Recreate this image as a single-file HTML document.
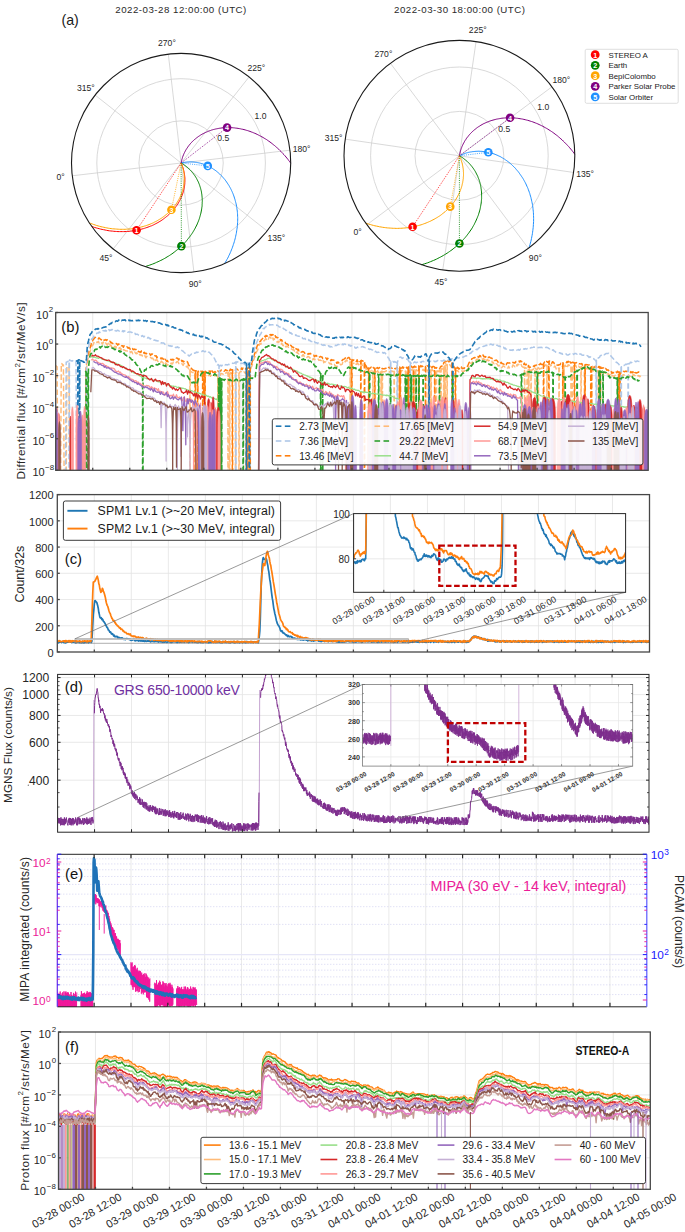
<!DOCTYPE html>
<html><head><meta charset="utf-8"><style>
html,body{margin:0;padding:0;background:#fff;}
svg{display:block;}
text{font-family:"Liberation Sans", sans-serif;}
</style></head><body>
<svg width="685" height="1232" viewBox="0 0 685 1232">
<rect x="0" y="0" width="685" height="1232" fill="#fff"/>
<text x="180.80" y="9.60" font-size="9.7" text-anchor="middle" fill="#2a2a2a" dominant-baseline="central" textLength="131" lengthAdjust="spacing">2022-03-28 12:00:00 (UTC)</text>
<text x="459.50" y="9.60" font-size="9.7" text-anchor="middle" fill="#2a2a2a" dominant-baseline="central" textLength="131" lengthAdjust="spacing">2022-03-30 18:00:00 (UTC)</text>
<text x="61.50" y="19.60" font-size="14.2" text-anchor="start" fill="#1a1a1a" dominant-baseline="central">(a)</text>
<circle cx="181.1" cy="163.0" r="42.15" fill="none" stroke="#cfcfcf" stroke-width="0.8"/>
<circle cx="181.1" cy="163.0" r="84.30" fill="none" stroke="#cfcfcf" stroke-width="0.8"/>
<line x1="181.10" y1="163.00" x2="72.25" y2="175.79" stroke="#cfcfcf" stroke-width="0.8"/>
<line x1="181.10" y1="163.00" x2="113.17" y2="249.01" stroke="#cfcfcf" stroke-width="0.8"/>
<line x1="181.10" y1="163.00" x2="193.89" y2="271.85" stroke="#cfcfcf" stroke-width="0.8"/>
<line x1="181.10" y1="163.00" x2="267.11" y2="230.93" stroke="#cfcfcf" stroke-width="0.8"/>
<line x1="181.10" y1="163.00" x2="289.95" y2="150.21" stroke="#cfcfcf" stroke-width="0.8"/>
<line x1="181.10" y1="163.00" x2="249.03" y2="76.99" stroke="#cfcfcf" stroke-width="0.8"/>
<line x1="181.10" y1="163.00" x2="168.31" y2="54.15" stroke="#cfcfcf" stroke-width="0.8"/>
<line x1="181.10" y1="163.00" x2="95.09" y2="95.07" stroke="#cfcfcf" stroke-width="0.8"/>
<path d="M181.1 163l.9-.2 .9-.2 .9-.1 .9-.2 .9-.1 .9-.1 .9-.1 .9 0 1-.1 .9 0 .9 0 .9 .1 .9 0 1 .1 .9 .1 .9 .1 .9 .1 .9 .2 1 .2 .9 .2 .9 .2 .9 .3 .9 .2 .9 .3 .9 .3 .9 .3 .9 .4 .9 .4 .8 .4 .9 .4 .9 .4 .8 .4 .9 .5 .8 .5 .9 .5 .8 .6 .8 .5 .9 .6 .8 .6 .8 .6 .7 .6 .8 .7 .8 .7 .7 .6 .8 .8 .7 .7 .7 .7 .7 .8 .7 .8 .7 .8 .7 .8 .6 .8 .7 .9 .6 .9 .6 .9 .6 .9 .6 .9 .6 .9 .5 1 .6 1 .5 .9 .5 1 .5 1.1 .5 1 .4 1 .5 1.1 .4 1.1 .4 1.1 .4 1.1 .3 1.1 .4 1.1 .3 1.2 .3 1.1 .3 1.2 .3 1.1 .2 1.2 .3 1.2 .2 1.3 .1 1.2 .2 1.2 .2 1.2 .1 1.3 .1 1.3 .1 1.2 0 1.3 .1 1.3 0 1.3 0 1.3-.1 1.3 0 1.3-.1 1.3-.1 1.4-.1 1.3-.2 1.4-.2 1.3-.2 1.4-.2 1.3-.2 1.4-.3 1.3-.3 1.4-.3 1.4-.3 1.3-.4 1.4-.4 1.4-.4 1.4-.5 1.3-.4 1.4-.5 1.4-.5 1.4-.6 1.3-.5 1.4-.6 1.4-.6 1.4-.7 1.3-.6 1.4-.7 1.4-.8 1.3-.7 1.4-.8 1.3-.8 1.4" fill="none" stroke="#1e90ff" stroke-width="1.0" stroke-linejoin="round"/>
<path d="M181.1 163l.2-.9 .2-.9 .2-.9 .2-.9 .3-.8 .2-.9 .3-.9 .3-.8 .4-.9 .3-.8 .4-.9 .4-.8 .4-.8 .5-.9 .4-.8 .5-.8 .5-.8 .5-.7 .5-.8 .6-.8 .5-.7 .6-.7 .6-.8 .6-.7 .7-.7 .6-.7 .7-.7 .7-.6 .7-.7 .7-.6 .8-.6 .7-.6 .8-.6 .8-.6 .8-.6 .8-.5 .9-.6 .8-.5 .9-.5 .9-.5 .8-.4 1-.5 .9-.4 .9-.4 1-.4 .9-.4 1-.4 1-.3 1-.4 1-.3 1-.3 1-.2 1.1-.3 1-.2 1.1-.2 1-.2 1.1-.2 1.1-.1 1.1-.2 1.1-.1 1.1-.1 1.1 0 1.2-.1 1.1 0 1.2 0 1.1 0 1.2 .1 1.1 0 1.2 .1 1.1 .1 1.2 .2 1.2 .1 1.2 .2 1.2 .2 1.2 .2 1.1 .3 1.2 .2 1.2 .3 1.2 .3 1.2 .4 1.2 .3 1.2 .4 1.2 .4 1.2 .5 1.2 .4 1.2 .5 1.2 .5 1.2 .5 1.2 .6 1.2 .6 1.1 .6 1.2 .6 1.2 .6 1.2 .7 1.1 .7 1.2 .7 1.2 .7 1.1 .8 1.1 .8 1.2 .8 1.1 .8 1.1 .9 1.1 .9 1.2 .9 1 .9 1.1 1 1.1 .9 1.1 1 1 1.1 1.1 1 1 1.1 1 1.1 1.1 1.1 1 1.1 1 1.2 .9 1.1 1 1.2 .9 1.3 1 1.2 .9 1.3" fill="none" stroke="#800080" stroke-width="1.0" stroke-linejoin="round"/>
<path d="M181.1 163l.8 .5 .8 .4 .7 .5 .8 .5 .8 .6 .7 .5 .7 .6 .7 .5 .7 .6 .7 .6 .7 .7 .6 .6 .7 .7 .6 .7 .6 .6 .6 .8 .6 .7 .6 .7 .5 .8 .6 .7 .5 .8 .5 .8 .5 .8 .5 .8 .4 .9 .4 .8 .5 .9 .4 .8 .4 .9 .3 .9 .4 .9 .3 .9 .3 1 .3 .9 .3 1 .2 .9 .3 1 .2 .9 .2 1 .1 1 .2 1 .1 1 .1 1 .1 1.1 .1 1 0 1 .1 1 0 1.1-.1 1 0 1.1-.1 1.1 0 1-.1 1.1-.2 1-.1 1.1-.2 1.1-.2 1.1-.2 1-.2 1.1-.3 1.1-.3 1.1-.3 1.1-.3 1-.3 1.1-.4 1.1-.4 1.1-.4 1.1-.5 1-.4 1.1-.5 1.1-.5 1-.6 1.1-.5 1.1-.6 1-.6 1.1-.6 1-.6 1-.7 1.1-.7 1-.7 1-.7 1-.8 1-.8 1-.8 1-.8 1-.8 1-.9 1-.9 .9-.9 .9-.9 1-1 .9-1 .9-1 .9-1 .9-1 .9-1.1 .8-1.1 .9-1 .8-1.2 .9-1.1 .8-1.2 .8-1.1 .7-1.2 .8-1.3 .7-1.2 .8-1.2 .7-1.3 .7-1.3 .7-1.3 .6-1.4 .7-1.3 .6-1.4 .6-1.3 .6-1.4 .6-1.5 .6-1.4 .5-1.4 .5-1.5 .5-1.5 .5-1.5 .5" fill="none" stroke="#008000" stroke-width="1.0" stroke-linejoin="round"/>
<path d="M181.1 163l.4 .8 .3 .9 .4 .8 .3 .9 .3 .8 .3 .9 .3 .9 .2 .9 .2 .9 .2 .9 .2 .9 .2 .9 .1 .9 .1 .9 .1 .9 .1 .9 .1 1 0 .9 0 .9 0 1 0 .9-.1 .9 0 1-.1 .9-.1 1-.2 .9-.1 1-.2 .9-.2 .9-.2 1-.3 .9-.2 1-.3 .9-.3 .9-.4 .9-.3 1-.4 .9-.4 .9-.4 .9-.4 .9-.5 .9-.5 .9-.5 .9-.5 .9-.5 .9-.6 .8-.6 .9-.6 .8-.6 .9-.6 .8-.7 .8-.7 .9-.7 .8-.7 .8-.7 .8-.8 .7-.8 .8-.8 .8-.8 .7-.8 .7-.9 .7-.9 .7-.9 .7-.9 .7-.9 .7-.9 .6-1 .7-1 .6-1 .6-1 .6-1 .5-1.1 .6-1 .5-1.1 .6-1.1 .5-1.1 .5-1.2 .4-1.1 .5-1.2 .4-1.1 .4-1.2 .4-1.2 .4-1.2 .4-1.3 .3-1.2 .3-1.3 .3-1.2 .3-1.3 .3-1.3 .2-1.3 .2-1.3 .2-1.3 .2-1.3 .2-1.4 .1-1.3 .1-1.4 .1-1.4 .1-1.4 0-1.3 0-1.4 0-1.4 0-1.5 0-1.4-.1-1.4-.1-1.4-.1-1.5-.2-1.4-.1-1.5-.2-1.4-.2-1.5-.3-1.4-.3-1.5-.3-1.5-.3-1.4-.3-1.5-.4-1.5-.4-1.5-.4-1.5-.4-1.4-.5-1.5-.5" fill="none" stroke="#ff0000" stroke-width="1.0" stroke-linejoin="round"/>
<path d="M181.1 163l.3 .8 .4 .9 .3 .9 .3 .8 .2 .9 .3 .9 .2 .9 .2 .9 .2 .9 .2 .9 .1 .9 .2 .9 .1 .9 0 .9 .1 .9 0 1 .1 .9 0 .9-.1 1 0 .9-.1 .9 0 1-.2 .9-.1 .9-.1 1-.2 .9-.2 1-.2 .9-.3 .9-.2 1-.3 .9-.3 .9-.3 .9-.4 .9-.3 1-.4 .9-.4 .9-.4 .9-.5 .9-.5 .9-.4 .8-.6 .9-.5 .9-.5 .8-.6 .9-.6 .8-.6 .9-.7 .8-.6 .8-.7 .8-.7 .8-.7 .8-.7 .8-.8 .8-.8 .7-.7 .8-.9 .7-.8 .7-.8 .7-.9 .7-.9 .7-.9 .7-.9 .6-.9 .7-1 .6-1 .6-1 .6-1 .6-1 .6-1 .5-1.1 .5-1 .6-1.1 .5-1.1 .4-1.1 .5-1.2 .5-1.1 .4-1.2 .4-1.2 .4-1.1 .3-1.2 .4-1.3 .3-1.2 .3-1.2 .3-1.3 .3-1.2 .3-1.3 .2-1.3 .2-1.3 .2-1.3 .2-1.3 .1-1.3 .1-1.4 .1-1.3 .1-1.4 .1-1.3 0-1.4 0-1.4 0-1.4 0-1.4-.1-1.4-.1-1.4-.1-1.4-.1-1.4-.1-1.5-.2-1.4-.2-1.4-.2-1.5-.3-1.4-.3-1.5-.3-1.4-.3-1.5-.3-1.4-.4-1.5-.4-1.4-.4-1.5-.5-1.5-.5-1.4-.5-1.5-.5-1.4-.6" fill="none" stroke="#ffa500" stroke-width="1.0" stroke-linejoin="round"/>
<line x1="181.10" y1="163.00" x2="207.75" y2="165.90" stroke="#1e90ff" stroke-width="0.8" stroke-dasharray="1,1.2"/>
<line x1="181.10" y1="163.00" x2="227.05" y2="127.61" stroke="#800080" stroke-width="0.8" stroke-dasharray="1,1.2"/>
<line x1="181.10" y1="163.00" x2="181.39" y2="246.12" stroke="#008000" stroke-width="0.8" stroke-dasharray="1,1.2"/>
<line x1="181.10" y1="163.00" x2="136.57" y2="230.27" stroke="#ff0000" stroke-width="0.8" stroke-dasharray="1,1.2"/>
<line x1="181.10" y1="163.00" x2="171.42" y2="209.72" stroke="#ffa500" stroke-width="0.8" stroke-dasharray="1,1.2"/>
<circle cx="181.1" cy="163.0" r="109.6" fill="none" stroke="#1a1a1a" stroke-width="1.1"/>
<circle cx="207.75" cy="165.90" r="4.3" fill="#1e90ff"/>
<text x="207.75" y="166.20" font-size="7.2" text-anchor="middle" fill="#fff" dominant-baseline="central" font-weight="bold">5</text>
<circle cx="227.05" cy="127.61" r="4.3" fill="#800080"/>
<text x="227.05" y="127.91" font-size="7.2" text-anchor="middle" fill="#fff" dominant-baseline="central" font-weight="bold">4</text>
<circle cx="181.39" cy="246.12" r="4.3" fill="#008000"/>
<text x="181.39" y="246.42" font-size="7.2" text-anchor="middle" fill="#fff" dominant-baseline="central" font-weight="bold">2</text>
<circle cx="171.42" cy="209.72" r="4.3" fill="#ffa500"/>
<text x="171.42" y="210.02" font-size="7.2" text-anchor="middle" fill="#fff" dominant-baseline="central" font-weight="bold">3</text>
<circle cx="136.57" cy="230.27" r="4.3" fill="#ff0000"/>
<text x="136.57" y="230.57" font-size="7.2" text-anchor="middle" fill="#fff" dominant-baseline="central" font-weight="bold">1</text>
<text x="60.63" y="177.45" font-size="8.6" text-anchor="middle" fill="#262626" dominant-baseline="central">0°</text>
<text x="105.92" y="258.49" font-size="8.6" text-anchor="middle" fill="#262626" dominant-baseline="central">45°</text>
<text x="195.25" y="283.77" font-size="8.6" text-anchor="middle" fill="#262626" dominant-baseline="central">90°</text>
<text x="276.29" y="238.48" font-size="8.6" text-anchor="middle" fill="#262626" dominant-baseline="central">135°</text>
<text x="301.57" y="149.15" font-size="8.6" text-anchor="middle" fill="#262626" dominant-baseline="central">180°</text>
<text x="256.28" y="68.11" font-size="8.6" text-anchor="middle" fill="#262626" dominant-baseline="central">225°</text>
<text x="166.95" y="42.83" font-size="8.6" text-anchor="middle" fill="#262626" dominant-baseline="central">270°</text>
<text x="85.91" y="88.12" font-size="8.6" text-anchor="middle" fill="#262626" dominant-baseline="central">315°</text>
<text x="223.30" y="137.90" font-size="8.6" text-anchor="middle" fill="#262626" dominant-baseline="central">0.5</text>
<text x="260.50" y="116.30" font-size="8.6" text-anchor="middle" fill="#262626" dominant-baseline="central">1.0</text>
<circle cx="459.4" cy="155.8" r="44.40" fill="none" stroke="#cfcfcf" stroke-width="0.8"/>
<circle cx="459.4" cy="155.8" r="88.80" fill="none" stroke="#cfcfcf" stroke-width="0.8"/>
<line x1="459.40" y1="155.80" x2="366.88" y2="224.77" stroke="#cfcfcf" stroke-width="0.8"/>
<line x1="459.40" y1="155.80" x2="442.74" y2="269.99" stroke="#cfcfcf" stroke-width="0.8"/>
<line x1="459.40" y1="155.80" x2="528.37" y2="248.32" stroke="#cfcfcf" stroke-width="0.8"/>
<line x1="459.40" y1="155.80" x2="573.59" y2="172.46" stroke="#cfcfcf" stroke-width="0.8"/>
<line x1="459.40" y1="155.80" x2="551.92" y2="86.83" stroke="#cfcfcf" stroke-width="0.8"/>
<line x1="459.40" y1="155.80" x2="476.06" y2="41.61" stroke="#cfcfcf" stroke-width="0.8"/>
<line x1="459.40" y1="155.80" x2="390.43" y2="63.28" stroke="#cfcfcf" stroke-width="0.8"/>
<line x1="459.40" y1="155.80" x2="345.21" y2="139.14" stroke="#cfcfcf" stroke-width="0.8"/>
<path d="M459.4 155.8l.9-.4 .8-.4 .9-.4 .9-.4 .9-.3 .9-.4 .9-.3 .9-.3 1-.2 .9-.3 1-.2 .9-.2 1-.1 .9-.2 1-.1 1-.1 .9-.1 1-.1 1 0 1-.1 1 0 1 .1 1 0 1 .1 1 .1 1 .1 .9 .1 1 .2 1 .1 1 .2 1 .3 1 .2 1 .3 1 .3 1 .3 1 .3 1 .4 .9 .4 1 .4 1 .4 .9 .5 1 .4 1 .5 .9 .6 .9 .5 1 .6 .9 .5 .9 .7 .9 .6 .9 .6 .9 .7 .9 .7 .9 .7 .8 .7 .9 .8 .8 .8 .8 .8 .9 .8 .8 .8 .8 .9 .7 .9 .8 .9 .8 .9 .7 .9 .7 1 .7 1 .7 1 .7 1 .7 1 .7 1.1 .6 1 .6 1.1 .6 1.1 .6 1.1 .6 1.2 .5 1.1 .5 1.2 .6 1.2 .5 1.2 .4 1.2 .5 1.2 .4 1.3 .5 1.3 .3 1.2 .4 1.3 .4 1.3 .3 1.4 .3 1.3 .3 1.4 .3 1.3 .3 1.4 .2 1.4 .2 1.4 .2 1.4 .1 1.4 .2 1.4 .1 1.5 .1 1.4 0 1.5 .1 1.5 0 1.4 0 1.5 0 1.5-.1 1.5-.1 1.5-.1 1.6-.1 1.5-.2 1.5-.2 1.6-.2 1.5-.2 1.5-.3 1.6-.3 1.6-.3 1.5-.3 1.6-.4 1.6-.4 1.5-.4 1.6-.5 1.6-.4 1.5" fill="none" stroke="#1e90ff" stroke-width="1.0" stroke-linejoin="round"/>
<path d="M459.4 155.8l.2-.9 .2-1 .2-.9 .2-1 .2-.9 .3-.9 .3-.9 .3-.9 .4-1 .3-.9 .4-.8 .4-.9 .4-.9 .5-.9 .5-.8 .4-.9 .5-.8 .6-.8 .5-.9 .6-.8 .6-.8 .6-.7 .6-.8 .6-.8 .7-.7 .7-.8 .7-.7 .7-.7 .7-.7 .8-.7 .8-.7 .8-.6 .8-.6 .8-.7 .8-.6 .9-.6 .9-.5 .8-.6 .9-.5 1-.6 .9-.5 .9-.5 1-.4 1-.5 1-.4 1-.4 1-.4 1-.4 1.1-.4 1-.3 1.1-.3 1.1-.3 1.1-.3 1.1-.3 1.1-.2 1.1-.2 1.2-.2 1.1-.2 1.1-.2 1.2-.1 1.2-.1 1.2-.1 1.1-.1 1.2 0 1.2 0 1.3 0 1.2 0 1.2 .1 1.2 0 1.3 .1 1.2 .2 1.2 .1 1.3 .2 1.2 .2 1.3 .2 1.2 .2 1.3 .3 1.3 .3 1.2 .3 1.3 .3 1.3 .4 1.2 .4 1.3 .4 1.3 .4 1.2 .5 1.3 .5 1.3 .5 1.2 .5 1.3 .6 1.2 .6 1.3 .6 1.3 .6 1.2 .7 1.2 .7 1.3 .7 1.2 .7 1.2 .8 1.3 .8 1.2 .8 1.2 .8 1.2 .9 1.2 .9 1.2 .9 1.2 .9 1.1 1 1.2 1 1.1 1 1.2 1 1.1 1.1 1.1 1.1 1.1 1.1 1.1 1.1 1.1 1.2 1.1 1.1 1 1.2 1.1 1.3 1 1.2 1 1.3 1 1.3 1 1.3" fill="none" stroke="#800080" stroke-width="1.0" stroke-linejoin="round"/>
<path d="M459.4 155.8l.8 .5 .9 .5 .8 .5 .8 .5 .8 .6 .7 .6 .8 .6 .7 .6 .8 .6 .7 .6 .7 .7 .7 .7 .7 .7 .6 .7 .7 .7 .6 .8 .6 .7 .6 .8 .6 .8 .6 .8 .5 .8 .6 .9 .5 .8 .5 .9 .4 .9 .5 .9 .4 .9 .5 .9 .4 .9 .3 1 .4 .9 .4 1 .3 .9 .3 1 .3 1 .2 1 .3 1.1 .2 1 .2 1 .2 1.1 .1 1 .2 1.1 .1 1 .1 1.1 .1 1.1 0 1.1 0 1.1 0 1.1 0 1.1 0 1.1-.1 1.1-.1 1.1-.1 1.1-.1 1.2-.2 1.1-.2 1.1-.2 1.2-.2 1.1-.2 1.1-.3 1.2-.3 1.1-.3 1.1-.4 1.2-.3 1.1-.4 1.2-.5 1.1-.4 1.1-.5 1.1-.5 1.2-.5 1.1-.5 1.1-.6 1.1-.5 1.2-.7 1.1-.6 1.1-.6 1.1-.7 1.1-.7 1.1-.8 1-.7 1.1-.8 1.1-.8 1-.8 1.1-.8 1-.9 1.1-.9 1-.9 1-1 1-.9 1-1 1-1 .9-1 1-1.1 .9-1 1-1.1 .9-1.2 .9-1.1 .9-1.1 .9-1.2 .8-1.2 .9-1.2 .8-1.3 .9-1.3 .8-1.2 .7-1.3 .8-1.4 .8-1.3 .7-1.4 .7-1.3 .7-1.4 .7-1.5 .7-1.4 .6-1.5 .6-1.4 .6-1.5 .6-1.5 .6-1.6 .5-1.5 .5-1.6 .5-1.5 .5" fill="none" stroke="#008000" stroke-width="1.0" stroke-linejoin="round"/>
<path d="M459.4 155.8l.4 .9 .4 .9 .4 .8 .3 .9 .3 1 .3 .9 .3 .9 .3 .9 .2 1 .2 .9 .2 .9 .2 1 .1 1 .2 .9 .1 1 .1 1 0 .9 .1 1 0 1 0 1 0 1-.1 1-.1 1 0 1-.2 1-.1 1-.2 .9-.1 1-.3 1-.2 1-.2 1-.3 1-.3 1-.3 1-.4 .9-.3 1-.4 1-.4 1-.5 .9-.4 1-.5 .9-.5 1-.5 .9-.5 .9-.6 1-.6 .9-.6 .9-.6 .9-.7 .9-.7 .9-.7 .8-.7 .9-.7 .9-.8 .8-.7 .8-.8 .8-.9 .9-.8 .8-.9 .7-.8 .8-.9 .8-1 .7-.9 .7-.9 .8-1 .7-1 .7-1 .6-1.1 .7-1 .6-1.1 .6-1.1 .7-1.1 .5-1.1 .6-1.1 .6-1.2 .5-1.1 .5-1.2 .5-1.2 .5-1.3 .5-1.2 .4-1.2 .5-1.3 .4-1.3 .4-1.3 .3-1.3 .4-1.3 .3-1.3 .3-1.4 .3-1.3 .2-1.4 .3-1.4 .2-1.3 .2-1.5 .1-1.4 .2-1.4 .1-1.4 .1-1.5 .1-1.4 0-1.5 .1-1.5 0-1.4-.1-1.5 0-1.5-.1-1.5-.1-1.5-.1-1.5-.1-1.6-.2-1.5-.2-1.5-.2-1.6-.3-1.5-.2-1.5-.4-1.6-.3-1.6-.3-1.5-.4-1.6-.4-1.5-.5-1.6-.4-1.6-.5-1.5-.5" fill="none" stroke="#ffa500" stroke-width="1.0" stroke-linejoin="round"/>
<line x1="459.40" y1="155.80" x2="488.32" y2="152.30" stroke="#1e90ff" stroke-width="0.8" stroke-dasharray="1,1.2"/>
<line x1="459.40" y1="155.80" x2="510.03" y2="117.78" stroke="#800080" stroke-width="0.8" stroke-dasharray="1,1.2"/>
<line x1="459.40" y1="155.80" x2="459.40" y2="243.53" stroke="#008000" stroke-width="0.8" stroke-dasharray="1,1.2"/>
<line x1="459.40" y1="155.80" x2="412.62" y2="226.75" stroke="#ff0000" stroke-width="0.8" stroke-dasharray="1,1.2"/>
<line x1="459.40" y1="155.80" x2="450.25" y2="206.66" stroke="#ffa500" stroke-width="0.8" stroke-dasharray="1,1.2"/>
<circle cx="459.4" cy="155.8" r="115.4" fill="none" stroke="#1a1a1a" stroke-width="1.1"/>
<circle cx="488.32" cy="152.30" r="4.3" fill="#1e90ff"/>
<text x="488.32" y="152.60" font-size="7.2" text-anchor="middle" fill="#fff" dominant-baseline="central" font-weight="bold">5</text>
<circle cx="510.03" cy="117.78" r="4.3" fill="#800080"/>
<text x="510.03" y="118.08" font-size="7.2" text-anchor="middle" fill="#fff" dominant-baseline="central" font-weight="bold">4</text>
<circle cx="459.40" cy="243.53" r="4.3" fill="#008000"/>
<text x="459.40" y="243.83" font-size="7.2" text-anchor="middle" fill="#fff" dominant-baseline="central" font-weight="bold">2</text>
<circle cx="450.25" cy="206.66" r="4.3" fill="#ffa500"/>
<text x="450.25" y="206.96" font-size="7.2" text-anchor="middle" fill="#fff" dominant-baseline="central" font-weight="bold">3</text>
<circle cx="412.62" cy="226.75" r="4.3" fill="#ff0000"/>
<text x="412.62" y="227.05" font-size="7.2" text-anchor="middle" fill="#fff" dominant-baseline="central" font-weight="bold">1</text>
<text x="357.49" y="232.06" font-size="8.6" text-anchor="middle" fill="#262626" dominant-baseline="central">0°</text>
<text x="441.05" y="281.87" font-size="8.6" text-anchor="middle" fill="#262626" dominant-baseline="central">45°</text>
<text x="535.36" y="258.01" font-size="8.6" text-anchor="middle" fill="#262626" dominant-baseline="central">90°</text>
<text x="585.17" y="174.45" font-size="8.6" text-anchor="middle" fill="#262626" dominant-baseline="central">135°</text>
<text x="561.31" y="80.14" font-size="8.6" text-anchor="middle" fill="#262626" dominant-baseline="central">180°</text>
<text x="477.75" y="30.33" font-size="8.6" text-anchor="middle" fill="#262626" dominant-baseline="central">225°</text>
<text x="383.44" y="54.19" font-size="8.6" text-anchor="middle" fill="#262626" dominant-baseline="central">270°</text>
<text x="333.63" y="137.75" font-size="8.6" text-anchor="middle" fill="#262626" dominant-baseline="central">315°</text>
<text x="504.30" y="129.20" font-size="8.6" text-anchor="middle" fill="#262626" dominant-baseline="central">0.5</text>
<text x="543.30" y="107.00" font-size="8.6" text-anchor="middle" fill="#262626" dominant-baseline="central">1.0</text>
<rect x="585.2" y="49.3" width="93" height="54" rx="1.5" fill="#fff" stroke="#d6d6d6" stroke-width="0.8"/>
<circle cx="595.2" cy="54.7" r="4.4" fill="#ff0000"/>
<text x="595.20" y="55.00" font-size="7.2" text-anchor="middle" fill="#fff" dominant-baseline="central" font-weight="bold">1</text>
<text x="608.40" y="55.00" font-size="7.9" text-anchor="start" fill="#1a1a1a" dominant-baseline="central">STEREO A</text>
<circle cx="595.2" cy="65.3" r="4.4" fill="#008000"/>
<text x="595.20" y="65.60" font-size="7.2" text-anchor="middle" fill="#fff" dominant-baseline="central" font-weight="bold">2</text>
<text x="608.40" y="65.60" font-size="7.9" text-anchor="start" fill="#1a1a1a" dominant-baseline="central">Earth</text>
<circle cx="595.2" cy="75.7" r="4.4" fill="#ffa500"/>
<text x="595.20" y="76.00" font-size="7.2" text-anchor="middle" fill="#fff" dominant-baseline="central" font-weight="bold">3</text>
<text x="608.40" y="76.00" font-size="7.9" text-anchor="start" fill="#1a1a1a" dominant-baseline="central">BepiColombo</text>
<circle cx="595.2" cy="86.3" r="4.4" fill="#800080"/>
<text x="595.20" y="86.60" font-size="7.2" text-anchor="middle" fill="#fff" dominant-baseline="central" font-weight="bold">4</text>
<text x="608.40" y="86.60" font-size="7.9" text-anchor="start" fill="#1a1a1a" dominant-baseline="central">Parker Solar Probe</text>
<circle cx="595.2" cy="96.8" r="4.4" fill="#1e90ff"/>
<text x="595.20" y="97.10" font-size="7.2" text-anchor="middle" fill="#fff" dominant-baseline="central" font-weight="bold">5</text>
<text x="608.40" y="97.10" font-size="7.9" text-anchor="start" fill="#1a1a1a" dominant-baseline="central">Solar Orbiter</text>
<line x1="92.73" y1="312.50" x2="92.73" y2="470.30" stroke="#e3e3e3" stroke-width="0.8"/>
<line x1="129.76" y1="312.50" x2="129.76" y2="470.30" stroke="#e3e3e3" stroke-width="0.8"/>
<line x1="166.79" y1="312.50" x2="166.79" y2="470.30" stroke="#e3e3e3" stroke-width="0.8"/>
<line x1="203.82" y1="312.50" x2="203.82" y2="470.30" stroke="#e3e3e3" stroke-width="0.8"/>
<line x1="240.86" y1="312.50" x2="240.86" y2="470.30" stroke="#e3e3e3" stroke-width="0.8"/>
<line x1="277.89" y1="312.50" x2="277.89" y2="470.30" stroke="#e3e3e3" stroke-width="0.8"/>
<line x1="314.92" y1="312.50" x2="314.92" y2="470.30" stroke="#e3e3e3" stroke-width="0.8"/>
<line x1="351.95" y1="312.50" x2="351.95" y2="470.30" stroke="#e3e3e3" stroke-width="0.8"/>
<line x1="388.98" y1="312.50" x2="388.98" y2="470.30" stroke="#e3e3e3" stroke-width="0.8"/>
<line x1="426.01" y1="312.50" x2="426.01" y2="470.30" stroke="#e3e3e3" stroke-width="0.8"/>
<line x1="463.04" y1="312.50" x2="463.04" y2="470.30" stroke="#e3e3e3" stroke-width="0.8"/>
<line x1="500.07" y1="312.50" x2="500.07" y2="470.30" stroke="#e3e3e3" stroke-width="0.8"/>
<line x1="537.11" y1="312.50" x2="537.11" y2="470.30" stroke="#e3e3e3" stroke-width="0.8"/>
<line x1="574.14" y1="312.50" x2="574.14" y2="470.30" stroke="#e3e3e3" stroke-width="0.8"/>
<line x1="611.17" y1="312.50" x2="611.17" y2="470.30" stroke="#e3e3e3" stroke-width="0.8"/>
<line x1="55.70" y1="344.06" x2="648.20" y2="344.06" stroke="#e3e3e3" stroke-width="0.8"/>
<line x1="55.70" y1="375.62" x2="648.20" y2="375.62" stroke="#e3e3e3" stroke-width="0.8"/>
<line x1="55.70" y1="407.18" x2="648.20" y2="407.18" stroke="#e3e3e3" stroke-width="0.8"/>
<line x1="55.70" y1="438.74" x2="648.20" y2="438.74" stroke="#e3e3e3" stroke-width="0.8"/>
<clipPath id="bmain"><rect x="55.7" y="312.5" width="592.5" height="157.8"/></clipPath>
<g clip-path="url(#bmain)">
<path d="M55.7 365.4l.7 1.1 .7 .1 .7 106.6 .7 .1 .7-1.3 .7-.2 .7 2 .7-110.4 .7 .3 .7 2.1 .7-.9 .7 108.9 .7-.9 .7 .4 .7-1.1 .7-105.8 .7 .8 .7-.5 .7 .8 .7 84.7 .7 19.8 .7 1.6 .7-.4 .7-.7 .7-.6 .7 2 .7-1 .7 .6 .7 .4 .7-.4 .7 .5 .7-1.3 .7 1 .7-.8 .7 1.1 .7-.1 .7-1.9 .7 .1 .7 .2 .7 1.8 .7-1.3 .7 .5 .7-61.7 .7-43.2 .7-4.6 .7-4.4 .7-3 .7-2.4 .7-1.7 .7-3 .7-1.9 .7-1.8 .7-.4 .7-1.5 .7-1.9 .7 1 .7-.1 .7-.1 .7-.6 .7 .4 .7-1.1 .7 1.7 .7-.5 .7-.6 .7-.4 .7 2.1 .7 .5 .7-2 .7 1.9 .7-.8 .7-.4 .7 .5 .7 1.3 .7 .5 .7-1.8 .7 1.7 .7-1.1 .7 1.9 .7-.6 .7 1.6 .7 .5 .7-.9 .7 1.5 .7-1.4 .7-.3 .7 1.6 .7-1.1 .7 .6 .7 .7 .7 .7 .7-.9 .7-.1 .7 2.2 .7-1.1 .7 1.7 .7 .1 .7-1 .7 .4 .7 .3 .7 .5 .7 .1 .7 .1 .7 .4 .7 1 .7-.9 .7 .1 .7 .9 .7-1 .7 .4 .7 1.8 .7-.9 .7 .3 .7-1.1 .7 1.2 .7 .6 .7-1.1 .7 1.6 .7 .2 .7-1.1 .7 1.5 .7-.1 .7 .7 .7-.6 .7 1.1 .7 .3 .7-1.5 .7 .3 .7 1.7 .7 .9 .7-1.5 .7 .7 .7 .5 .7-.4 .7 .3 .7 .1 .7 .3 .7 .8 .7-.4 .7 .4 .7 1.3 .7-1.5 .7 1.6 .7 .6 .7-.7 .7 .1 .7 1.6 .7-1 .7 .1 .7 .9 .7 .9 .7-1.2 .7 .8 .7 .3 .7 1.5 .7-.7 .7 1.2 .7-1.4 .7 .7 .7 1 .7 .6 .7-1 .7-.6 .7-.2 .7 .7 .7-1.1 .7 1.1 .7-.3 .7-1.9 .7-.1 .7 .9 .7-.6 .7 .6 .7-.9 .7-.3 .7 .6 .7 1.5 .7-1 .7 .4 .7 .4 .7 .3 .7 .2 .7 1.5 .7-1.6 .7 0 .7 2.5 .7 .1 .7 .5 .7-1 .7 1.9 .7 .9 .7-.8 .5 1.3 0 103.8 .3 0 0-103.8-.1 .9 .7 1.2 .7 .5 .7 .6 .7 .2 .7 .5 .7 0 .7 0 .2 1.1 0 98.8 .4 0 0-98.8 .1 .5 .7-.4 .7 1.5 .7-1.5 .7 2.2 .7-.5 .7 .5 .7 0 .7 0 .7-.8 .7-1.4 .7 1.8 .4-.6 0 97.5 .3 0 0-97.5 0-.8 .7 .3 .7 .9 .7-.3 .7-.3 .7 1.3 .7-.8 .7-.7 .7-.2 .7 1.4 .7-1 .7 .7 .7-1.1 .7-.4 .7 .7 .7 .6 .7-1.6 .7 1.4 .7 .2 .7-.3 .4-.8 0 98.3 .3 0 0-98.3-.1 0 0 98.3 .4 0 0-98.3-.3 .8 .7-2.1 .7 1.5 .7 .5 .7-2.1 .7 .5 .7-.1 .7 .6 .7-.4 .7 .1 .7 .7 .7-2 .7 .1 .7 .1 .7 .8 0 99.3 .3 0 0-99.3-.3-.9 .7-.2 .7 2.1 .2-1.2 0 99.5 .4 0 0-99.5 .1 .9 .7-2 .7 1 .7-.6 .7 0 .7 0 .7 .6 .7-.2 .5-.2 0 100 .3 0 0-100-.2 0 0 100 .3 0 0-100-.2-.4 .7-.5 .7 .3 .7-.6 .7 1 .5-.2 0 100.4 .3 0 0-100.4-.1 .5 .7-.9 .7-.8 .7 .2 .7 .4 .7 .5 .7 .3 .7-1 .7 1 .7-.5 .3-.4 0 101.1 .3 0 0-101.1 .1-.2 .7-.2 .2 .3 0 101.2 .4 0 0-101.2 .1-.1 .7 .5 .1-.5 0 101.3 .4 0 0-101.3-.3 0 0 101.3 .3 0 0-101.3 .2-.3 .7 .6 .7-1.5 .7-2.7 .7-1.4 .7-1.8 .7-3.6 .7-1.3 .7-2.1 .7-1.1 .7-1.9 .7-3.1 .7-.5 .7-2 .7-3.1 .7-1.1 .7-1.5 .7 1 .7-1.1 .7-.1 .7-.9 .7-1 .7-.5 .7-.9 .7-1.3 .7 .9 .7-1.6 .7 .1 .7 1.2 .7-2 .7-.1 .7 .3 .7 2.1 .7-1.4 .7-.2 .7 2.2 .7-1.5 .7 2 .7 0 .7 .8 .7 .7 .7-.4 .7 .9 .7-1.4 .7 2.2 .7-.1 .7 .9 .7-1 .7 1.9 .7 .8 .7-1.7 .7 1 .7 1 .7 1 .7-1 .7 .2 .7 .6 .7 1.2 .7 .7 .7-.4 .7 .3 .7 .4 .7 .3 .7 .6 .7-.4 .7 1.4 .7 1.5 .7-1 .7 1.2 .7-1 .7 1.7 .7 .5 .7 .2 .7 0 .7 .4 .7 .7 .7 1 .7-1.4 .7 0 .7 1.8 .7 .7 .7-.8 .7 .1 .7 .8 .7-1 .7 .4 .7 .1 .7 1.1 .7-.4 .7 0 .7 1.3 .7 .9 .7-1.4 .7 1.2 .7-.5 .7 1.3 .7-.4 .7-.6 .7 0 .7-.3 .7 1.3 .7-.1 .7-.4 .7 .7 .7 0 .7 1.3 .7-1.4 .7 2.2 .7-1.1 .7 .4 .7-.1 .7 1 .7 .1 .7-.4 .7-.1 .7 .9 .7 .6 .7-.8 .7 1 .7 .9 .7-.9 .7-.3 .7 .3 .7 1.4 .7 .2 .7 .9 .7 .1 .7-1.4 .7-.6 .7-.3 .7-.6 .7 .9 .7-.1 .7-.3 .7-2 .7 1 .7-1.7 .7-.2 .7 .3 .7-1.9 .7 .2 .7 2 .7-1 .7 .4 .7 .8 .4 0 0 110.7 .3 0 0-110.7 0 .6 .7-1.4 .7 1.1 .7 .5 .7 .4 .7-.4 .7 1.2 .7 1.1 .7-1.4 .7 .4 .7-1 .7 .4 .7 .9 .7-1.3 .7 1.8 .7 .1 .7-2 .7 2.1 .7-1.4 .7 1 .7 1.1 .7 .3 .7 2.3 .7 1.4 .7 1.7 .7-1.1 .7 1.2 .7 .5 .7-.6 .7-.4 .7-1 .7 1 .7 0 0 101.6 .3 0 0-101.6-.3-.4 .7 .9 .7-.1 .7-.2 .7-.9 .7 1.1 .7 0 .7-1.1 .7 1.7 .7-.5 .7-1.3 .7 1.9 .4-1 0 101.5 .3 0 0-101.5 0-.9 .1 .9 0 101.5 .4 0 0-101.5 .2-.4 .3 .4 0 101.5 .3 0 0-101.5 .1 .5 .7-.3 .7-.1 .7 .3 .7-.5 .7-.4 .7-.3 .7-.2 .7 1.5 .7 .1 .7-.5 .7 .5 .7-.9 .7-.3 .7 .3 .7 1.2 .7-2 .2 1.1 0 101.5 .4 0 0-101.5 .1 0 .7-.6 .7 1.2 .7-1 .7 0 .7 .2 .7 .3 .2-.1 0 101.5 .3 0 0-101.5 .2 .7 .7-1.1 .7 1.2 .7-1.9 .7 .3 .7-.5 .7 0 .7 1.5 .7-.2 .5-.5 0 102 .3 0 0-102-.1-.8 .7-.1 .7 .5 .1 .2 0 102.2 .4 0 0-102.2 .2 .5 .7 .1 .7-.2 .7-.5 .7-1.1 .7 .5 .7-.5 .7 .7 .7 0 .1-.2 0 102.9 .4 0 0-102.9 .2-.7 .7 0 .5 .6 0 103 .4 0 0-103-.2 .6 .7-1.8 .7 1.7 .7 .2 .7 0 .7-1.4 .7 .4 .7 0 .7 .2 .7 .9 .7-.6 .7-.9 .7 1.4 .7-.8 .7 .3 .7 .4 .7-1.7 .7 1.9 .7-.2 .1-.4 0 102.8 .4 0 0-102.8 .2 .1 .7 .1 .7-.1 .3 .1 0 102.6 .3 0 0-102.6 .1-.7 0 .8 0 102.5 .4 0 0-102.5 .3 .1 .7-1.1 .7 1.2 .7 .4 .7-.5 .7 .4 .7 1 .3-1.1 0 102.1 .4 0 0-102.1 0 1 .7-1.7 .7 1.6 .7-.4 .7-1.3 .3 1.1 0 101.8 .4 0 0-101.8 0-.3 .7-.8 .2 .4 0 102.5 .3 0 0-102.5 .2-1.7 .7 .2 .7 0 .7-2.4 .1 .2 0 106.2 .4 0 0-106.2 .2 .1 .4-1.4 0 107.5 .4 0 0-107.5-.2-.3 0 107.8 .3 0 0-107.8-.2 .4 .1-.6 0 108 .4 0 0-108 .2-1.6 .7 1.9 .7-.7 0 108.4 .3 0 0-108.4-.3 .2 .7 .9 .7-.4 .7 .2 .7-.8 .7 1.2 .7 .9 .7 .9 .7 0 .7 1.9 .7 .4 .7 .1 .7 .3 .7 .1 .7 .2 .7-.1 .7 .8 .7 .5 .7-.4 .7-.3 .7 .6 .7-.9 .7 .4 .7 .7 .7-.9 .7-.5 .7 1.7 .7-.5 .7-.8 .7-1.4 .7-1 .7-1.3 .7-2.3 .7-1.9 .7 0 .7 .9 .7-2 .7 .3 .7-1.1 .7-.4 .7-.6 .7 .3 .7-.8 .7-.5 .7 0 .7 0 .7 .6 .7-1.2 .7-.3 .7 .8 .7-.2 .7 .7 .7-1.3 .7 1 .7 .2 .7-.7 .7 2.5 .7-1.6 .7 0 .7 1.1 .7-.5 .7 1.3 .7-.5 .7-.3 .7 .2 .7 1.9 .7-.7 .7 1.6 .7-.4 .7 1.4 .7-1.1 .7 .2 .7 .4 .7 1.7 .7-.1 .7-.4 .7-.3 .7 1.7 .7 .9 .7-.7 .7-1.2 .7 .3 .7 .4 .7 .4 .7-.5 .7-.1 .7 1.3 .7 .4 .7-1.9 .7 1.7 .7-1.3 .7 .6 .7 .1 .7-.1 .7-2.3 .7 .5 .7 .6 .7 .7 .7-2.2 .7 .4 .7 1.2 .7-1.9 .7 .5 .7-.2 .7 .7 .7 .8 .7-1.4 .7 1.8 .7 .4 .7 .7 .7-.3 .5 .2 0 105.6 .3 0 0-105.6-.1 1.1 .7-.9 .7 .6 .7-.1 .2 .8 0 104.1 .3 0 0-104.1 .2 1 .7-.3 .2 .1 0 103.3 .3 0 0-103.3 0 .2 0 103.1 .3 0 0-103.1-.1-.4 .7 .1 .7 1.2 .6-.7 0 102.9 .3 0 0-102.9-.2 .3 .7 .1 .7-1 .7 .1 .7-.9 .7 1.2 .4-.6 0 103.7 .3 0 0-103.7 0-1.2 .7 .9 .7 .6 .7-.3 .7-1.6 .1 1 0 104.3 .4 0 0-104.3 .2-.8 .7 1.3 .7-.8 .7 .3 .7-.3 .7-1.3 .7 .8 .7-.7 .7-1.2 .7-.2 .7-1 .7 .5 .4 .1 0 107.6 .3 0 0-107.6 0 1 .7-2.4 .7 .9 .7-.9 .7 .3 .7 1.6 .7-.7 .7-.2 .7 .5 .7 1.5 .7 .1 .7-1.1 .7 .9 .7 2 .7-1.5 .7 1.1 .7-.3 .6 0 0 104.8 .3 0 0-104.8-.2 .7 .7-.7 .7 .3 .7-.8 .7-1.1 .7-.2 .7-.5 .7 .8 0 106.3 .3 0 0-106.3-.3 .8 .7-1.9 .7-.4 .7 2 .7-2 .7 1.4 .7-1.8 .7 .9 .7-.5 .7 1.6 .7-.5 0-.3 0 107 .4 0 0-107 .3 .4 .4-.3 0 106.9 .4 0 0-106.9-.1 .7 .7 .3 .7-1.2 .7 .7 .7-.3 .7-.7 .7 1.8 .7-.5 .7 .6 .7-1.3 .7 1 .7-.1 .7 .8 .2-.5 0 105.6 .3 0 0-105.6 .2-.9 .7 .8 .7 .4 .7-.8 .7 1.3 .1-.1 0 104.9 .4 0 0-104.9 .2 .7 .7-.6 .7 .6 .7 .1 .7-.8 .7 .4 .7 1.7 .7-1.4 .7 .4 .7-.7 .7 .4 .7 0 .7 2 .7-.3 .7 .5 .7 .4 .7-.8 .7 .9 .7-.8 .6 0 0 102.2 .4 0 0-102.2-.3-.1 .7 1.4 .7 0 .7 .3 .7-1 .7 .8 .7-.7 .7 1.5 .7 0 .7-1.4 .7 1.7 .7-1.4 .7 .2 .7 2 .7-.6 .7 1 .7 .8 .7-1 .7 2.2 .7-1 .7 .4 .7-.3 .7 .9 .7 0 .7-1.2 .7-.5 .7 .5 .7 .2 .7-.9 .7 .2 .7 1.4 0-.6 0 97.4 .4 0 0-97.4 .3 .4 .7 .6 .7 .1 .7-.3 .7-1.2 .7-.5 .7 .3 .7 .4 .7 .2 .7 0 .7-.4 .7 1.1 .7-1.3 .7 .4 .7 1 .7-.2 .7-1.2 .7-.1 .7 1.3 .7-1.9 .7 .3 .7 1 .7 0 .7-.9 .7-.3 .7 .4 .7 1.3 .7-.7 .7 1.3 .7-.5 .7 .5" fill="none" stroke="#ffbb78" stroke-width="1.45" stroke-linejoin="round" stroke-dasharray="5.6,2.7"/>
<path d="M85.5 472.5l.7-106.5 .7-3.8 .7-4.8 .7-4.5 .7-1.8 .7-1.4 .7-2.7 .7-2.5 .7-3.6 .7 0 .7-1.2 .7-1 .7-.8 .7-.5 .7 1.6 .7-.1 .7 .1 .7 .1 .7-1.1 .7 .3 .7 .8 .7 .4 .7 .4 .7 .2 .7-1.4 .7 1.2 .7 .3 .7-.1 .7-.5 .7 .8 .7-.6 .7 1.9 .7 .1 .7-.3 .7-.2 .7 1.5 .7-.4 .7 .9 .7 .2 .7-.4 .7 .1 .7 .6 .7 0 .7-.3 .7 .5 .7 1.2 .7-1.3 .7 .2 .7 1.4 .7-.5 .7 .7 .7 .1 .7-.1 .7 1.6 .7-1.4 .7 .6 .7-.2 .7 1.1 .7-.5 .7 .3 .7 1 .7-.6 .7 .7 .7 .9 .7-1.4 .7 .1 .7 .5 .7 1.3 .7-.1 .7-.5 .7 .4 .7-.1 .7 .7 .7-.6 .7 1.5 .7 .6 .7 .4 .7-.3 .7 .7 .7-1.7 .7 .8 .7 1.5 .7-.1 .7-.6 .7 1.3 .7-.4 .7 .6 .7-.8 .7 0 .7 .7 .7-.4 .7 .7 .7 1.4 .7-1.1 .7-.3 .7 .3 .7 .5 .7 1.6 .7-.6 .7 .1 .7-.1 .7 2.1 .7-.9 .7-.1 .7 0 .7 .2 .7 .5 .7 1.3 .7-.8 .7 .1 .7 1.1 .7-.2 .7 1.8 .7-1.5 .7 1 .7 .8 .7-.6 .7 1.2 .7-1 .7-.5 .7 .2 .7-1.1 .7 .5 .7-.7 .7 .9 .7-.5 .7-1 .7-1.2 .7 .5 .7 .2 .7 .1 .7 .3 .7 1.5 .7-1.2 .7 0 .7 2 .7-.4 .7 1.1 .7-.9 .7 1.3 .7-.3 .7 .6 .7 .2 .7-.3 .7-.5 .7 .7 .7 2.2 .7 1 .7 1 .7-.3 .7 1.6 .7 1.2 .7 .6 .7 .9 .7-.3 .7 .6 .4-.1 0 102.3 .4 0 0-102.3-.1 .5 .7-.5 .7 1.6 .7 .4 .1-.9 0 101.2 .3 0 0-101.2 .3-.7 .7 1.8 .7 0 .7-.6 .7-1.2 .7 1.7 .7-1.5 .2 .7 0 101 .3 0 0-101 .2 .9 .5-.9 0 101 .4 0 0-101-.2 .3 .7-1.2 .3 .9 0 101 .4 0 0-101 0-.7 .7 1 .7-.2 .7 .4 .7 .4 .7-1.5 .7-.4 .7 1.8 .7-1.9 .7 1.7 .7-1.6 .7 1.3 .7-.1 .7 .1 .7-.7 .7 .6 .7-1.4 .7 .8 .7-.7 .7 1 .7-.3 .7-.6 .7 0 .7-1.1 .7 0 .7 1 .7-.3 .7 .7 .7-.6 .7-1 .7 .4 .7 .7 .7-.5 .7-1.1 .7 1.6 .7-.1 .7-1.6 .7 .9 .7-.4 .5 .2 0 103.2 .3 0 0-103.2-.1 .5 .7-1 .7-.2 .7 .4 .7 .9 .7-1.8 .7 0 .7 .9 .7 .5 .7-.9 .7-.2 .7 .8 .7-.2 .7-1.5 .7 1.5 .7-1.4 .7 .1 .7 1 .7-.9 .7 .7 .7-1.3 .7 1.3 .5-.8 0 104.8 .4 0 0-104.8-.2-.6 .7-.2 .7 .7 .6-.1 0 105 .4 0 0-105-.3-.3 .7-1.8 .7-1.4 .7-2.5 .7-3.5 .7-1.6 .7-1.6 .7-2.3 .7-1.7 .7-2.3 .7-2.6 .7-1.4 .7-.5 .7-2.8 .7-.2 .7-.2 .7-1.4 .7-.6 .7-.8 .7-1.3 .7 .5 .7-1.5 .7 .7 .7-1.5 .7 .9 .7-.4 .7-.6 .7-.6 .7-.8 .7 1.3 .7-.6 .7 .8 .7-.8 .7 .2 .7 .3 .7 1.6 .7-1 .7 1.9 .7-.6 .7 .8 .7 0 .7 1 .7-.6 .7 1 .7 1.6 .7-1.1 .7 1.4 .7-.3 .7 .3 .7-.2 .7 .4 .7 2.3 .7 .1 .7 .3 .7 .4 .7 .7 .7-1.2 .7 1.2 .7 .2 .7 .6 .7 1.1 .7 0 .7 .8 .7-1.3 .7 1.5 .7 .4 .7 .6 .7 .1 .7 .8 .7-.6 .7 1.6 .7-.7 .7 .8 .7 1 .7 0 .7-.4 .7 .1 .7 .4 .7 .8 .7 1 .7 0 .7-.8 .7 .2 .7 1.1 .7-.9 .7 .5 .7-.6 .7 .6 .7 .9 .7 .6 .7 0 .7-.3 .7 1.4 .7-.4 .7-.7 .7 0 .7 2 .7 .2 .7 0 .7-.5 .7-.4 .7-.3 .7 .5 .7 .1 .7 1.5 .7 .1 .7-.1 .7-1.1 .7 .4 .7 .2 .7 1.5 .7-1.4 .7 1.4 .7 0 .7 0 .7 1.1 .7-1.1 .7 .8 .7-.5 .7 .2 .7 .1 .7 .9 .7-.1 .7 .1 .7 2.2 .7-1.2 .7 .9 .7-.8 .7-.4 .7-.5 .7 .1 .7-.5 .7-.8 .7-.7 .7-.2 .7-.4 .7-.7 .7-.6 .7-.8 .7 1.7 .7-.5 .7-.5 .7 .5 .7 1.7 .7-1 .7 .6 .1 .2 0 113.6 .4 0 0-113.6 .2 .6 .7 .6 .7-.7 .7 .4 .7 .3 .7-.7 .7 1.7 .7-1.8 .7 1.9 .7-1.6 .7 0 .7 1.4 .7-.1 .1-.6 0 112.2 .3 0 0-112.2 .3-.5 .7 .6 .7-.1 .7 .4 .7-.4 .2 1.1 0 111.1 .4 0 0-111.1 .1 1.6 .7 1.7 .7 .8 .7 1.8 .7 .9 .7-1.1 .3 .2 0 105.2 .3 0 0-105.2 .1 .7 .7 0 .7-.5 .7-.9 .7 1 .7 .6 .7-1.2 .7 .7 .7 .5 .1-.8 0 105.1 .3 0 0-105.1 .3 .2 .7-1.1 .7 1.2 .7-.7 .7 1.2 .7-.4 .7-.7 .7 1.2 .7-.5 .7-.6 .7 1 .7 .1 .7 0 .7 0 .7-.5 .7 .1 .7-.2 .7-.1 .7 .9 .7-1.3 .7-.5 .7 1.2 .7-.4 .7 .1 .7 .1 .7-.7 .7-.1 .7-.3 .7 1.5 .7 .2 .7-.4 .7-1.2 .7 1.8 .7-.3 .7-.7 .5 0 0 105 .3 0 0-105-.1-1 .4 1 0 105 .3 0 0-105 0 .6 .7-.5 .7 0 .7-1.3 .7 1.3 .7-1.4 .7 .8 .7-.8 .7 .4 .7 1 .7-.4 .4-.5 0 105.8 .4 0 0-105.8-.1 .6 .7-1.1 .2 .4 0 105.9 .3 0 0-105.9 .2-.3 .7 .4 .7-1.2 .7 .7 .7 1 .7-.5 .2-.5 0 106.3 .3 0 0-106.3 .2 .6 .7-1.2 .7 .8 .7 .1 .7-.3 .7-.6 .7-.6 .7-.3 .1 .9 0 106.9 .3 0 0-106.9 .3 .7 .7 .1 .7-1.3 .7 1 .7-.6 .7 .5 .7 .5 .7-1 .7 .7 .4-.2 0 106.5 .3 0 0-106.5 0-.5 .7 .6 .7-.9 .7 .5 .7 .1 .7 1.3 .7-1.5 .7 1.4 .7-1.3 .7 1.8 .7-1.5 .7-.1 .7 .3 .5 .6 0 105.7 .3 0 0-105.7-.1 .9 .7-.5 .7 .5 .7-.7 .7-.7 .7 .5 .7 .3 .7 1.1 .7-1.7 .7-.8 .7 .3 .7-2.4 .7 .7 .7-2.3 .7-.4 .7-.7 .7 .3 .7-1.5 .7 1.6 .7-1.2 .7 1.2 .7-1.3 .7 1.6 .7-.9 .7 1.1 .3 1 0 109.7 .3 0 0-109.7 .1-.3 .7 1.6 .7 1.1 .7 2.4 .7 .1 .1-.2 0 105 .4 0 0-105 .2-.3 .7 1.3 .7-1.7 .7 .1 .7 1.5 .7-.1 .7-.5 .7 .6 .7-1.9 .7 1.7 .7-.4 .7-.1 .7 .3 .7-1.5 .7 .2 .7-.1 .7-.1 .7-1.3 .7-1.4 .7-1.8 .7-.6 .7-.7 .7-.6 .7-1.9 .7-.3 .7-.3 .7-.4 .7 .2 .7-1.2 .7 .6 .7-.7 .7-.1 .7 .5 .7 .3 .7-1.7 .7 .1 .7 1.1 .7-1.7 .7-.5 .7 .5 .7 1.5 .7 0 .7 .7 .7-.7 .7-.7 .7 .7 .7 1.1 .7-.5 .7-.2 .7 .6 .7 .4 .7 .1 .7 .5 .7-.2 .7 .1 .7 1.9 .7 .2 .7-.3 .7-.2 .7 .7 .7 .9 .7 1 .7-.5 .7 1.3 .7-.6 .7-.5 .7 1.1 .7 .2 .7 .2 .7 .5 .7-1.2 .7 .9 .7 .5 .7-1.5 .7-.3 .7 .1 .7 0 .7 .2 .7-.5 .7 .5 .7-1.1 .7 .2 .7 .6 .7-.4 .7 .7 .7-.2 .7-1.5 .7 .1 .7 .2 .7-.1 .7-.5 .7 .9 .7-1.3 .7 1 .7-.3 .7 1.9 .7-.1 .7 1.2 .7-1.3 .7 1.6 .7 .2 .7-.7 .7 2 .7 .5 .7-1.2 .7 2.2 .7-.3 .7-.5 .7-.3 .7-.7 .7-.5 .7 .7 .7 .6 .7-1.5 .7 .4 .7-.5 .7 .7 .7 .4 .7-.3 .7-1.4 .7 0 .7-1.1 .7 .8 .7 .3 .7-.3 .7-1.8 .1 .8 0 109.8 .4 0 0-109.8 .2-.3 .7-1 .7 .4 .7 .7 .7-1.6 .7 .9 .7-.1 .5-.9 0 111.7 .4 0 0-111.7-.2 .7 .7-1 .7 1.8 .7 .2 .7 .5 .7-1.7 .7 .2 .7 .9 .7 .7 .7 .1 .7-.4 .7 1.4 .7 .4 .7 .2 .7-.5 .7-.1 .7 .1 .7-1.5 .7 .5 .7-.8 .5 .6 0 109.4 .3 0 0-109.4-.1-.9 .7 1.2 .7-1.1 .7-.2 .7-.3 .7 .4 .7-1.2 .7 1 .7-1.1 .7 1.9 .7-1.6 .7 1.3 .7-.3 .7-.2 .7-.2 .7 .2 .7 .8 .2-.5 0 110.2 .4 0 0-110.2 .1 .1 .7 .1 .7-.5 .7 .8 .7-.7 .7 .7 .7 .5 .7-.1 .7 .2 .7 .2 .7-.6 .7 1.6 .7-.4 .7 .2 .7 .6 .3-.8 0 108.3 .3 0 0-108.3 .1 0 .7-.1 .7 .1 .7 .1 .7 .1 .7 .2 .7-.1 .7 .7 .5 .2 0 107.1 .4 0 0-107.1-.2-.4 .6 .5 0 107 .3 0 0-107-.2-.2 .7 .7 .7-.5 .7 1.2 .7 0 .7-.8 .7 1.1 .7-1.1 .7 0 .7 1.9 .7-1.8 .7 .1 .7 1.9 .1-.8 0 105.3 .4 0 0-105.3 .2-.8 .7 1.4 .7 0 .7-.6 .7 .2 .7 1.6 .7-1 .7-.1 .7 .9 .7 1 .7-.4 .7 .1 .7 1.8 .7-.9 .7 .4 .7 .3 .7 1.9 .7-1.1 .7 .5 .7-.4 .7 .8 .7-1.3 .7 0 .7 .6 .7-1.4 .7 .6 .3 .3 0 100.9 .4 0 0-100.9 0 .5 .7-.4 .1-.2 0 101 .4 0 0-101 .2 0 .7 .9 .7-1 .7 .6 .7-.7 .7-.6 .7 .6 .7-.4 .7-.3 .7 .5 .7-.3 .7 .6 .7 .6 .7 0 .7 .3 .7-1.2 .7 .7 .7 .5 .7-1 .7 1 .7-1.6 .7 1.6 .7 0 .7 .2 .7-.3 .7-.3 .7-.5 .7 .5 .7 .4 .7-.6" fill="none" stroke="#ff7f0e" stroke-width="1.5" stroke-linejoin="round" stroke-dasharray="5.6,2.7"/>
<path d="M65.5 473.1l.7-110.9 .7-.3 .7-.2 .7-.6 .7-.6 0 112.5 .4 0 0-112.5-.4 .5 .7-1.1 .7 .6 .7 .5 .7-.3 .7 .3 .7-.8 .7 .5 .7-.2 .7 .5 .7 .1 .7 111.3 .7 .3 .7 0 .7 .8 .7-.2 .7-.7 .7 .8 .7-.8 .7 .5 .7-.5 .7-.2 .7 1 .7-.7 .7 0 .7-110.1 .7-7.9 .7-5.1 .7-2.3 .7-3.5 .7-2.9 .7-1.4 .7 .1 .7-1.1 .7-.5 .7-.9 .7-1.6 .7-.7 .7-.9 .7-.3 .7-.5 .7 0 .7 0 .7-1.1 .7 .5 .7-.8 .7-.4 .7 .3 .7-.7 .7-.2 .7 .1 .7 .2 .7-.8 .7 1 .7-1.2 .7 .8 .7 0 .7-1.1 .7 .9 .7-.6 .7 .2 .7-.6 .7 0 .7 .3 .7 .9 .7-.8 .7 .7 .7 .2 .7 .1 .7-.7 .7 .1 .7 .3 .7 .3 .7-.7 .7 .8 .7 .2 .7 .2 .7-.9 .7 1.2 .7-1 .7 .4 .7 .4 .7 .5 .7-.6 .7 .8 .7-.4 .7 0 .7 .2 .7 0 .7 .1 .7 .3 .7 .9 .7 .5 .7-.8 .7 .1 .7 1.3 .7-.3 .7 .1 .7 0 .7 .6 .7 .5 .7-.2 .7 .2 .7-.3 .7 1.3 .7-.9 .7 .8 .7 .6 .7-.6 .7 .9 .7 .5 .7-.1 .7 .4 .7-.6 .7 .6 .7-.1 .7 1.1 .7-.4 .7 .4 .7 .9 .7 0 .7 .4 .7-.4 .7 .3 .7 .5 .7-.1 .7 .1 .7 .4 .7 0 .7 .5 .7 1 .7 .3 .7-.1 .7 .1 .7 .1 .7 0 .7 .4 .7 .9 .7 .4 .7-.3 .7 .7 .7 .3 .7 .1 .7 .3 .7 .3 .7-.3 .7 .6 .7-.4 .7 .4 .7 .5 .7 0 .7-.3 .7 .9 .7-.2 .7 .1 .7-.6 .7 .8 .7-.1 .7 1.1 .7 .3 .7 1 .7 .4 .7 .7 .7 .1 .7 .9 .7 .6 .7 .6 .7-.1 .7 1 .7 .5 .7 .3 .7 .8 .7 .3 .7-.9 .7-.3 .7-.8 .7 .5 .7-.3 .7-.9 .7-.1 .7-.2 .7-.1 .7-.9 .7 .6 .7-.4 .7-.1 .7-.4 .7 0 .7 0 .7-.3 .7 .1 .7-.7 .7 .2 .7 .4 .7 .4 .7-.5 .7 .7 .7 0 .7-.7 .7 .6 .7 .3 .7 .5 .7 .8 .7 .9 .7 .5 .7 .7 .7 .5 .7 1.4 .7 1.3 .7 1.6 .7 1.4 .7 1 .7 2.1 .7-.4 .7 1.2 .2 .3 0 107 .4 0 0-107 .1-.4 .7 .1 .7-.5 .7 .7 .7-.7 .7-.5 .7 .6 .7-.8 .7 .4 .7-.3 .7 .1 .7 .4 .7-.3 .7-.6 .7 .3 .7-.3 .7-.6 .7-.5 .7 .3 .7-.3 .7 .3 .7-.2 .7-.7 .7-.5 .1 .1 0 110.9 .3 0 0-110.9 .3 .4 .7-.9 .7 .3 .7 .7 .7 .2 .7-.4 .7 .8 .7 .4 .7-.4 .7 .2 .7-.1 .7 .2 .7 1 .7-.8 .7 .5 .7-.2 .7-.6 .7-.6 .7 .7 .7-.8 .7-.3 .7-.3 .7 .6 .7-2.9 .7-4.2 .7-3.7 .7-3.3 .7-1.5 .7-2.3 .7-2.2 .7-1.6 .7-1.6 .7-2.4 .7-.7 .7-1.7 .7-.6 .7-1.6 .7-2 .7-1.4 .7-.7 .7 .4 .7-1.4 .7-.2 .7-.8 .7-.4 .7-.6 .7-.1 .7-.8 .7 .8 .7-.5 .7 .2 .7-.2 .7 0 .7 .2 .7 0 .7-.2 .7 .6 .7 .1 .7-.4 .7 .5 .7 .5 .7 .8 .7 .3 .7-.2 .7-.4 .7 1.2 .7 0 .7 .6 .7 .7 .7 .3 .7 .3 .7 1 .7-.2 .7 .5 .7 1 .7-.3 .7 .6 .7 1.1 .7-.6 .7 1.2 .7 .1 .7 0 .7 .1 .7 .9 .7 .4 .7-.6 .7 .7 .7 .4 .7 .2 .7 .1 .7 .1 .7 .8 .7 .5 .7-.6 .7 .5 .7 1 .7 .2 .7 .1 .7-.5 .7 1.1 .7 .5 .7 .3 .7-.1 .7-.6 .7 1.2 .7-.5 .7 .8 .7 .6 .7 0 .7-.5 .7 .5 .7 1 .7-.7 .7 .8 .7 0 .7 0 .7 .8 .7-.5 .7 .3 .7 .6 .7-.1 .7 .1 .7 .8 .7 .4 .7 .3 .7-.7 .7 .5 .7 .1 .7 .5 .7 0 .7 .7 .7-.5 .7-.2 .7 1 .7-.5 .7 .6 .7-.3 .7 .3 .7-.6 .7-.1 .7-.6 .7 .1 .7-.5 .7 .4 .7-.5 .7-.6 .7 .1 .7 .1 .7 .4 .7-.8 .7 .6 .7-.1 .7-.8 .7 .7 .7-.8 .7 0 .7 .5 .7-.5 .7 1 .7-.2 .7 .1 .7 .8 .7-.6 .7 1.1 .7-.5 .7 .4 .7 1.2 .7 0 .7-.3 .7 .1 .7 1.2 .7-.4 .7 .1 .7-.9 .7 .5 .7-.4 .7-.2 .7 .1 .7 .2 .7-.4 .7 0 .7-.4 .7 .8 .7 0 .7 .5 .7-.1 .7 .8 .7-.1 .7 .3 .7 .3 .7 .5 .7-.1 .7-.1 .7 .3 .7 .5 .7 .1 .7 1.3 .7-.2 .7 .6 .7-.6 .7 .8 .7 .6 .7-.3 .7-.2 .7 .2 .7-.4 .7 .1 .7 .1 .7 .3 .7 .1 .7 .7 .7-.8 .7 .2 .7 .8 .7 .9 .7 1.2 .7 1 .7 1.4 .7 .5 .7 2.1 .7 .2 .2 .2 0 112.1 .3 0 0-112.1 .2 .7 .7-.2 .7 .2 .7-.1 .7 .8 .7-.8 .7 .8 .7-.3 .7 .7 .4-.1 0 110.4 .4 0 0-110.4-.1-.1 .7-1.9 .7-1.3 .7-1.5 .7-.8 .7 0 .7 .6 .7 .8 .7-.5 .7 .1 .7 .4 .7-.1 .7 .7 .7 .2 .7-.4 .7 .8 .7 1.2 .7 1 .7 .4 .1-.1 0 110.9 .4 0 0-110.9 .2 .4 .7 .6 .7-1.2 .7 0 .7 .9 .7-.5 .7-.5 .7 .5 .7 .5 .7-.6 .7-.2 .7-.4 .7-.1 .7 1 .7-.5 .7 .5 .7-1.1 .7 .2 .7-.3 .7 .4 .7-.5 .7 .2 .7 .2 .7-.2 .7-.3 .7-.1 .7 1.1 .7-1 .7 .4 .7-.2 .7 .2 .7-.6 .7 .2 .7-.3 .7 .5 .7 .5 .7-.5 .7 .3 .7-.8 .7-.3 .7 .6 .7-.1 .7 .1 .7-.4 .7 .2 .7 .1 .7 .1 .7-.9 .7 .1 .7 .4 .7-.9 .7-.2 .7 .1 .7-.3 .7 .7 .7-.1 .7-.7 .7-.3 .7-.2 .7 .1 .7-.3 .7 .3 .7 .1 .7-.5 .7-.3 .7 .6 .7-.9 .7 .1 .7 0 .7 0 .7-.4 .7 .2 .7-.4 .7 .3 .7-.5 .7 .1 .7-.6 .7-.1 .7-.5 .7-.4 .7 .2 .7-.6 .7-.1 .7-.7 .7-.5 .7-.9 .7 .2 .7-1 .7-.7 .7-.5 .7-.3 .7-.2 .7 .1 .7-.8 .7-.6 .7 .4 .7-.6 .7-.9 .7-.4 .7-.2 .7-.1 .7 .2 .7-.2 .7-.7 .7-.6 .7 0 .7-.3 .7-.2 .7-.6 .7 .4 .7 .1 .7-.3 .7-1 .7 .4 .7-.7 .7 .5 .7-.2 .7 .7 .7 0 .7-.7 .7 .4 .7 .8 .7-.4 .7 .1 .7 .1 .7 .6 .7 .3 .7-.3 .7 .7 .7-.1 .7-.2 .7 1.2 .7-.1 .7-.1 .7 1.4 .7-.7 .7 1 .7 .2 .7 .9 .7-.3 .7 .2 .7 0 .7-.1 .7 .4 .7-.3 .7 .5 .7-.7 .7 .2 .7-.2 .7 .9 .7-.2 .7-.1 .7-.3 .7-.2 .7-.4 .7 .8 .7-.4 .7-.7 .7 .1 .7-.3 .7 .6 .7 .1 .7-1 .7 .6 .7-.7 .7 .3 .7 .1 .7-.5 .7 .1 .7-.6 .7-.6 .7 .5 .7 0 .7-.5 .7 .2 .7-.2 .7-.4 .7 .2 .7 .1 .7 0 .7 .2 .7-.4 .7 .6 .7-.3 .7 .2 .7-.3 .7 .1 .7-.1 .7 .4 .7-.5 .7 .4 .7 .2 .7-.1 .7-.3 .7-.1 .7 .1 .7 .4 .7 .3 .7 .6 .7 .2 .7-.1 .7 1.1 .7-.4 .7 .8 .7-.4 .7 1.2 .7 .2 .7 .7 .7 .3 .7 .1 .7 .5 .7 .1 .7 0 .7-.3 .7 .5 .7 .6 .7-.6 .7 1 .7-.4 .7 0 .7-.4 .7 .6 .7-.1 .7 .7 .7 .5 .7-.1 .7-.4 .7-.3 .7-.4 .7 .6 .7-.2 .7 .1 .7-.5 .7 .6 .7-.9 .7 0 .7-.1 .7 .4 .7 .3 .7-.7 .7 .7 .7 .3 .7-.6 .7 0 .7 .7 .7 .5 .7 .2 .7-.1 .7-.2 .7 .1 .7 .3 .7 .6 .7-.4 .7 .3 .7 .7 .7 .8 .7-.6 .7 .2 .7 .5 .7 .9 .7 .4 .7-.2 .7 .4 .7 .8 .7 .4 .6 0 0 112.8 .4 0 0-112.8-.3 .1 .7-.6 .7-1.5 .7-.2 .7-.3 .7-.6 .7-1.4 .7-.1 .7-.8 .7 .2 .7-.9 .7 .5 .7 .1 .7-.6 .7-.5 .7 0 .7-.1 .7-.1 .7-.1 .7 .8 .7 .2 .7 1.6 .7 .7 .7 1 .7 .7 .7 .8 .7 1 .7 .9 .7 .4 .7 1.2 .7-.2 .7 .8 .7 .7 .7 1 .7 1 .7 1 .4-.2 0 106.3 .4 0 0-106.3-.1 .1 .7-.2 .7-1.1 .7 .1 .7-.1 .7-.5 .7-.7 .7 .3 .7-.6 .7 .1 .4-.4 0 109.3 .4 0 0-109.3-.1-.1 .7 .3 .7-.4 .7-1.3 .7 .5 .7-.3 .7-.8 .7-.6 .7 .2 .7-.2 .7 .5 .7 .2 .7-.6 .7-.2 .7 .3 .7 .2 .7 .1 .7-.2 .7-.3" fill="none" stroke="#aec7e8" stroke-width="1.5" stroke-linejoin="round" stroke-dasharray="5.6,2.7"/>
<path d="M76 361.3l.7-.2 .7-.5 .4 0 0 112.4 .3 0 0-112.4 0-.4 .7-.4 .7 .3 0 112.9 .3 0 0-112.9-.3 .2 .7-.2 .7 .6 .7 0 .7 .7 .7-.1 .7 .9 .7 .1 .7-.1 .7 .3 .7-4.1 .7-10.8 .7-4.6 .7-2.5 .7-3.4 .7-2.3 .7-1 .7-.7 .7-1.4 .7-1.1 .7-.2 .7-.2 .7-.6 .7-.6 .7-.1 .7 .2 .7-.6 .7 .5 .7-.6 .7-.6 .7 .3 .7-.5 .7 .4 .7-.2 .7-.5 .7-.1 .7-.1 .7-.1 .7-.1 .7-1.4 .7-.1 .7-.2 .7-.7 .7-.1 .7-1 .7 .4 .7-.8 .7-.8 .7 .2 .7-.6 .7-.3 .7 .1 .7-.6 .7-.1 .7 .4 .7-.4 .7-.9 .7 .6 .7-.9 .7 .3 .7 .6 .7-.3 .7-.3 .7 .1 .7 0 .7-.3 .7 .9 .7-.9 .7 .3 .7 .3 .7-.3 .7 .6 .7-.7 .7 .7 .7 0 .7-.2 .7 .2 .7-.4 .7 .4 .7 0 .7-.2 .7-.1 .7 .3 .7-.3 .7-.3 .7 .7 .7-.4 .7 .2 .7 .4 .7-.6 .7-.1 .7 .1 .7 .5 .7-.2 .7-.1 .7 .2 .7 .6 .7-.6 .7 .3 .7 .5 .7-.1 .7-.3 .7 .3 .7 .1 .7-.2 .7 .3 .7 0 .7 .6 .7-.4 .7 .5 .7 .4 .7 .1 .7-.3 .7 .4 .7-.1 .7 .3 .7 .3 .7 .5 .7 .4 .7-.5 .7-.1 .7 .7 .7-.2 .7 .2 .7 .8 .7-.5 .7 .8 .7-.3 .7 .8 .7 0 .7-.5 .7 .4 .7 1 .7-.1 .7 .1 .7 .7 .7 .3 .7-.1 .7 .3 .7-.1 .7 .5 .7 .1 .7 .8 .7 .2 .7-.2 .7 .8 .7-.2 .7 .3 .7 .8 .7 .1 .7 .7 .7 0 .7 .4 .7-.3 .7 1 .7-.6 .7 .8 .7 .5 .7 .2 .7 .2 .7-.3 .7 .5 .7 .3 .7-.5 .7 1.1 .7 .1 .7-.2 .7 .5 .7-.2 .7 0 .7 .6 .7-.5 .7 .8 .7 .4 .7-.6 .7 .8 .7-.7 .7 .9 .7-.4 .7 .8 .7-.2 .7 .8 .7-.5 .7 .4 .7 1 .7 .2 .7 .2 .7-.1 .7 .5 .7 .5 .7 0 .7 1.3 .7 .1 .7 .5 .7 0 .7-.1 .7 0 .7 1 .7-.4 .7 .7 .7 .2 .7 .3 .7-.1 .7 .3 .7 .7 .7-.1 .7 .9 .7 0 .7 .6 .7 .3 .7 .8 .7 .3 .7 .3 .7 .4 .7 .7 .7 .8 .7 0 .7 .2 .7 .8 .7 .6 .7 1 .7 .9 .7 .5 .7 .3 .7 .8 .7 .8 .7 .8 .7 .6 .7 1.3 .7 .3 .7 .8 .7 .8 .7 .6 .7 .5 .7-.1 .7 .7 .7 .7 .7-.4 .7 1 .2 .1 0 109.5 .3 0 0-109.5 .2 .3 .7 .3 .7 .3 .7 .1 .3-.5 0 109 .4 0 0-109 0-.8 .7 0 .7-1.2 .7-2.2 .7-7.2 .7-4.2 .7-4.6 .7-3.8 .7-1.7 .7-1.8 .7-2.7 .7-1.9 .7-1.2 .7-.8 .7-1.6 .7-.4 .7-1.5 .7-.9 .7-.1 .7-1.8 .7 .2 .7-.7 .7-.7 .7-.5 .7-.7 .7-1 .7-.4 .7-.6 .7 .5 .7-.3 .7-.1 .7-.8 .7 .2 .7-.5 .7 .4 .7-.2 .7 .1 .7-.3 .7 .2 .7 .2 .7-.5 .7 .7 .7-.4 .7 .5 .7-.1 .7 1 .7-.7 .7 1.1 .7 .2 .7-.2 .7 .6 .7-.6 .7 .4 .7 .1 .7 .3 .7 .2 .7 1 .7-.5 .7 .8 .7 .1 .7 .3 .7 .6 .7 .2 .7 1.2 .7-.2 .7 .6 .7 .4 .7 .5 .7 .2 .7 .2 .7 .3 .7 1.1 .7-.4 .7 .5 .7 .6 .7 0 .7 .7 .7 .1 .7 0 .7-.1 .7 .7 .7 .1 .7 .7 .7-.1 .7 .5 .7 .3 .7 0 .7 .6 .7 .3 .7-.5 .7 1.1 .7 .2 .7 .2 .7-.3 .7 .2 .7 .1 .7 .4 .7 .8 .7-.3 .7-.1 .7 .5 .7 0 .7 .8 .7 .4 .7 .4 .7-.6 .7 .4 .7-.1 .7 .9 .7 0 .7-.2 .7 .6 .7-.4 .7 .4 .7-.2 .7 0 .7 .8 .7-.1 .7-.1 .7 .4 .7-.1 .7 .2 .7-.8 .7 0 .7-.1 .7 .5 .7 0 .7-.6 .7 .3 .7-.4 .7 .5 .7 0 .7-.7 .7 .8 .7-.3 .7-.6 .7 .2 .7-.2 .7 .5 .7 .2 .7-.7 .7 0 .7 .4 .7 .3 .7-.2 .7-.2 .7-.4 .7 .5 .7-.1 .7 .3 .7-.2 .7 .2 .7 .5 .7 0 .7 .5 .7-.3 .7 0 .7 1.2 .7-.6 .7 1.2 .7-.2 .7-.1 .7 .5 .7 .7 .7-.1 .7 .4 .7-.3 .7 .9 .7-.2 .7 .6 .7-.4 .7 .7 .7 0 .7 .1 .7-.1 .7 .7 .7 .5 .7-.7 .7 .5 .7-.4 .7 1.1 .7 0 .7-.2 .7-.1 .7-.3 .7 .2 .7 .7 .7 .5 .7 .6 .7 .3 .7 0 .7 .2 .7 .7 .7 .3 .7 .6 .7 .7 .7 0 .7 .9 .7 .2 .7-.9 .7 .2 .7-.5 .7-.5 .7-1.1 .7 .4 .7-.9 .7-.2 .7-.1 .7 .1 .7 .3 .7 .4 .7 .4 .7 .1 .7 .2 .7 .9 .7 .2 .7 .5 .7-.3 .7 .9 .7 .3 .7-.1 .7 1.2 .7-.1 .7 .8 .7 1.4 .7 2.1 .7 .7 .7 1.6 .7 .9 .7 .2 .7 .6 .7-.2 .7 .7 .7-.3 .7-1 .7-1.1 .7-1.3 .7-.7 .7 .2 .7 0 .7 .7 .7 .7 .7-.1 .7 .1 .7 .3 .7-1 .7-.3 .7-.4 .7 .3 .7-.8 .7 0 .7-1.1 .7-.2 .7 1.9 .7 2.5 .7 2.7 .7-1.6 .1-.2 0 114 .3 0 0-114 .3-1.6 .7-1.4 .7-1.1 .7-1.1 .7-.5 .7 0 .7-.4 .7 .2 .7-.1 .7 0 .7 0 .7 .2 .7-.3 .7-.1 .7-.5 .7 0 .7 .2 .7 0 .7-.7 .7 .2 .7 .5 .7 1 .7 .8 .7-.3 .7 1.1 .7 .3 .7 1.1 .7 1.1 .7 .2 .7 1.8 .7 .4 .7 .4 .7 .3 .7 .1 0 0 0 112.2 .4 0 0-112.2 .3-.4 .7 .2 .7-.7 .7-.9 .7-1 .7-1 .7-.7 .7-.8 .7-.9 .7-.6 .7-.4 .7-.5 .7-.5 .7-.1 .7-.8 .7-.3 .7-.4 .7 .2 .7-.7 .7-.2 .7-.1 .7 0 .7-.2 .7-.3 .7-.2 .7-1.5 .7-.3 .7-1.3 .7-1.3 .7-1.1 .7-.9 .7-1.5 .7-.3 .7-.5 .7-1.2 .7-.6 .7-.9 .7 0 .7-1.2 .7-.7 .7-.2 .7-.9 .7 0 .7-1 .7-.4 .7-.8 .7-.2 .7-.7 .7-.9 .7 .3 .7-.9 .7 .2 .7 0 .7-.4 .7-.3 .7-.1 .7 .4 .7-1.1 .7 .7 .7-.5 .7 0 .7 .2 .7 .1 .7 .3 .7 .2 .7-.4 .7-.1 .7 .1 .7 .6 .7-.3 .7-.2 .7 .6 .7-.2 .7 .4 .7 .5 .7 .1 .7 .1 .7 .5 .7-.1 .7 .6 .7-.2 .7-.6 .7 .4 .7-.5 .7 .6 .7-.4 .7-.3 .7-.3 .7 .7 .7-.6 .7-.4 .7 .7 .7-.8 .7 0 .7-.1 .7 .6 .7-.1 .7-.1 .7 .5 .7-.4 .7-.3 .7 .9 .7-.9 .7 0 .7 .2 .7 .8 .7-.6 .7 0 .7 0 .7 .1 .7 .4 .7-.1 .7-.3 .7-.1 .7 .7 .7-.3 .7 0 .7-.3 .7 .8 .7-.4 .7 .4 .7-.2 .7 0 .7-.6 .7 1 .7-.1 .7-.7 .7 .1 .7 .6 .7 0 .7-.4 .7 .8 .7-.8 .7 .5 .7-.1 .7-.1 .7 .4 .7-.2 .7 .3 .7 .1 .7-.7 .7 .3 .7 .3 .7-.2 .7 .3 .7-.5 .7 .1 .7 .4 .7-.2 .7 0 .7 .2 .7 .3 .7 .1 .7 0 .7-.1 .7 0 .7 .5 .7 0 .7 .1 .7 .1 .7-.2 .7-.5 .7 .6 .7-.4 .7 .1 .7 .1 .7-.3 .7 .5 .7-.2 .7 .1 .7 .4 .7 .5 .7 .1 .7-.2 .7 .6 .7-.1 .7 .1 .7 .2 .7 .1 .7 0 .7 1 .7-.2 .7 .3 .7 .1 .7 .1 .7 .3 .7-.4 .7 .2 .7 .7 .7 .1 .7-.2 .7 .4 .7 .3 .7 .9 .7 .1 .7-.6 .7 .5 .7 .2 .7 0 .7 .2 .7 .7 .7 0 .7-.6 .7 .5 .7-.6 .7 .5 .7-.5 .7 .6 .7 0 .7 .4 .7-.4 .7 .4 .7-.6 .7 .4 .7-.4 .7-.1 .7 .9 .7-.9 .7 .4 .7 0 .7 0 .7 .7 .7 0 .7-.3 .7 .2 .7 .4 .7-.7 .7 .6 .7 .3 .7-.2 .7 0 .7-.2 .7 0 .7 .1 .7 .2 .7 0 .7 .6 .7-.6 .7 .1 .7 .8 .7-.2 .7-.2 .7 .8 .7-.7 .7 .5 .7 .1 .7 .3 .7-.2 .7 .8 .7-.2 .7-.2 .7 .5 .7-.2 .7 .3 .7 .1 .7-.3 .7 .7 .7-.8 .7 .9 .7-.4 .7 .1 .7-.3 .7 .4 .7-.1 .7 .6 .7 .7 .7 0 .7 .6 .7 1.4" fill="none" stroke="#1f77b4" stroke-width="1.6" stroke-linejoin="round" stroke-dasharray="5.6,2.7"/>
<path d="M85 371.7l.7-.3 .3 .6 0 101 .4 0 0-101 0 .2 .7-.9 .7 .8 .2-.1 0 101 .4 0 0-101 .1-4.3 .7-6.3 .7-5.1 .7-2.3 .7-.3 .7-1.5 .7-.9 .7 0 .7 .1 .7-1.7 .7-.4 .7 .1 .7-.1 .7-.9 .7-.5 .7 .7 .7-1.7 .7 1.1 .7-1.2 .7-.4 .7-.2 .7 .4 .7 .9 .7-1 .7 .7 .7 .2 .7-.4 .7 .4 .7-.7 .7 .1 .7 .3 .7 .8 .7-.3 .7 0 .7 .7 .7 .1 .7 0 .7 1.1 .7 .1 .7-.4 .7 .8 .7 .2 .7 .8 .7 .1 .7-.4 .7 1.4 .7-1 .7 .9 .7 1 .7-.6 .7 1 .7-.3 .7 1.4 .7 .6 .7 .1 .7 .9 .7-.5 .7 1 .7 .4 .7 .6 .7 .4 .7 1.2 .7 .8 .7-.1 .7 .9 .7-.3 .7 1.6 .7 .6 .7 1.5 .7 .9 .7 .3 .7 1.4 .7 1.6 .7 .1 .7 1.9 .7 1 .7 1.9 .7 2 .2 1.3 0 96.4 .4 0 0-96.4 .1 .1 .7-3.4 .7-3.4 .7-.2 .7 .3 .7-1.7 .7 .2 .7-.3 .7 .1 .7-.5 .7-.4 .7-1.4 .7-.2 .7-.2 .7 .7 .7 0 .7-1.4 .7-.1 .7-.1 .7-.1 .7 .3 .7 0 .7-.7 .7-.5 .7 .5 .7 0 .7 .6 .7 .8 .7-.2 .7-.1 .7 .4 .7 .3 .7-.8 .7 1.5 .7 .1 .7 .3 .7 .1 .7-.6 .7-.5 .7-.5 .7 1.3 .7-.5 .7 .5 .7 .6 .7 .4 .7 .7 .7 0 .7 .4 .7 .7 .7 .5 .7 1.1 .7 .1 .7 2.1 .7 .3 .7-.1 .7 .9 .7 .9 .7 .1 .7-.3 .7 1.3 .7 .4 .7-.7 .7 .1 .7-.5 .7 .7 .7 1.4 .7 .9 .7 1.9 .7 0 .7 .4 .7 1.7 .7-.4 .7-.4 .7 .9 .7-.6 .7 1 .7 1 .7-1.6 .7-1.7 .7-2.1 .7-1.3 .7-1.7 .7-.4 .7-1.8 .7-.3 .7-.9 .7-.2 .7 .8 .7 .1 .7-.3 .7-.2 .7-.1 .7 .4 .7-.4 .7 .9 .7 .3 .7-.1 .7 .5 .7 .8 .7-.1 .7 .2 .7-.1 .7-1.3 .7 .2 .7 .7 .7 1.3 .7 .4 .7 1.2 .5 .5 0 94.9 .3 0 0-94.9-.1-.3 .7 .1 .6 .7 0 94.4 .4 0 0-94.4-.3-.5 .7 .9 .7 .6 0-.6 0 94 .3 0 0-94 .4 .7 .7-.3 .7 .4 .7 .5 .7-1 .7 1 .7 .4 .7-.2 .7-.1 .7-.4 .7-.5 .7 1 .7-.8 .7 .8 .7 .3 .7-1 .7 0 .7 .9 .7-.3 .7-.9 .7-.1 .7 0 .7 1.2 .7-.1 .7-1.1 .7 1.1 .7 .2 .7-.6 .7-.6 .7 .2 .5-.1 0 93.4 .4 0 0-93.4-.2-.6 .7-.3 .7 1.4 .7-.6 .7-.3 .7 .6 .7-.9 .7 .6 .7-.2 .7-1 .7-.1 .7 0 .7-.2 .7 .5 .7-.6 .7 .1 .7-.5 .7 .4 .7-5.9 .7-5 .7-4.9 .7-3 .7-2.2 .7-.6 .7-2.1 .7-1.3 .7-1.2 .7-1.5 .7 0 .7-1.1 .7-.9 .7 .6 .7-1.7 .7-.2 .7 .1 .7-.6 .7-.6 .7 .1 .7-.2 .7 .1 .7-1.3 .7 .7 .7-.3 .7 .2 .7 1 .7-.3 .7 .3 .7 .5 .7 .4 .7-.6 .7 .5 .7 .1 .7 .4 .7 .8 .7 0 .7 .6 .7 .4 .7 1.1 .7 .1 .7 .7 .7 .6 .7-.8 .7 .8 .7 .9 .7 .1 .7-.9 .7 .3 .7 .8 .7-.3 .7 .6 .7 .1 .7 1.3 .7 .5 .7 .6 .7-.9 .7 1.3 .7 .2 .7-.4 .7 1.5 .7 .5 .7-.9 .7 1.5 .7-.5 .7 .5 .7 1.1 .7 .1 .7-.8 .7 .6 .7 .4 .7-.1 .7 0 .7 .5 .7 .9 .7-.9 .7 1.1 .7 0 .7-.4 .7 .7 .7 .7 .7 .1 .7-.3 .7 2.5 .7 .8 .7 1.3 .7-.3 .7 1.3 .7 .7 .7 2.2 .7 .2 .7 .9 .7 1.4 .3 .4 0 99.4 .3 0 0-99.4 .1 1.1 .7 .5 .7-.2 .2 .6 0 97.4 .3 0 0-97.4 .2-.1 .7 1.4 .7-1.7 .7-.9 .7-2.2 .7-1.2 .7-.1 .7-1.6 .7-1.8 .7 1.1 .7-.5 .7 .3 .7-1.2 .7 1.3 .7-1.3 .7 1.3 .7-.7 .7-.2 .7 .4 .7 .6 .7-1.1 .7 0 .7 1.8 .7 .7 .7 1 .7 1.3 .7 1 .7 1.4 .7 1.4 .7-.5 .7-.5 .7-1.9 .7-.8 .7-1.7 .7-.9 .7-1.7 .7-.6 .7-.4 .7 1.2 .7-.3 .7-.6 .7 .5 .7 .7 .7-1.3 .7 1.1 .7-.6 .7 .1 .7 .9 .7-.4 .7 .4 .7 .6 .7 .8 .7-.7 .7 1.1 .7 0 .7 .2 .7 0 .7 .2 .7-.2 .7 .4 .7 .2 .7 1.2 .7-.6 .7 0 .7 0 .7 1.3 .7 .2 .2-.5 0 100.1 .4 0 0-100.1 .1 .4 .7-.5 .7 0 .7 .3 .7 .4 .7-.4 .7 .6 .7-.1 .7 1.2 .7 .2 .7-.5 .7-.4 .7 1.3 .2-.7 0 98.3 .3 0 0-98.3 .2-.2 .7 .2 .7-.5 .7 .6 .7 .2 .7 0 .7-.5 .7 .5 .7-.8 .7 .4 .7-.3 .7 .5 .7-.5 .7-.1 .7 .5 .7-.1 .7 .5 .1-.1 0 98 .4 0 0-98 .2 0 .7 .4 .7-.1 .7 0 .7 .3 .7-.8 .7-.1 .7 1.1 .7-1.4 .7 1 .7-.2 .7-.9 .7 1.2 .7 .1 .7-.4 .7 .2 .7 .2 .7-1 .7 .6 .7 0 .7 .6 .3-.5 0 97.7 .4 0 0-97.7 0 .5 .7 0 .3-.5 0 97.7 .3 0 0-97.7 .1 .2 .7 .5 .7-.3 .7 .1 .7-.7 .7-.3 .3 .7 0 97.5 .3 0 0-97.5 .1 .1 0 97.4 .3 0 0-97.4-.3-.6 .7 .4 .7-.4 .7 1.2 .7-.4 .7 .1 .7 .1 .6-.2 0 97.2 .3 0 0-97.2-.2 .3 .7-.3 .7-.7 .7 1.3 .5-.5 0 97.1 .4 0 0-97.1-.2 .4 .7-.3 .7 .1 .7 .2 .7-1 .7 1.1 .6-.4 0 97 .3 0 0-97-.2-.4 .7-.3 .7 .3 .7 .8 .7-.9 .7 .9 .7 .4 .7-.8 .7-.2 .7 .2 .7 .3 .7 .1 .7-.2 .7 0 .7-.9 .7 .1 .7 .2 .7 .8 .7-.7 .7 .4 .7-.9 .7 .1 .7 .3 .7 .7 .1-.3 0 97 .3 0 0-97 .3 .3 .7 0 .7-.6 .7 .3 .7-.1 .7 0 .7-.5 .7 1.2 .7-1.1 .7 1.3 .7-.1 .7-1.5 .7 .7 .7 .6 .7 .2 .7-.8 .7-.3 .7-.1 .6 .5 0 97 .4 0 0-97-.3 .7 .7-1.2 .7 .6 .7-.7 .7 .6 .7 .7 .7-1.3 .7 1.1 .7-.5 .7 .6 .7-.3 .7-.9 .7 .5 .7-1.2 .7-1.2 .7-.6 .7 .2 .7-.6 .7-.7 .7-.8 .7-.3 .7-.5 .7 .3 .7-2.1 .7 .3 .7-.8 .7-2.1 .7 .4 .7-1.3 .7-.6 .7-1.9 .7-.2 .7-.1 .7 .8 .7-.9 .7-.5 .7-.1 .7-.4 .7-.5 .7-.1 .7 1 .7-.8 .7 1.2 .7-.9 .7 .2 .7 .6 .7-.3 .7 .4 .7 1.1 .7 .1 .7 .1 .7 .1 .7 .9 .7 .5 .7-.2 .7 .7 .7-.6 .7 1.6 .7 0 .7 1.1 .7 .4 .7 0 .7 .2 .7 2 .7-.7 .7 1.2 .7-.1 .7 0 .7 .8 .7 .5 .7-1 .7 .7 .7-.5 .7 .5 .7-.2 .7-.2 .7 .3 .7 .4 .7 1.4 .7-.3 .7 0 .7 1.4 .7 .5 .7-.5 .7-.2 .7 .5 .7-.1 .7 .5 .7-.4 .7 .3 .7 .1 .7 .6 .7 .5 .7-.1 .7-.5 .7 .1 .7 .2 .7-.4 .7-.3 .2 .2 0 98 .4 0 0-98 .1-.9 .7 0 .7 .9 .7-1.7 .7 .4 .7-.1 .7 .1 .7-1.3 .7-.2 .7-.3 .7-.1 .7-.2 .7 .9 .7-.1 .7 .1 .7-1.3 .7 .1 .7 1.1 .7 .4 .7-.6 .7 .2 .7-.8 .6 .8 0 100.6 .4 0 0-100.6-.3-.1 .7 .9 .7-.1 .7 0 .7 .2 .7-1.3 .7-.3 .7 .1 .7 .5 .7 .2 .7 .3 .7-.4 .7-.2 .7 .1 .7-.5 .7 .1 .7-.9 .7 1.3 .7-.6 .7 1.3 .7-.3 .7-.3 .7-.1 .3 .7 0 100 .3 0 0-100 .1-.3 .7 .8 .7 .3 .7-.7 .7 .2 .7 .9 .7 .3 .7-.1 .7 0 .7 .9 .7-.7 .7 .8 .7 .5 .7 1.1 .7-.2 .7 .7 .7-.4 .5 .2 0 95.7 .3 0 0-95.7-.1-.3 .7 .3 .7 1.4 .7-.1 .7-1.1 .7-1 .7 .2 .7-.3 .7-.9 .7-.8 .7 .1 .7-.2 .7-1.6 .7-.9 .7-.1 .7-.4 .7-.1 .5-.8 0 102.3 .4 0 0-102.3-.2-.5 .7 .7 .7-.4 .7-.7 .7-.7 .7 .9 .7-1.3 .7 .5 .7-1.2 .7-.3 .7 .6 .7-1 .7 .8 .7-1 .7-.4 .7 .3 .7 .6 .7 .7 .7 .7 .7-1 .7 .7 .7-.1 .7 1.5 .7-1 .7 .1 .7 .3 .7 .8 .7 1.1 .7 .1 .7-.1 .7 .5 .7 .1 .1-.7 0 101.7 .3 0 0-101.7 .3-.2 .5 .4 0 101.5 .3 0 0-101.5-.1-.4 .7 1.3 .7-.2 .7-1 .6 .9 0 100.9 .3 0 0-100.9-.2 .3 .7-.3 .7 .1 .7 .1 .7 .2 .7 .4 .7 1.1 .7 .9 .7 1.6 .7-.6 .7 2 .7-.5 .7 .7 .7 .7 .7 0 .7-.6 .7-.6 .7 .7 .7-.2 .7 .9 .7-1.2 .2 .5 0 94.7 .4 0 0-94.7 .1-.2 .7 .8 .7-1.4 .7 .7 .7 .6 .7-.1 .7-1.1 .7-.1 .7-.1 .7 1.2 .7-1.2 .7 .6 .7 0 .7-1 .7-.3 .7 .9 .7-.7 .7-.8 .7 .7 .7-.2 .7 .2 .7 0 .7 1.5 .7 .6 .7-.1 .7 .9 .7-1.2 .7 .7 .7 .8 .7 .9 .7-.1 .7-.9" fill="none" stroke="#2ca02c" stroke-width="1.6" stroke-linejoin="round" stroke-dasharray="5.6,2.7"/>
<path d="M91 357l.7-.1 .7-.2 .7 .7 .7-.4 .7 .1 .7 .3 .7 .3 .7 .4 .7-.4 .7 .6 .7 0 .7-.6 .7-.1 .7 .3 .7 1 .7 0 .7 .5 .7 .3 .7 0 .7 .1 .7-.2 .7 .2 .7 1 .7 .1 .7 .3 .7 .1 .7 .3 .7 .2 .7 .6 .7-.6 .7 .6 .7 .1 .7 .8 .7 .3 .7-.4 .7 .1 .7 .4 .7 .3 .7 .7 .7-.1 .7 .5 .7-.1 .7 .6 .7 .1 .7 .8 .7 .3 .7 .7 .7 .5 .7-.1 .7 0 .7 1.2 .7 .4 .7-.1 .7 .4 .7 .8 .7-.2 .7 .3 .7 .9 .7 .3 .7 .4 .7 .5 .7 .1 .7 .3 .7 .2 .7 .4 .7 .5 .7 .5 .7 .6 .7 .3 .7 .3 .7 .2 .7 .7 .7 .1 .7 .8 .7 0 .7 .2 .7-.1 .7 .3 .7 .4 .7 .4 .7-.2 .7 0 .7 .5 .7-.4 .7 .4 .7-.1 .7 .7 .7-.1 .7 .3 .7 .6 .7 0 .7-.4 .7 .6 .7-.2 .7 1 .7-.2 .7 .6 .7-.4 .7 .7 .7-.4 .7 .9 .7-.2 .7-.1 .7 1.1 .7 .1 .7-.4 .7 .6 .7 .2 .7-.1 .7 .5 .7 .7 .7-.3 .7 .6 .7 .2 .7 .1 .7 .1 .7 .4 .7-.4 .7 .4 .7 .1 .7-.2 .7 .6 .7 .4 .7 0 .7-.2 .7 .3 .7 .4 .7-.2 .7 .2 .7 .8 .7-.5 .7 .2 .7 .2 .7 .5 .7-.3 .7 .9 .7 0 .7 .4 .7 .2 .7 .2 .7 0 .7 0 .7 .5 .7-.2 .7 .3 .7 .7 .7 .1 .7-.2 .7 .5 .7 .4 .7-.2 .7 .7 .7-.3 .7 .2 .7 .5 .7 .1 .7 .6 .7-.1 .7 .2 .7 .7 .7 .3 .7 .2 .7-.5 .7 .4 .7 .1 .7 .9 .7-.1 .7-.1 .7 1.1 .7-.6 .7 .2 .7 1.1 .7-.2 .7 .7 .7 0 .7-.2 .7 .6 .7 .6 .7-.5 .7 1 .7-.2" fill="none" stroke="#98df8a" stroke-width="1.2" stroke-linejoin="round"/>
<path d="M259.5 361.6l.7-.2 .7 .2 .7-.7 .7-.3 .7 0 .7-.3 .7-.5 .7 0 .7 .1 .7-.9 .7-.2 .7-.5 .7 0 .7-.4 .7 .6 .7-.3 .7 1 .7-.5 .7 1.2 .7 0 .7 .5 .7 .4 .7 0 .7 .3 .7 .8 .7-.2 .7 .3 .7 1.1 .7 .3 .7 0 .7 .6 .7 .8 .7-.3 .7 .2 .7 .7 .7 .1 .7 .5 .7 0 .7 1.1 .7 .3 .7-.1 .7 .3 .7 .2 .7 1 .7 .3 .7 .1 .7-.2 .7 .3 .7 .9 .7-.2 .7 .8 .7 0 .7 0 .7 .5 .7 1 .7-.3 .7 .7 .7 .4 .7-.1 .7 .4 .7 .7 .7 .2 .7 .1 .7 .4 .7 .2 .7 .3 .7 .5 .7-.1 .7 1 .7-.3 .7 .3 .7 1 .7-.6 .7 .7 .7 .4 .7 .2 .7 .8 .7 .1 .7 .2 .7-.2 .7 1.3 .7-.3 .7 .3 .7 .2 .7 .2 .7 .3 .7 .2 .7 .7 .7-.2 .7 .3 .7 .3 .7-.4 .7 .8 .7-.4 .7 .7 .7 .2 .7-.3 .7 .1 .7 .3 .7 .5 .7 .2 .7-.1 .7-.2 .7 .2 .7 .4 .7-.2 .7 .6 .7-.3 .7 .4 .7 0 .7 .2 .7 .4 .7 .2 .7 .1 .7 0 .7-.1 .7 .1 .7 .2 .7 .5 .7 .1 .7-.5 .7 .3 .7-.1 .7 .4 .7 .7 .7 0 .7-.4 .7 1 .7 .1 .7 0 .7-.2 .7 .2 .7 .2 .7 1.1 .7-.3 .7-.1 .7 .9 .7-.1 .7 .1 .7 .2 .7 0 .7 .1 .7 .9 .7 .3 .7-.3 .7 .5 .7 .5 .7-.7 .7 1.2 .7-.8 .7 .4 .7-.3 .7 .3 .7 0 .7 .2 .7 .3 .7 .3 .7-.1 .7 .4 .7 .3 .7-.7 .7 .3 .7 .3 .7-.3 .7-.1 .7 .9 .7-.2 .7-.1 .7 .4 .7-.3 .7 .2 .7-.1 .7 .4 .7-.1 .7 .4 .7 .4 .7 0 .7 0 .7 0 .7 .4 .7-.7 .7 .9 .7-.7 .7 .8 .7-.3 .7 .4 .7 .4 .7-.6 .7 .5 .7 .1 .7 .5 .7 .3 .7 .7 .7 .4 .7-.2 .7 .4 .7 0 .7 .3 .7 .4 .7 .2" fill="none" stroke="#98df8a" stroke-width="1.2" stroke-linejoin="round"/>
<path d="M470.5 377.6l.7 .1 .7 .5 .7-.4 .7 0 .7 .3 .7 0 .7-.1 .7 .2 .7 .5 .7-.7 .7 .1 .7-.1 .7 .2 .7-.1 .7 .9 .7-.6 .7 .7 .7-.8 .7 .8 .7-.4 .7 .2 .7 .1 .7-.4 .7 0 .7 .5 .7-.5 .7-.1 .7 .8 .7-.1 .7-.3 .7 .4 .7 .4 .7-.5 .7-.1 .7 .4 .7-.2 .7 .3 .7-.3 .7 .8 .7 .2 .7-.4 .7 .1 .7 .1 .7 .9 .7 .2 .7 0 .7-.2 .7 .2 .7 .9 .7-.4 .7 .8 .7 0 .7-.2 .7 .4 .7 1 .7-.4 .7 .6 .7 .4 .7-.2 .7 .4 .7 .6 .7 .1 .7 0 .7 .3 .7 .2 .7 .2 .7 .5 .7-.2 .7 .8 .7-.3 .7 .2 .7 1 .7-.7 .7 .7 .7 .4 .7 .2 .7 .7 .7 .1 .7 .1 .7-.2 .7 1.2 .7-.3 .7 .3 .7 .1 .7 .3 .7 .1 .7 .3 .7 .9 .7-.1 .7 .5 .7 .4 .7-.3 .7 .9 .7-.2 .7 .8 .7 .4 .7-.2 .7 .2 .7 .4 .7 .7 .7 .4 .7 0 .7 0 .7 .2 .7 .6 .7-.1 .7 .8 .7-.2 .7 .3 .7 0 .7 .2 .7 .4 .7 .1 .7 0 .7 0 .7-.2 .7 .1 .7 .2 .7 .5 .7 0 .7-.5 .7 .2 .7-.1 .7 .4 .7 .6 .7-.1 .7-.5 .7 .8 .7 0 .7 0 .7-.4 .7 .1 .7 .2 .7 .9 .7-.4 .7-.2 .7 .8 .7-.2 .7 0 .7 .1 .7-.1 .7 0 .7 .8 .7 .2 .7-.4 .7 .3 .7 .4 .7-.7 .7 1.1 .7-.8 .7 .3 .7-.2 .7 .3 .7 0 .7 .2 .7 .3 .7 .3 .7 0 .7 .3 .7 .3 .7-.6 .7 .2 .7 .3 .7-.3 .7-.1 .7 .9 .7-.3 .7-.1 .7 .4 .7-.3 .7 .2 .7-.2 .7 .4 .7-.1 .7 .3 .7 .4 .7 0 .7-.1 .7 0 .7 .4 .7-.6 .7 .8 .7-.7 .7 .8 .7-.3 .7 .2 .7 .4 .7-.9 .7 .4 .7-.1 .7 .2 .7 0 .7 .5 .7 .2 .7-.5 .7 .3 .7-.3 .7 .1 .7 .1 .7 0 .7 .9 .7-.5 .7 .4 .7 .2 .7-.5 .7 .3 .7 .3 .7-.1 .7 .2 .7-.5 .7 .9 .7 .2 .7 0 .7-.1 .7-.1 .7-.4 .7 0 .7 .4 .7-.2 .7 .5 .7 .3 .7-.6 .7 .4 .7-.3 .7 .8 .7-.3 .7 0 .7 0 .7-.2 .7 .8 .7-.4 .7 .5 .7-.1 .7 .1 .7-.5 .7 .4 .7 0 .7-.4 .7 .8 .7-.5 .7 .2 .7-.4 .7 .4" fill="none" stroke="#98df8a" stroke-width="1.2" stroke-linejoin="round"/>
<path d="M91.5 356.4l1-1.2 1 .7 1-.2 1-.9 1 1.3 1 0 1 .3 1 .8 1 .3 1 .4 1 .7 1 .6 1 .5 1 .3 1 .4 1-.1 1-.3 1 .3 1 1.3 1 .3 1 .7 1-.4 1 .7 1 1.7 1-.1 1 .6 1-.6 1 .9 1 1.2 1 0 1 .9 1-.8 1 .8 1 1 1-.1 1 1.1 1 .1 1-.2 1 .5 1 1.9 1-.9 1 .6 1 .7 1 1 1 .6 1-.2 1 .5 1 .8 1-.4 1 .5 1 .9 1 .4 1-.9 1 .5 1 .5 1 1.8 1 .4 1 1.2 1-.2 1-1.1 1 2 1 1.1 1-1.7 1-.8 1 1.7 1 0 1 0 1-.2 1 .6 1 3.5 1-3.3 1 2.8 1-1.6 1 .2 1 3.3 1-2.2 1-.3 1 1.8 1 1.8 1-.3 1 2.2 1-1.7 1 1.2 1 1.4 1-1 1 1.5 1-1 1-1.5 1 .3 1 3.7 1 .1 1 1.3 1-1 1-.3 1-1.9 1 4 1-3.5 1 2 1-1.2 1 1.7 1 0 1 2.6 1-2.1 1 3.1 1-3.5 1 5.1 1-3.5 1 1.3 1 2.9 1-3.1 1 1.2 1 .5 1-1.4 1 76.7" fill="none" stroke="#d62728" stroke-width="1.3" stroke-linejoin="round"/>
<path d="M258.5 473l1-112.6 1-.6 1-2.1 1-.6 1-.3 1-.9 1-.7 1-.7 1 1.4 1-.3 1 .9 1 .8 1 1.4 1 .2 1 .3 1 1.4 1-.5 1 .9 1 1.2 1 .4 1-.2 1 .9 1 1.3 1-.8 1 1.5 1-1.1 1 2.6 1-.2 1-.4 1 2.1 1 0 1-1.2 1 1.4 1 1.5 1 2.2 1-1.4 1 .6 1 1.6 1 .2 1 1.8 1 1.3 1 .3 1-.6 1-.1 1 2.6 1-.7 1 .4 1 .3 1 .9 1 1 1 .1 1 0 1-1 1-.3 1 0 1 3 1-2.6 1 2.2 1 1.5 1-1.8 1 .5 1 .4 1 2.4 1-.7 1 .9 1-2.9 1 3.1 1-.9 1 0 1 2 1-.2 1 1 1-.5 1 .9 1-1.9 1 .8 1 1.2 1-1.3 1-1.3 1 2.3 1 1.6 1 .4 1-3.2 1 1.7 1-.4 1 1 1 3.3 1-2.2 1-.1 1 .2 1 1.2 1 1.5 1-1.2 1-.3 1 .7 1 .7 1 3.6 1-3.1 1 3.4 1-2.6 1 3.7 1-2 1 3 1-1.2 1-1.2 1 .6 1 3.9 1-.8 1 .2 1-.1 1 1.9 1-.6 1-1.7 1 73.8" fill="none" stroke="#d62728" stroke-width="1.3" stroke-linejoin="round"/>
<path d="M469 473l1-93.3 1-1.4 1-2.8 1 0 1 1 1 .4 1-2.2 1 .4 1-.5 1 1.2 1 .6 1-.6 1-.7 1 1.1 1 .3 1-.8 1 1.9 1-.2 1 0 1-.1 1-.1 1 1 1 .1 1 .1 1 1.4 1 .5 1 1.1 1 .5 1-.9 1 1.1 1-.6 1 .8 1 1 1 1.9 1-2.3 1 1.9 1 .2 1 2.1 1 1.1 1-1.1 1-.9 1 1.9 1 .3 1 .6 1 .7 1-.8 1 .6 1 1.1 1-2.2 1 1 1 1.8 1 .9 1-.2 1-2.4 1 2.2 1-1.9 1 1.1 1-.5 1 2 1-.3 1 1.6 1 1.4 1 77.9" fill="none" stroke="#d62728" stroke-width="1.3" stroke-linejoin="round"/>
<path d="M55.7 473l0-39 0-9.4 .1-6.3 .1-4.8 .2-3.5 .3-1.5 .3 1.5 .1 3.5 .2 4.8 0 6.3 0 9.4 0 39zM58.1 473l0-33.9 0-9.4 .1-6.3 .1-4.8 .2-3.5 .3-1.5 .4 1.5 .2 3.5 .1 4.8 .1 6.3 0 9.4 0 33.9zM69.9 473l0-31.3 0-9.4 .1-6.4 0-4.8 .2-3.4 .3-1.5 .3 1.5 .1 3.4 .1 4.8 .1 6.4 0 9.4 0 31.3zM207 473l0-49 .1-9.4 .1-6.4 .3-4.8 .4-3.4 .8-1.5 .7 1.5 .5 3.4 .3 4.8 .1 6.4 0 9.4 .1 49zM210.4 473l0-45.1 0-9.4 0-6.4 .2-4.7 .2-3.5 .3-1.5 .4 1.5 .2 3.5 .1 4.7 .1 6.4 0 9.4 0 45.1zM211.9 473l0-50.9 .1-9.3 .1-6.4 .2-4.8 .3-3.4 .5-1.5 .6 1.5 .3 3.4 .2 4.8 .1 6.4 .1 9.3 0 50.9zM214.4 473l0-39.1 0-9.4 .1-6.4 .2-4.8 .3-3.4 .5-1.5 .5 1.5 .3 3.4 .2 4.8 .1 6.4 0 9.4 0 39.1zM216.6 473l0-40.4 .1-9.4 .1-6.3 .3-4.8 .5-3.5 .7-1.5 .7 1.5 .5 3.5 .3 4.8 .1 6.3 0 9.4 .1 40.4zM394.9 473l0-42.9 0-9.4 .1-6.4 .2-4.7 .4-3.5 .6-1.5 .6 1.5 .4 3.5 .2 4.7 .2 6.4 0 9.4 0 42.9zM397.6 473l0-44.9 .1-9.3 .3-6.4 .4-4.8 .9-3.4 1.3-1.6 1.3 1.6 .8 3.4 .5 4.8 .2 6.4 .1 9.3 0 44.9zM407.5 473l0-45.1 .1-9.3 .1-6.4 .2-4.8 .5-3.4 .7-1.6 .6 1.6 .5 3.4 .2 4.8 .2 6.4 0 9.3 0 45.1zM410.6 473l0-46.5 .1-9.4 .3-6.4 .4-4.7 .8-3.5 1.2-1.5 1.2 1.5 .8 3.5 .5 4.7 .2 6.4 .1 9.4 0 46.5zM416.2 473l0-40 .1-9.3 .2-6.4 .5-4.8 .8-3.5 1.2-1.5 1.3 1.5 .7 3.5 .5 4.8 .2 6.4 .1 9.3 0 40zM421.8 473l0-42.2 .1-9.4 .2-6.4 .3-4.7 .6-3.5 1-1.5 .9 1.5 .6 3.5 .3 4.7 .2 6.4 .1 9.4 0 42.2zM426.1 473l0-39.5 0-9.4 .2-6.3 .2-4.8 .4-3.5 .7-1.5 .6 1.5 .4 3.5 .3 4.8 .1 6.3 0 9.4 .1 39.5zM429.1 473l0-41.2 .1-9.3 .2-6.4 .4-4.8 .7-3.4 1-1.6 1.1 1.6 .7 3.4 .4 4.8 .2 6.4 .1 9.3 0 41.2zM438.5 473l0-42.6 .1-9.4 .3-6.3 .4-4.8 .8-3.5 1.2-1.5 1.3 1.5 .8 3.5 .4 4.8 .2 6.3 .1 9.4 .1 42.6zM444.2 473l0-50.1 0-9.4 .1-6.4 .3-4.8 .4-3.4 .7-1.5 .7 1.5 .4 3.4 .3 4.8 .1 6.4 0 9.4 0 50.1zM451.9 473l.1-47.3 0-9.4 .1-6.4 .2-4.8 .4-3.4 .7-1.5 .6 1.5 .4 3.4 .2 4.8 .1 6.4 .1 9.4 0 47.3zM454.8 473l0-40 0-9.4 .1-6.3 .2-4.8 .4-3.5 .6-1.5 .5 1.5 .4 3.5 .2 4.8 .1 6.3 .1 9.4 0 40zM457.4 473l0-44.3 0-9.4 .1-6.3 .3-4.8 .4-3.5 .6-1.5 .6 1.5 .4 3.5 .2 4.8 .1 6.3 .1 9.4 0 44.3zM460.9 473l0-37.9 0-9.3 .1-6.4 .2-4.8 .3-3.4 .5-1.6 .5 1.6 .4 3.4 .1 4.8 .1 6.4 .1 9.3 0 37.9zM532 473l0-50.2 .1-9.4 .2-6.4 .4-4.8 .6-3.4 1.1-1.5 1.1 1.5 .6 3.4 .4 4.8 .2 6.4 .1 9.4 0 50.2zM536.8 473l0-44.1 .1-9.4 .1-6.3 .2-4.8 .3-3.5 .6-1.5 .6 1.5 .4 3.5 .2 4.8 .1 6.3 0 9.4 0 44.1zM541.8 473l.1-50.7 .1-9.4 .2-6.3 .4-4.8 .8-3.5 1.3-1.5 1.2 1.5 .8 3.5 .4 4.8 .3 6.3 .1 9.4 0 50.7zM549.7 473l0-49.3 .1-9.4 .3-6.4 .4-4.8 .8-3.4 1.3-1.5 1.3 1.5 .8 3.4 .5 4.8 .2 6.4 .1 9.4 0 49.3zM559.5 473l0-46.9 .1-9.4 .2-6.3 .5-4.8 .8-3.5 1.3-1.5 1.3 1.5 .8 3.5 .4 4.8 .3 6.3 .1 9.4 0 46.9zM565.3 473l0-53.4 .1-9.4 .2-6.4 .5-4.8 .8-3.4 1.2-1.5 1.2 1.5 .8 3.4 .4 4.8 .3 6.4 .1 9.4 0 53.4zM570.9 473l0-45.5 0-9.4 .1-6.3 .3-4.8 .4-3.5 .6-1.5 .6 1.5 .3 3.5 .3 4.8 .1 6.3 0 9.4 0 45.5zM575.1 473l0-44.7 .1-9.4 .1-6.4 .3-4.8 .5-3.4 .7-1.5 .7 1.5 .5 3.4 .3 4.8 .1 6.4 .1 9.4 0 44.7zM582 473l0-53.1 .1-9.3 .1-6.4 .4-4.8 .6-3.5 1-1.5 1 1.5 .6 3.5 .4 4.8 .1 6.4 .1 9.3 0 53.1zM586.4 473l0-48.8 .1-9.4 .1-6.4 .2-4.8 .5-3.4 .6-1.5 .7 1.5 .4 3.4 .2 4.8 .1 6.4 .1 9.4 0 48.8zM590.8 473l.1-42.4 0-9.4 .2-6.3 .5-4.8 .7-3.5 1.1-1.5 1.2 1.5 .7 3.5 .4 4.8 .2 6.3 .1 9.4 0 42.4zM596.8 473l0-39.7 0-9.4 .2-6.3 .3-4.8 .6-3.5 .9-1.5 .9 1.5 .5 3.5 .3 4.8 .2 6.3 .1 9.4 0 39.7zM603.9 473l.1-43.9 0-9.4 .2-6.3 .3-4.8 .6-3.5 .9-1.5 .9 1.5 .6 3.5 .3 4.8 .2 6.3 .1 9.4 0 43.9zM608.1 473l0-42 .1-9.3 .2-6.4 .3-4.8 .6-3.4 1-1.6 .9 1.6 .6 3.4 .4 4.8 .1 6.4 .1 9.3 0 42zM619.9 473l0-40.6 0-9.4 .1-6.4 .2-4.8 .4-3.4 .6-1.5 .6 1.5 .4 3.4 .2 4.8 .1 6.4 0 9.4 .1 40.6zM627.5 473l0-52.4 .1-9.3 .2-6.4 .3-4.8 .7-3.4 1-1.5 1 1.5 .6 3.4 .4 4.8 .2 6.4 0 9.3 .1 52.4zM632.1 473l0-42.4 0-9.4 .2-6.3 .3-4.8 .5-3.5 .8-1.5 .8 1.5 .5 3.5 .3 4.8 .2 6.3 0 9.4 .1 42.4zM638.1 473l0-48.1 .1-9.4 .1-6.4 .3-4.7 .6-3.5 .8-1.5 .8 1.5 .5 3.5 .3 4.7 .2 6.4 0 9.4 0 48.1zM641.8 473l.1-40.8 0-9.3 .2-6.4 .3-4.8 .5-3.5 .8-1.5 .8 1.5 .6 3.5 .3 4.8 .1 6.4 .1 9.3 0 40.8z" fill="#d62728" stroke="#d62728" stroke-width="0.6"/>
<path d="M91.4 360.2l1-1.1 1 .9 1 .5 1-.3 1 .4 1 1.6 1 .2 1 .9 1 .1 1 .2 1-.2 1 .6 1 .9 1 .9 1-.1 1 1 1 .1 1 1.1 1 .1 1-.1 1 .2 1 .3 1 .5 1 2 1 .5 1 .3 1-.7 1 1.5 1-.4 1 1.8 1 .1 1 .7 1 .2 1 .2 1 1.4 1 .8 1-.7 1 .9 1 1.2 1 .5 1 .1 1 .7 1 1.4 1-.7 1 .4 1 1.3 1-.2 1 1.6 1-.5 1 1.6 1-.6 1 1.6 1 .1 1 .4 1-.9 1 .2 1 0 1 .7 1 1.9 1-1.5 1 .8 1 1.4 1-1.2 1 .9 1-.1 1 2.1 1-2 1 4 1-1.4 1 1 1-.3 1 .1 1 2.7 1 .1 1 0 1-3.6 1 3.2 1 2.2 1-1.2 1-.2 1 1 1-2.1 1 3.3 1 .6 1-3.5 1 2.6 1 .7 1-1 1 2 1 1.6 1 .2 1-3 1-.6 1 4.1 1 .1 1-2.7 1 .4 1 2.4 1-.8 1-1.3 1 1.5 .3 3.2 .3 5.2 .2 6.8 .2 8.5 .1 13.5 .1 35 0-35 .2-13.5 .1-8.5 .3-6.8 .3-5.2 .3-3.2 0 2.5 .3 3.1 .4 5.3 .3 6.8 .2 8.5 .1 13.4 .1 32.6 .1-32.6 .2-13.4 .2-8.5 .3-6.8 .3-5.3 .4-3.1 0-.1 .3 3.2 .4 5.2 .3 6.8 .2 8.5 .1 8.1 .1 0 .1 0 .1-8.1 .2-8.5 .3-6.8 .4-5.2 .3-3.2 0 69.8" fill="none" stroke="#ff9896" stroke-width="1.3" stroke-linejoin="round"/>
<path d="M258.6 473l1-109.3 1-.6 1-.1 1-.1 1-.6 1-.5 1-.5 1 .9 1-.9 1 .9 1-.4 1 2.2 1 1.1 1 0 1 .9 1-.2 1 1.7 1-1 1 1.4 1 .6 1 1.8 1-1.1 1 .5 1 .4 1 2.4 1-.8 1 2 1-.9 1 1.9 1-1.2 1 2.5 1 .9 1 .5 1 .3 1 1.4 1 .8 1 1 1-1.2 1 2.4 1 .6 1-.5 1 0 1 2.6 1-1 1 .5 1 1.5 1-1 1-.5 1 1.8 1-.2 1-.5 1 1.8 1 1.1 1-2.1 1 2.4 1 .2 1-.6 1-.8 1 2.2 1-1.1 1 .3 1 2.8 1-2 1-.3 1 3.5 1 1.1 1-2.5 1 .8 1 1 1 1.3 1-2.9 1 3.2 1-1.5 1 3.6 1-2 1 2.9 1-2 1 1.4 1-2.8 1 .9 1 .7 1 .5 1-.8 1 1.4 1-1.5 1 2.6 1 74.8" fill="none" stroke="#ff9896" stroke-width="1.3" stroke-linejoin="round"/>
<path d="M469.5 473l1-88.8 1-.7 1-1.4 1-.7 1 1.1 1-.3 1-1 1 2.2 1-1.9 1 1.3 1 0 1 .6 1 1.2 1 .6 1-.8 1 1 1 .7 1-1 1 .6 1 .5 1 1.4 1-.9 1 2 1-1.5 1 1.8 1 .3 1-1.3 1 1.2 1 2 1-.9 1-.7 1 1.7 1 .6 1 .2 1 .3 1 2.1 1-.5 1-.3 1 .4 1 1.4 1-1.5 1 1.1 1 1.3 1-2 1 .5 1-.1 1 2.5 1 .8 1-.2 1 .2 1-1.8 1 1.6 1 75.1" fill="none" stroke="#ff9896" stroke-width="1.3" stroke-linejoin="round"/>
<path d="M57 473l0-34.9 0-9.4 .1-6.4 .2-4.7 .4-3.5 .5-1.5 .6 1.5 .3 3.5 .2 4.7 .1 6.4 0 9.4 0 34.9zM71.3 473l0-40.7 .1-9.3 .1-6.4 .1-4.8 .3-3.4 .5-1.6 .5 1.6 .3 3.4 .2 4.8 .1 6.4 0 9.3 0 40.7zM75.9 473l0-42.5 .1-9.4 .1-6.4 .2-4.8 .3-3.4 .5-1.5 .5 1.5 .3 3.4 .2 4.8 .1 6.4 0 9.4 0 42.5zM81.3 473l0-32.8 0-9.3 .1-6.4 .2-4.8 .3-3.4 .5-1.5 .5 1.5 .3 3.4 .2 4.8 0 6.4 .1 9.3 0 32.8zM83.5 473l0-41.3 0-9.3 .1-6.4 .2-4.8 .3-3.4 .5-1.6 .4 1.6 .3 3.4 .2 4.8 .1 6.4 0 9.3 0 41.3zM201.7 473l0-38.3 .1-9.4 0-6.4 .2-4.8 .2-3.4 .4-1.5 .4 1.5 .2 3.4 .2 4.8 0 6.4 .1 9.4 0 38.3zM203.5 473l0-42.8 0-9.4 .1-6.4 .3-4.8 .4-3.4 .6-1.5 .6 1.5 .4 3.4 .2 4.8 .1 6.4 .1 9.4 0 42.8zM206.3 473l0-42 0-9.4 .1-6.3 .2-4.8 .4-3.5 .5-1.5 .6 1.5 .3 3.5 .2 4.8 .1 6.3 .1 9.4 0 42zM208.8 473l0-45 0-9.4 .1-6.4 .3-4.7 .3-3.5 .6-1.5 .6 1.5 .4 3.5 .2 4.7 .2 6.4 0 9.4 0 45zM211.5 473l0-38 .1-9.4 .1-6.4 .2-4.7 .3-3.5 .6-1.5 .6 1.5 .4 3.5 .2 4.7 .1 6.4 0 9.4 .1 38zM214.2 473l0-40.3 0-9.4 .1-6.3 .1-4.8 .3-3.5 .3-1.5 .4 1.5 .3 3.5 .1 4.8 .1 6.3 0 9.4 0 40.3zM217.8 473l.1-36.9 0-9.4 .1-6.4 .2-4.7 .3-3.5 .5-1.5 .5 1.5 .4 3.5 .2 4.7 0 6.4 .1 9.4 0 36.9zM367.4 473l0-45.1 .1-9.3 .2-6.4 .4-4.8 .7-3.4 1-1.6 1.1 1.6 .7 3.4 .4 4.8 .2 6.4 0 9.3 .1 45.1zM374.1 473l0-44.3 .1-9.4 0-6.4 .2-4.8 .3-3.4 .5-1.5 .4 1.5 .3 3.4 .2 4.8 .1 6.4 0 9.4 0 44.3zM382.4 473l.1-47.8 0-9.4 .1-6.4 .3-4.7 .5-3.5 .7-1.5 .8 1.5 .5 3.5 .3 4.7 .1 6.4 0 9.4 .1 47.8zM393.8 473l0-39.2 .1-9.4 .1-6.4 .2-4.7 .3-3.5 .6-1.5 .6 1.5 .3 3.5 .2 4.7 .1 6.4 .1 9.4 0 39.2zM396.4 473l0-46.1 0-9.4 .1-6.4 .3-4.7 .4-3.5 .6-1.5 .6 1.5 .4 3.5 .2 4.7 .1 6.4 .1 9.4 0 46.1zM399.2 473l0-50.8 .1-9.3 .1-6.4 .3-4.8 .5-3.4 .8-1.6 .8 1.6 .5 3.4 .2 4.8 .2 6.4 0 9.3 .1 50.8zM410 473l0-46.1 .1-9.4 .1-6.3 .1-4.8 .3-3.5 .4-1.5 .5 1.5 .3 3.5 .1 4.8 .1 6.3 0 9.4 .1 46.1zM412.1 473l0-39.9 0-9.4 .2-6.4 .3-4.8 .5-3.4 .8-1.5 .8 1.5 .5 3.4 .3 4.8 .1 6.4 .1 9.4 0 39.9zM418.2 473l0-47.9 .1-9.4 .2-6.3 .4-4.8 .7-3.5 1.1-1.5 1.1 1.5 .7 3.5 .4 4.8 .2 6.3 0 9.4 .1 47.9zM424.2 473l0-42.5 .1-9.4 .2-6.4 .4-4.8 .6-3.4 1.1-1.5 1.1 1.5 .6 3.4 .4 4.8 .2 6.4 .1 9.4 0 42.5zM429 473l0-45.4 .1-9.4 .1-6.4 .3-4.7 .5-3.5 .7-1.5 .8 1.5 .4 3.5 .3 4.7 .1 6.4 .1 9.4 0 45.4zM432.4 473l0-51.8 0-9.4 .2-6.4 .2-4.8 .3-3.4 .6-1.5 .6 1.5 .4 3.4 .2 4.8 .1 6.4 0 9.4 .1 51.8zM436.9 473l0-48.2 0-9.3 .2-6.4 .2-4.8 .5-3.4 .8-1.5 .7 1.5 .5 3.4 .3 4.8 .1 6.4 .1 9.3 0 48.2zM440.3 473l0-50.9 .1-9.4 .2-6.4 .3-4.8 .6-3.4 .9-1.5 1 1.5 .6 3.4 .3 4.8 .2 6.4 .1 9.4 0 50.9zM444.6 473l0-48.9 .1-9.4 .1-6.4 .3-4.8 .4-3.4 .8-1.5 .7 1.5 .5 3.4 .2 4.8 .2 6.4 0 9.4 0 48.9zM455.3 473l0-48.9 0-9.4 .1-6.4 .2-4.8 .3-3.4 .5-1.5 .5 1.5 .4 3.4 .2 4.8 0 6.4 .1 9.4 0 48.9zM457.6 473l0-48.3 0-9.4 .2-6.4 .2-4.8 .4-3.4 .6-1.5 .6 1.5 .3 3.4 .2 4.8 .2 6.4 0 9.4 0 48.3zM524.1 473l0-50.4 0-9.4 .2-6.4 .2-4.8 .4-3.4 .7-1.5 .7 1.5 .5 3.4 .2 4.8 .1 6.4 .1 9.4 0 50.4zM527.2 473l0-52 .1-9.4 .1-6.4 .3-4.7 .5-3.5 .8-1.5 .9 1.5 .5 3.5 .3 4.7 .1 6.4 .1 9.4 0 52zM530.9 473l0-40.6 .1-9.4 .1-6.4 .3-4.8 .4-3.4 .7-1.5 .7 1.5 .5 3.4 .2 4.8 .1 6.4 .1 9.4 0 40.6zM536 473l.1-41.8 0-9.4 .2-6.3 .3-4.8 .6-3.5 .9-1.5 .9 1.5 .6 3.5 .3 4.8 .2 6.3 .1 9.4 0 41.8zM556.9 473l.1-49.3 0-9.3 .2-6.4 .4-4.8 .6-3.4 .9-1.6 1 1.6 .6 3.4 .3 4.8 .2 6.4 .1 9.3 0 49.3zM562 473l0-50.6 0-9.4 .2-6.4 .2-4.7 .5-3.5 .7-1.5 .7 1.5 .4 3.5 .3 4.7 .1 6.4 .1 9.4 0 50.6zM568.5 473l0-46.8 .1-9.3 .1-6.4 .4-4.8 .7-3.4 1-1.5 1 1.5 .6 3.4 .4 4.8 .2 6.4 .1 9.3 0 46.8zM575.9 473l0-51.6 .1-9.3 .1-6.4 .3-4.8 .5-3.4 .7-1.6 .7 1.6 .5 3.4 .3 4.8 .1 6.4 0 9.3 .1 51.6zM579.3 473l0-43.2 0-9.4 .2-6.4 .2-4.7 .5-3.5 .8-1.5 .7 1.5 .5 3.5 .3 4.7 .1 6.4 .1 9.4 0 43.2zM584.8 473l0-51.2 .1-9.4 .1-6.4 .2-4.7 .4-3.5 .6-1.5 .6 1.5 .4 3.5 .2 4.7 .1 6.4 .1 9.4 0 51.2zM590.2 473l0-41.8 .1-9.4 .2-6.3 .3-4.8 .6-3.5 .9-1.5 1 1.5 .6 3.5 .3 4.8 .2 6.3 .1 9.4 0 41.8zM600.8 473l0-38 .1-9.4 .2-6.4 .3-4.8 .5-3.4 .9-1.5 .8 1.5 .6 3.4 .3 4.8 .2 6.4 0 9.4 0 38zM606.7 473l.1-47.6 0-9.3 .1-6.4 .2-4.8 .3-3.4 .4-1.6 .5 1.6 .3 3.4 .2 4.8 .1 6.4 0 9.3 0 47.6zM612.6 473l0-39.6 .1-9.4 .1-6.3 .3-4.8 .5-3.5 .8-1.5 .8 1.5 .5 3.5 .3 4.8 .1 6.3 .1 9.4 0 39.6zM616.2 473l0-40.7 .1-9.4 .1-6.3 .3-4.8 .6-3.5 .8-1.5 .9 1.5 .5 3.5 .3 4.8 .2 6.3 .1 9.4 0 40.7zM624.6 473l0-40.7 .1-9.3 .1-6.4 .4-4.8 .6-3.4 .9-1.6 1 1.6 .6 3.4 .3 4.8 .2 6.4 .1 9.3 0 40.7zM630.7 473l0-41.6 .1-9.4 .1-6.4 .3-4.7 .5-3.5 .8-1.5 .8 1.5 .5 3.5 .2 4.7 .2 6.4 0 9.4 0 41.6zM642.5 473l0-42.8 0-9.4 .1-6.4 .2-4.7 .3-3.5 .4-1.5 .5 1.5 .2 3.5 .2 4.7 .1 6.4 0 9.4 0 42.8zM644.5 473l0-37.2 .1-9.3 .1-6.4 .3-4.8 .4-3.4 .7-1.5 .6 1.5 .5 3.4 .2 4.8 .1 6.4 .1 9.3 0 37.2z" fill="#ff9896" stroke="#ff9896" stroke-width="0.6"/>
<path d="M93.4 361.4l1 .6 1 .6 1 .3 1-.1 1 2.1 1-.4 1-.5 1 1.2 1 .4 1 0 1 1.7 1-1.1 1 1.8 1-.2 1-.2 1 .8 1 .7 1-.1 1 1.7 1 .3 1 1.1 1 .2 1 .4 1 .9 1 .4 1 0 1 .3 1 .5 1 1 1 .7 1 .3 1 .6 1-.9 1 1.3 1 0 1 1.5 1 .6 1 .5 1 1.2 1-.6 1 1.5 1 .2 1-.1 1 1.8 1-1.1 1 1.2 1 .6 1 .7 1 1.3 1-.5 1 1.2 1-1 1 .8 1-.5 1 1.8 1-.2 1 1.5 1-1.8 1 1.5 1 2 1-3.1 1 2.7 1 .4 1 .5 1-.4 1 .1 1 2.3 1-2.6 1 2.3 1 .3 1 .7 1-.8 1-1.9 1 4.2 1-2.1 1 2.9 1 1.4 1-.7 1-1.6 1 2.8 1-2.1 1 0 1 1.5 1 .7 1 .5 1-1.2 1-.2 1-1.5 .3 3.2 .4 5.3 .3 6.7 .2 8.6 .2 9.9 0 0 .1 0 .2-9.9 .2-8.6 .3-6.7 .4-5.3 .3-3.2 0 3 .4 3.2 .3 5.2 .3 6.8 .2 8.5 .2 13.4 .1 7.7 0-7.7 .2-13.4 .2-8.5 .3-6.8 .3-5.2 .4-3.2 0-1.2 1 5.1 1-4.9 1 .7 1 2.7 1-2 1 1 1 3.8 1-5 1 2.7 1 2.2 .3 3.1 .3 5.3 .2 6.8 .2 8.5 .1 13.4 .1 30.8 .1-30.8 .1-13.4 .2-8.5 .2-6.8 .4-5.3 .3-3.1 0 67.9" fill="none" stroke="#9467bd" stroke-width="1.3" stroke-linejoin="round"/>
<path d="M258.6 473l1-106.3 1-1 1-1.4 1 .1 1-.3 1-1.5 1-.5 1 .3 1 2.1 1-1.2 1 1.5 1-.7 1 .8 1 .6 1 2.1 1-.9 1 1.5 1 1.5 1 .1 1-.6 1 .6 1 2.5 1-.8 1 0 1 1.7 1 1.2 1-.7 1 .1 1 .7 1 1.3 1 1.3 1-1.2 1 2.7 1 .6 1 .4 1 .3 1-.2 1 2.1 1 .5 1 1.6 1-1 1 .8 1-.2 1 1.8 1-1 1 1.8 1 0 1 0 1-.1 1 2.8 1-1.2 1-1 1 2 1 1 1-.7 1 1.9 1 .1 1-.2 1-2.1 1 1.9 1 .8 1-1 1 1.8 1 1.1 1 .7 1 .5 1 .4 1-1.6 1 1.8 1-.1 1 1.5 1-2.5 1 3.1 1-1.9 1 3 1-1.1 .2 3.1 .3 5.3 .2 6.8 .1 8.5 .1 13.4 .1 38.9 0-38.9 .1-13.4 .2-8.5 .2-6.8 .2-5.3 .3-3.1 0 3 1-4.1 1 4.6 1 .1 1-.2 1-.7 1-1 1 1.3 1 .5 .2 3.1 .3 5.3 .2 6.8 .1 8.5 .1 10.6 0 0 .1 0 .1-10.6 .1-8.5 .2-6.8 .3-5.3 .2-3.1 0 72.5" fill="none" stroke="#9467bd" stroke-width="1.3" stroke-linejoin="round"/>
<path d="M469.5 473l1-88.6 1-1.6 1 .2 1 .9 1-.7 1 .7 1 1.2 1-2.1 1 .7 1 .9 1-.5 1 1.7 1 .5 1-1.6 1 1.1 1 1.3 1-1.4 1 1.5 1 1 1 .8 1-1.4 1 2.2 1-.4 1 .8 1-1 1 0 1 1.6 1 1.9 1-1.8 1 2.6 1 .5 1-1.2 1 .4 1 2 1-2.7 1 2.3 1-1 1 2.4 1-.5 1 .8 1-.5 1 2 1 .1 1-2.5 1 2.2 1-.9 1 2.8 1 .3 1 73" fill="none" stroke="#9467bd" stroke-width="1.3" stroke-linejoin="round"/>
<path d="M55.7 473l0-39.2 0-9.4 .1-6.4 .2-4.8 .2-3.4 .5-1.5 .4 1.5 .2 3.4 .2 4.8 .1 6.4 0 9.4 0 39.2zM77.7 473l0-30.1 0-9.4 .1-6.3 .1-4.8 .3-3.5 .4-1.5 .4 1.5 .3 3.5 .1 4.8 .1 6.3 0 9.4 .1 30.1zM79.6 473l0-36.4 0-9.3 .1-6.4 .1-4.8 .3-3.4 .5-1.6 .4 1.6 .3 3.4 .2 4.8 .1 6.4 0 9.3 0 36.4zM203.5 473l0-40.4 .1-9.4 .1-6.3 .2-4.8 .4-3.5 .6-1.5 .6 1.5 .4 3.5 .2 4.8 .1 6.3 .1 9.4 0 40.4zM208.6 473l0-35.5 0-9.4 .1-6.3 .3-4.8 .4-3.5 .6-1.5 .7 1.5 .4 3.5 .2 4.8 .1 6.3 .1 9.4 0 35.5zM211.5 473l0-33.1 0-9.3 .1-6.4 .1-4.8 .2-3.4 .4-1.5 .3 1.5 .3 3.4 .1 4.8 .1 6.4 0 9.3 0 33.1zM213.1 473l0-38.5 0-9.3 .1-6.4 .2-4.8 .3-3.4 .5-1.6 .5 1.6 .3 3.4 .2 4.8 .1 6.4 0 9.3 0 38.5zM346.5 473l0-41.2 .1-9.4 .2-6.3 .3-4.8 .6-3.5 .9-1.5 1 1.5 .6 3.5 .3 4.8 .2 6.3 .1 9.4 0 41.2zM350.8 473l0-52.7 0-9.4 .2-6.3 .3-4.8 .4-3.5 .8-1.5 .7 1.5 .5 3.5 .3 4.8 .1 6.3 .1 9.4 0 52.7zM354.2 473l0-42.6 .1-9.4 0-6.3 .2-4.8 .4-3.5 .5-1.5 .6 1.5 .3 3.5 .2 4.8 .1 6.3 0 9.4 0 42.6zM359.7 473l0-48.3 0-9.3 .2-6.4 .2-4.8 .5-3.4 .7-1.6 .7 1.6 .5 3.4 .2 4.8 .1 6.4 .1 9.3 0 48.3zM372 473l.1-48.8 0-9.4 .2-6.4 .4-4.8 .6-3.4 1-1.5 1 1.5 .6 3.4 .4 4.8 .2 6.4 .1 9.4 0 48.8zM376.6 473l0-39.6 .1-9.4 .1-6.3 .4-4.8 .5-3.5 1-1.5 .9 1.5 .6 3.5 .3 4.8 .2 6.3 0 9.4 0 39.6zM380.7 473l.1-46 0-9.3 .2-6.4 .3-4.8 .6-3.4 .9-1.6 .9 1.6 .6 3.4 .3 4.8 .2 6.4 .1 9.3 0 46zM384.9 473l0-49.1 .1-9.4 .1-6.3 .3-4.8 .5-3.5 .8-1.5 .8 1.5 .5 3.5 .3 4.8 .2 6.3 0 9.4 0 49.1zM388.5 473l.1-42.5 0-9.4 .1-6.3 .3-4.8 .5-3.5 .7-1.5 .7 1.5 .4 3.5 .3 4.8 .1 6.3 .1 9.4 0 42.5zM391.8 473l0-43.5 0-9.4 .1-6.4 .2-4.7 .4-3.5 .6-1.5 .6 1.5 .4 3.5 .2 4.7 .1 6.4 0 9.4 0 43.5zM394.4 473l0-42.1 .1-9.3 .2-6.4 .2-4.8 .6-3.4 .8-1.6 .8 1.6 .5 3.4 .3 4.8 .1 6.4 .1 9.3 0 42.1zM398.1 473l0-38 .1-9.3 .2-6.4 .4-4.8 .6-3.4 1.1-1.6 1 1.6 .6 3.4 .4 4.8 .2 6.4 .1 9.3 0 38zM402.8 473l0-50 0-9.3 .1-6.4 .2-4.8 .3-3.5 .5-1.5 .5 1.5 .3 3.5 .2 4.8 .1 6.4 0 9.3 0 50zM411.3 473l0-40.1 .1-9.4 .2-6.3 .4-4.8 .7-3.5 1-1.5 1 1.5 .7 3.5 .4 4.8 .2 6.3 0 9.4 .1 40.1zM422.3 473l0-41.8 .1-9.4 .1-6.3 .2-4.8 .3-3.5 .5-1.5 .6 1.5 .3 3.5 .2 4.8 .1 6.3 0 9.4 0 41.8zM424.7 473l.1-43.6 0-9.3 .2-6.4 .3-4.8 .5-3.4 .8-1.6 .8 1.6 .5 3.4 .3 4.8 .1 6.4 .1 9.3 0 43.6zM428.4 473l0-41.1 0-9.4 .1-6.3 .2-4.8 .2-3.5 .5-1.5 .5 1.5 .2 3.5 .2 4.8 .1 6.3 0 9.4 0 41.1zM433.3 473l0-42.7 0-9.4 .1-6.4 .3-4.7 .4-3.5 .7-1.5 .6 1.5 .4 3.5 .3 4.7 .1 6.4 0 9.4 .1 42.7zM436.3 473l0-44.2 0-9.4 .2-6.4 .3-4.8 .6-3.4 1-1.5 .9 1.5 .6 3.4 .3 4.8 .2 6.4 .1 9.4 0 44.2zM443.6 473l0-44.2 0-9.4 .1-6.3 .2-4.8 .4-3.5 .6-1.5 .6 1.5 .3 3.5 .2 4.8 .1 6.3 .1 9.4 0 44.2zM450.6 473l0-48.3 .1-9.4 .1-6.4 .2-4.7 .4-3.5 .6-1.5 .6 1.5 .4 3.5 .2 4.7 .1 6.4 .1 9.4 0 48.3zM453.4 473l0-40.1 0-9.3 .1-6.4 .2-4.8 .4-3.4 .5-1.6 .5 1.6 .4 3.4 .2 4.8 .1 6.4 0 9.3 0 40.1zM464.2 473l.1-45.3 0-9.4 .1-6.3 .3-4.8 .4-3.5 .7-1.5 .8 1.5 .4 3.5 .3 4.8 .1 6.3 0 9.4 .1 45.3zM467.5 473l0-40.7 0-9.4 .2-6.3 .3-4.8 .5-3.5 .8-1.5 .8 1.5 .5 3.5 .3 4.8 .1 6.3 .1 9.4 0 40.7zM522.4 473l0-43.3 .1-9.4 .1-6.4 .4-4.8 .7-3.4 1-1.5 1.1 1.5 .6 3.4 .4 4.8 .2 6.4 .1 9.4 0 43.3zM527.1 473l0-41.4 .1-9.4 .2-6.4 .3-4.8 .7-3.4 1-1.5 1 1.5 .6 3.4 .4 4.8 .1 6.4 .1 9.4 0 41.4zM531.6 473l.1-40.1 0-9.4 .2-6.4 .4-4.7 .7-3.5 1-1.5 1.1 1.5 .7 3.5 .4 4.7 .1 6.4 .1 9.4 0 40.1zM537.3 473l0-39.8 0-9.4 .1-6.3 .2-4.8 .3-3.5 .5-1.5 .5 1.5 .3 3.5 .2 4.8 .1 6.3 0 9.4 0 39.8zM539.5 473l0-45.8 .1-9.4 .1-6.4 .2-4.8 .4-3.4 .7-1.5 .6 1.5 .4 3.4 .2 4.8 .1 6.4 .1 9.4 0 45.8zM542.4 473l0-49 0-9.4 .2-6.4 .2-4.7 .4-3.5 .6-1.5 .6 1.5 .4 3.5 .3 4.7 .1 6.4 0 9.4 0 49zM546 473l0-49.1 .1-9.4 .1-6.4 .2-4.8 .4-3.4 .6-1.5 .7 1.5 .4 3.4 .2 4.8 .1 6.4 .1 9.4 0 49.1zM548.9 473l0-49.3 .1-9.3 .1-6.4 .4-4.8 .6-3.4 .9-1.6 .9 1.6 .6 3.4 .3 4.8 .2 6.4 .1 9.3 0 49.3zM561 473l0-38.9 0-9.3 .1-6.4 .2-4.8 .3-3.4 .4-1.6 .5 1.6 .3 3.4 .2 4.8 .1 6.4 0 9.3 0 38.9zM563.1 473l0-45.7 .1-9.4 .1-6.4 .3-4.7 .5-3.5 .7-1.5 .8 1.5 .5 3.5 .2 4.7 .2 6.4 0 9.4 0 45.7zM566.5 473l.1-43.6 0-9.4 .1-6.3 .3-4.8 .4-3.5 .7-1.5 .7 1.5 .5 3.5 .2 4.8 .2 6.3 0 9.4 0 43.6zM571 473l0-38 0-9.4 .2-6.4 .3-4.8 .5-3.4 .9-1.5 .8 1.5 .5 3.4 .4 4.8 .1 6.4 .1 9.4 0 38zM574.8 473l0-37.8 0-9.4 .2-6.3 .2-4.8 .4-3.5 .6-1.5 .7 1.5 .4 3.5 .2 4.8 .1 6.3 0 9.4 .1 37.8zM578.3 473l.1-44.5 0-9.3 .2-6.4 .3-4.8 .5-3.4 .8-1.6 .9 1.6 .5 3.4 .3 4.8 .1 6.4 .1 9.3 0 44.5zM582.1 473l0-48.4 .1-9.4 .1-6.3 .3-4.8 .4-3.5 .7-1.5 .7 1.5 .5 3.5 .3 4.8 .1 6.3 0 9.4 .1 48.4zM591.4 473l.1-41.9 0-9.4 .2-6.3 .3-4.8 .5-3.5 .8-1.5 .9 1.5 .5 3.5 .3 4.8 .2 6.3 0 9.4 0 41.9zM597.1 473l0-49.1 0-9.4 .2-6.4 .3-4.8 .5-3.4 .8-1.5 .8 1.5 .5 3.4 .3 4.8 .2 6.4 0 9.4 .1 49.1zM600.8 473l0-44.6 .1-9.4 .2-6.4 .3-4.8 .7-3.4 1.1-1.5 1.1 1.5 .7 3.4 .4 4.8 .2 6.4 .1 9.4 0 44.6zM605.7 473l0-48.6 .1-9.3 .2-6.4 .4-4.8 .6-3.4 1.1-1.6 1.1 1.6 .7 3.4 .4 4.8 .2 6.4 0 9.3 .1 48.6zM614.3 473l0-49.6 0-9.4 .1-6.3 .3-4.8 .4-3.5 .7-1.5 .7 1.5 .4 3.5 .3 4.8 .1 6.3 .1 9.4 0 49.6zM617.4 473l0-48.7 0-9.4 .1-6.4 .2-4.8 .4-3.4 .5-1.5 .5 1.5 .4 3.4 .2 4.8 .1 6.4 0 9.4 0 48.7zM622.5 473l0-38 .1-9.4 .1-6.4 .4-4.8 .6-3.4 1-1.5 1 1.5 .6 3.4 .4 4.8 .1 6.4 .1 9.4 0 38zM628.1 473l0-49 .1-9.4 .1-6.4 .2-4.8 .3-3.4 .5-1.5 .6 1.5 .3 3.4 .2 4.8 .1 6.4 .1 9.4 0 49zM635 473l0-45.5 0-9.3 .1-6.4 .2-4.8 .3-3.4 .4-1.6 .5 1.6 .3 3.4 .1 4.8 .1 6.4 0 9.3 0 45.5zM637 473l0-46 .1-9.4 .1-6.3 .1-4.8 .3-3.5 .5-1.5 .5 1.5 .3 3.5 .2 4.8 .1 6.3 0 9.4 0 46zM644.2 473l0-38.6 .1-9.4 .2-6.3 .4-4.8 .7-3.5 1.1-1.5 1.1 1.5 .7 3.5 .4 4.8 .2 6.3 0 9.4 .1 38.6z" fill="#9467bd" stroke="#9467bd" stroke-width="0.6"/>
<path d="M91.3 368l1 .2 1-.9 1 1.1 1 1.5 1 .9 1-.3 1 .1 1 1 1-.1 1 .8 1 1.2 1 .5 1-.6 1 1.4 1 .3 1 .5 1-.1 1 .9 1-.1 1 1.5 1 .3 1 .4 1 0 1 1.4 1-.6 1 .2 1 .7 1 1.5 1-.9 1 1.6 1 .8 1 .4 1-.3 1 .5 1 1.4 1 .3 1 .8 1-.5 1 1.4 1 .8 1-.3 1 .6 1 1.7 1 .1 1 .3 1 .7 1 .2 1 .6 1 .3 1 1.1 1 .1 1 2.1 1 .5 1-.4 1-.9 1 1.7 1-.8 1 1 1-.4 1 1.6 1-1 1 1 1 .3 1 1.3 1 2.2 1-.9 1 1.2 1 .3 1-.4 .2 3.2 .2 5.2 .2 6.8 .1 8.5 .1 2.1 0 0 .1 0 .1-2.1 .1-8.5 .2-6.8 .2-5.2 .2-3.2 0 1 1 2.5 1-3.2 1 2.9 .3 3.2 .2 5.2 .2 6.8 .2 8.5 .1 13.5 .1 18.9 0-18.9 .1-13.5 .2-8.5 .2-6.8 .3-5.2 .2-3.2 0 1.5 1 .4 1 .5 1-3.2 1 3 1-1 1 .3 1 .5 1-2.6 1 1.4 .3 3.2 .3 5.3 .3 6.7 .2 8.6 .1 13.4 0 30 .1-30 .1-13.4 .2-8.6 .3-6.7 .3-5.3 .3-3.2 0 .8 1 1.7 .3 3.1 .3 5.3 .3 6.7 .2 8.6 .1 13.4 .1 10.9 .1-10.9 .1-13.4 .2-8.6 .3-6.7 .3-5.3 .3-3.1 0-.4 1-1.7 1 3.1 1-2.7 1 2.8 .3 3.1 .3 5.3 .2 6.8 .2 8.5 .1 3.8 .1 0 .1 0 .1-3.8 .1-8.5 .3-6.8 .3-5.3 .3-3.1 0 .4 .3 3.1 .4 5.3 .3 6.7 .2 8.6 .1 13.4 .1 26.1 .1-26.1 .2-13.4 .2-8.6 .3-6.7 .3-5.3 .4-3.1 0-1.1 1-1.3 1-.5 1 2.5 1-1.5 1 2.7 1-4.4 1 1 1 2.5 1 63.3" fill="none" stroke="#c5b0d5" stroke-width="1.2" stroke-linejoin="round"/>
<path d="M258.7 473l1-102 1 .4 1-1.6 1-1.2 1-.8 1 .9 1-.9 1 1.2 1-.7 1 1.8 1 .6 1-.5 1 1.7 1 1 1-.6 1 1.3 1 2 1 .7 1-.1 1 .8 1-.5 1 2.7 1 1.1 1-.2 1 0 1 .5 1 2 1 1 1 .5 1 1.4 1-1.4 1 .5 1 .8 1 1.2 1-.2 1 1.1 1 .4 1 2.3 1-.3 1-.4 1 1.5 1-.5 1 3.1 1-2.2 1 1.3 1 2 1 1.9 1 .1 1-.9 1 2.5 1 1.4 1 1.5 1-.1 1-.5 1 2.9 1 .5 1 1.6 1-1.8 1 3.2 1-.6 1-.3 1 0 1-1.2 1 2.8 1-3.6 1 1.6 1-2.1 1-.1 1-1.8 1 .8 1 1.1 1-.2 1 .8 1-4.2 .3 3.2 .3 5.2 .3 6.8 .1 8.5 .1 8.2 .1 0 .1 0 .1-8.2 .2-8.5 .2-6.8 .3-5.2 .3-3.2 0 .9 1 .5 1 .9 1-1.2 1-.8 1 2 1-1 .3 3.2 .4 5.3 .2 6.7 .2 8.6 .1 13.4 .1 .3 .1-.3 .1-13.4 .2-8.6 .2-6.7 .4-5.3 .3-3.2 0 1.4 .2 3.1 .2 5.3 .2 6.8 .1 8.5 .1 13.4 0 18.9 .1-18.9 .1-13.4 .1-8.5 .2-6.8 .2-5.3 .2-3.1 0 4.1 1-3.5 1-.2 1-.6 1 4.2 1 66.3" fill="none" stroke="#c5b0d5" stroke-width="1.2" stroke-linejoin="round"/>
<path d="M469.6 473l1-81.9 1 1.4 1-.5 1 .8 1-3 1 .8 1-.2 1-.3 1 .3 1-.5 1 .7 1 1.8 1-.9 1 1.6 1-1.6 1 .3 1 2.2 1-1 1 1.7 1-1.6 1 1.9 1 1 1-1.1 1 2 1 .1 1 .7 1-.9 1-.1 1 1.2 1 .8 1 .6 1 3 1-1.3 1 2.4 1 .4 1 .9 1 .9 1 .7 1 66.7" fill="none" stroke="#c5b0d5" stroke-width="1.2" stroke-linejoin="round"/>
<path d="M202.3 473l0-43.2 .1-9.4 .1-6.4 .2-4.8 .4-3.4 .7-1.5 .6 1.5 .4 3.4 .2 4.8 .1 6.4 .1 9.4 0 43.2zM205.2 473l0-41.9 0-9.3 .1-6.4 .2-4.8 .2-3.4 .5-1.6 .4 1.6 .3 3.4 .1 4.8 .1 6.4 0 9.3 0 41.9zM368.6 473l0-34.1 0-9.4 .1-6.4 .2-4.8 .3-3.4 .5-1.5 .5 1.5 .3 3.4 .2 4.8 .1 6.4 0 9.4 0 34.1zM375.3 473l0-33.9 .1-9.3 .2-6.4 .3-4.8 .5-3.5 .9-1.5 .8 1.5 .5 3.5 .4 4.8 .1 6.4 .1 9.3 0 33.9zM379.2 473l0-45.7 0-9.4 .1-6.3 .2-4.8 .4-3.5 .5-1.5 .5 1.5 .4 3.5 .2 4.8 .1 6.3 0 9.4 0 45.7zM381.6 473l0-44.6 0-9.4 .1-6.3 .2-4.8 .3-3.5 .4-1.5 .4 1.5 .3 3.5 .2 4.8 .1 6.3 0 9.4 0 44.6zM388.4 473l0-43.9 .1-9.3 .1-6.4 .3-4.8 .5-3.4 .8-1.5 .8 1.5 .5 3.4 .2 4.8 .2 6.4 0 9.3 .1 43.9zM396.5 473l0-42.4 .1-9.4 .1-6.3 .3-4.8 .5-3.5 .8-1.5 .8 1.5 .5 3.5 .3 4.8 .2 6.3 0 9.4 0 42.4zM401.4 473l0-43.6 .1-9.3 .1-6.4 .3-4.8 .6-3.4 .9-1.5 .8 1.5 .6 3.4 .3 4.8 .2 6.4 0 9.3 0 43.6zM405.3 473l.1-40.8 0-9.4 .2-6.4 .3-4.8 .5-3.4 .9-1.5 .8 1.5 .6 3.4 .3 4.8 .1 6.4 .1 9.4 0 40.8zM409.2 473l0-42 .1-9.3 .1-6.4 .3-4.8 .4-3.4 .7-1.6 .8 1.6 .4 3.4 .3 4.8 .1 6.4 .1 9.3 0 42zM424 473l0-38.9 0-9.4 .1-6.3 .2-4.8 .3-3.5 .5-1.5 .4 1.5 .3 3.5 .2 4.8 .1 6.3 0 9.4 0 38.9zM434.7 473l0-33 0-9.4 .1-6.4 .2-4.8 .3-3.4 .6-1.5 .5 1.5 .3 3.4 .2 4.8 .1 6.4 .1 9.4 0 33zM437.1 473l0-42.4 0-9.3 .2-6.4 .3-4.8 .6-3.5 .9-1.5 .8 1.5 .6 3.5 .3 4.8 .2 6.4 0 9.3 .1 42.4zM443.1 473l0-38.9 .1-9.4 .1-6.3 .3-4.8 .5-3.5 .7-1.5 .8 1.5 .4 3.5 .3 4.8 .1 6.3 .1 9.4 0 38.9zM454.7 473l0-35.1 0-9.4 .1-6.4 .2-4.7 .3-3.5 .6-1.5 .5 1.5 .3 3.5 .2 4.7 .1 6.4 0 9.4 .1 35.1zM458.1 473l0-42.6 0-9.4 .2-6.4 .3-4.8 .4-3.4 .8-1.5 .8 1.5 .4 3.4 .3 4.8 .2 6.4 0 9.4 0 42.6zM463.9 473l0-36.4 .1-9.4 .1-6.3 .2-4.8 .3-3.5 .6-1.5 .6 1.5 .4 3.5 .2 4.8 .1 6.3 0 9.4 0 36.4zM519.4 473l0-31.7 0-9.3 .1-6.4 .2-4.8 .3-3.4 .5-1.6 .4 1.6 .3 3.4 .2 4.8 .1 6.4 0 9.3 0 31.7zM535 473l0-35.6 0-9.3 .1-6.4 .3-4.8 .4-3.4 .6-1.6 .6 1.6 .4 3.4 .2 4.8 .1 6.4 .1 9.3 0 35.6zM537.8 473l0-38.7 0-9.4 .2-6.3 .2-4.8 .4-3.5 .7-1.5 .7 1.5 .4 3.5 .2 4.8 .1 6.3 .1 9.4 0 38.7zM548.3 473l0-37.3 0-9.4 .1-6.3 .1-4.8 .3-3.5 .5-1.5 .4 1.5 .3 3.5 .2 4.8 .1 6.3 0 9.4 0 37.3zM565.9 473l0-39.9 .1-9.3 .1-6.4 .1-4.8 .3-3.4 .5-1.5 .5 1.5 .2 3.4 .2 4.8 .1 6.4 0 9.3 0 39.9zM573.2 473l0-41.2 0-9.4 .1-6.3 .2-4.8 .4-3.5 .5-1.5 .6 1.5 .3 3.5 .2 4.8 .1 6.3 .1 9.4 0 41.2zM579.6 473l0-31.8 .1-9.4 .1-6.3 .3-4.8 .5-3.5 .9-1.5 .8 1.5 .5 3.5 .4 4.8 .1 6.3 .1 9.4 0 31.8zM583.4 473l0-31.2 0-9.4 .1-6.3 .2-4.8 .3-3.5 .5-1.5 .5 1.5 .4 3.5 .2 4.8 .1 6.3 0 9.4 0 31.2zM585.7 473l0-31.2 .1-9.4 .1-6.3 .2-4.8 .4-3.5 .6-1.5 .6 1.5 .4 3.5 .2 4.8 .1 6.3 .1 9.4 0 31.2zM588.5 473l0-37.1 0-9.3 .1-6.4 .3-4.8 .4-3.4 .7-1.6 .7 1.6 .4 3.4 .3 4.8 .1 6.4 0 9.3 0 37.1zM601.9 473l0-33 0-9.4 .1-6.4 .2-4.8 .2-3.4 .5-1.5 .4 1.5 .3 3.4 .2 4.8 .1 6.4 0 9.4 0 33zM603.9 473l0-33.1 0-9.4 .1-6.3 .2-4.8 .3-3.5 .5-1.5 .5 1.5 .4 3.5 .2 4.8 0 6.3 .1 9.4 0 33.1zM620 473l0-29.7 0-9.4 .1-6.4 .2-4.7 .4-3.5 .6-1.5 .7 1.5 .3 3.5 .3 4.7 .1 6.4 0 9.4 0 29.7zM622.7 473l0-31.4 .1-9.4 .1-6.4 .2-4.7 .4-3.5 .5-1.5 .6 1.5 .4 3.5 .2 4.7 .1 6.4 0 9.4 0 31.4zM627.9 473l0-34.7 .1-9.4 .2-6.3 .3-4.8 .5-3.5 .9-1.5 .9 1.5 .5 3.5 .4 4.8 .1 6.3 .1 9.4 0 34.7zM631.9 473l0-41.6 0-9.4 .1-6.4 .2-4.8 .3-3.4 .5-1.5 .5 1.5 .4 3.4 .1 4.8 .1 6.4 .1 9.4 0 41.6z" fill="#c5b0d5" stroke="#c5b0d5" stroke-width="0.6"/>
<path d="M90.8 392.3l1-22.3 1-.2 1 .1 1 1.2 1-.3 1 .3 1 1 1 .5 1 1.1 1 .3 1 .3 1 0 1 1.7 1 .3 1 .4 1 .7 1 .7 1-1 1 .7 1 .9 1 .8 1 .1 1 .4 1 0 1 .3 1 1.6 1 .7 1-.4 1 .5 1-.2 1 1.4 1-.2 1 1.2 1-.1 1 .9 1 1.3 1-.4 1 1 1 .2 1 1 1 1.3 1-.1 1 1.4 1-.4 1 .7 1 .9 1 .4 1 .9 1-.1 1 0 1 1.4 1-.3 1 .8 1 1.2 1 .7 1 1 1-.2 1 0 1-.2 1 .8 1-.2 1-.3 1 2 1 .8 1-.8 1 2.1 1-.4 1-.5 1 2.7 1-3 1 1.6 1 .8 1 .3 1-.2 1 2.1 1-.9 1 2.6 1-.7 1-.8 1 .7 1 1.9 .2 3.1 .2 5.3 .2 6.8 .1 8.5 .1 13.4 .1 27.1 0-27.1 .1-13.4 .1-8.5 .2-6.8 .2-5.3 .2-3.1 0-1.7 1 2.4 1-2.1 .3 3.2 .2 5.3 .2 6.7 .1 8.6 .1 13.4 .1 22.6 0-22.6 .1-13.4 .1-8.6 .2-6.7 .2-5.3 .3-3.2 0 1.6 1 .5 1-.3 1-.8 .2 3.1 .2 5.3 .2 6.7 .1 8.6 .1 13.4 0 27.5 .1-27.5 0-13.4 .2-8.6 .1-6.7 .3-5.3 .2-3.1 0-1.8 1 3.1 1 .7 1-2.1 1-1.6 1 5.5 1-.6 1-1 1-.9 1-2.1 1 4.1 1-.7 1-1.9 1 1.7 1 62.2" fill="none" stroke="#8c564b" stroke-width="1.3" stroke-linejoin="round"/>
<path d="M258.7 473l1-100.5 1-.2 1-.7 1-.3 1-.5 1-.4 1-.9 1 1.1 1-.9 1 .8 1 1 1-.6 1 2.6 1 .1 1 .2 1 1.2 1 1.5 1-.7 1 2.7 1 .2 1 .5 1 0 1 1.8 1-.2 1 .4 1 2.7 1-.5 1 1.9 1 0 1 1 1 .3 1 1.8 1 .4 1-.5 1 1 1-.2 1 2.3 1-.7 1 .9 1 .5 1-.8 1 1.2 1 1.9 1 .1 1-.3 1 .7 1 3.1 1 .7 1 1.2 1-1.6 1 2.2 1 .5 1 .8 1 .7 1 1.9 1 .6 1-1 1 .7 1 1.2 1 3.3 1 .2 1-.7 1-2 1 2.6 .2 3.2 .3 5.2 .2 6.8 .1 8.5 .1 13.4 .1 2.4 .1-2.4 .1-13.4 .1-8.5 .2-6.8 .3-5.2 .2-3.2 0-1.2 1-.1 1-2.2 1-2.7 1 1.9 1 1.4 1-4.2 1 3.8 1-1.6 1-1.2 1-1.3 1 2.4 1-3.9 1-.1 .2 3.1 .2 5.3 .2 6.8 .1 8.5 .1 13.4 0 35.6 .1-35.6 0-13.4 .2-8.5 .1-6.8 .2-5.3 .2-3.1 0 .4 1 3.8 1-2.2 .2 3.1 .3 5.3 .2 6.8 .1 8.5 .1 13.4 0 33.6 .1-33.6 .1-13.4 .1-8.5 .2-6.8 .2-5.3 .2-3.1 0 4.3 1-2.8 1 2.5 .4 3.1 .3 5.3 .3 6.8 .1 8.5 .2 13.4 .1 29.6 0-29.6 .2-13.4 .1-8.5 .3-6.8 .4-5.3 .3-3.1 0 1.9 1-3 1-.5 1 68.3" fill="none" stroke="#8c564b" stroke-width="1.3" stroke-linejoin="round"/>
<path d="M469.6 473l1-80.3 1-1.2 1 1.1 1-.4 1 1.6 1-1.6 1-.3 1-.7 1 .6 1 .6 1 .3 1 .2 1 1.3 1-.3 1-.2 1 1.1 1-.9 1 .2 1 1 1 .8 1 .6 1-.8 1 1.7 1 1.2 1-1.4 1 .8 1 .7 1 1.2 1 .9 1 .4 1 .6 1-.2 1 2 1-.5 1 .7 1 1.3 1 1.2 1 2.5 1-1.5 1 3.7 .4 3.1 .4 5.3 .3 6.8 .2 8.5 .2 13.4 .1 24.9 .1-24.9 .1-13.4 .3-8.5 .3-6.8 .4-5.3 .4-3.1 0 1.6 1-.9 1 1.2 1-.1 1 .4 1-1.9 1 .9 1 .1 .3 3.2 .5 5.2 .3 6.8 .2 8.5 .2 13.5 0 18.1 .1-18.1 .2-13.5 .2-8.5 .3-6.8 .5-5.2 .3-3.2 0 60.7" fill="none" stroke="#8c564b" stroke-width="1.3" stroke-linejoin="round"/>
<path d="M58.4 473l0-26 .1-9.4 0-6.3 .2-4.8 .3-3.5 .5-1.5 .5 1.5 .3 3.5 .2 4.8 0 6.3 .1 9.4 0 26zM87.8 473l0-32 0-9.4 .1-6.3 .1-4.8 .2-3.5 .4-1.5 .3 1.5 .2 3.5 .2 4.8 0 6.3 .1 9.4 0 32zM201.2 473l0-35.3 0-9.3 .2-6.4 .2-4.8 .4-3.5 .6-1.5 .6 1.5 .4 3.5 .3 4.8 .1 6.4 0 9.3 0 35.3zM350.8 473l0-46.1 0-9.4 .1-6.4 .2-4.8 .3-3.4 .5-1.5 .4 1.5 .4 3.4 .1 4.8 .1 6.4 .1 9.4 0 46.1zM374.4 473l0-43.2 0-9.4 .2-6.4 .3-4.8 .5-3.4 .8-1.5 .8 1.5 .5 3.4 .3 4.8 .1 6.4 .1 9.4 0 43.2zM423.9 473l0-33 0-9.4 .1-6.4 .2-4.8 .4-3.4 .5-1.5 .6 1.5 .3 3.4 .2 4.8 .1 6.4 .1 9.4 0 33zM522.9 473l.1-39.5 0-9.4 .2-6.3 .2-4.8 .5-3.5 .8-1.5 .8 1.5 .5 3.5 .3 4.8 .1 6.3 .1 9.4 0 39.5zM526.5 473l0-33.9 .1-9.4 .1-6.3 .3-4.8 .6-3.5 .8-1.5 .8 1.5 .5 3.5 .3 4.8 .2 6.3 .1 9.4 0 33.9zM532.2 473l0-41.1 .1-9.4 .1-6.4 .3-4.8 .6-3.4 .8-1.5 .8 1.5 .6 3.4 .3 4.8 .1 6.4 .1 9.4 0 41.1zM543 473l0-29.6 0-9.4 .2-6.3 .3-4.8 .5-3.5 .8-1.5 .8 1.5 .6 3.5 .2 4.8 .2 6.3 .1 9.4 0 29.6zM569.4 473l0-34.6 0-9.3 .1-6.4 .2-4.8 .4-3.4 .6-1.5 .5 1.5 .4 3.4 .2 4.8 .1 6.4 0 9.3 0 34.6zM607.2 473l0-28.7 0-9.3 .2-6.4 .3-4.8 .5-3.5 .8-1.5 .8 1.5 .5 3.5 .3 4.8 .1 6.4 .1 9.3 0 28.7zM613.9 473l0-36.6 0-9.3 .1-6.4 .3-4.8 .4-3.4 .7-1.5 .7 1.5 .4 3.4 .3 4.8 .1 6.4 0 9.3 0 36.6zM616.9 473l0-35.4 .1-9.4 .1-6.3 .1-4.8 .3-3.5 .5-1.5 .4 1.5 .3 3.5 .2 4.8 .1 6.3 0 9.4 0 35.4z" fill="#8c564b" stroke="#8c564b" stroke-width="0.6"/>
</g>
<rect x="272.3" y="418.8" width="370.6" height="46.1" rx="2" fill="#fff" fill-opacity="0.9" stroke="#262626" stroke-width="0.9"/>
<line x1="275.80" y1="426.20" x2="281.40" y2="426.20" stroke="#1f77b4" stroke-width="1.6"/>
<line x1="284.80" y1="426.20" x2="290.40" y2="426.20" stroke="#1f77b4" stroke-width="1.6"/>
<text x="299.20" y="426.60" font-size="10.1" text-anchor="start" fill="#1a1a1a" dominant-baseline="central">2.73 [MeV]</text>
<line x1="275.80" y1="441.00" x2="281.40" y2="441.00" stroke="#aec7e8" stroke-width="1.6"/>
<line x1="284.80" y1="441.00" x2="290.40" y2="441.00" stroke="#aec7e8" stroke-width="1.6"/>
<text x="299.20" y="441.40" font-size="10.1" text-anchor="start" fill="#1a1a1a" dominant-baseline="central">7.36 [MeV]</text>
<line x1="275.80" y1="455.80" x2="281.40" y2="455.80" stroke="#ff7f0e" stroke-width="1.6"/>
<line x1="284.80" y1="455.80" x2="290.40" y2="455.80" stroke="#ff7f0e" stroke-width="1.6"/>
<text x="299.20" y="456.20" font-size="10.1" text-anchor="start" fill="#1a1a1a" dominant-baseline="central">13.46 [MeV]</text>
<line x1="374.50" y1="426.20" x2="380.10" y2="426.20" stroke="#ffbb78" stroke-width="1.6"/>
<line x1="383.50" y1="426.20" x2="389.10" y2="426.20" stroke="#ffbb78" stroke-width="1.6"/>
<text x="399.30" y="426.60" font-size="10.1" text-anchor="start" fill="#1a1a1a" dominant-baseline="central">17.65 [MeV]</text>
<line x1="374.50" y1="441.00" x2="380.10" y2="441.00" stroke="#2ca02c" stroke-width="1.6"/>
<line x1="383.50" y1="441.00" x2="389.10" y2="441.00" stroke="#2ca02c" stroke-width="1.6"/>
<text x="399.30" y="441.40" font-size="10.1" text-anchor="start" fill="#1a1a1a" dominant-baseline="central">29.22 [MeV]</text>
<line x1="374.50" y1="455.80" x2="391.00" y2="455.80" stroke="#98df8a" stroke-width="1.5"/>
<text x="399.30" y="456.20" font-size="10.1" text-anchor="start" fill="#1a1a1a" dominant-baseline="central">44.7 [MeV]</text>
<line x1="474.00" y1="426.20" x2="490.50" y2="426.20" stroke="#d62728" stroke-width="1.5"/>
<text x="498.00" y="426.60" font-size="10.1" text-anchor="start" fill="#1a1a1a" dominant-baseline="central">54.9 [MeV]</text>
<line x1="474.00" y1="441.00" x2="490.50" y2="441.00" stroke="#ff9896" stroke-width="1.5"/>
<text x="498.00" y="441.40" font-size="10.1" text-anchor="start" fill="#1a1a1a" dominant-baseline="central">68.7 [MeV]</text>
<line x1="474.00" y1="455.80" x2="490.50" y2="455.80" stroke="#9467bd" stroke-width="1.5"/>
<text x="498.00" y="456.20" font-size="10.1" text-anchor="start" fill="#1a1a1a" dominant-baseline="central">73.5 [MeV]</text>
<line x1="568.00" y1="426.20" x2="584.50" y2="426.20" stroke="#c5b0d5" stroke-width="1.5"/>
<text x="592.30" y="426.60" font-size="10.1" text-anchor="start" fill="#1a1a1a" dominant-baseline="central">129 [MeV]</text>
<line x1="568.00" y1="441.00" x2="584.50" y2="441.00" stroke="#8c564b" stroke-width="1.5"/>
<text x="592.30" y="441.40" font-size="10.1" text-anchor="start" fill="#1a1a1a" dominant-baseline="central">135 [MeV]</text>
<line x1="92.73" y1="470.30" x2="92.73" y2="467.80" stroke="#474747" stroke-width="1.3"/>
<line x1="129.76" y1="470.30" x2="129.76" y2="467.80" stroke="#474747" stroke-width="1.3"/>
<line x1="166.79" y1="470.30" x2="166.79" y2="467.80" stroke="#474747" stroke-width="1.3"/>
<line x1="203.82" y1="470.30" x2="203.82" y2="467.80" stroke="#474747" stroke-width="1.3"/>
<line x1="240.86" y1="470.30" x2="240.86" y2="467.80" stroke="#474747" stroke-width="1.3"/>
<line x1="277.89" y1="470.30" x2="277.89" y2="467.80" stroke="#474747" stroke-width="1.3"/>
<line x1="314.92" y1="470.30" x2="314.92" y2="467.80" stroke="#474747" stroke-width="1.3"/>
<line x1="351.95" y1="470.30" x2="351.95" y2="467.80" stroke="#474747" stroke-width="1.3"/>
<line x1="388.98" y1="470.30" x2="388.98" y2="467.80" stroke="#474747" stroke-width="1.3"/>
<line x1="426.01" y1="470.30" x2="426.01" y2="467.80" stroke="#474747" stroke-width="1.3"/>
<line x1="463.04" y1="470.30" x2="463.04" y2="467.80" stroke="#474747" stroke-width="1.3"/>
<line x1="500.07" y1="470.30" x2="500.07" y2="467.80" stroke="#474747" stroke-width="1.3"/>
<line x1="537.11" y1="470.30" x2="537.11" y2="467.80" stroke="#474747" stroke-width="1.3"/>
<line x1="574.14" y1="470.30" x2="574.14" y2="467.80" stroke="#474747" stroke-width="1.3"/>
<line x1="611.17" y1="470.30" x2="611.17" y2="467.80" stroke="#474747" stroke-width="1.3"/>
<line x1="55.70" y1="312.50" x2="58.20" y2="312.50" stroke="#474747" stroke-width="1.3"/>
<line x1="55.70" y1="344.06" x2="58.20" y2="344.06" stroke="#474747" stroke-width="1.3"/>
<line x1="55.70" y1="375.62" x2="58.20" y2="375.62" stroke="#474747" stroke-width="1.3"/>
<line x1="55.70" y1="407.18" x2="58.20" y2="407.18" stroke="#474747" stroke-width="1.3"/>
<line x1="55.70" y1="438.74" x2="58.20" y2="438.74" stroke="#474747" stroke-width="1.3"/>
<line x1="55.70" y1="470.30" x2="58.20" y2="470.30" stroke="#474747" stroke-width="1.3"/>
<rect x="55.70" y="312.50" width="592.50" height="157.80" fill="none" stroke="#474747" stroke-width="1.3"/>
<text x="48.30" y="314.50" font-size="11" text-anchor="end" fill="#262626" dominant-baseline="central">10</text>
<text x="48.70" y="309.70" font-size="7.9" text-anchor="start" fill="#262626" dominant-baseline="central">2</text>
<text x="48.30" y="346.06" font-size="11" text-anchor="end" fill="#262626" dominant-baseline="central">10</text>
<text x="48.70" y="341.26" font-size="7.9" text-anchor="start" fill="#262626" dominant-baseline="central">0</text>
<text x="44.70" y="377.62" font-size="11" text-anchor="end" fill="#262626" dominant-baseline="central">10</text>
<text x="45.10" y="372.82" font-size="7.9" text-anchor="start" fill="#262626" dominant-baseline="central">−2</text>
<text x="44.70" y="409.18" font-size="11" text-anchor="end" fill="#262626" dominant-baseline="central">10</text>
<text x="45.10" y="404.38" font-size="7.9" text-anchor="start" fill="#262626" dominant-baseline="central">−4</text>
<text x="44.70" y="440.74" font-size="11" text-anchor="end" fill="#262626" dominant-baseline="central">10</text>
<text x="45.10" y="435.94" font-size="7.9" text-anchor="start" fill="#262626" dominant-baseline="central">−6</text>
<text x="44.70" y="472.30" font-size="11" text-anchor="end" fill="#262626" dominant-baseline="central">10</text>
<text x="45.10" y="467.50" font-size="7.9" text-anchor="start" fill="#262626" dominant-baseline="central">−8</text>
<text x="21.20" y="391.00" font-size="11.8" text-anchor="middle" fill="#262626" dominant-baseline="central" textLength="177" lengthAdjust="spacing" transform="rotate(-90 21.20 391.00)">Diffrential flux [#/cm<tspan font-size="8" dy="-4.5">2</tspan><tspan dy="4.5">/str/MeV/s]</tspan></text>
<text x="61.30" y="327.20" font-size="14.8" text-anchor="start" fill="#111" dominant-baseline="central">(b)</text>
<line x1="94.31" y1="494.60" x2="94.31" y2="652.00" stroke="#e3e3e3" stroke-width="0.8"/>
<line x1="131.32" y1="494.60" x2="131.32" y2="652.00" stroke="#e3e3e3" stroke-width="0.8"/>
<line x1="168.34" y1="494.60" x2="168.34" y2="652.00" stroke="#e3e3e3" stroke-width="0.8"/>
<line x1="205.35" y1="494.60" x2="205.35" y2="652.00" stroke="#e3e3e3" stroke-width="0.8"/>
<line x1="242.36" y1="494.60" x2="242.36" y2="652.00" stroke="#e3e3e3" stroke-width="0.8"/>
<line x1="279.38" y1="494.60" x2="279.38" y2="652.00" stroke="#e3e3e3" stroke-width="0.8"/>
<line x1="316.39" y1="494.60" x2="316.39" y2="652.00" stroke="#e3e3e3" stroke-width="0.8"/>
<line x1="353.40" y1="494.60" x2="353.40" y2="652.00" stroke="#e3e3e3" stroke-width="0.8"/>
<line x1="390.41" y1="494.60" x2="390.41" y2="652.00" stroke="#e3e3e3" stroke-width="0.8"/>
<line x1="427.43" y1="494.60" x2="427.43" y2="652.00" stroke="#e3e3e3" stroke-width="0.8"/>
<line x1="464.44" y1="494.60" x2="464.44" y2="652.00" stroke="#e3e3e3" stroke-width="0.8"/>
<line x1="501.45" y1="494.60" x2="501.45" y2="652.00" stroke="#e3e3e3" stroke-width="0.8"/>
<line x1="538.46" y1="494.60" x2="538.46" y2="652.00" stroke="#e3e3e3" stroke-width="0.8"/>
<line x1="575.48" y1="494.60" x2="575.48" y2="652.00" stroke="#e3e3e3" stroke-width="0.8"/>
<line x1="612.49" y1="494.60" x2="612.49" y2="652.00" stroke="#e3e3e3" stroke-width="0.8"/>
<line x1="57.30" y1="625.77" x2="649.50" y2="625.77" stroke="#e3e3e3" stroke-width="0.8"/>
<line x1="57.30" y1="599.53" x2="649.50" y2="599.53" stroke="#e3e3e3" stroke-width="0.8"/>
<line x1="57.30" y1="573.30" x2="649.50" y2="573.30" stroke="#e3e3e3" stroke-width="0.8"/>
<line x1="57.30" y1="547.07" x2="649.50" y2="547.07" stroke="#e3e3e3" stroke-width="0.8"/>
<line x1="57.30" y1="520.83" x2="649.50" y2="520.83" stroke="#e3e3e3" stroke-width="0.8"/>
<path d="M57.3 642.1l.5 .2 .5 .5 .5-.7 .5 .1 .5 .1 .5-.6 .5 .5 .5 .2 .5 .2 .5-1 .5 .3 .5-.3 .5 1.1 .5-.2 .5-1 .5 1.4 .5 0 .5-.5 .5 0 .5-.7 .5-.2 .5 .7 .5-.7 .5 .2 .5 .1 .5-.3 .5 .6 .5 0 .5 .6 .5-.5 .5 .2 .5-.2 .5 .2 .5-.3 .5-.2 .5 1 .5 0 .5-.2 .5-.2 .5-.6 .5-.1 .5 .1 .5-.3 .5 1 .5-.5 .5 .6 .5-.7 .5 .9 .5-.2 .5-1.2 .5 .3 .5 1 .5-.6 .5 .7 .5-.9 .5-.4 .5 .8 .5 .2 .5-.7 .5-.3 .5 .3 .5 1 .5-.3 .5-1 .5 .2 .5-.2 .5-.1 .5 1.1 .5-.9 .5-8.5 .5-9.2 .5-9.5 .5-4.3 .5-6.1 .5-3.3 .5-.2 .5 1.1 .5 .2 .5 .7 .5 1.7 .5 1.8 .5 2.4 .5 3.8 .5 1.9 .5 2.7 .5 1.1 .5 .1 .5-.4 .5 1.9 .5-.6 .5 .6 .5 1.6 .5 .3 .5 .9 .5 .6 .5 .9 .5 1.5 .5 .3 .5 1.4 .5 .4 .5 1 .5 1.5 .5 .1 .5 .9 .5 1.2 .5-.4 .5 .4 .5 1.6 .5 .3 .5-.4 .5 .3 .5 1.3 .5 .8 .5-.9 .5 1.4 .5 .2 .5-.2 .5 0 .5-.3 .5 .2 .5 1.6 .5-.9 .5 .8 .5-.5 .5 1 .5-.2 .5-.3 .5-.1 .5 1 .5-.9 .5 .4 .5 .6 .5 .4 .5-.3 .5-.4 .5 1 .5-1 .5-.2 .5 .4 .5 .3 .5-.5 .5 .2 .5 .4 .5 .3 .5-.6 .5 .4 .5 .9 .5 .2 .5-.5 .5 .1 .5-.1 .5-.6 .5-.1 .5 0 .5 1.4 .5-.3 .5 .4 .5-1.3 .5 .9 .5-.2 .5 .4 .5-.6 .5 1.1 .5-1.4 .5 .8 .5 .3 .5 .3 .5-.2 .5-.1 .5 .2 .5 .2 .5-.8 .5 .5 .5 .4 .5 0 .5-.7 .5 .6 .5 .2 .5-.4 .5 .1 .5-.4 .5 .4 .5 .1 .5-.8 .5 .8 .5 .6 .5-.1 .5-.2 .5-.5 .5 .5 .5-.2 .5-.2 .5 .6 .5-1.1 .5 1.1 .5-1.1 .5 .9 .5-.2 .5-.3 .5 .7 .5-.3 .5 .2 .5 .5 .5-1 .5-.3 .5 .5 .5 .6 .5-.7 .5-.1 .5 1.2 .5-.4 .5-.3 .5 .7 .5-.8 .5 .5 .5-.7 .5 .4 .5 .6 .5 .1 .5 0 .5-.8 .5 .3 .5-.4 .5-.2 .5 .5 .5 .5 .5 .1 .5-.2 .5 .3 .5-1 .5-.2 .5 .5 .5-.3 .5-.1 .5 .3 .5 .3 .5-.2 .5-.2 .5 .8 .5 .2 .5-.8 .5-.6 .5 0 .5 1.2 .5-1.2 .5 1 .5-.2 .5-.4 .5 .7 .5-1.1 .5 .1 .5 .5 .5-.6 .5 1.2 .5-.9 .5-.1 .5-.2 .5 .9 .5-.3 .5 .3 .5 .1 .5 .2 .5 .2 .5-.4 .5-.7 .5 .4 .5-.4 .5-.3 .5 .7 .5 .4 .5-.8 .5 .1 .5 .1 .5 .6 .5-.3 .5 .1 .5 .2 .5-.5 .5 .6 .5 .2 .5-1.2 .5 1.2 .5-.3 .5-.9 .5 .5 .5 .3 .5 .4 .5-.8 .5 .3 .5 .5 .5-.2 .5 .3 .5-.7 .5 .2 .5-.6 .5 .7 .5 .2 .5-.3 .5 .2 .5-.8 .5 1 .5 .2 .5 0 .5-.7 .5 .4 .5-.7 .5 .9 .5-.1 .5-.8 .5-.4 .5 .6 .5 .1 .5 .4 .5-.5 .5-.6 .5 1.1 .5-1.1 .5 1.1 .5-.9 .5 .2 .5 .7 .5-1 .5 .1 .5 .5 .5 .3 .5 .2 .5-.2 .5 .4 .5-.7 .5 .7 .5-1.3 .5 .2 .5 .5 .5-.4 .5 .7 .5-.2 .5-.1 .5 .4 .5-.4 .5-.3 .5 .1 .5 .7 .5 0 .5-1 .5 1 .5 .2 .5-.7 .5 .1 .5-.6 .5 .5 .5 0 .5 .1 .5-.8 .5 1.4 .5-.7 .5-.2 .5 .6 .5-.3 .5-.1 .5 .3 .5-1 .5 .8 .5-.2 .5 .8 .5-.1 .5-.9 .5 .3 .5-.6 .5 .5 .5 .6 .5 .1 .5-.6 .5-.3 .5-.1 .5 .6 .5 .5 .5-1.2 .5 1 .5-1.2 .5 .3 .5 0 .5 .7 .5-.5 .5 0 .5 .4 .5-.7 .5 .9 .5-.9 .5 .6 .5-.4 .5-.1 .5 .5 .5-.1 .5-.1 .5 .1 .5 .1 .5-.5 .5 0 .5 .7 .5 0 .5-.2 .5 .5 .5-2.8 .5-3.7 .5-5.1 .5-12.4 .5-19.1 .5-17.1 .5-9.7 .5-8.9 .5-4.7 .5-1.8 .5 1.1 .5 .8 .5-.2 .5-.1 .5 .5 .5-1 .5 1.9 .5 3.1 .5 1.8 .5 3.9 .5 2.4 .5 3.9 .5 4.1 .5 2.6 .5 4 .5 4.3 .5 4 .5 3.8 .5 2.4 .5 4.2 .5 3.6 .5 2.1 .5 2.8 .5 1.8 .5 2.3 .5 2.6 .5 1.5 .5 1.8 .5 .9 .5 1.1 .5 .3 .5 1.1 .5 1 .5 1.9 .5 1.2 .5 .5 .5-.8 .5 .4 .5 1.7 .5-.2 .5 .8 .5-.2 .5 .7 .5 .5 .5 .3 .5 .7 .5-.5 .5 1.2 .5 .4 .5-.9 .5 .6 .5 .6 .5-.3 .5-.2 .5 .1 .5 .7 .5-.5 .5 1.4 .5 .1 .5 0 .5 .4 .5-.2 .5-.2 .5 .5 .5 0 .5 .7 .5-.2 .5-.7 .5 1.1 .5-.2 .5 .1 .5 .1 .5-.5 .5 .8 .5 0 .5-.2 .5 .2 .5 .1 .5-.5 .5 .6 .5-.9 .5 .5 .5 .2 .5-.6 .5 .6 .5 .4 .5 0 .5-.5 .5 1.1 .5-.4 .5-.5 .5 .5 .5-.1 .5 0 .5-.2 .5 .9 .5-.5 .5 .1 .5 .1 .5 .4 .5-1.4 .5 .9 .5 .2 .5-.7 .5 .2 .5-.5 .5 .3 .5 .3 .5-.4 .5 .2 .5 1 .5-.5 .5 0 .5 .7 .5-.6 .5 .7 .5-.5 .5 .2 .5-1 .5 .8 .5 .2 .5-1 .5 1.3 .5-1.1 .5 .5 .5-.5 .5 .6 .5 .2 .5-.9 .5 1.4 .5-.8 .5 .2 .5 .1 .5-.3 .5-.1 .5 .6 .5-.1 .5-.4 .5 .6 .5-.6 .5-.4 .5 .4 .5-.3 .5 .2 .5 .9 .5-.5 .5 .8 .5-.2 .5-1.1 .5 1.5 .5-.1 .5-1.3 .5 1.3 .5-.7 .5 .1 .5 .7 .5-1.1 .5 .4 .5 .7 .5-.4 .5-.3 .5 .7 .5-.2 .5-.3 .5-.8 .5 .8 .5-.3 .5-.3 .5-.3 .5 .8 .5-.6 .5 .4 .5 .4 .5-.3 .5-.3 .5 .4 .5-.2 .5 .5 .5-.3 .5 .7 .5-.1 .5-.3 .5-.8 .5-.1 .5 1.1 .5-.1 .5-.3 .5-.4 .5-.1 .5 .6 .5-.2 .5 .1 .5 0 .5 .2 .5-.8 .5 .1 .5 1.1 .5-.1 .5-.1 .5-1.2 .5 0 .5 .3 .5 .2 .5 .3 .5-.7 .5 .6 .5-.7 .5 0 .5 .9 .5-.2 .5 .2 .5-.4 .5 .1 .5-.4 .5 .2 .5 .6 .5 .2 .5-1.2 .5 .1 .5 1 .5-.2 .5 .2 .5-.8 .5 .3 .5-.3 .5 .8 .5-.6 .5 .4 .5 .5 .5-1 .5 .4 .5 .3 .5 .2 .5-.7 .5-.1 .5-.4 .5 1.2 .5-1.2 .5 0 .5 .7 .5-.1 .5 .3 .5-.6 .5 .7 .5-1 .5 .2 .5 .7 .5-.9 .5 .3 .5 .6 .5 0 .5-.6 .5-.2 .5 .3 .5 .6 .5-.6 .5-.4 .5 .9 .5-.2 .5 .6 .5 0 .5-.1 .5-.7 .5 .6 .5-.8 .5 .1 .5 .1 .5 .8 .5-.1 .5-.9 .5 .1 .5 0 .5 0 .5 .1 .5 0 .5-.3 .5 .5 .5 .4 .5-.4 .5 .5 .5-.5 .5-.5 .5 .8 .5 .2 .5-.9 .5-.4 .5 .8 .5 0 .5 .1 .5 .6 .5-.5 .5 .2 .5-1.1 .5 .7 .5 .4 .5-1.1 .5 0 .5 1 .5 .3 .5-1.3 .5 .9 .5-.8 .5 .9 .5-.1 .5-.6 .5 0 .5 .8 .5-.4 .5 .4 .5-.6 .5-.1 .5 1 .5-.5 .5-.2 .5 0 .5 .3 .5 0 .5 .3 .5-.7 .5 .6 .5-.3 .5 .3 .5 0 .5 0 .5 .1 .5 .1 .5-.5 .5-.2 .5 .3 .5 .2 .5-.6 .5 0 .5-.4 .5 .9 .5 .3 .5-.9 .5-.3 .5 .1 .5 .3 .5-.2 .5 1 .5-1.3 .5 .3 .5-.3 .5 .8 .5 .2 .5-.9 .5-.1 .5 .6 .5 .2 .5 .4 .5-1.3 .5 .1 .5 .2 .5 0 .5 0 .5 .8 .5-.2 .5-.6 .5 0 .5 .1 .5-.1 .5 .8 .5-.6 .5 .3 .5 .4 .5-.5 .5-.3 .5 .9 .5 .1 .5-.9 .5 .3 .5 .6 .5-.7 .5-.4 .5-.2 .5 1.3 .5-.2 .5-.6 .5 .2 .5 0 .5-.4 .5 1.1 .5-.5 .5-.6 .5-.4 .5 .7 .5-.1 .5 .6 .5-.1 .5-.2 .5-.6 .5 0 .5 .2 .5-.1 .5 .9 .5-.5 .5 .2 .5 .5 .5-1.1 .5 .4 .5-.5 .5 .9 .5-1.2 .5 1.3 .5 0 .5 0 .5-1.1 .5 .3 .5 .6 .5-.9 .5 .1 .5-.7 .5 0 .5-1.3 .5-.3 .5-1.5 .5 .3 .5-.7 .5 .6 .5-1.5 .5 1 .5-1.1 .5 .6 .5 .1 .5-.4 .5 1.2 .5-.7 .5 .2 .5-.2 .5 .5 .5 .3 .5 .6 .5-.4 .5 .6 .5-.7 .5 .6 .5 .3 .5 .9 .5-.1 .5-.1 .5-.8 .5 .7 .5 .7 .5-.6 .5 .7 .5 0 .5-.6 .5 1.7 .5-.2 .5-.9 .5 .7 .5-.4 .5 .1 .5 .3 .5-.3 .5 .1 .5 .1 .5 .5 .5-.6 .5 0 .5 .8 .5-.5 .5 1 .5-.6 .5 .3 .5-.5 .5 .8 .5-1.1 .5 .1 .5 0 .5 .9 .5 0 .5-.8 .5 .4 .5 .6 .5-.4 .5-.7 .5 .2 .5-.1 .5-.1 .5 .5 .5-.5 .5 1.2 .5-.7 .5 .1 .5 .2 .5 .2 .5 .1 .5-.7 .5 0 .5 .1 .5-.6 .5 .6 .5 .4 .5 .4 .5-.2 .5-.2 .5-.1 .5-.9 .5 .5 .5 0 .5 .5 .5-.9 .5 .5 .5 .1 .5 .5 .5 0 .5-.3 .5-.7 .5 .9 .5 .2 .5-.5 .5-.3 .5 .2 .5-.5 .5 .9 .5 .4 .5-.7 .5 .3 .5 .2 .5-1 .5 1.1 .5-.5 .5-.6 .5-.2 .5 .3 .5 .5 .5 .2 .5-.6 .5 .9 .5-.8 .5 .1 .5-.5 .5 1.3 .5-1.3 .5 1.2 .5-.6 .5 .1 .5 0 .5-.5 .5 1 .5 .1 .5-.3 .5-.3 .5-.7 .5 1.1 .5-.8 .5 .9 .5-1 .5 .5 .5 .4 .5-1 .5 .6 .5-.8 .5 0 .5 .2 .5 1.2 .5-.1 .5-.4 .5-.5 .5 .5 .5 .1 .5-.5 .5 .3 .5 .4 .5-1.2 .5 .2 .5 .4 .5-.4 .5 .3 .5 .3 .5-.6 .5 .5 .5-.4 .5 .5 .5-.3 .5 .4 .5-.9 .5 1 .5-.8 .5 1.2 .5-.5 .5-.2 .5-.1 .5 .3 .5 .1 .5 .1 .5 0 .5-.4 .5 .8 .5-.3 .5 .1 .5-.7 .5 0 .5 .2 .5 .5 .5-.5 .5 0 .5-.2 .5 .7 .5-.8 .5-.4 .5 1 .5 .2 .5-.2 .5-.2 .5 .2 .5-.7 .5 .5 .5-.8 .5 .1 .5 .5 .5 0 .5-.1 .5-.5 .5 .9 .5-.2 .5-.4 .5 .1 .5 .1 .5-.2 .5-.3 .5 1.3 .5 .1 .5-.5 .5 .3 .5-.7 .5 .6 .5-.9 .5 .8 .5-.2 .5 .5 .5-1.2 .5 1 .5-1 .5 .6 .5 .6 .5-1.4 .5 .4 .5 .1 .5 0 .5-.4 .5 1.3 .5-.2 .5-.6 .5 0 .5 .3 .5-.8 .5 0 .5 1.3 .5-.9 .5 .3 .5 .6 .5 .1 .5-.8 .5-.4 .5 .2 .5 .9 .5 0 .5-1.1 .5 1 .5-.7 .5 .2 .5-.5 .5 1.1 .5 .1 .5-1.2 .5 .7 .5-.7 .5 1.1 .5-1.3 .5 .1 .5 .9 .5-.6 .5 .9 .5 0 .5-.3 .5-.8 .5 .8 .5 .4 .5-.8 .5-.5 .5 .2 .5 .1 .5 .6 .5-.7 .5-.1 .5 .1 .5 .7 .5 .2 .5-.7 .5 .5 .5 .3 .5-.4 .5-.6 .5 .1 .5 1 .5-.4 .5-.6 .5 .5 .5-.8 .5 1.4 .5-.9 .5 .2 .5 0 .5-.7 .5 .8 .5-.5 .5 0 .5 .8 .5-1.1 .5 .3 .5 .7 .5-.7 .5 0 .5 .4 .5-.5 .5 1 .5 .2 .5-1.5 .5 .7 .5 .4 .5-.5 .5 .8 .5-.6 .5-.5 .5 .5 .5 .2 .5-.5 .5 .5 .5 .2 .5-.4 .5 0 .5 .5 .5-.3 .5-.2 .5 .6 .5-1.1 .5 .9 .5-.9 .5 .6 .5-.5 .5 .3 .5 .5 .5 0 .5 0 .5-.8 .5 .4 .5-.4 .5 .5 .5-.1 .5-.7 .5 .8 .5 .2 .5-.2 .5 .4 .5-1 .5 0 .5-.2 .5 .7 .5-.1 .5 0 .5-.3 .5 .8 .5-1 .5 1.2 .5-.5 .5 0 .5 .3 .5-.8 .5-.1" fill="none" stroke="#1f77b4" stroke-width="1.7" stroke-linejoin="round"/>
<path d="M57.3 641.3l.5 .2 .5 0 .5-.7 .5-.2 .5 .5 .5-.1 .5 .8 .5-.2 .5-.1 .5-.1 .5 .1 .5-.7 .5 .4 .5-.4 .5 1.1 .5-1.3 .5 1.2 .5-1.1 .5 .9 .5-.5 .5 .1 .5 .6 .5-1.2 .5 0 .5 1.3 .5-.6 .5-.6 .5 1.3 .5 0 .5-1.3 .5 .5 .5-.4 .5 .2 .5 .5 .5-.7 .5 .8 .5-1 .5 .2 .5 1 .5-.6 .5 0 .5 .2 .5-.1 .5-.2 .5-.5 .5 1 .5 .4 .5 0 .5-.5 .5-.4 .5 0 .5 .5 .5 0 .5-.9 .5 .2 .5 .2 .5 .2 .5 .5 .5-.5 .5-.7 .5 1.2 .5-.6 .5 .1 .5-.4 .5 .3 .5-.1 .5 .6 .5-4.1 .5-15 .5-16.1 .5-14.2 .5-10.2 .5-.1 .5-.4 .5-.1 .5-1.4 .5-.5 .5-1.5 .5-1 .5-.9 .5 1.9 .5 2 .5 3.5 .5 1.4 .5 3.5 .5 1.7 .5 2.1 .5-.4 .5-1 .5-2.6 .5 .7 .5 2.2 .5 .8 .5 1.6 .5 1.6 .5 2 .5 2.8 .5 2.5 .5 1.9 .5 1.2 .5 .8 .5 1.8 .5 2.1 .5 1.5 .5 1.1 .5 .8 .5 1.8 .5 1.3 .5 1.5 .5 .1 .5 1.7 .5 .6 .5-.4 .5 .9 .5 1.5 .5-.2 .5 1.6 .5 .1 .5 .9 .5 .7 .5-.1 .5 .8 .5 .3 .5 1 .5 .4 .5-.4 .5 1.5 .5-.3 .5 .1 .5 .6 .5 1.2 .5-.2 .5 .5 .5 .8 .5 .4 .5 .1 .5-.1 .5 .6 .5 .8 .5 .2 .5-.2 .5-.1 .5 .2 .5 .8 .5-.1 .5-.6 .5 1.3 .5 .5 .5 0 .5 .4 .5 .2 .5-.4 .5 .6 .5-.4 .5-.2 .5 .6 .5 .1 .5 1 .5-.2 .5-.2 .5 .2 .5-.6 .5 .7 .5 .3 .5-.4 .5-.1 .5 .3 .5 0 .5 .6 .5-.7 .5 0 .5 .4 .5 .7 .5 .2 .5-.1 .5 .5 .5-.8 .5-.4 .5 .8 .5 0 .5-.3 .5 .8 .5-.4 .5-.1 .5 .2 .5 1 .5-1.4 .5 .6 .5-.1 .5-.1 .5 .4 .5-.3 .5 1.1 .5-.6 .5 .3 .5-.7 .5 .5 .5 .2 .5 .4 .5-.9 .5 .4 .5 .6 .5 0 .5-.8 .5 .5 .5 .3 .5-.5 .5 .5 .5 0 .5 .5 .5-.6 .5 .2 .5-.4 .5 .6 .5-.6 .5 .3 .5-.2 .5 0 .5-.2 .5 .1 .5 .5 .5-.4 .5-.3 .5 1.1 .5-.7 .5 1 .5-.5 .5-.3 .5 .7 .5 .1 .5-.9 .5-.2 .5 .7 .5 .4 .5-.4 .5 .3 .5-.5 .5 .3 .5-.5 .5 .2 .5 0 .5 0 .5 0 .5 .7 .5-1 .5 .1 .5 .1 .5 1.1 .5-.7 .5-.7 .5 1.2 .5 .1 .5-.1 .5-.6 .5 .5 .5-.6 .5-.2 .5 1.1 .5-.1 .5-.9 .5 1.1 .5-1.3 .5 .4 .5-.4 .5 .2 .5 0 .5 .9 .5-.7 .5-.1 .5 0 .5 .2 .5 .8 .5-.4 .5-.7 .5 .9 .5-.3 .5-.1 .5 .1 .5 .2 .5 .3 .5-.5 .5 .2 .5-.2 .5 .2 .5-.3 .5 0 .5 .2 .5 .3 .5-.7 .5 1 .5-.6 .5 .5 .5-.2 .5 .4 .5-.4 .5-.4 .5 0 .5 .3 .5 .2 .5 .2 .5-1.1 .5-.1 .5 .1 .5-.1 .5 0 .5-.1 .5 .4 .5-.2 .5 .9 .5-.1 .5 .5 .5 0 .5-.3 .5 .3 .5-1.4 .5 .3 .5 1.1 .5-.7 .5-.4 .5 .9 .5-.5 .5 .2 .5-.4 .5-.1 .5-.2 .5 .8 .5 .5 .5 .1 .5-.4 .5 .3 .5-.9 .5-.1 .5 1 .5-.5 .5 .1 .5-1 .5 .4 .5 .4 .5 .3 .5 .2 .5-.1 .5-.6 .5 0 .5 .8 .5 .2 .5-.8 .5-.4 .5 .6 .5-.1 .5-.2 .5-.2 .5 .2 .5 .4 .5-.8 .5 .7 .5 .6 .5-.3 .5-.8 .5 .3 .5-.5 .5 1 .5-.2 .5-.6 .5 .5 .5 .1 .5 0 .5-.3 .5-.1 .5 .1 .5 .9 .5-1 .5 .3 .5 0 .5-.5 .5 .4 .5-.3 .5 .2 .5 0 .5 0 .5 .9 .5-.9 .5 0 .5 .5 .5-.4 .5 .2 .5 .2 .5-.8 .5 .9 .5-.9 .5 .2 .5 .9 .5 .3 .5-.5 .5-.7 .5 .4 .5-.3 .5 .9 .5-.9 .5-.1 .5 .7 .5 0 .5-1.8 .5-8.7 .5-7.8 .5-11.4 .5-11.2 .5-9.9 .5-8.1 .5-8.5 .5-3.8 .5-3.3 .5-4.2 .5 .3 .5 1.1 .5 .4 .5-3.4 .5-3.7 .5-3.5 .5-2 .5-1.5 .5 .6 .5 3 .5 1.6 .5 1.3 .5 3.5 .5 2.6 .5 1.5 .5 3.7 .5 2.5 .5 3.2 .5 3.2 .5 3.6 .5 2.6 .5 3 .5 3.2 .5 3.3 .5 2.8 .5 2.9 .5 3.8 .5 1.8 .5 2.7 .5 2.7 .5 3 .5 1.4 .5 1.5 .5 2.1 .5 1.3 .5 1.2 .5 .5 .5 .9 .5 .9 .5 2.3 .5 .9 .5 .2 .5 .9 .5-.3 .5 .9 .5 1.1 .5-.7 .5 1.2 .5-.1 .5 1.5 .5 .5 .5 .2 .5 .1 .5-.4 .5 1 .5 0 .5 .4 .5-.3 .5 1.5 .5-.3 .5 .3 .5 .7 .5 .3 .5-.3 .5 .3 .5 .7 .5-.5 .5 1.1 .5-1.1 .5 1.4 .5-.3 .5 .3 .5 .7 .5-1 .5 .4 .5 .7 .5 0 .5-.2 .5 .5 .5 0 .5 .4 .5-.2 .5-.3 .5 0 .5-.2 .5 .2 .5 0 .5 1.5 .5-1.1 .5 .8 .5-.5 .5 1.3 .5-.5 .5-.5 .5 1.1 .5 0 .5 .3 .5-1.1 .5 .3 .5 .4 .5-.5 .5 .4 .5 .3 .5 .1 .5 .1 .5 0 .5-.7 .5 .8 .5-.5 .5-.3 .5-.2 .5 .9 .5-.3 .5-.4 .5 .6 .5 0 .5-.1 .5 .4 .5 0 .5 0 .5 .7 .5-.1 .5-.8 .5 .9 .5-.8 .5 1 .5-1.3 .5 .4 .5 1 .5-.4 .5 0 .5-.7 .5-.1 .5 1.2 .5-1.3 .5 .2 .5 .4 .5 .6 .5-.2 .5 .4 .5-.3 .5-.5 .5 .7 .5-.9 .5-.3 .5 1.3 .5-.1 .5-.3 .5-.3 .5-.4 .5 .1 .5-.3 .5 .1 .5 .6 .5 .6 .5 .1 .5-.7 .5 .3 .5-.3 .5 .4 .5-.1 .5 .4 .5-.2 .5-.2 .5-.1 .5-.7 .5 .5 .5-.1 .5-.4 .5 .1 .5 .3 .5-.4 .5 .7 .5-.4 .5 1 .5-.5 .5-.2 .5-.2 .5 0 .5-.3 .5 1.1 .5 0 .5-.4 .5 0 .5-.8 .5 .6 .5-.5 .5 .2 .5 .4 .5-.6 .5 .1 .5 .7 .5-.4 .5 .6 .5-1 .5-.2 .5 1.3 .5-.5 .5 .2 .5-.2 .5-.7 .5 1.3 .5-.7 .5 .6 .5-1.2 .5 .2 .5 .5 .5-.5 .5 .9 .5-.9 .5-.2 .5 .1 .5 .1 .5 1.1 .5-.1 .5-.3 .5-.4 .5-.6 .5 1.2 .5-1.1 .5 .2 .5 .3 .5 .7 .5-1.1 .5-.1 .5 1.2 .5-1.3 .5 1.1 .5-.9 .5 .2 .5-.1 .5 .3 .5 .8 .5-.2 .5-.4 .5-.7 .5 .1 .5 .2 .5 .8 .5 .2 .5-1.4 .5 .5 .5 .9 .5-1.2 .5-.1 .5 .3 .5 .9 .5-.9 .5 .7 .5-.9 .5 .8 .5-.7 .5 .6 .5 .2 .5 .2 .5-.6 .5 .8 .5-.9 .5 .8 .5 0 .5 .1 .5-1.3 .5 .2 .5 .7 .5 .3 .5-1 .5 .8 .5-.5 .5-.7 .5 .2 .5-.2 .5 .4 .5 1 .5-.3 .5 .2 .5 .1 .5-.8 .5 .5 .5-.1 .5 .1 .5-.9 .5 1.2 .5-1.1 .5 .4 .5 .4 .5 .1 .5 .1 .5-.8 .5 0 .5 .7 .5-1.1 .5 1.3 .5-.9 .5 .2 .5-.2 .5 .6 .5-.8 .5 0 .5-.1 .5 .1 .5 .7 .5 .6 .5-1.5 .5 .7 .5-.2 .5 0 .5 0 .5-.3 .5 .4 .5-.2 .5-.3 .5 .1 .5 1.2 .5-.3 .5 .4 .5-.3 .5-.1 .5-.8 .5-.1 .5 1.3 .5-.5 .5 .1 .5-.9 .5 1 .5-.4 .5-.7 .5 .2 .5 1.2 .5-.5 .5-.8 .5-.1 .5 1.1 .5-.6 .5 .1 .5-.5 .5 .1 .5 .5 .5-.1 .5-.4 .5 0 .5 .4 .5-.5 .5-.1 .5 .7 .5-.7 .5 1 .5 .1 .5-.1 .5 .4 .5-1.2 .5 .4 .5 0 .5-.5 .5 1.1 .5-1.2 .5 1.4 .5-.4 .5 .4 .5-1.3 .5 1.2 .5 .1 .5-.3 .5-.3 .5 .1 .5-.2 .5 .6 .5-.5 .5 0 .5-.2 .5 .3 .5 0 .5 .5 .5-.3 .5-.6 .5 .6 .5-.8 .5 .4 .5 .1 .5 .3 .5-1 .5 .1 .5 .1 .5 .6 .5-.6 .5 .5 .5 .5 .5-.6 .5-.4 .5 .6 .5-.3 .5 .1 .5-.4 .5 .7 .5-.5 .5 1 .5-.7 .5 .2 .5 .4 .5 .1 .5-1.4 .5 1.3 .5-1.2 .5 1.3 .5-.3 .5-.8 .5 .7 .5-.2 .5-.2 .5 .3 .5-.3 .5 .3 .5 .1 .5-1.4 .5 .3 .5-.5 .5-.4 .5-1.2 .5-.6 .5-.9 .5-.1 .5 .9 .5-1.4 .5 1.2 .5-1.2 .5 .6 .5 .5 .5-.8 .5 .8 .5 .6 .5-.4 .5-.2 .5 0 .5 1.4 .5-1.1 .5 1 .5 .1 .5-.5 .5 .6 .5 .3 .5-.6 .5 .1 .5 1.2 .5-1 .5 .5 .5 .1 .5 .6 .5 .2 .5 0 .5-.1 .5 0 .5-.6 .5 .9 .5-.1 .5 .5 .5-.5 .5-.4 .5 .5 .5 .7 .5-.5 .5 .3 .5-.9 .5 .3 .5 .1 .5 .4 .5-.5 .5 1.3 .5-.9 .5-.5 .5 .4 .5 .5 .5 .2 .5 .3 .5-1 .5 1.3 .5-.2 .5-.5 .5 .2 .5-.5 .5-.2 .5-.2 .5 1.4 .5-.1 .5-.7 .5 .3 .5-.2 .5 .3 .5-.9 .5 1 .5-.9 .5 .6 .5 .1 .5 .3 .5-.3 .5-.7 .5 1 .5-.7 .5 .3 .5 .4 .5 .2 .5-1.3 .5 .5 .5-.2 .5 .8 .5-.7 .5 .8 .5-.2 .5-.5 .5 .5 .5-.1 .5-.9 .5 .3 .5-.2 .5 1 .5-.7 .5-.1 .5 .6 .5 .4 .5-1.2 .5 .8 .5-.7 .5 .8 .5 0 .5 0 .5-.3 .5-.7 .5 1.1 .5-1.1 .5 .7 .5 .6 .5-1 .5 .3 .5 .3 .5-.1 .5-.5 .5 .2 .5 .7 .5-.3 .5-.8 .5 .8 .5 .2 .5-.3 .5 .4 .5-1 .5 .1 .5 .8 .5-.9 .5-.2 .5 .1 .5 1.1 .5-.1 .5-1 .5 .9 .5-.9 .5 .7 .5-.9 .5 .8 .5 .3 .5-.4 .5 .2 .5-.8 .5 .5 .5 .5 .5-.6 .5 .6 .5-.3 .5 .4 .5-.1 .5-.7 .5 .8 .5 0 .5-.6 .5 .4 .5-.4 .5 .2 .5-.4 .5 .2 .5-.2 .5 .9 .5-.4 .5 0 .5-.2 .5-.1 .5-.4 .5 .7 .5-.3 .5-.1 .5 .2 .5-.6 .5 .8 .5 .2 .5-.6 .5-.3 .5 1.2 .5-.5 .5-.5 .5-.3 .5 .7 .5-.5 .5 1 .5-.3 .5-.6 .5 .2 .5-.5 .5 .2 .5 .5 .5 .5 .5-.7 .5 .8 .5-1.1 .5-.2 .5 1.1 .5-.7 .5-.1 .5 .2 .5 .3 .5-.6 .5-.2 .5 .7 .5 .1 .5-.1 .5-.6 .5 1 .5-.6 .5 .2 .5 .5 .5-1.1 .5 .5 .5-.1 .5 .3 .5-.6 .5 0 .5 0 .5 .5 .5-.4 .5 .9 .5 0 .5-.3 .5-.4 .5 .6 .5-.4 .5 .3 .5 .3 .5-1.3 .5 1 .5 .2 .5-.7 .5-.1 .5-.5 .5 1.3 .5-1 .5-.3 .5 .1 .5 .6 .5 .3 .5 .3 .5-.4 .5-.8 .5 1.2 .5 0 .5-.1 .5 .1 .5-.1 .5-.2 .5 .1 .5-1.1 .5 1.4 .5-1.4 .5 .6 .5 .2 .5-.1 .5-.2 .5 .2 .5-.3 .5 .5 .5-.9 .5 .5 .5 .4 .5-.3 .5-.6 .5 .6 .5 .7 .5-.6 .5 .3 .5-.5 .5 .9 .5-.7 .5 .5 .5-.3 .5 .3 .5-.7 .5 .8 .5 .1 .5-.1 .5 0 .5-.8 .5 0 .5 .8 .5-.1 .5-.4 .5 0 .5-.8 .5 .8 .5-.8 .5 .7 .5-.4 .5 .6 .5-.7 .5 .2 .5 .7 .5-.3 .5-.7 .5 1.3 .5-1.4 .5 .6 .5 .4 .5-.2 .5 .1 .5 .4 .5-1.2 .5 .6 .5-.4 .5 .5 .5-.2 .5 .3 .5 .3 .5-.5 .5-.1 .5 .2 .5-.6 .5 1.1 .5-.8 .5 .2 .5 .5 .5 0 .5 .2 .5-.4 .5-.3 .5-.1 .5 .5 .5-.2 .5-.9 .5 .8 .5 .2 .5-.5 .5 .7 .5-.1 .5 .2 .5-.9 .5 .5 .5-.1 .5-.3 .5-.1 .5-.3 .5 1.1 .5-.8 .5 .1 .5-.2 .5 .5 .5-.1 .5 .5 .5-1.1 .5 .4 .5 .7 .5-.1 .5-1.1 .5 .6 .5 .8 .5 0 .5-1 .5 .7 .5-.7 .5-.4" fill="none" stroke="#ff7f0e" stroke-width="1.7" stroke-linejoin="round"/>
<rect x="75.00" y="638.80" width="333.30" height="4.40" fill="none" stroke="#8a8a8a" stroke-width="0.7"/>
<line x1="75.00" y1="639.20" x2="408.30" y2="639.20" stroke="#c4c4c4" stroke-width="1.4"/>
<line x1="75.00" y1="638.80" x2="353.60" y2="513.60" stroke="#6e6e6e" stroke-width="0.7"/>
<line x1="408.30" y1="643.20" x2="625.60" y2="592.30" stroke="#6e6e6e" stroke-width="0.7"/>
<rect x="353.60" y="513.60" width="272.00" height="78.70" fill="#fff" stroke="none" stroke-width="0"/>
<line x1="383.82" y1="513.60" x2="383.82" y2="592.30" stroke="#e3e3e3" stroke-width="0.8"/>
<line x1="414.04" y1="513.60" x2="414.04" y2="592.30" stroke="#e3e3e3" stroke-width="0.8"/>
<line x1="444.27" y1="513.60" x2="444.27" y2="592.30" stroke="#e3e3e3" stroke-width="0.8"/>
<line x1="474.49" y1="513.60" x2="474.49" y2="592.30" stroke="#e3e3e3" stroke-width="0.8"/>
<line x1="504.71" y1="513.60" x2="504.71" y2="592.30" stroke="#e3e3e3" stroke-width="0.8"/>
<line x1="534.93" y1="513.60" x2="534.93" y2="592.30" stroke="#e3e3e3" stroke-width="0.8"/>
<line x1="565.16" y1="513.60" x2="565.16" y2="592.30" stroke="#e3e3e3" stroke-width="0.8"/>
<line x1="595.38" y1="513.60" x2="595.38" y2="592.30" stroke="#e3e3e3" stroke-width="0.8"/>
<line x1="353.60" y1="558.80" x2="625.60" y2="558.80" stroke="#e3e3e3" stroke-width="0.8"/>
<clipPath id="cinset"><rect x="353.6" y="513.6" width="272.0" height="78.7"/></clipPath>
<g clip-path="url(#cinset)">
<path d="M353.6 562.1l.4 .8 .5-1 .5 .7 .4-.4 .4 1.2 .5-1.9 .4 1.2 .5 .3 .4-2.4 .5 1 .4-.2 .5 .5 .4-.7 .5-.7 .4 .2 .5 1.1 .4-.2 .5-1.8 .4-.2 .5-.3 .4-.2 .5 .9 .4-.7 .5 1.5 .4-.8 .5-1.7 .4 .4 .5-31.7 .4-45.8 .5-.7 .4-.4 .5-.2 .4 .2 .5 .5 .4-.4 .5-1.2 .4 1.5 .5 .3 .4-.2 .5-.1 .4-2 .5 .8 .4-1.1 .5 1.3 .4-1.5 .5 1 .4-1.2 .5 .8 .4-1 .5-.3 .4 1.1 .5 .1 .4 1.6 .5-1 .4 .6 .5 .3 .4 1 .5-1.7 .4 1.1 .5-.6 .4 .1 .5 .1 .4-1.9 .5 .9 .4 .2 .5 .7 .4-.5 .5 2.2 .4 .4 .5-1.9 .4-.5 .5 1 .4-2.4 .5-.2 .4 0 .5 1.6 .4-.1 .5-.7 .4 .3 .5-1.5 .4 1.2 .5-.6 .4 0 .5 .4 .4 .8 .5 .4 .4 .4 .5 1.6 .4-.6 .5 .8 .4 2.5 .5 21.6 .4 10.1 .5 1.6 .4 2.4 .5 2.3 .4 2.4 .5 2.7 .4-.1 .5 2.6 .4 1.8 .5 1.7 .4 1.4 .5 .7 .4 .5 .5 1.2 .4 .6 .5 .1 .4-.3 .5 0 .4-.8 .5 1.5 .4-1.1 .5 .5 .4 .4 .5 .5 .4 1 .5-1.6 .4 1.1 .5 .5 .4 .6 .5-.1 .4 2.1 .5 .4 .4 1.9 .5 2.9 .4 1 .5-.3 .4-.5 .5 2.2 .4-.3 .5-.9 .4 .9 .5 1.5 .4 1 .5 0 .4 2.6 .5 .3 .4 1.5 .5 2.6 .4-.3 .5 2.1 .4-.9 .5 1 .4-.7 .5-.9 .4 .5 .5-.9 .4 0 .5 .5 .4-.7 .5-.6 .4-.4 .5-1.2 .4-1.2 .5 .8 .4-2.5 .5 2 .4 .6 .5-.2 .4-1.2 .5 1.2 .4-1 .5 1.3 .4 .3 .5-1 .4-.2 .5 1.5 .4-.9 .5 .5 .4 .3 .5 .7 .4-1.5 .5-.9 .4 1.1 .5-.3 .4-.9 .5-1.3 .4 .1 .5 .2 .4 .6 .5 .3 .4 2.3 .5 1.1 .4 1.1 .5 .7 .4-2.1 .5 1 .4-1.3 .5 1.6 .4-.3 .5 .8 .4-.5 .5 .4 .4 2.4 .5-.1 .4-.2 .5-.7 .4-.1 .5-1.9 .4-.3 .5 .4 .4 .2 .5 1 .4 .8 .5-1.9 .4-.4 .5 .5 .4 0 .5-1.3 .4 0 .5-.7 .4-.3 .5 .8 .4 .2 .5-.2 .4-1.2 .5-.2 .4 1.7 .5-1 .4-.4 .5 1.3 .4 .7 .5 .2 .4-.3 .5 2.5 .4-.4 .5 .6 .4 1.6 .5 1.1 .4 .5 .5-.7 .4 1.3 .5-.7 .4-.6 .5 2.2 .4 .5 .5 .8 .4 .2 .5-.4 .4 1.8 .5 .9 .4-.1 .5 1.4 .4 .2 .5-1.5 .4 .9 .5-.3 .4-.6 .5-1.3 .4 1.6 .5 1.4 .4 .8 .5 1.1 .4 .1 .5-.8 .4 2.2 .5-.3 .4 1.3 .5-1.3 .4 1.9 .5-.8 .4 .7 .5 .1 .4 .8 .5-.6 .4-.1 .5 1 .4-.4 .5 1 .4 .8 .5-.8 .4-.4 .5 0 .4 .9 .5 .4 .4-1.2 .5 1.5 .4-.8 .5 .2 .4 2.1 .5-.6 .4 1 .5-1 .4-1.5 .5-.5 .4-.3 .5-.3 .4-.3 .5-.6 .4-.7 .5-1 .4 .2 .5-.1 .4 .4 .5-.3 .4 .8 .5 0 .4-.5 .5 2.4 .4 .1 .5 1.1 .4 .6 .5 .7 .4 1.2 .5-.6 .4 .7 .5-.2 .4 1.5 .5-.2 .4 .1 .5 .3 .4-2.5 .5-.4 .4 .6 .5-.2 .4-1.2 .5-1.4 .4 .3 .5 .6 .4-1.1 .5-.5 .4-.5 .5 .2 .4-.4 .5 0 .4 .1 .5-.8 .4-2.5 .5-8 .4-15.8 .5-70.4 .4 .3 .5-1.3 .4 1.8 .5 .4 .4-1.5 .5 .6 .4 .7 .5-1.2 .4 1.5 .5-1.3 .4 1 .5-.8 .4-.1 .5 0 .4 .7 .5 .1 .4-1.4 .5 .7 .4-1.2 .5 .4 .4-.7 .5-.4 .4-.1 .5-.2 .4 1.4 .5-.4 .4-.5 .5 1.8 .4-.4 .5-1.2 .4 2.1 .5 .2 .4 .1 .5 .6 .4 1.2 .5-1.8 .4 .1 .5-.5 .4-1 .5-.3 .4 1.1 .5 0 .4-.2 .5 .3 .4-.7 .5 1.1 .4-2 .5 1.2 .4-.7 .5-.7 .4 .6 .5-.1 .4-1.3 .5 .7 .4-.7 .5 1.3 .4-1.1 .5 0 .4-.3 .5 .2 .4 .9 .5 .6 .4 1.6 .5 1.1 .4-1.4 .5-.3 .4 .9 .5-.9 .4 .6 .5 .4 .4-1.5 .5 .7 .4-.7 .5-1.2 .4 .6 .5 28.7 .4 7.1 .5 1.8 .4 2.3 .5 1.8 .4 .7 .5 1.6 .4-.1 .5 1.7 .4 1.1 .5 2.4 .4-.1 .5 2 .4-.7 .5 2 .4 1.8 .5 .7 .4 .5 .5-.2 .4 2 .5-1.4 .4 2.5 .5 0 .4 1.1 .5 .9 .4 .6 .5 1.6 .4 1.8 .5 .6 .4-.1 .5 1.5 .5-1.1 .4 1.1 .5-.1 .4 .8 .5 1.4 .4 .4 .5-.8 .4 1.3 .5 .6 .4 2.2 .5 .5 .4 .5 .5 .7 .4 1.2 .5-1 .4 .6 .5-.1 .4-.1 .5 .3 .4-.2 .5-.1 .4 .8 .5-.2 .4 .2 .5-.1 .4 1.8 .5-.5 .4 .3 .5 .5 .4 1.2 .5 2.2 .4-2.3 .5-1.4 .4-3.2 .5-1.2 .4-2.6 .5-1.2 .4-2.4 .5-2.5 .4-2.4 .5-1.4 .4-1 .5-1.8 .4-2 .5-1.8 .4-.2 .5-.5 .4-.7 .5 2.1 .4 1.1 .5 .6 .4 1.3 .5 .5 .4-.7 .5 2.3 .4-.5 .5 1.6 .4 2.8 .5-.3 .4 2 .5 1.6 .4-.2 .5 .5 .4 1.7 .5 .1 .4 1.1 .5 1.3 .4 1.4 .5 1.3 .4 1.1 .5 1.5 .4 0 .5 1.6 .4 .1 .5 1.3 .4-.4 .5-.2 .4 .9 .5-.5 .4-.1 .5 .7 .4-.5 .5-.3 .4 .2 .5 .8 .4 .6 .5-1.8 .4 1.1 .5-1.3 .4 .7 .5-.4 .4 .4 .5 .7 .4-.5 .5 0 .4 1.1 .5-1 .4 1.1 .5 1.5 .4 .8 .5 .7 .4-1.3 .5 1.1 .4-.4 .5 1 .4 .4 .5-1.5 .4 .4 .5 1.4 .4-1.4 .5 .6 .4 .3 .5-1.3 .4 1 .5-1.8 .4 .7 .5-.5 .4 .3 .5-.3 .4 0 .5 2.4 .4-.9 .5 1.2 .4 .3 .5 .3 .4-.6 .5-1.1 .4-1.5 .5 .7 .4-1.6 .5 1.8 .4-1.4 .5-.2 .4 .1 .5-.1 .4 .4 .5-.3 .4-.7 .5-.5 .4-.8 .5 .5 .4 .2 .5 .5 .4 1.3 .5 .9 .4-1.5 .5 2.4 .4 .4 .5-.8 .4 .4 .5 .1 .4-1.4 .5 .9 .4 .7 .5-.2 .4 .1 .5-1.8 .4 1.4 .5-.7 .4 .7 .5-2 .4 .6 .5-1.2 .4 1.2 .5-.4 .4-1.7" fill="none" stroke="#1f77b4" stroke-width="1.6" stroke-linejoin="round"/>
<path d="M353.6 557.8l.4 0 .5-2.9 .5-.6 .4-.4 .4-1.2 .5 .3 .4-.5 .5-1 .4-1 .5-.3 .4 .8 .5 .6 .4 2.4 .5 0 .4 2.2 .5-.9 .4-1.6 .5 .6 .4-.2 .5-1.6 .4 .7 .5-1.2 .4 1.4 .5-1.9 .4 1.4 .5 1.1 .4-3.4 .5-31.2 .4-38.9 .5-.9 .4 .2 .5 .9 .4-.3 .5-2 .4 1.1 .5 1 .4-.6 .5 1.8 .4 .7 .5-1.2 .4-1 .5 .6 .4-1.3 .5-1.3 .4 .8 .5 .4 .4 2.1 .5-.2 .4 .9 .5-.2 .4-.2 .5-2.3 .4 0 .5 .7 .4-.1 .5-.6 .4 .9 .5-.8 .4 .2 .5 0 .4 1 .5-.1 .4 .9 .5 1.1 .4-2 .5 .7 .4 .4 .5-.8 .4-.1 .5 .7 .4-1.4 .5 2.2 .4-.4 .5 .3 .4-.2 .5-1.8 .4-.2 .5 .1 .4 .2 .5 .4 .4-.6 .5-1.6 .4-.1 .5 .8 .4-.2 .5 2.1 .4 .6 .5 .2 .4 .2 .5-.5 .4-.6 .5-.9 .4-.3 .5-.4 .4-.6 .5 1.7 .4-1.6 .5-.8 .4 .5 .5-.5 .4 .6 .5-.3 .4-.3 .5 1.2 .4 .4 .5 .4 .4 1.6 .5-.9 .4 .3 .5 .5 .4 0 .5-1.5 .4-.7 .5 2.3 .4-.7 .5-.4 .4 .1 .5 .3 .4 0 .5-.5 .4-.3 .5 1.9 .4-.3 .5-1.4 .4 1 .5 .8 .4-.5 .5-1.2 .4 .3 .5 20.3 .4 15.3 .5 .5 .4 1.3 .5 2 .4 .4 .5 3 .4 1.9 .5 1.1 .4 .8 .5 .4 .4-.1 .5 .6 .4 .4 .5 .9 .4 1 .5-.9 .4 1.1 .5 1.5 .4 1.1 .5-.2 .4 3.1 .5-.1 .4-.6 .5-.1 .4 1.1 .5 .6 .4-.8 .5 1.1 .4 1.3 .5 .1 .4 1.5 .5 1.9 .4-.3 .5 .8 .4-.9 .5 1.6 .4-.2 .5-1.3 .4 .6 .5 .2 .4-.3 .5 .3 .4-.5 .5 1.1 .4-.1 .5 1.3 .4 .3 .5 2.7 .4 .4 .5 .5 .4 1.1 .5-.5 .4 1.4 .5-1.4 .4 1.3 .5-.6 .4 .9 .5-1.6 .4 1 .5-.1 .4-1.1 .5-.2 .4 .6 .5 .6 .4-.9 .5-.3 .4 1.4 .5 1.4 .4-1 .5 2.3 .4-.9 .5-1.1 .4-.4 .5 .3 .4-.1 .5-.2 .4 .6 .5 1.8 .4 .3 .5 1.3 .4 0 .5 .3 .4-.5 .5-1 .4-.4 .5 1.7 .4-1.5 .5 .4 .4 .1 .5 1.9 .4-.5 .5 1 .4-.5 .5-.5 .4 .3 .5 1.1 .4-.7 .5 1.6 .4-.6 .5-.4 .4 .9 .5 .8 .4-.6 .5 2 .4 .2 .5-1.3 .4 .4 .5-.8 .4-.6 .5-.8 .4 2.2 .5 .3 .4-.6 .5 .2 .4-.2 .5 1.7 .4 1.1 .5-.5 .4 .3 .5 .9 .4 .9 .5-.8 .4 .7 .5 1.3 .4-.4 .5 2.7 .4-.1 .5 2.1 .4 .1 .5 .1 .4 .4 .5 .9 .4 1.1 .5 1.8 .4 .7 .5 .3 .4 0 .5 1 .4 0 .5-.7 .4-.6 .5 1 .4-.5 .5 0 .4 .2 .5-.9 .4 1.5 .5-1.5 .4 1 .5-.8 .4-2.1 .5 1.5 .4-.7 .5-.6 .4 1.4 .5-.2 .4-.4 .5 .9 .4 .3 .5 .6 .4-.7 .5-1.9 .4 .2 .5-.4 .4 .5 .5 .6 .4 .4 .5-.3 .4 1.3 .5-.7 .4 1.7 .5-.8 .4 0 .5 1 .4-.6 .5 .1 .4 .1 .5 .7 .4-.3 .5 1 .4-.9 .5 .7 .4-1.1 .5-.9 .4-.1 .5-.5 .4 .4 .5-2.2 .4-.4 .5-.5 .4-.2 .5 1.1 .4-.5 .5-2.2 .4-.9 .5 .3 .4-8.8 .5-9.7 .4-7.5 .5-31.5 .4-31.1 .5 2.3 .4-.1 .5-.4 .4-1.3 .5-.6 .4-.5 .5-.8 .4 1.1 .5-.3 .4 .5 .5-.3 .4 .2 .5-.4 .4 .9 .5-.8 .4 .5 .5-.1 .4-.6 .5-.3 .4 1 .5 .2 .4 .1 .5-.4 .4 .2 .5-1.2 .4 .6 .5 .9 .4-1 .5-.8 .4 .6 .5 .8 .4-1.8 .5-.1 .4 .8 .5 .7 .4-1.1 .5 .1 .4 1.6 .5-1.1 .4 .9 .5 1 .4 .7 .5 .3 .4-1 .5 .1 .4 .2 .5-.6 .4 .2 .5 .9 .4 .4 .5-1.9 .4-.8 .5 1.1 .4 .2 .5-.8 .4-.6 .5 1.2 .4 .4 .5 .4 .4-.2 .5 .7 .4-1 .5-1.7 .4-.1 .5-1.3 .4 .9 .5 1.3 .4-.4 .5 .3 .4 .9 .5-1.2 .4 .9 .5 .7 .4 .3 .5 .7 .4 .7 .5-.3 .4-.4 .5 .3 .4-.4 .5 .7 .4-1.3 .5-.4 .4-.8 .5 0 .4 1.1 .5-.6 .4 1.5 .5-.1 .4 .5 .5 16.4 .4 17.4 .5 .4 .4 .1 .5 2.5 .4 1.4 .5 1.2 .4 1.2 .5-.4 .4 2.5 .5-.1 .4 1 .5 1.9 .4-.2 .5 1.2 .4 .2 .5 1.4 .5 1.1 .4 1 .5 1 .4-.6 .5 .4 .4 .3 .5 1.8 .4 .9 .5-.2 .4-.1 .5-.6 .4 1.9 .5-.7 .4 .6 .5 1.6 .4 1.5 .5-.7 .4 1.6 .5-.8 .4 1.8 .5-.1 .4 .6 .5 .4 .4-.1 .5-1.2 .4 1 .5 .6 .4 1.2 .5-.3 .4 1.5 .5 .2 .4 .4 .5 1 .4 1.3 .5-1.2 .4-2 .5-2 .4-1.5 .5-1.6 .4-2.1 .5-1.2 .4-.9 .5-.4 .4 .2 .5-.7 .4-.5 .5-1 .4-2.2 .5-1.4 .4 .8 .5 .5 .4 1.8 .5 .9 .4 .3 .5 2.2 .4 1.6 .5 1.3 .4 .3 .5 .5 .4 .7 .5 1.9 .4 1.2 .5-.7 .4 1.5 .5 .9 .4 .6 .5 .1 .4 .1 .5 0 .4 .8 .5 1.8 .4-.2 .5 2 .4 .4 .5 .2 .4 .1 .5 .4 .4 .7 .5-1 .4-.4 .5 1.6 .4-.7 .5-.6 .4 0 .5-.7 .4 .9 .5 .4 .4-.7 .5 .3 .4 0 .5 0 .4 1.5 .5 1.6 .4 .2 .5-.4 .4 .6 .5-.4 .4-.2 .5-.5 .4 .1 .5 0 .4-1.7 .5 .5 .4-1.1 .5 2.1 .4-1.8 .5 .9 .4 .6 .5-.3 .4-.7 .5 .3 .4-1.1 .5 .2 .4 .1 .5-1.1 .4 .4 .5 .4 .4-.1 .5 .6 .4-.4 .5-.9 .4-2.8 .5-.3 .4-1.8 .5 1.4 .4 .2 .5 1.9 .4 0 .5 1.5 .4-1 .5 1.9 .4 .2 .5 1.5 .4-2 .5-.5 .4 .9 .5-1.2 .4-.2 .5-.6 .4 .3 .5-1.7 .4-.5 .5 0 .4 1 .5 .3 .4 .8 .5 1.7 .4 2 .5 1.2 .4 .5 .5 2.4 .4 .2 .5-1.4 .4 1.4 .5 .3 .4-1.6 .5 .7 .4 .6 .5-.4 .4-.2 .5-1.5 .4-.3 .5 .6 .4-2.3 .5-1 .4-1.1" fill="none" stroke="#ff7f0e" stroke-width="1.6" stroke-linejoin="round"/>
</g>
<rect x="439.30" y="545.70" width="76.20" height="40.20" fill="none" stroke="#c00000" stroke-width="2.3" stroke-dasharray="5.6,2.6"/>
<rect x="353.60" y="513.60" width="272.00" height="78.70" fill="none" stroke="#262626" stroke-width="1.0"/>
<line x1="383.82" y1="592.30" x2="383.82" y2="589.80" stroke="#262626" stroke-width="0.9"/>
<line x1="414.04" y1="592.30" x2="414.04" y2="589.80" stroke="#262626" stroke-width="0.9"/>
<line x1="444.27" y1="592.30" x2="444.27" y2="589.80" stroke="#262626" stroke-width="0.9"/>
<line x1="474.49" y1="592.30" x2="474.49" y2="589.80" stroke="#262626" stroke-width="0.9"/>
<line x1="504.71" y1="592.30" x2="504.71" y2="589.80" stroke="#262626" stroke-width="0.9"/>
<line x1="534.93" y1="592.30" x2="534.93" y2="589.80" stroke="#262626" stroke-width="0.9"/>
<line x1="565.16" y1="592.30" x2="565.16" y2="589.80" stroke="#262626" stroke-width="0.9"/>
<line x1="595.38" y1="592.30" x2="595.38" y2="589.80" stroke="#262626" stroke-width="0.9"/>
<line x1="353.60" y1="558.80" x2="356.10" y2="558.80" stroke="#262626" stroke-width="0.9"/>
<text x="349.90" y="514.40" font-size="10" text-anchor="end" fill="#262626" dominant-baseline="central">100</text>
<text x="349.50" y="559.30" font-size="10" text-anchor="end" fill="#262626" dominant-baseline="central">80</text>
<text x="353.60" y="610.30" font-size="8.9" text-anchor="middle" fill="#262626" dominant-baseline="central" transform="rotate(-30 353.60 610.30)">03-28 06:00</text>
<text x="383.82" y="610.30" font-size="8.9" text-anchor="middle" fill="#262626" dominant-baseline="central" transform="rotate(-30 383.82 610.30)">03-28 18:00</text>
<text x="414.04" y="610.30" font-size="8.9" text-anchor="middle" fill="#262626" dominant-baseline="central" transform="rotate(-30 414.04 610.30)">03-29 06:00</text>
<text x="444.27" y="610.30" font-size="8.9" text-anchor="middle" fill="#262626" dominant-baseline="central" transform="rotate(-30 444.27 610.30)">03-29 18:00</text>
<text x="474.49" y="610.30" font-size="8.9" text-anchor="middle" fill="#262626" dominant-baseline="central" transform="rotate(-30 474.49 610.30)">03-30 06:00</text>
<text x="504.71" y="610.30" font-size="8.9" text-anchor="middle" fill="#262626" dominant-baseline="central" transform="rotate(-30 504.71 610.30)">03-30 18:00</text>
<text x="534.93" y="610.30" font-size="8.9" text-anchor="middle" fill="#262626" dominant-baseline="central" transform="rotate(-30 534.93 610.30)">03-31 06:00</text>
<text x="565.16" y="610.30" font-size="8.9" text-anchor="middle" fill="#262626" dominant-baseline="central" transform="rotate(-30 565.16 610.30)">03-31 18:00</text>
<text x="595.38" y="610.30" font-size="8.9" text-anchor="middle" fill="#262626" dominant-baseline="central" transform="rotate(-30 595.38 610.30)">04-01 06:00</text>
<text x="625.60" y="610.30" font-size="8.9" text-anchor="middle" fill="#262626" dominant-baseline="central" transform="rotate(-30 625.60 610.30)">04-01 18:00</text>
<rect x="63.4" y="501.0" width="217.2" height="39.3" rx="2" fill="#fff" stroke="#262626" stroke-width="0.9"/>
<line x1="67.40" y1="510.80" x2="87.50" y2="510.80" stroke="#1f77b4" stroke-width="1.9"/>
<line x1="67.40" y1="528.60" x2="87.50" y2="528.60" stroke="#ff7f0e" stroke-width="1.9"/>
<text x="97.60" y="511.20" font-size="12.3" text-anchor="start" fill="#1a1a1a" dominant-baseline="central" textLength="177.3" lengthAdjust="spacing">SPM1 Lv.1 (&gt;~20 MeV, integral)</text>
<text x="97.60" y="529.00" font-size="12.3" text-anchor="start" fill="#1a1a1a" dominant-baseline="central" textLength="177.3" lengthAdjust="spacing">SPM2 Lv.1 (&gt;~30 MeV, integral)</text>
<line x1="94.31" y1="652.00" x2="94.31" y2="649.50" stroke="#474747" stroke-width="1.3"/>
<line x1="131.32" y1="652.00" x2="131.32" y2="649.50" stroke="#474747" stroke-width="1.3"/>
<line x1="168.34" y1="652.00" x2="168.34" y2="649.50" stroke="#474747" stroke-width="1.3"/>
<line x1="205.35" y1="652.00" x2="205.35" y2="649.50" stroke="#474747" stroke-width="1.3"/>
<line x1="242.36" y1="652.00" x2="242.36" y2="649.50" stroke="#474747" stroke-width="1.3"/>
<line x1="279.38" y1="652.00" x2="279.38" y2="649.50" stroke="#474747" stroke-width="1.3"/>
<line x1="316.39" y1="652.00" x2="316.39" y2="649.50" stroke="#474747" stroke-width="1.3"/>
<line x1="353.40" y1="652.00" x2="353.40" y2="649.50" stroke="#474747" stroke-width="1.3"/>
<line x1="390.41" y1="652.00" x2="390.41" y2="649.50" stroke="#474747" stroke-width="1.3"/>
<line x1="427.43" y1="652.00" x2="427.43" y2="649.50" stroke="#474747" stroke-width="1.3"/>
<line x1="464.44" y1="652.00" x2="464.44" y2="649.50" stroke="#474747" stroke-width="1.3"/>
<line x1="501.45" y1="652.00" x2="501.45" y2="649.50" stroke="#474747" stroke-width="1.3"/>
<line x1="538.46" y1="652.00" x2="538.46" y2="649.50" stroke="#474747" stroke-width="1.3"/>
<line x1="575.48" y1="652.00" x2="575.48" y2="649.50" stroke="#474747" stroke-width="1.3"/>
<line x1="612.49" y1="652.00" x2="612.49" y2="649.50" stroke="#474747" stroke-width="1.3"/>
<line x1="57.30" y1="652.00" x2="59.80" y2="652.00" stroke="#474747" stroke-width="1.3"/>
<line x1="57.30" y1="625.77" x2="59.80" y2="625.77" stroke="#474747" stroke-width="1.3"/>
<line x1="57.30" y1="599.53" x2="59.80" y2="599.53" stroke="#474747" stroke-width="1.3"/>
<line x1="57.30" y1="573.30" x2="59.80" y2="573.30" stroke="#474747" stroke-width="1.3"/>
<line x1="57.30" y1="547.07" x2="59.80" y2="547.07" stroke="#474747" stroke-width="1.3"/>
<line x1="57.30" y1="520.83" x2="59.80" y2="520.83" stroke="#474747" stroke-width="1.3"/>
<line x1="57.30" y1="494.60" x2="59.80" y2="494.60" stroke="#474747" stroke-width="1.3"/>
<rect x="57.30" y="494.60" width="592.20" height="157.40" fill="none" stroke="#474747" stroke-width="1.3"/>
<text x="53.60" y="652.80" font-size="11" text-anchor="end" fill="#262626" dominant-baseline="central">0</text>
<text x="53.60" y="626.57" font-size="11" text-anchor="end" fill="#262626" dominant-baseline="central">200</text>
<text x="53.60" y="600.33" font-size="11" text-anchor="end" fill="#262626" dominant-baseline="central">400</text>
<text x="53.60" y="574.10" font-size="11" text-anchor="end" fill="#262626" dominant-baseline="central">600</text>
<text x="53.60" y="547.87" font-size="11" text-anchor="end" fill="#262626" dominant-baseline="central">800</text>
<text x="53.60" y="521.63" font-size="11" text-anchor="end" fill="#262626" dominant-baseline="central">1000</text>
<text x="53.60" y="495.40" font-size="11" text-anchor="end" fill="#262626" dominant-baseline="central">1200</text>
<text x="20.00" y="574.10" font-size="12.6" text-anchor="middle" fill="#262626" dominant-baseline="central" textLength="57" lengthAdjust="spacing" transform="rotate(-90 20.00 574.10)">Count/32s</text>
<text x="64.80" y="558.90" font-size="14.8" text-anchor="start" fill="#111" dominant-baseline="central">(c)</text>
<line x1="94.56" y1="674.40" x2="94.56" y2="832.20" stroke="#e3e3e3" stroke-width="0.8"/>
<line x1="131.53" y1="674.40" x2="131.53" y2="832.20" stroke="#e3e3e3" stroke-width="0.8"/>
<line x1="168.49" y1="674.40" x2="168.49" y2="832.20" stroke="#e3e3e3" stroke-width="0.8"/>
<line x1="205.45" y1="674.40" x2="205.45" y2="832.20" stroke="#e3e3e3" stroke-width="0.8"/>
<line x1="242.41" y1="674.40" x2="242.41" y2="832.20" stroke="#e3e3e3" stroke-width="0.8"/>
<line x1="279.38" y1="674.40" x2="279.38" y2="832.20" stroke="#e3e3e3" stroke-width="0.8"/>
<line x1="316.34" y1="674.40" x2="316.34" y2="832.20" stroke="#e3e3e3" stroke-width="0.8"/>
<line x1="353.30" y1="674.40" x2="353.30" y2="832.20" stroke="#e3e3e3" stroke-width="0.8"/>
<line x1="390.26" y1="674.40" x2="390.26" y2="832.20" stroke="#e3e3e3" stroke-width="0.8"/>
<line x1="427.23" y1="674.40" x2="427.23" y2="832.20" stroke="#e3e3e3" stroke-width="0.8"/>
<line x1="464.19" y1="674.40" x2="464.19" y2="832.20" stroke="#e3e3e3" stroke-width="0.8"/>
<line x1="501.15" y1="674.40" x2="501.15" y2="832.20" stroke="#e3e3e3" stroke-width="0.8"/>
<line x1="538.11" y1="674.40" x2="538.11" y2="832.20" stroke="#e3e3e3" stroke-width="0.8"/>
<line x1="575.08" y1="674.40" x2="575.08" y2="832.20" stroke="#e3e3e3" stroke-width="0.8"/>
<line x1="612.04" y1="674.40" x2="612.04" y2="832.20" stroke="#e3e3e3" stroke-width="0.8"/>
<line x1="57.60" y1="780.16" x2="649.00" y2="780.16" stroke="#e3e3e3" stroke-width="0.8"/>
<line x1="57.60" y1="742.30" x2="649.00" y2="742.30" stroke="#e3e3e3" stroke-width="0.8"/>
<line x1="57.60" y1="715.44" x2="649.00" y2="715.44" stroke="#e3e3e3" stroke-width="0.8"/>
<line x1="57.60" y1="694.60" x2="649.00" y2="694.60" stroke="#e3e3e3" stroke-width="0.8"/>
<line x1="57.60" y1="677.58" x2="649.00" y2="677.58" stroke="#e3e3e3" stroke-width="0.8"/>
<line x1="57.60" y1="807.02" x2="59.60" y2="807.02" stroke="#262626" stroke-width="0.8"/>
<line x1="649.00" y1="807.02" x2="647.00" y2="807.02" stroke="#262626" stroke-width="0.8"/>
<line x1="57.60" y1="792.63" x2="59.60" y2="792.63" stroke="#262626" stroke-width="0.8"/>
<line x1="649.00" y1="792.63" x2="647.00" y2="792.63" stroke="#262626" stroke-width="0.8"/>
<line x1="57.60" y1="769.16" x2="59.60" y2="769.16" stroke="#262626" stroke-width="0.8"/>
<line x1="649.00" y1="769.16" x2="647.00" y2="769.16" stroke="#262626" stroke-width="0.8"/>
<line x1="57.60" y1="759.32" x2="59.60" y2="759.32" stroke="#262626" stroke-width="0.8"/>
<line x1="649.00" y1="759.32" x2="647.00" y2="759.32" stroke="#262626" stroke-width="0.8"/>
<line x1="57.60" y1="750.42" x2="59.60" y2="750.42" stroke="#262626" stroke-width="0.8"/>
<line x1="649.00" y1="750.42" x2="647.00" y2="750.42" stroke="#262626" stroke-width="0.8"/>
<line x1="57.60" y1="734.82" x2="59.60" y2="734.82" stroke="#262626" stroke-width="0.8"/>
<line x1="649.00" y1="734.82" x2="647.00" y2="734.82" stroke="#262626" stroke-width="0.8"/>
<line x1="57.60" y1="727.90" x2="59.60" y2="727.90" stroke="#262626" stroke-width="0.8"/>
<line x1="649.00" y1="727.90" x2="647.00" y2="727.90" stroke="#262626" stroke-width="0.8"/>
<line x1="57.60" y1="721.46" x2="59.60" y2="721.46" stroke="#262626" stroke-width="0.8"/>
<line x1="649.00" y1="721.46" x2="647.00" y2="721.46" stroke="#262626" stroke-width="0.8"/>
<line x1="57.60" y1="709.77" x2="59.60" y2="709.77" stroke="#262626" stroke-width="0.8"/>
<line x1="649.00" y1="709.77" x2="647.00" y2="709.77" stroke="#262626" stroke-width="0.8"/>
<line x1="57.60" y1="704.44" x2="59.60" y2="704.44" stroke="#262626" stroke-width="0.8"/>
<line x1="649.00" y1="704.44" x2="647.00" y2="704.44" stroke="#262626" stroke-width="0.8"/>
<line x1="57.60" y1="699.39" x2="59.60" y2="699.39" stroke="#262626" stroke-width="0.8"/>
<line x1="649.00" y1="699.39" x2="647.00" y2="699.39" stroke="#262626" stroke-width="0.8"/>
<line x1="57.60" y1="690.04" x2="59.60" y2="690.04" stroke="#262626" stroke-width="0.8"/>
<line x1="649.00" y1="690.04" x2="647.00" y2="690.04" stroke="#262626" stroke-width="0.8"/>
<line x1="57.60" y1="685.70" x2="59.60" y2="685.70" stroke="#262626" stroke-width="0.8"/>
<line x1="649.00" y1="685.70" x2="647.00" y2="685.70" stroke="#262626" stroke-width="0.8"/>
<line x1="57.60" y1="681.55" x2="59.60" y2="681.55" stroke="#262626" stroke-width="0.8"/>
<line x1="649.00" y1="681.55" x2="647.00" y2="681.55" stroke="#262626" stroke-width="0.8"/>
<clipPath id="dmain"><rect x="57.6" y="674.4" width="591.4" height="157.8"/></clipPath>
<g clip-path="url(#dmain)">
<line x1="93.60" y1="822.00" x2="93.90" y2="700.00" stroke="#b58cc4" stroke-width="0.8"/>
<line x1="259.20" y1="826.00" x2="259.70" y2="690.00" stroke="#b58cc4" stroke-width="0.8"/>
<path d="M57.6 817.3l.2 .8 .2 2.3 .2 2.4 .2-4.5 .2-.2 .2 1 .2 4.3 .2-5 .2 4.9 .2-.7 .2-4.3 .2 3.3 .2-.7 .2-.3 .2 4.8 .2-7.5 .2-.6 .2 7.6 .2-4.4 .2-1.7 .2 1.1 .2 .3 .2 4.9 .2-6.2 .2 .1 .2 3 .2-.3 .2 3.4 .2-1 .2-4 .2-1.2 .2 5.2 .2 1.2 .2-7.9 .2 5.8 .2 1.1 .2-1.8 .2-3.5 .2 4.8 .2-.6 .2-4.4 .2 3.7 .2-3.5 .2-1.5 .2 2.4 .2 0 .2 .5 .2 2.1 .2 1.6 .2 1 .2 .1 .2 .2 .2-1.7 .2-4 .2-1.1 .2 3.7 .2-.6 .2 1 .2-4.8 .2 .9 .2 6 .2-2.7 .2 .8 .2-4.9 .2 2.5 .2 4.2 .2-2.2 .2 2.9 .2-6.6 .2 2.1 .2 2.9 .2-3 .2 2.9 .2-1.9 .2-3.7 .2-.1 .2 7.3 .2-7.1 .2 .6 .2 1.1 .2 3.2 .2 1.1 .2-3.1 .2 .2 .2 2.4 .2-4.2 .2 .7 .2 2 .2 .2 .2-4.9 .2 .6 .2 .2 .2 4.9 .2-.3 .2 2.3 .2-1.7 .2-4.2 .2 4.2 .2 1.8 .2-5.3 .2-2.7 .2 3 .2-.8 .2-.9 .2-1.1 .2 .7 .2 6.1 .2-6.7 .2 4.6 .2-3.3 .2-.1 .2 5.2 .2-4.4 .2-.9 .2 2.2 .2 2 .2-1.4 .2 2.8 .2-3.8 .2 1 .2 1.6 .2-2.1 .2 2.1 .2-2.1 .2-2.7 .2-.1 .2 5.4 .2-.3 .2 1.7 .2-2.1 .2-.9 .2-3.5 .2 5.7 .2-6.1 .2 2.6 .2-2.4 .2 2 .2-.6 .2 1 .2 2.3 .2-1.4 .2-2.4 .2 4.4 .2-.4 .2 .8 .2-6.6 .2 4.8 .2 2.4 .2-5.3 .2-.5 .2 5.1 .2-3.7 .2 .3 .2 3.4 .2-3.6 .2-1.5 .2 .1 .2 1.1 .2 2.9 .2-2.7 .2 3.3 .2-5.8 .2 1.5 .2 3.1 .2-1.2 .2 .2 .2 3.6 .2-5.4 .2-.8 .2-1.3 .2 3.8 .2-1.6 .2 1.5 .2-3.9 .2 0 .2 3.1 .2 3.1 .2-3.7" fill="none" stroke="#7e2f8e" stroke-width="1.0" stroke-linejoin="round"/>
<path d="M94.4 713.3l.2-7.8 .2-2.9 .2-2.7 .2-2.6 .2 .2 .2-2.8 .2-.2 .2-.2 .2 .5 .2-1.8 .2-1.5 .2 .4 .2-2.9 .2-.6 .2 1.6 .2 1.4 .2 .7 .2 2.6 .2 3.4 .2-.3 .2 3.7 .2-1.6 .2 4.6 .2-.1 .2-.5 .2 3.7 .2 .3 .2-2.1 .2 1.8 .2 2 .2 3.2 .2-2.8 .2-.6 .2 1 .2-1.4 .2 1.4 .2 .4 .2-.7 .2-1.4 .2-.7 .2 3.1 .2-1.8 .2 0 .2 .8 .2 1.7 .2 1.7 .2 .5 .2 .4 .2-.9 .2 0 .2 .5 .2 4.2 .2-2.8 .2 3.1 .2 2 .2-2.4 .2 .7 .2 .5 .2 2.8 .2-.8 .2 1.1 .2-3.3 .2 3.6 .2-1 .2 .2 .2 2.3 .2 0 .2 1.2 .2-.4 .2 1.2 .2-1.9 .2 1.2 .2 1.9 .2-.7 .2-.7 .2 3 .2 2.3 .2 .8 .2-2.8 .2 2.1 .2 0 .2 1.5 .2 4 .2-1.9 .2 .2 .2 .7 .2 1.7 .2 1.8 .2-1.1 .2-.2 .2 .8 .2 .8 .2 4.1 .2-3.4 .2 3.8 .2-3 .2 4.4 .2-2.3 .2 3.5 .2-1.4 .2-1.3 .2 .7 .2 4.5 .2-.8 .2 .3 .2-.2 .2 2.6 .2-.6 .2-1.8 .2 3.7 .2-1.1 .2 3.7 .2-1.1 .2 1.9 .2-3.2 .2 4 .2 .1 .2 2 .2 .8 .2-1.4 .2 .9 .2 1.6 .2-2.4 .2 2.3 .2 2.1 .2-.6 .2 .3 .2 2.5 .2 1.3 .2-3.8 .2-.6 .2 3.9 .2-2.5 .2 5.7 .2-2.6 .2 .8 .2 2.3 .2 .9 .2-4.2 .2 2.5 .2-1.2 .2 2.2 .2-1.6 .2 5.3 .2-2.9 .2 .8 .2 3.8 .2 0 .2-2.7 .2 1.6 .2 1.5 .2-2.6 .2 .1 .2 5.3 .2-4.1 .2 4.1 .2 .7 .2-.4 .2-1.2 .2 4 .2 0 .2-4.4 .2 6.2 .2-1.3 .2-1.9 .2-.3 .2 0 .2 5.4 .2 .8 .2-3 .2-.7 .2-.2 .2 2.8 .2-.3 .2-1.2 .2 2.1 .2 4 .2-4.9 .2 2.8 .2 1.2 .2-2.1 .2-.5 .2 .6 .2 .9 .2 6.3 .2-.4 .2-.7 .2 1.8 .2-3.7 .2-.2 .2 4.9 .2-1.5 .2 2.7 .2-3.7 .2 .8 .2 2.6 .2 1.5 .2-5 .2 .9 .2-1.7 .2 4.3 .2 2.8 .2-2.4 .2-2.9 .2 4.2 .2-.1 .2-3.8 .2 6.2 .2-1.7 .2-1 .2-.9 .2-1.2 .2 2.5 .2-.5 .2-.8 .2 3.3 .2 .3 .2 2.4 .2 .3 .2-3.6 .2 2.1 .2-2.4 .2 .7 .2 1.2 .2 3.3 .2-6.9 .2 3.4 .2-.7 .2 3.7 .2 1.3 .2-3.5 .2-2.8 .2 4 .2 .1 .2 .9 .2 .8 .2-2.2 .2 .8 .2 1.8 .2-5.4 .2 1.7 .2 3.6 .2 2.3 .2-.1 .2-4.9 .2 5.5 .2-5.2 .2 1.5 .2-2.1 .2 3.5 .2-1.4 .2 2.4 .2 2.2 .2-6.2 .2 4.2 .2-.3 .2-2.3 .2-1.7 .2 7.1 .2-1.7 .2-.4 .2-3.9 .2 6.3 .2-3.7 .2 .6 .2 .9 .2-.7 .2 4.1 .2-3.7 .2 1.8 .2 .9 .2 1.4 .2-5.8 .2 1.4 .2 4.8 .2-2.6 .2-1.7 .2 4 .2-5.9 .2 1.1 .2-1.3 .2 4.7 .2-1.3 .2-1.4 .2 1.1 .2-1.4 .2 3.7 .2 .4 .2-2.9 .2 3.9 .2-6.4 .2 4.2 .2-3.2 .2-.2 .2 3.5 .2-3.6 .2 0 .2 .5 .2 2 .2 3.6 .2-4.2 .2-1.2 .2 5.1 .2 .5 .2 1.5 .2-7.4 .2 .9 .2 2.2 .2 4.5 .2-3.5 .2 2.8 .2-5.2 .2 2.1 .2 1.7 .2-3.5 .2 2.4 .2 2.4 .2 0 .2-.9 .2 1.2 .2 1.3 .2-3 .2-2.7 .2-.2 .2-1.2 .2 6.9 .2-2.7 .2 .3 .2 2.2 .2-1.4 .2-2.3 .2 1.6 .2-3.9 .2 1.4 .2 .8 .2 3.7 .2-1 .2-.4 .2-1.6 .2-.3 .2 .3 .2-2.6 .2 2.5 .2 4.4 .2-.7 .2-4.5 .2 2 .2 2 .2-4.3 .2 1.3 .2 1.9 .2-3.1 .2 5.7 .2-7 .2 6.9 .2-1.7 .2-2.1 .2-.8 .2 4.7 .2-1.3 .2-3.9 .2 .9 .2-1.8 .2 4.3 .2-1.5 .2-.9 .2 3.2 .2-3.6 .2-.8 .2 5.2 .2 .8 .2-.6 .2-2 .2 1.4 .2 1.2 .2-6.6 .2 2.1 .2 .5 .2 3.1 .2-3.2 .2 3.5 .2-4 .2 5.6 .2-4.1 .2 1.3 .2 .3 .2 1.6 .2-2 .2-2.8 .2 1.9 .2 1 .2-3.9 .2 6.1 .2-4.1 .2 4.9 .2-4.3 .2 4.7 .2-1.8 .2-2.6 .2 2.5 .2-5.6 .2 .7 .2 4 .2-2.1 .2 .8 .2 2.5 .2-1.9 .2 1.2 .2 1.1 .2 .8 .2-5.9 .2 5.9 .2-.7 .2-4.1 .2-1.1 .2 .9 .2-.8 .2 3.9 .2 3.5 .2-4.1 .2-1.6 .2-.8 .2 6.5 .2-3.4 .2-2.5 .2 5.5 .2-3.9 .2 4.6 .2-3.8 .2-2 .2-.6 .2-1.3 .2 6.5 .2-3.9 .2 3.3 .2 .9 .2-3.5 .2 .9 .2 1.8 .2-.6 .2-2.3 .2-1.3 .2 .8 .2-2.1 .2 5 .2 .1 .2 1.1 .2-2.7 .2 2.4 .2-1.3 .2 2.4 .2-2.4 .2 1 .2-.6 .2-3.2 .2-.9 .2 6 .2-1 .2-1.4 .2 3.3 .2-5.9 .2 4.5 .2-1.8 .2-3.2 .2 .2 .2-.8 .2 1.4 .2 4.8 .2-2.4 .2-3.5 .2 3.7 .2 3.9 .2-1.5 .2-3.9 .2 1.5 .2-.9 .2-1.1 .2 3.5 .2-5.2 .2 3.7 .2 3.7 .2-1.3 .2-.8 .2 1.4 .2 1 .2-5.5 .2 5.5 .2-.4 .2-3.2 .2-2.9 .2 3.2 .2-.2 .2 4.1 .2-6.1 .2 3.8 .2 .4 .2-1.3 .2-2.5 .2 5.1 .2-5.3 .2 4.9 .2 .3 .2-2.9 .2-3.9 .2 1.8 .2-1.6 .2 1 .2 1.4 .2 1.8 .2 1.9 .2-6.2 .2 5.8 .2-5.2 .2 4.9 .2-5.7 .2 2.9 .2 4.7 .2-.4 .2-6.7 .2 2.7 .2 4.4 .2-6.1 .2 2.4 .2-1.6 .2 .3 .2 1.6 .2-2.9 .2 .2 .2 6.7 .2-1.7 .2-1.3 .2-3.8 .2 0 .2 4.1 .2-.1 .2-4.9 .2 7.8 .2-4.8 .2-.8 .2 3 .2 2.3 .2-4.6 .2 1.4 .2-3.8 .2 3.4 .2 3.6 .2 .4 .2-4.8 .2 4.2 .2 1.1 .2-5.7 .2 4.6 .2-4.7 .2 5.6 .2-.5 .2 .6 .2-4.6 .2 2.4 .2 .2 .2-1 .2-4.3 .2 5.2 .2 1.1 .2-1.2 .2 2.2 .2 .6 .2-2.6 .2-2.3 .2 1.3 .2-2.6 .2 .4 .2 6.3 .2-4.4 .2 .3 .2 3.5 .2-.6 .2-6.2 .2 3.1 .2 1.1 .2-2.4 .2 4.4 .2-1.1 .2 2 .2-5.9 .2 .5 .2 1.1 .2 1.8 .2-2.1 .2 2.2 .2-1.3 .2-2.2 .2 6.4 .2-2.3 .2 3.1 .2-3 .2 2.9 .2-2 .2-.8 .2 3.8 .2-4.8 .2 5.3 .2-3.2 .2 3.1 .2-7 .2 3.8 .2-1.7 .2 4.3 .2 .8 .2-.3 .2-3.8 .2-2.6 .2 7.7 .2-6.4 .2 5.3 .2-1.8 .2 1.2 .2-.1 .2-3.8 .2 1.3 .2 .1 .2 2.8 .2-.1 .2 2.7 .2-3.8 .2-1.5 .2-1.9 .2 2.7 .2 1.4 .2 .8 .2-5.5 .2 1.4 .2 3.7 .2 1.3 .2 1.4 .2-6.7 .2 5 .2-2.4 .2 1.3 .2 .8 .2-2.3 .2 1.7 .2 3.1 .2-8 .2 4.5 .2 3.8 .2-1 .2-5.2 .2 4.5 .2 1.2 .2-4.3 .2 1.3 .2-2.2 .2 6 .2-6.8 .2 4.4 .2 2.4 .2-.1 .2-1 .2-3.5 .2 4.3 .2-.6 .2-3.7 .2-.3 .2-.4 .2 0 .2 2.1 .2-1.2 .2 4.6 .2-8.1 .2 5.1 .2-1.4 .2 4.8 .2 .1 .2-2.4 .2 .2 .2-3 .2 2.8 .2-3.8 .2 4.8 .2-2 .2-2.8 .2-.2 .2 1.6 .2-.4 .2 2.8 .2-1.7 .2-3.6 .2 2.5 .2 1.1 .2 4.6 .2-.6 .2-2.6 .2 2.9 .2-6.8 .2 .4 .2-.4 .2 .9 .2 .2 .2 2.2 .2 2.9 .2-4.5 .2-.3 .2 1.3 .2 4 .2-3.7 .2 4 .2-5.7 .2 2.1 .2 .6 .2 .8 .2 1 .2-6.1 .2 .8 .2-.9 .2 5.7 .2-2.4 .2 0 .2-3.9 .2 6.5 .2 1.5 .2-8.1 .2 8.2 .2-4.3 .2-3.1 .2-.7 .2 5.7 .2 .8 .2-3.3 .2 3.9 .2-7.3 .2 7.3 .2-6 .2 .2 .2 1.3 .2 0 .2 4.8 .2-3.4 .2-.6 .2 3.3 .2-3.3 .2-1 .2 .3 .2 2 .2 2.8 .2 .1 .2-7.6 .2 2.9 .2 2.8 .2-1.7 .2 2 .2 1.8 .2-7.6 .2 5.5 .2-3.9 .2 3.5 .2-3.9 .2-.4 .2 6 .2-1.6 .2-.2 .2-1.7 .2-1.5 .2-1.6 .2 7.5 .2-1.3 .2-.4 .2-5.7 .2-.6 .2 3.9 .2-3.1 .2 4.3 .2-2.5 .2 4 .2-5.3 .2 2.9 .2-.8 .2-1.5 .2 .8 .2-1.2 .2 1 .2 1.1 .2-.4 .2 2.2 .2 1.9 .2-3.2 .2-2.6 .2 2.6 .2-3.1 .2 5.8 .2-7 .2 2.3 .2 5.4 .2-2.9 .2-2.1 .2-2.6 .2 1.2 .2 5.5 .2-6.4 .2 5.2 .2-4.5 .2 5 .2-5.5 .2 .1 .2 .6 .2 6.3 .2-7.9 .2 3.9 .2 3.6 .2-2 .2-5.6 .2 5.5 .2-3 .2-.8 .2-.8 .2-.2 .2 3.8 .2 1.6 .2 1.2 .2-2.2 .2-1.7 .2-3.5 .2-20.7 .2-9.2" fill="none" stroke="#7e2f8e" stroke-width="1.0" stroke-linejoin="round"/>
<path d="M260.6 697.8l.2-6.2 .2-1.4 .2 .1 .2-.4 .2 .9 .2-2.4 .2 1.6 .2-1.2 .2 1.2 .2-2.2 .2 .8 .2-2.8 .2-1 .2 1.4 .2-1.1 .2-2.9 .2-.4 .2 .1 .2-3.2 .2 1 .2-1 .2-.2 .2-.6 .2-1.4 .2-2.7 .2 1.6 .2-2.7 .2-.3 .2 1.1 .2-1.6 .2-.9 .2 .9 .2-.8 .2-2 .2 1.5 .2 .3 .2-1.2 .2-1.7 .2 .8 .2-.2 .2-1.1 .2 1.3 .2-1.4 .2 .8 .2 3.1 .2-1.4 .2 .1 .2 2.6 .2 .7 .2-.6 .2 .8 .2-.9 .2 .6 .2 3.5 .2 .7 .2 .3 .2 1 .2 .1 .2 .8 .2 2.4 .2 1.2 .2-1.3 .2 1.2 .2 .8 .2 3.3 .2 .2 .2-.4 .2 2.5 .2 2.6 .2 .4 .2 .8 .2 .7 .2-.7 .2 2.3 .2 .7 .2 2.8 .2-2.5 .2 1 .2 1 .2 1.1 .2 2 .2 2.3 .2 1.5 .2 1.2 .2-2 .2 2.4 .2 1.7 .2-.1 .2 .7 .2 .6 .2 1.7 .2-.1 .2 5 .2-.2 .2 2 .2-3 .2 1.2 .2 3.5 .2 2.5 .2-1.7 .2 .6 .2 1.3 .2-.8 .2 1.9 .2 .7 .2 1 .2 5 .2-.5 .2 1.9 .2-1.1 .2 1.4 .2-.1 .2 1.3 .2 2.5 .2 .2 .2-1.9 .2 1.3 .2 2.9 .2 0 .2 1 .2-1.9 .2 2.1 .2 1.6 .2 3.3 .2 1.2 .2-4 .2 2.6 .2-.5 .2 2 .2 1.9 .2 1.5 .2 0 .2 .8 .2 .4 .2-1.7 .2 .6 .2 2.4 .2-1.8 .2 2.4 .2 2 .2 2.1 .2 1.2 .2-1.7 .2-2 .2 3.1 .2 1.3 .2-2.2 .2 4.3 .2-3.2 .2 3.4 .2 2.4 .2 0 .2 .1 .2-2.3 .2 1.4 .2 3.5 .2-1.8 .2-1.2 .2 1.4 .2-1 .2 6.1 .2-3 .2 1.3 .2-2.1 .2 4.1 .2-2.6 .2 .7 .2 4 .2-1.4 .2 .9 .2-1.5 .2-.9 .2 2.1 .2 .7 .2 3.7 .2-.7 .2-1.3 .2 1 .2 1.4 .2 .7 .2 .5 .2-2.8 .2 1.2 .2-.4 .2 1 .2 3.4 .2-2.1 .2-2.3 .2 5 .2-2.2 .2 2.9 .2 1.7 .2 .4 .2-1.9 .2-3.4 .2 6.5 .2-5.5 .2 3.7 .2-3 .2 .7 .2 5.8 .2-.8 .2-.1 .2-2.6 .2 .8 .2 .8 .2 3.9 .2-3.6 .2 2.8 .2 2.1 .2-5 .2 2.4 .2-.9 .2 2.7 .2-1.6 .2 4.7 .2-4.2 .2 4 .2-3 .2 .9 .2 2.1 .2 .1 .2-.3 .2-2.8 .2 1.9 .2-2.5 .2 1.3 .2 2 .2 3.3 .2 .1 .2-4.1 .2 3.5 .2 2.2 .2-1.9 .2 1.5 .2-2.7 .2 2.8 .2-1.2 .2-.2 .2-.4 .2 1.2 .2-.3 .2 .6 .2-3.5 .2 5.1 .2-3.6 .2-.3 .2 6 .2-.2 .2 0 .2-2.5 .2-1.8 .2 1.8 .2-1.7 .2 2.5 .2-1.3 .2 1.5 .2 3.6 .2 .5 .2-5.8 .2 3.5 .2 2.1 .2 1 .2-3.1 .2 1.7 .2-4.7 .2 1.6 .2 3.3 .2 1.2 .2-5.4 .2 5.6 .2 0 .2-5.5 .2 4.1 .2-2.3 .2 4.1 .2-3.2 .2 4 .2-1.2 .2-3.3 .2 1.9 .2 .6 .2-.9 .2 3.3 .2-5.2 .2 5.8 .2 .5 .2-4.6 .2 3 .2-.3 .2 2.3 .2-5.5 .2 5.3 .2-.6 .2 .1 .2-1.9 .2 .6 .2-3.9 .2 1 .2 4.4 .2 1.8 .2-.9 .2-4.7 .2 1.5 .2 2.1 .2-.6 .2 2.9 .2-1.1 .2 1.8 .2 0 .2-.7 .2 .3 .2 1.4 .2-5.6 .2 1.8 .2 3.9 .2-4.3 .2 .2 .2-1.9 .2 4.6 .2 1.6 .2-5.1 .2 .5 .2-.5 .2 5.3 .2-4.7 .2 5.3 .2 .6 .2-2.2 .2 2.3 .2-.4 .2-2.8 .2 .8 .2-3.4 .2 6 .2 .4 .2-6.4 .2 1 .2-.8 .2 4.8 .2-3.5 .2-1.8 .2 7.8 .2-5.7 .2 2.5 .2 1.4 .2 1.7 .2-7 .2 .9 .2 1.9 .2 2.2 .2 1.7 .2 .7 .2 .2 .2-1.6 .2-3.4 .2 5.1 .2-1.5 .2-.4 .2-2.6 .2 .1 .2 5.4 .2-3.1 .2-.2 .2-1.9 .2 .2 .2-.7 .2 4.8 .2-1 .2-2 .2-.2 .2 2.2 .2-1.7 .2 4 .2 1.2 .2-4.5 .2 3.3 .2-3.1 .2 4.9 .2-5.4 .2 3.5 .2-.8 .2 2.9 .2-6.4 .2 .7 .2 2.2 .2 2.1 .2-1.2 .2-3.7 .2 2.4 .2 2.1 .2 .6 .2-2.4 .2-.8 .2-1.9 .2 2.2 .2-1.7 .2 3.3 .2 .9 .2-.8 .2-5.4 .2 6 .2-6.9 .2 6.5 .2-4.9 .2-.9 .2 .1 .2 1.9 .2 1.7 .2-4.3 .2-.5 .2 2.1 .2 1.9 .2-2.4 .2-.7 .2-.5 .2 .3 .2 6.4 .2-2.8 .2-4.1 .2 6.1 .2-3.3 .2 2.1 .2-.9 .2-2.8 .2 3.3 .2-1.3 .2 4.6 .2-4 .2-1.1 .2 1 .2-1.7 .2-.5 .2 4.5 .2 2.8 .2-1.7 .2-2.7 .2-2.1 .2 1.2 .2 4.9 .2-.9 .2-.7 .2 .6 .2-2.1 .2 1 .2-2.6 .2 1.9 .2 2.3 .2 2.4 .2-5.4 .2 2.6 .2-.2 .2 3 .2-1.5 .2-2.1 .2-2.7 .2 6.9 .2-5.5 .2 3.5 .2 1.5 .2 1.2 .2-2.2 .2-1.2 .2-.5 .2 1.2 .2-3.9 .2 6.5 .2-6.7 .2 6.8 .2 .3 .2-6.6 .2 .8 .2 4.9 .2-6.4 .2 6.4 .2-2.8 .2 2.8 .2-1.6 .2 1.4 .2-4.2 .2 3.2 .2-3.3 .2 2.9 .2-4.2 .2 6.8 .2-.5 .2-4.1 .2-2.3 .2 5.5 .2-4.5 .2 5 .2-4 .2 4.3 .2 1.5 .2 .2 .2-1.9 .2-2.4 .2 1.1 .2-3.4 .2 1.5 .2 1.7 .2-1.4 .2 4.8 .2-5 .2 3.4 .2 1.5 .2-.9 .2 .6 .2-.3 .2-1.1 .2-5.4 .2 .3 .2 1.1 .2 3.3 .2 3 .2-2.8 .2-2.1 .2 3.5 .2-6.2 .2 4 .2-2.1 .2 .7 .2 .8 .2-.8 .2-1.2 .2 5.9 .2-3.8 .2-.9 .2 2.5 .2 2.4 .2-2.8 .2-1.1 .2 4.5 .2-5.2 .2 .2 .2-.8 .2-1.1 .2 1.4 .2 3.9 .2-1.6 .2 2.8 .2-6.1 .2-.1 .2 4.4 .2-3.8 .2 6 .2 .2 .2-7.6 .2 3.3 .2 2.6 .2-.4 .2-4.8 .2 2.1 .2 2.6 .2 2.3 .2-1.9 .2-1.5 .2 2.1 .2-4.9 .2 1.6 .2-2.6 .2 2.3 .2 2.2 .2 .8 .2-.5 .2-4.3 .2 1.2 .2 5.9 .2-4.3 .2 .6 .2 3.1 .2-2.3 .2 2.4 .2-6 .2 3.6 .2-.7 .2 0 .2 1.8 .2 1.3 .2-6.1 .2 1 .2-.9 .2 0 .2 6.6 .2-5.8 .2 .7 .2 2.3 .2-4.2 .2 7.4 .2-1.7 .2-4.8 .2-.1 .2-.3 .2 2.8 .2 .9 .2-.5 .2 3.5 .2-4.4 .2 3 .2-2.9 .2-.6 .2 2 .2-.3 .2 2.6 .2-4 .2-.2 .2 2.1 .2-.6 .2-.9 .2 3.7 .2-5.2 .2 .7 .2-1.3 .2-1 .2 7.2 .2 .9 .2-6.6 .2 5.7 .2 .7 .2-3.3 .2-3.3 .2 5.3 .2 1.3 .2-2.7 .2 1.3 .2 1.1 .2-4.1 .2 4.4 .2-1.6 .2-2.5 .2 2 .2-3.9 .2 5.6 .2-.8 .2 .2 .2-3.8 .2-2.5 .2 6.2 .2-4.5 .2-1.1 .2 5 .2-4.6 .2 4.7 .2-3.4 .2-1.2 .2 6.3 .2-4.4 .2 4.3 .2-1.7 .2-1.6 .2-1.5 .2-1.5 .2 4.7 .2-5.2 .2 5.9 .2-3.4 .2-1.1 .2 4.2 .2 .6 .2-.8 .2-6.1 .2 1.8 .2 2.1 .2 1.2 .2 1 .2-5.3 .2 7.2 .2-1.3 .2-1.9 .2 .1 .2-.4 .2-2.1 .2 .1 .2 .5 .2 4 .2-3.9 .2-.2 .2 1.1 .2-.8 .2 .4 .2 1.8 .2-.3 .2-.1 .2-2.9 .2 1.2 .2 1.6 .2 0 .2 1.4 .2-3.5 .2 .2 .2-.9 .2-1.5 .2 2.5 .2 3.7 .2-.9 .2 2 .2-1.9 .2 .4 .2-1.9 .2-3.4 .2 6.2 .2-2.4 .2 .9 .2-2.3 .2 1.7 .2 2.9 .2-5.8 .2 .6 .2 2.7 .2 1.1 .2-6 .2 6.7 .2-1.6 .2-1.4 .2-1.6 .2-2.1 .2 1.5 .2 5.1 .2-4.8 .2 3.7 .2-3.6 .2 2.4 .2-.1 .2-4.6 .2 4.7 .2 .7 .2-2.9 .2-2.4 .2 4 .2 1.2 .2 2.9 .2-5.7 .2-1.6 .2 2.7 .2-3.2 .2 6.9 .2-.7 .2 .5 .2-5.4 .2 1.9 .2 3.9 .2-1 .2-1.9 .2-3.6 .2 6.3 .2-6.7 .2 0 .2 1.8 .2 .6 .2-.5 .2-1.9 .2 6.9 .2-1.3 .2 0 .2 .4 .2-4.2 .2 2.8 .2 .3 .2-.3 .2-4.3 .2 4.4 .2-2.2 .2 3.8 .2-3 .2-3.2 .2 7.7 .2-2.3 .2 .5 .2-5.8 .2 4.4 .2-2.4 .2 4.6 .2-2.9 .2-3.6 .2 4.5 .2-1 .2 .6 .2-.6 .2-.1 .2 4.1 .2-3.9 .2 .7 .2 2.9 .2-6.7 .2 1.4 .2-.3 .2 3.6 .2-2.2 .2 .5 .2 1.8 .2-2.2 .2-2.3 .2 3.6 .2-3.6 .2-1.3 .2 2.7 .2 2.2 .2 1.1 .2-1.5 .2-.9 .2-3.6 .2 5.9 .2-.9 .2-4.7 .2 .9 .2 .7 .2 1.5 .2-1.7 .2 2.4 .2 2.1 .2-3.5 .2-.6 .2 .7 .2 4.7 .2-2.3 .2 1.1 .2-3.5 .2 .4 .2 1.6 .2-3.5 .2-.9 .2 3.3 .2-2.6 .2 2.5 .2-2.5 .2 1.5 .2-.4 .2 5.5 .2-6.5 .2 2.9 .2 3.3 .2-5 .2 2 .2 2.7 .2-4 .2 4.6 .2-3.8 .2 1.9 .2-3.3 .2 5.9 .2-7.5 .2 .9 .2-.7 .2 5.4 .2-2.4 .2 .3 .2 .2 .2 2 .2-4.7 .2 2.8 .2-3.7 .2-.1 .2 2.7 .2 3.1 .2-.3 .2-.9 .2-3 .2 .4 .2 1 .2 2.5 .2-4.1 .2-.8 .2 3.1 .2 2.9 .2-5.6 .2 1.8 .2 3.6 .2-2.3 .2 2.1 .2-1.6 .2 .3 .2-.1 .2-.1 .2 2.5 .2-3.1 .2 .3 .2-.1 .2 1.1 .2-2.1 .2 1.2 .2 1.9 .2 1.2 .2-5.6 .2-1.6 .2 5.4 .2-4.5 .2 2 .2 4.2 .2-1.7 .2 .4 .2 .9 .2-.1 .2-3.4 .2 2.4 .2-4 .2 .5 .2 4.3 .2-3.3 .2-1.6 .2 3.5 .2-3.4 .2 2.4 .2 1.7 .2-5.6 .2 6.3 .2 .3 .2-3.3 .2 3.2 .2-2.2 .2-4.8 .2 1.1 .2 2.4 .2-.1 .2 3.3 .2 1.1 .2-5 .2 1.6 .2-1.3 .2-.8 .2-2 .2 4.3 .2-2.8 .2 .7 .2 4.3 .2-4.4 .2 3.3 .2-2.2 .2 .2 .2 3.5 .2-6.9 .2 4.4 .2-2.3 .2-.1 .2 4.4 .2-6.6 .2 4 .2 2 .2-4.5 .2 4.4 .2-.2 .2 1.8 .2-7.7 .2 .9 .2 3 .2-2.3 .2 6.3 .2-2.8 .2 1.6 .2-1.7 .2 1.8 .2-3.1 .2-3.3 .2 7.8 .2-.3 .2-5.5 .2 5.7 .2-6.8 .2 3.3 .2 1.9 .2-1.6 .2-2.3 .2 .3 .2 4.9 .2-1.3 .2-3 .2 1.4 .2 2.6 .2-6.8 .2 5.1 .2-2.8 .2 3.4 .2-5.9 .2 3.3 .2 0 .2 4.1 .2-7.5 .2 3.5 .2-.8 .2 2.7 .2-5.5 .2 6.7 .2-4.4 .2 1.6 .2 .7 .2 .8 .2 1.7 .2-5.4 .2-1.3 .2 6.3 .2 .4 .2-5.9 .2 .5 .2 2.2 .2-1 .2 3.3 .2 .2 .2 1.5 .2-1.7 .2-2.7 .2 2.6 .2 1.1 .2 .3 .2-1 .2-1.6 .2-.9 .2 2 .2-5.9 .2 0 .2 2.9 .2-2.1 .2 1.9 .2 4.9 .2-5.5 .2-1.5 .2 3.3 .2-.7 .2 .5 .2 4.1 .2-5.8 .2-.1 .2 .2 .2-.3 .2-1.4 .2 3.6 .2 3.2 .2 .4 .2-4.5 .2-.3 .2-2.4 .2 7.3 .2-2.9 .2-2 .2 0 .2 4.3 .2-4.7 .2 2.9 .2-3.8 .2-4.2 .2 2.2 .2 1.7 .2-2.1 .2-2 .2 .3 .2 3 .2-.4 .2-4.6 .2-2.6 .2 0 .2-6.1 .2-2.9 .2 .3 .2 .4 .2-1.4 .2-.7 .2-1 .2-3 .2-1.5 .2-3.5 .2 3 .2-3.3 .2 3.7 .2-4.4 .2-.3 .2-1.2 .2 2.7 .2-2.5 .2 5 .2-2.9 .2 3.4 .2-1.4 .2 .9 .2 .2 .2 .6 .2-1.7 .2 3 .2-5.4 .2 2.7 .2 2 .2-4.6 .2 4.7 .2-3 .2 2.9 .2 1 .2-.8 .2-4.8 .2 .9 .2 1.6 .2 2.7 .2-1 .2-1.3 .2 2.4 .2 .8 .2-1.2 .2 1.6 .2-3.6 .2 3 .2-4.2 .2 3.3 .2-2.7 .2 5.6 .2-3.7 .2 2 .2-1.9 .2 2.2 .2-3 .2 .1 .2 7 .2-2.9 .2 2.7 .2 .1 .2 1.5 .2-3.1 .2-2.5 .2 6.8 .2-2.2 .2-.8 .2-2.3 .2 2.1 .2 4.5 .2-.8 .2 1.5 .2-6.6 .2 5.8 .2-4 .2-1.7 .2 7.5 .2-2.3 .2 1.8 .2-5.3 .2 .7 .2 .8 .2 4.5 .2-6 .2 6.6 .2 .4 .2-4.9 .2 2.9 .2 3.3 .2 .1 .2-2.1 .2-2.9 .2 2.2 .2 3.1 .2-.5 .2 1.1 .2-6.6 .2 2.7 .2-.9 .2 4.2 .2 .8 .2-2.2 .2-3.7 .2 2.1 .2 .8 .2 2.4 .2-2 .2-1.3 .2 1.4 .2 3.6 .2-1.9 .2-2.2 .2 5.1 .2-6.3 .2 2.6 .2 3.7 .2-.5 .2-3.6 .2 1.4 .2-.7 .2-.2 .2-2.3 .2-.2 .2 3 .2-.1 .2 3.6 .2-6.1 .2 2.2 .2 1.3 .2 .9 .2-4.3 .2 4.5 .2-2.1 .2-1.6 .2 2.6 .2 1.3 .2-3.8 .2 3.1 .2 .1 .2-3.2 .2 1.3 .2 3.7 .2-2 .2 4.5 .2-6.3 .2 .8 .2 6 .2-6.8 .2 .5 .2 5.5 .2-.6 .2-4.3 .2 2.4 .2 3.5 .2-3.7 .2 3.8 .2-4.7 .2 1.5 .2 1.3 .2-4.5 .2 4.2 .2-2.1 .2 1.8 .2-1 .2-2 .2 2.1 .2-2.7 .2 5.9 .2-4.9 .2 4.3 .2 1.7 .2-6 .2 4 .2 1.7 .2-1.8 .2 .5 .2-2.4 .2-2.6 .2-.3 .2 2.1 .2 4.7 .2 .2 .2-2 .2 .6 .2-.7 .2-2.3 .2 0 .2-2.4 .2 7.6 .2-2.2 .2-.7 .2 .5 .2-1.6 .2 .6 .2 2.5 .2 0 .2 .5 .2-3.8 .2-3.2 .2 3.2 .2-.2 .2 3 .2-2 .2 1.3 .2 2.7 .2-6.2 .2 .1 .2 2.8 .2-4.3 .2 .8 .2 3.5 .2-2.9 .2-.6 .2 1.5 .2 3.4 .2 1.9 .2-6.3 .2 6.6 .2-3.7 .2-2.1 .2 3 .2-.8 .2 3.5 .2-2.5 .2 3.1 .2-3.8 .2 2.1 .2-5.6 .2 7.6 .2-5.2 .2-2.2 .2 4.8 .2-3.5 .2 2 .2 1.6 .2 1.5 .2-.1 .2-5.5 .2 6.9 .2-.4 .2-.5 .2-2.6 .2 1.6 .2-.4 .2-2.7 .2-1.9 .2-.2 .2 2.7 .2-1 .2-.6 .2 3.2 .2-.5 .2-1 .2 5 .2-1.1 .2-.9 .2-2.7 .2-.8 .2 0 .2 1.9 .2 2.8 .2-1.4 .2-.6 .2-3.2 .2 3.6 .2-.5 .2 3.6 .2-.2 .2-3.3 .2 .5 .2 1.2 .2-4.3 .2 4.7 .2 1.5 .2-4.4 .2 1 .2-3.1 .2 2 .2 4.4 .2-4.5 .2 3.4 .2 1.2 .2-5.8 .2 .5 .2 2.5 .2 1.9 .2-2.5 .2 2.6 .2-1.9 .2 1.9 .2-1.5 .2 .6 .2-3 .2 4.1 .2-6.1 .2 1 .2 .8 .2 4.4 .2-.5 .2-.6 .2-1.6 .2 2.8 .2-4.1 .2 2.8 .2-.4 .2 2.2 .2-4.1 .2 1.9 .2-1 .2-6.2 .2 1.8 .2-.5 .2 2.4 .2-2.9 .2 6.3 .2-1.9 .2 4.8 .2-5.6 .2 4.2 .2-1.3 .2 1.9 .2-6.7 .2 6.1 .2 .9 .2-2.9 .2 .9 .2-3.7 .2 1.6 .2 3.3 .2-.1 .2-2.5 .2 .8 .2-3.7 .2 3.8 .2-4.3 .2-.1 .2 5.4 .2-.4 .2-3.1 .2-1.1 .2 6.8 .2-7.9 .2 .6 .2 1.4 .2 1.8 .2-1.6 .2 .7 .2 4.7 .2-1 .2-5 .2 4.4 .2-6.1 .2 7.6 .2-2.8 .2 .6 .2-2.3 .2 1.9 .2 3 .2-4.8 .2-3.2 .2 2.6 .2-.4 .2 1.4 .2-3.1 .2 5.8 .2-.7 .2-5.1 .2 2.2 .2 2.5 .2 .5 .2 .1 .2-.2 .2-1.4 .2 2.2 .2-3.9 .2 .2 .2 3.5 .2 .9 .2-3.5 .2-1.5 .2 1.1 .2 3.2 .2-4.5 .2 4.6 .2 .7 .2 1 .2-5.1 .2 3 .2 .1 .2 .1 .2-1.9 .2 2.9 .2-1.2 .2 1.2 .2-5.2 .2 3.7 .2 2.1 .2-2 .2-.4 .2 1.8 .2-2.3 .2-1 .2 .8 .2 2.1 .2-5.5 .2 .5 .2 .1 .2 3.7 .2-5.5 .2 6.4 .2-4.3 .2 5.6 .2-6.4 .2 4.9 .2 .3 .2-3.1 .2 2.7 .2-3.1 .2-1 .2 4 .2-4.7 .2 4.1 .2 .9 .2-4.5 .2 5.1 .2-4.8 .2 4.3 .2-1.8 .2-2.9 .2 2.8 .2 1.3 .2-2.5 .2 1.5 .2 .5 .2-1.4 .2-1.2 .2 .9 .2-.6 .2 4.8 .2-7.4 .2 3.9 .2-.9 .2 .9 .2-3.5 .2 6.4 .2-4.5 .2-1 .2 6.1 .2-4.4 .2-1.9 .2 .5 .2 4.2 .2-2 .2 3.7 .2-2.7 .2-3.2 .2 3.1 .2-4.9 .2 4.6 .2 2.1 .2-6.1 .2 4.7 .2-.9 .2-1.3 .2-2.9 .2 2.8 .2 1 .2-3.1 .2 6.6 .2-2.2 .2-2.3 .2 .7 .2-1.7 .2 2.6 .2 2 .2-.7 .2-5.9 .2 6 .2-1.2 .2-2.3 .2-1.8 .2 2.6 .2-2.9 .2 4.8 .2-4.7 .2 1.7 .2 .1 .2-.2 .2 2.4 .2-3.8 .2 0 .2-.3 .2 6 .2-1.8 .2 .3 .2 3.1 .2-6.1 .2-1.4 .2 4.7 .2-2.3 .2 5.1 .2-3.1 .2-.9 .2-2.7 .2 2.2 .2 .1 .2 3.9 .2-7 .2 4.4 .2-2.1 .2 1.5 .2 1.1 .2 1 .2-4.1 .2 2.4 .2-.6 .2 3 .2-6.7 .2 1.2 .2-1 .2 2.3 .2 3.7 .2-6.4 .2 5.7 .2-.4 .2 1.4 .2-3.5 .2 4.4 .2-1.6 .2-5.4 .2 4.5 .2-2.4 .2 1.5 .2-.7 .2 3.2 .2-.4 .2-.8 .2-3.4 .2 .7 .2 2.8 .2-1.7 .2 2.8 .2-4.5 .2 1.8 .2-1.3 .2 1 .2 4 .2 .2 .2-2.6 .2-5.3 .2 6.2 .2-.1 .2-3 .2 2.8 .2-2.1 .2-2 .2 .7 .2 3.6 .2-1.4 .2-3.4 .2 6.1 .2-5.1 .2-1.7 .2 3.1 .2-3 .2 .7 .2-.6 .2 6.2 .2-1.5 .2 .5 .2-3.7 .2 1.8 .2 .6 .2-.8 .2 4.1 .2-4.3 .2 2.9 .2-5.8 .2 5 .2-.4 .2-2.2 .2-1.8 .2 4.8 .2-1.6 .2 .7 .2-4.1 .2-1 .2 .4 .2 .4 .2 3.2 .2 3.8 .2-4.3 .2-1.4 .2 5.8 .2-4.4 .2-1.2 .2-1.7 .2 3.1 .2 0 .2-.8 .2 2.7 .2-.8 .2-3.6 .2 4 .2-2.8 .2 5.6 .2-1.9 .2-5.2 .2 .1 .2 1.1 .2-.7 .2 2.2 .2 4.2 .2-.8 .2-1.2 .2 1.6 .2-5.3 .2 1.9 .2 1.5 .2-2.9 .2 5.6 .2-4.6 .2 1.6 .2-3.9 .2 3.1 .2-.4 .2-.9 .2 .3 .2 2.8 .2 1.2 .2-2 .2 .8 .2-.1 .2 0 .2 .2 .2-.2 .2 .8 .2-.8 .2-4.1 .2 5.8 .2-1.4 .2 .9 .2-6.8 .2 7.2 .2-.3 .2 .5 .2-2.6 .2 1.9 .2-3 .2-1.5 .2 1.2 .2-1.1 .2 2.7 .2 .2 .2-2.1 .2 2.1 .2-.2 .2 .7 .2-6 .2 7.4 .2-1.2 .2-3.4 .2 3.9 .2-1.3 .2-1.6 .2 .1 .2 .4 .2 .5 .2 1 .2 .9 .2-4 .2 3.3 .2-5.5 .2 5.2 .2-4.2 .2 2.7 .2-4 .2 5.9 .2-2.4 .2 2.5 .2 1.6 .2-.5 .2-1.5 .2-3 .2-.2 .2-2.1 .2 6.3 .2-2.2 .2 .6 .2-4.4 .2 2.2 .2 2.9 .2-.6 .2 .7 .2-1.2 .2-2.8 .2 1.8 .2-1.2 .2 4.6 .2-6.6 .2 5.6 .2-4.1 .2 5 .2-4.8 .2 2.6 .2 3.3 .2-2.5 .2-4.8 .2 6.8 .2-.6 .2-4.2 .2 5.2 .2-.7 .2-2.8 .2-2.1 .2 1.1 .2 4.6 .2 .3 .2-6.6 .2 2.5 .2-1.1 .2 2.9 .2 2.3 .2-4.6 .2 3.9 .2-4.6 .2 4.5 .2-.6 .2-3.7 .2 4.8 .2-6.2 .2 .1 .2 4.9 .2-5 .2 .6 .2 5.5 .2-1.1 .2-1.8 .2 2.4 .2-5.3 .2 4.3 .2-4.8 .2-.2 .2 2.7 .2-3.8 .2 2.6 .2 4.4 .2 0 .2 0 .2-5.5 .2 1.4 .2-2.4 .2-.1 .2 2.1 .2 3.2 .2 2.2 .2-2.2 .2-4.1 .2 4.8 .2-4 .2 1.6 .2 1.1 .2 2.6 .2-6.5 .2 7 .2-4.9 .2-2.7 .2 .8 .2 5.6 .2-6.1 .2 .2 .2 5.8 .2 .2 .2 1 .2-7 .2 4.1 .2-4.1 .2 5.2 .2-.6 .2-3.7 .2 5.5 .2-3 .2 2.4 .2-1.1 .2-2.4 .2 1.4 .2-3.8 .2 3.2 .2 2.4 .2 .1 .2-3.8 .2-2 .2 2.9 .2 3.5 .2-4.4 .2 1 .2-2.7 .2 6.8 .2-7.4 .2 1.6 .2 5.8 .2-1 .2-6.7 .2 6.6 .2-.3 .2-1.9 .2-3.5 .2-.3 .2 2.1 .2 1.3 .2 1.4 .2-3.4 .2 4.8 .2 1.1 .2-6.8 .2-.1 .2 7.3 .2-1.3 .2-5.6 .2 0 .2 4.5 .2 .1 .2-2.8 .2 4.8 .2-2.5 .2 .1 .2-.7 .2-2.1 .2-1.7 .2 1.3 .2 4.1 .2-3.5 .2 3.5 .2 .1 .2-2.3 .2 2.7 .2-5.7 .2 5.8 .2-4.9 .2 1.8 .2 2.9 .2-3 .2 2.7 .2 1.4 .2 0 .2-1.1 .2-4.8 .2 1.4 .2-1.3 .2 4 .2-2.1 .2 .3 .2-3.8 .2 3.2 .2 .4 .2-1.8 .2-1 .2 3.5 .2 .7 .2-2.8 .2 3.3 .2-5.5 .2 5.5 .2-1.6 .2 1.5 .2 1.8 .2-4.5 .2 .2 .2 2.5 .2-1.1 .2-1.3 .2 3.5 .2 1.2 .2-5.1 .2 4.7 .2-7.3 .2 .2 .2 3.4 .2-2.1 .2-1.5 .2 5.8 .2-3.6 .2 .2 .2 2.9 .2-2.5 .2 3.4 .2-2.6 .2 2.3 .2-5.7 .2 5.6 .2 2.2 .2-1.6 .2 .3" fill="none" stroke="#7e2f8e" stroke-width="1.0" stroke-linejoin="round"/>
</g>
<line x1="77.80" y1="817.40" x2="362.40" y2="684.50" stroke="#6e6e6e" stroke-width="0.7"/>
<line x1="632.70" y1="766.10" x2="397.00" y2="818.30" stroke="#6e6e6e" stroke-width="0.7"/>
<rect x="362.40" y="684.50" width="270.30" height="81.60" fill="#fff" stroke="none" stroke-width="0"/>
<line x1="390.85" y1="684.50" x2="390.85" y2="766.10" stroke="#e6e6e6" stroke-width="0.7"/>
<line x1="419.31" y1="684.50" x2="419.31" y2="766.10" stroke="#e6e6e6" stroke-width="0.7"/>
<line x1="447.76" y1="684.50" x2="447.76" y2="766.10" stroke="#e6e6e6" stroke-width="0.7"/>
<line x1="476.21" y1="684.50" x2="476.21" y2="766.10" stroke="#e6e6e6" stroke-width="0.7"/>
<line x1="504.66" y1="684.50" x2="504.66" y2="766.10" stroke="#e6e6e6" stroke-width="0.7"/>
<line x1="533.12" y1="684.50" x2="533.12" y2="766.10" stroke="#e6e6e6" stroke-width="0.7"/>
<line x1="561.57" y1="684.50" x2="561.57" y2="766.10" stroke="#e6e6e6" stroke-width="0.7"/>
<line x1="590.02" y1="684.50" x2="590.02" y2="766.10" stroke="#e6e6e6" stroke-width="0.7"/>
<line x1="618.47" y1="684.50" x2="618.47" y2="766.10" stroke="#e6e6e6" stroke-width="0.7"/>
<line x1="362.40" y1="756.90" x2="632.70" y2="756.90" stroke="#e6e6e6" stroke-width="0.7"/>
<line x1="362.40" y1="738.80" x2="632.70" y2="738.80" stroke="#e6e6e6" stroke-width="0.7"/>
<line x1="362.40" y1="720.70" x2="632.70" y2="720.70" stroke="#e6e6e6" stroke-width="0.7"/>
<line x1="362.40" y1="702.60" x2="632.70" y2="702.60" stroke="#e6e6e6" stroke-width="0.7"/>
<clipPath id="dinset"><rect x="362.4" y="684.5" width="270.3" height="81.6"/></clipPath>
<g clip-path="url(#dinset)">
<line x1="390.80" y1="746.00" x2="390.80" y2="684.50" stroke="#c9a6d3" stroke-width="0.8"/>
<line x1="518.80" y1="752.00" x2="518.80" y2="684.50" stroke="#c9a6d3" stroke-width="0.8"/>
<path d="M362.4 737.3l.1-1.9 .1-.8 .2 9.4 .1-4.2 .1 1.4 .1-1.7 .1-2.2 .2 4.4 .1-1.9 .1 2.5 .1-1.5 .1 2.3 .2-5.1 .1-3.5 .1-.1 .1 7.2 .1-7 .2 6.1 .1-.4 .1-7.1 .1 9.2 .1-9.5 .2 10.5 .1-.3 .1-7.9 .1 6.5 .1 0 .2-7.6 .1 6.8 .1-6.8 .1 9.9 .1-2.8 .2 3.6 .1-11.6 .1 3.3 .1 3.8 .1-.1 .2-5.4 .1 8.9 .1-.5 .1-6.9 .1-2 .2 6.6 .1-3.3 .1 3.3 .1-2.2 .1-1.2 .2-4.7 .1 1.4 .1 4.1 .1 3.4 .1-3.8 .2 4 .1-2.6 .1 4.3 .1-2.8 .1-4.2 .2-2.4 .1-.9 .1-.3 .1 10.4 .1 .1 .2-1.5 .1-8.1 .1 6.9 .1-6.7 .1 9.6 .2-2.9 .1 1.1 .1-1.7 .1-2.4 .1 5.4 .2 1.4 .1-9.1 .1 2.5 .1 3.7 .1-.6 .2-3.4 .1 .5 .1 6.5 .1-8.7 .1-.8 .2 5.9 .1-5.1 .1 7.8 .1-7.2 .1 7.6 .2-6.9 .1 6.4 .1-1.7 .1-.3 .1-6.5 .2-.6 .1-1.7 .1 1.9 .1 6.1 .1-7.6 .2 2.2 .1 4.1 .1-5.1 .1 2.1 .1-1.2 .2 5.6 .1-7 .1 11.1 .1-5.1 .1 1.5 .2-2 .1-.7 .1 5.9 .1-.9 .1-.9 .2-10 .1 7 .1 4.5 .1-3.9 .1-1.5 .2 1.7 .1-6 .1 7 .1 .7 .1-9 .2 5.5 .1 1.1 .1-3.1 .1 4.2 .1 3 .2-.2 .1-7.5 .1-2 .1 8.9 .1-3.1 .2 2.8 .1 .4 .1-7.4 .1 3.9 .1-3.6 .2 6.2 .1-1.3 .1-5.7 .1 3.3 .1 1.2 .2-4.6 .1-.6 .1 3.7 .1-5.1 .1 5.3 .2 5.6 .1-1.4 .1-9.7 .1 9.7 .1-1.4 .2-.1 .1-8.6 .1 9.3 .1-7.1 .1 7.6 .2-6 .1 .5 .1-2.4 .1 8.7 .1-8.1 .2 8.2 .1-4.5 .1-4.6 .1 6.4 .1-1.6 .2-6.4 .1 10.1 .1-7 .1-3.1 .1 9.4 .2-.5 .1-4.3 .1-2.6 .1 4.3 .1 .8 .2 1.3 .1-2.5 .1 1 .1 1.9 .1-6.7 .2-.1 .1 3.8 .1 3.4 .1 .6 .1 .7 .2-5.3 .1 3.5 .1-7.7 .1 3.6 .1-4.1 .2 9.7 .1 2.1 .1-4.2 .1 1.1 .1-4.8 .2 5.3 .1-8.9 .1 3.6 .1-.3 .1 6.5 .2-8.7 .1-.2 .1-.9 .1 9.5 .1-6.6 .2 7.4 .1-7.5 .1 6.6 .1-8 .1 8.9 .2 .9 .1-1.2 .1-2.4 .1 2.6 .1 .2 .2 .6 .1-8.6 .1 7.2 .1-.9 .1-5.4 .2-2.3 .1 9.2 .1-5.3 .1 .7 .1 4.5 .2-5.1 .1-2.9 .1 5.4 .1-1.9 .1-3.3 .2 5.3" fill="none" stroke="#7e2f8e" stroke-width="0.85" stroke-linejoin="round"/>
<path d="M423.6 662.2l.1-5.8 .1 6.8 .2-1.4 .1 .4 .1 10.3 .1 11.3 .1-5.1 .2 7.7 .1 1.9 .1 2.9 .1-7.7 .1 4.1 .2 2.3 .1-6.1 .1 6.2 .1 0 .1 2.8 .2-6.5 .1-3.6 .1 5.3 .1 2.3 .1 3.2 .2-1.7 .1-2.4 .1 4.2 .1 .1 .1-2.7 .2-4.1 .1-3 .1 7.5 .1-7 .1 4.5 .2 8.3 .1-8.9 .1 5.7 .1 .8 .1-5 .2 3.8 .1 3.8 .1-1.8 .1-4.6 .1 8.6 .2-3.9 .1-5.2 .1 7.4 .1 0 .1 1.4 .2-.2 .1-.3 .1-4.9 .1 4.9 .1 .3 .2 1 .1-7.4 .1 9.9 .1-4.9 .1 4.4 .2-4.7 .1 3.6 .1-2 .1-3.7 .1 2.7 .2 4.4 .1-6.6 .1 8.4 .1-2.2 .1 1 .2-3.1 .1 2.5 .1-.6 .1-2.6 .1-5 .2 7.3 .1 1.9 .1-1.5 .1-1.7 .1 2.1 .2-5.3 .1 7 .1-7 .1 1 .1-.4 .2 11.2 .1-.3 .1-3.3 .1 4.2 .1-9 .2 6 .1-2.2 .1-4.3 .1 6.1 .1-5.7 .2 2.3 .1-1.6 .1 1.5 .1 8.4 .1-4.9 .2 .9 .1-4.9 .1 .3 .1-.5 .1 7.7 .2-1.3 .1 2.2 .1-1.8 .1-4 .1 2 .2-.2 .1 7.3 .1-2.7 .1 1.8 .1-2 .2 4.1 .1-2.4 .1-9.4 .1 1.2 .1-.4 .2 11 .1-8.4 .1 3.3 .1 1.8 .1-4.4 .2 .8 .1 7.9 .1-8.7 .1 8.4 .1-4.4 .2 3 .1-3.6 .1 3.8 .1 .5 .1-3.4 .2-1.4 .1 1.8 .1 4.1 .1-9.1 .1 2.6 .2 2 .1 4.5 .1-2.2 .1-3.5 .1 8.4 .2-3.6 .1 4.1 .1-6.3 .1 7.3 .1-4.5 .2-2.8 .1-2.3 .1 8.3 .1-7.7 .1 8.3 .2 0 .1-8.4 .1 7.7 .1-.2 .1-7.5 .2 8.5 .1 2.6 .1-7.6 .1 2.6 .1-1.4 .2-2 .1-.8 .1 6.5 .1 3.9 .1-10.4 .2-1.2 .1 6.7 .1-3.3 .1 7.7 .1-7.1 .2-3.2 .1 3.7 .1 1.4 .1 .5 .1-.2 .2-1.4 .1 8.7 .1-11.8 .1 2.8 .1 7.6 .2-7.6 .1 .3 .1 2.4 .1 3.2 .1 2.5 .2-.3 .1-7.5 .1 9.6 .1-9.3 .1 8.1 .2 .8 .1-9.2 .1 3.4 .1-1.9 .1 3.3 .2 4.2 .1 .4 .1-.5 .1-9 .1 3.4 .2 8.2 .1-2.2 .1 .4 .1-7.2 .1-.1 .2 4.3 .1 1.7 .1-5.9 .1 9.5 .1-3.6 .2 4.6 .1-.1 .1-6.3 .1-1.5 .1 7.2 .2-4.2 .1 1.4 .1 1.6 .1 3.3 .1-5.7 .2-.6 .1 5.1 .1-9.8 .1 4.7 .1-2.7 .2 5.1 .1 2.7 .1-4.9 .1-2.7 .1-1 .2 10 .1-3.9 .1 4.5 .1-8.3 .1 .3 .2-1.3 .1 5.9 .1-.9 .1 3.8 .1-3.3 .2-3.1 .1-2.8 .1 8.7 .1 2.1 .1-7.7 .2-.1 .1 2.8 .1-1.8 .1 4.7 .1-3.2 .2 .1 .1-1.2 .1-1.5 .1 8.5 .1 .3 .2-9.2 .1 2.2 .1 4.4 .1-4.6 .1 1.2 .2 1.6 .1-3.7 .1 1.6 .1 4.2 .1 2.9 .2-11 .1 10.3 .1-9.9 .1 7.3 .1-7.6 .2 6.3 .1-4 .1 7.4 .1-9.9 .1 6.3 .2 5.7 .1-5.4 .1-1 .1 2.6 .1 1.9 .2-1.3 .1-3.3 .1-2.6 .1 7.3 .1-3.4 .2 5.7 .1-7.7 .1-.3 .1 2 .1 6.7 .2-2.6 .1-6 .1 5 .1 1.7 .1-9.6 .2 8.8 .1-3.4 .1 5.2 .1-1.6 .1-4.8 .2-3.5 .1 4.1 .1-.2 .1-2.2 .1 6.2 .2 2.2 .1-5.2 .1-4.1 .1 5.7 .1-2.7 .2-3.7 .1 .7 .1 3.8 .1-4.4 .1 1.2 .2 10.4 .1-5.2 .1-4.3 .1-1.7 .1 3.1 .2 .5 .1 7.9 .1-9.5 .1 9.3 .1-5.2 .2 3.9 .1-3.1 .1 5.1 .1 .1 .1-4.2 .2-3.5 .1-.5 .1-1.6 .1 .9 .1 4.9 .2-2.4 .1 1.6 .1 5.2 .1-2.7 .1 2.6 .2-2 .1-6.5 .1-2.5 .1 8.3 .1-6.9 .2 6.5 .1-7.1 .1 6.2 .1-.5 .1-.8 .2 4.4 .1-1.3 .1-6 .1 3.5 .1-.9 .2-.3 .1-1.9 .1-.1 .1 5.1 .1-6.9 .2 4.6 .1 1 .1-.4 .1 2.9 .1 1.5 .2-3.3 .1-4.7 .1 .3 .1 9.6 .1-5.8 .2 .3 .1-3.3 .1 5.2 .1-3.1 .1 2.4 .2-.1 .1 4.6 .1-1.7 .1 1.8 .1-.4 .2-9.8 .1 6.6 .1-4.2 .1 .9 .1 2.2 .2 .1 .1 .8 .1-1.7 .1-4.1 .1 11.1 .2-11.9 .1 11.5 .1 .6 .1-4 .1-5.7 .2 6.2 .1-4.5 .1 .3 .1 6.2 .1-1.5 .2-8.7 .1 11.6 .1-6.9 .1-1.1 .1 1.2 .2-2.3 .1 2.9 .1 5.2 .1 1.8 .1-1.6 .2-2.5 .1-2.7 .1 .7 .1-4.1 .1 1.4 .2-2.6 .1 9.3 .1-8.4 .1 1 .1 3.1 .2 5 .1-9.3 .1 8.6 .1-5.7 .1 1.4 .2 .7 .1 6.8 .1 .2 .1-9.2 .1 4.4 .2-3.4 .1 .1 .1 6.3 .1-2.2 .1-1.3 .2-2.8 .1 1 .1 1.2 .1 4.5 .1-6.9 .2 3.9 .1 2.9 .1-9.2 .1 2.3 .1 6.8 .2-8.7 .1 11.2 .1-6.4 .1 2.6 .1-6.6 .2 4.4 .1 .3 .1 4 .1-2.2 .1-5.5 .2-.9 .1 2.4 .1 4.1 .1-5.8 .1 .6 .2 2.6 .1-1.4 .1 4.7 .1-4.7 .1-.2 .2 7 .1-1.5 .1 1.5 .1-7.4 .1 6.2 .2-3.1 .1 1.3 .1-3.2 .1 7.7 .1 0 .2-4.4 .1-1.1 .1-1.4 .1 3.3 .1-2.4 .2 1.7 .1 2.3 .1 3.1 .1 .1 .1-9.8 .2 9 .1-4.8 .1-3.4 .1 4.4 .1 5.3 .2-5.9 .1-1.1 .1 3 .1 .5 .1 4.5 .2-.1 .1 1.1 .1-11.5 .1 8.4 .1-2.9 .2 1.4 .1 3.4 .1-6.7 .1-3.6 .1 3.3 .2 9.1 .1-.3 .1-5.7 .1-4 .1 7.8 .2-5.3 .1 7.3 .1-4.5 .1-2.5 .1-2.8 .2 2.7 .1 1.1 .1-.4 .1 5.9 .1 1.3 .2-2.3 .1-2.4 .1 3 .1-7.8 .1 6 .2 .5 .1 1.2 .1-4.3 .1 7.8 .1-6.5 .2 1.5 .1-4 .1 5.2 .1-6.4 .1 6.8 .2-3.9 .1 9.5 .1-6.2 .1-2.5 .1 5.6 .2-6.5 .1 5 .1-.8 .1 6.4 .1-2.4 .2 1.6 .1 1.8 .1-4.7 .1 .9 .1 .3 .2 1.7 .1 .6 .1 .1 .1 .6 .1 .3 .2-9.6 .1 7.6 .1-.7 .1 2.3 .1-6.7 .2 5.2 .1-9.6 .1 4.9 .1-2 .1 .2 .2-1.9 .1 5.5 .1-4.7 .1-1.1 .1 7.2 .2 2 .1-5.6 .1-3.6 .1 10.5 .1-6.4 .2 .4 .1 6.6 .1-9.5 .1 6.4 .1-3.6 .2 3 .1-1.8 .1-3.1 .1 9.3 .1-5.2 .2-4.2 .1 3.5 .1 1.8 .1 4 .1-7.7 .2-2.4 .1 4.6 .1 4.8 .1-10.2 .1 11.2 .2-5.3 .1-.2 .1 1.9 .1 1.5 .1-1 .2 3.4 .1-3.8 .1-3.8 .1 1.2 .1 .2 .2-2.5 .1 1.1 .1 1 .1 7.2 .1-.6 .2-1.9 .1-.3 .1-5.7 .1 1.4 .1-2 .2 7.8 .1-1.7 .1-.3 .1-7.9 .1 8.9 .2 .9 .1-3.4 .1 2.9 .1 .7 .1-2.2 .2-4 .1 3.1 .1 4 .1-9.9 .1 9.2 .2-6.1 .1 4.4 .1-7.2 .1 4.2 .1 6.9 .2-5.2 .1-1.3 .1-2.1 .1 .7 .1 3.6 .2 3.3 .1-10 .1 2.7 .1 .4 .1-1 .2 8.5 .1-1.9 .1-3.7 .1-6.4 .1 11.1 .2-2 .1 1.8 .1-7.3 .1 .2 .1 1.1 .2 0 .1 .6 .1 6.8 .1-1.7 .1-9.9 .2 4.5 .1-3.5 .1 4.2 .1-.4 .1 2.7 .2 2.2 .1-4.6 .1 5 .1-8.6 .1 1.9 .2-2.7 .1 8.8 .1-.1 .1-2.9 .1-3.9 .2 .8 .1-3.8 .1 7.4 .1-5.2 .1 .2 .2 .7 .1 6.4 .1-6.4 .1 8.2 .1-4.5 .2-5.8 .1 1.3 .1 9.7 .1-6.2 .1 .9 .2-5.9 .1 8.7 .1-5.3 .1-4.5 .1 1.5 .2 2.3 .1-2.9 .1 2.8 .1 4.2 .1-5.6 .2 9.9 .1-4.7 .1 .5 .1-.5 .1-1.2 .2 1.6 .1-4.8 .1 1 .1-1.5 .1 4.2 .2 .1 .1 3.2 .1-1.4 .1 1.9 .1-5.7 .2 5.8 .1-8.9 .1 4.1 .1 1.9 .1-7.7 .2 2.8 .1 1.6 .1 4.2 .1-3.9 .1 7.1 .2-4.2 .1 2.2 .1 1.8 .1-5.8 .1 1.1 .2-6.5 .1 5.8 .1-4 .1 1.2 .1 2.3 .2-4.6 .1 5.7 .1-4.6 .1 6.9 .1 2.1 .2-8.8 .1-.1 .1-2.6 .1-.6 .1 .8 .2 1.5 .1 5.6 .1 .4 .1-3.7 .1-.4 .2-.8 .1-2.1 .1 9.7 .1-10.3 .1 3.4 .2-5 .1 6.5 .1-.8 .1-5.1 .1 6.7 .2-1.6 .1 2.5 .1-1.9 .1-2.9 .1 4.2 .2-2.2 .1 4.7 .1 .8 .1-.8 .1-2.8 .2-4.7 .1-2.7 .1 9.7 .1-10.5 .1 10.6 .2-8.8 .1 1.3 .1 5 .1-6.6 .1 2.7 .2 1 .1-6 .1 1.5 .1 1.1 .1 4.7 .2 0 .1-6.6 .1 10.7" fill="none" stroke="#7e2f8e" stroke-width="0.85" stroke-linejoin="round"/>
<path d="M552.6 666.1l.1-7.5 .1 5.8 .2-2.4 .1 1.4 .1-4.9 .1-2.1 .1 6.4 .2 4.4 .1-.6 .1 5.8 .1 10.5 .1 4.7 .2-7.3 .1 9.7 .1-.2 .1-9.7 .1 3.8 .2-2 .1 2.5 .1 1.5 .1-3.9 .1 10.9 .2-8.8 .1 .7 .1-2 .1 4 .1-1.9 .2 1.8 .1 7.2 .1-3.6 .1-1.1 .1-2.3 .2 4.1 .1 3.3 .1-1.5 .1-5.5 .1 7 .2-7.4 .1 4.9 .1-1.8 .1-2.1 .1 7.4 .2-5.6 .1 4.3 .1 5 .1-5.6 .1 3.5 .2-4.2 .1 5.6 .1-4.6 .1-2.2 .1 8.6 .2-3.6 .1-3.5 .1 4.8 .1-1.9 .1 3.5 .2-6.5 .1 1.7 .1 5.4 .1-1.6 .1-3.9 .2 3.9 .1-1.8 .1 8.1 .1-6.5 .1 5.3 .2-1.9 .1-.5 .1 4.7 .1-2.6 .1-1.9 .2-.2 .1-1.5 .1 3.5 .1 .3 .1 2.5 .2 2.2 .1 1.2 .1-11.8 .1 .3 .1 9.1 .2 4 .1-1.4 .1-3.6 .1 2.4 .1-8.5 .2 2.5 .1 5.3 .1-3.7 .1 5.3 .1 1.9 .2-5.8 .1 2.8 .1 4.3 .1-2.6 .1 .2 .2 4.9 .1-2.8 .1-.9 .1-3.1 .1 4.5 .2-3 .1 1.1 .1-4.3 .1 8 .1-7.3 .2 3.3 .1-2.9 .1-.7 .1 9.1 .1 .1 .2-7.9 .1 5 .1 5.3 .1-2.8 .1-4.7 .2-2.1 .1 8.7 .1-2.2 .1 1 .1 2 .2-5.3 .1 9.3 .1-9.3 .1-2.4 .1 9.9 .2 .1 .1 1.2 .1-4.5 .1 3.4 .1-1.5 .2-5.7 .1 3.9 .1-.4 .1-1 .1 1.4 .2 3.1 .1-5.3 .1 4.1 .1-2.4 .1 7.5 .2 .3 .1-9.4 .1 10.4 .1-1.6 .1-7.8 .2 4.9 .1 2.1 .1-4.4 .1 3.2 .1 5.5 .2-2.3 .1-2.9 .1-4.8 .1 6.5 .1-5.8 .2 8 .1-5.1 .1-.1 .1 9 .1-6.3 .2-4.5 .1 5.2 .1-1.7 .1-3.9 .1 3.8 .2 6.7 .1-2.7 .1 2 .1-5.9 .1-.9 .2-1.3 .1 3.6 .1 7 .1-1.7 .1-1.1 .2-4 .1 4.2 .1-.1 .1-1.6 .1-1.2 .2-1.1 .1 5.4 .1-1.1 .1-3.6 .1-1.9 .2 10.1 .1-5.8 .1 3.1 .1-8 .1 11.2 .2-8.6 .1 3.7 .1 6 .1-.6 .1-8 .2 3.9 .1 4.6 .1 .1 .1-1.6 .1 1.9 .2-9.4 .1 11 .1-4.2 .1-5.7 .1 8.8 .2-3.5 .1-7.2 .1 .1 .1 .4 .1 6.8 .2-.3 .1-5.6 .1 4.9 .1-8.6 .1 8.6 .2 .3 .1-10.7 .1-.5 .1-2.3 .1 2.2 .2 .3 .1 .5 .1 4.6 .1 2 .1-8.6 .2-3.5 .1 6 .1 4.5 .1-5.8 .1-5.3 .2 5.9 .1-.8 .1 3.6 .1-1.9 .1-3.3 .2 4.3 .1-2.6 .1-7 .1 3.5 .1-6.5 .2 11.2 .1-5.2 .1-5.1 .1-2.5 .1 .1 .2 8.3 .1 1.2 .1-1.6 .1-8.4 .1 7.6 .2-3.4 .1-6.3 .1 8 .1 2.4 .1-6.3 .2 3.9 .1-6.4 .1 9.2 .1-7.2 .1 0 .2 9.1 .1 2.3 .1-1 .1-3.8 .1-1.8 .2 1.7 .1-.7 .1-3.8 .1 11 .1-.2 .2-10 .1 11.4 .1-9 .1 6.3 .1 1.2 .2-4.4 .1-.3 .1-1.5 .1 7.8 .1-9.5 .2 .8 .1 9.1 .1-1.2 .1 1.3 .1-5.3 .2-2.1 .1 4.7 .1 3.4 .1-9 .1 6.6 .2 2.9 .1-9.3 .1 6.3 .1-1.8 .1-4.4 .2 1.5 .1-1.8 .1 5.1 .1 3.9 .1-5 .2 4.5 .1 1.1 .1-3.1 .1 .1 .1-.1 .2 6.5 .1-4.7 .1-1.8 .1 7.4 .1-10.6 .2 .8 .1-.9 .1 2.5 .1-1.4 .1 1.4 .2-2.9 .1 10.3 .1-9.6 .1 3.9 .1-1 .2-2.5 .1 7.2 .1 1.7 .1-4.5 .1 6.6 .2-2.6 .1-8 .1 4.5 .1 5.2 .1-9.4 .2 11.9 .1-2 .1 .5 .1-6.1 .1 1.1 .2-3.7 .1 8.1 .1 2.9 .1-4.9 .1-5.5 .2 4.7 .1 2.1 .1 1.6 .1 .1 .1-4.4 .2-.5 .1 3.7 .1-5.7 .1 3.9 .1-5 .2 6.2 .1 .5 .1-5 .1-2.7 .1 5.1 .2-1.1 .1-2.5 .1 8.5 .1-4.6 .1 2.3 .2-1.4 .1-1.4 .1 2.4 .1-5.5 .1 5.5 .2 2.5 .1-7.9 .1 3.6 .1-2.2 .1 10.2 .2-4.1 .1-6.1 .1-.9 .1 11.4 .1-7.6 .2 1.7 .1 3.6 .1-1.4 .1-7.9 .1 6.3 .2 1.3 .1-1 .1 5.3 .1-1 .1-4.7 .2 4.4 .1-3.7 .1-6.3 .1 12.2 .1-5 .2 4.6 .1 .1 .1-7.9 .1 7.6 .1-7.8 .2 8.7 .1-.4 .1 .3 .1-7 .1 4.7 .2-4.3 .1 6.7 .1-5.6 .1-3.1 .1 4.6 .2 2.4 .1-7.7 .1 0 .1 7.6 .1-.3 .2-.8 .1-2.9 .1 1.3 .1-2.1 .1 2.6 .2 0 .1 2.1 .1-3 .1-1.2 .1 2.7 .2-6.6 .1 11.2 .1-3.4 .1-6.1 .1-1.2 .2 4.8 .1-5.2 .1 4.2 .1 6.4 .1-6.1 .2-.9 .1 8 .1-2.8 .1 2.3 .1-2.3 .2 1.9 .1-2.6 .1 1.6 .1-1.4 .1-6.4 .2 8.2 .1-2.4 .1-7.2 .1 7.1 .1-5.2 .2 9.9 .1-4.2 .1-4.8 .1-1.3 .1 .1 .2 6 .1-3.1 .1 .4 .1-2.4 .1 6.5 .2 2.5 .1-3.5 .1 3.5 .1-10.7 .1 6.4 .2 1.9 .1 3.1 .1-2.6 .1-6 .1 2.9 .2 3.2 .1-7.4 .1 .9 .1 9 .1-5.7 .2-2.6 .1-2 .1 6.8 .1 .6 .1 .9 .2-6.3 .1 5.9 .1-4.7 .1 3.2 .1-6.1 .2 .5 .1 9.3 .1-.2 .1-11 .1 11.8 .2-4.2 .1-7.6 .1 5.6 .1 .8 .1 5 .2-5.9 .1 5 .1-1.9 .1-2.5 .1-.2 .2-4.7 .1 10.2 .1-10 .1 1.8 .1 8.6 .2 .3 .1-7.5 .1 5.6 .1-.4 .1-.9 .2-6.6 .1 9.2 .1-9.2 .1 3.1 .1-1 .2 6.2 .1-1.8 .1-.1 .1 .9 .1-6.8 .2 7.9 .1-5.4 .1 4.8 .1-3.1 .1-6.2 .2 10.5 .1-7.7 .1-1 .1 9.2 .1-10.4 .2 7.9 .1-7.3 .1 4.7 .1-1.1 .1-.1 .2 1.9 .1-.4 .1 5.5 .1-7.2 .1 3.7 .2-.3 .1 .6 .1-2.8 .1-3.1 .1-2.7 .2 12 .1-1 .1-1.5 .1-.3 .1-5 .2 2.7 .1-4.7 .1 9.1 .1-6.1 .1-3.7 .2 1.5 .1 7.9 .1-10.5 .1 10.6 .1-2.8 .2 .9 .1-4.4 .1-.2 .1 1.2 .1-3.1 .2 6.8 .1 .9 .1-1.4 .1-2.6 .1 .3 .2 1.5 .1-1.7 .1 .1 .1 1.7 .1-5.7 .2 .9 .1 .8 .1 4.9 .1-1.2 .1-1 .2-1.5 .1 6.1 .1-9.9 .1 .4 .1-.1 .2 .2 .1 6.7 .1-6.1 .1 1.9 .1 8.6 .2-2.3 .1-3.6 .1-1.4 .1 7.1 .1-9.9 .2 10.1 .1-12.2 .1 3.5 .1 5.8 .1-4.3 .2 6.9 .1-6.5 .1 1.7 .1 5 .1-8.5 .2-2.9 .1 10.4 .1-5.6 .1-2.7 .1 4.4 .2 4.8 .1-11.8 .1 .4 .1 .1 .1 2.9 .2 3.3 .1-.9 .1 5.7 .1-9.3 .1 4.5 .2-3.2 .1 2.6 .1-5.5 .1 6.6 .1 3.9 .2-3.9 .1 2.8 .1-8.1 .1 8 .1-4.8 .2 3.9 .1-4.4 .1 4.9 .1-8.8 .1 10.3 .2 1.8 .1-3.6 .1-6.9 .1-1 .1 9.4 .2-4.5 .1 5.6 .1-5.4 .1-4.1 .1 8.9 .2-8.7 .1 .1 .1 3.5 .1 1.4 .1-7.1 .2 .3 .1 1.1 .1-1.1 .1 2.8 .1-1.7 .2 6 .1-3.7 .1 4 .1-7.5 .1 9.5 .2 .5 .1-8.1 .1 4.8 .1-2.8 .1 5.1 .2-1 .1-1.2 .1-4.4 .1 1.9 .1 5.6" fill="none" stroke="#7e2f8e" stroke-width="0.85" stroke-linejoin="round"/>
</g>
<rect x="447.90" y="723.20" width="77.40" height="38.60" fill="none" stroke="#c00000" stroke-width="2.3" stroke-dasharray="5.6,2.8"/>
<rect x="362.40" y="684.50" width="270.30" height="81.60" fill="none" stroke="#7a7a7a" stroke-width="0.8"/>
<line x1="362.40" y1="756.90" x2="364.90" y2="756.90" stroke="#555" stroke-width="0.6"/>
<line x1="632.70" y1="756.90" x2="630.20" y2="756.90" stroke="#555" stroke-width="0.6"/>
<line x1="362.40" y1="747.85" x2="363.90" y2="747.85" stroke="#555" stroke-width="0.6"/>
<line x1="632.70" y1="747.85" x2="631.20" y2="747.85" stroke="#555" stroke-width="0.6"/>
<line x1="362.40" y1="738.80" x2="364.90" y2="738.80" stroke="#555" stroke-width="0.6"/>
<line x1="632.70" y1="738.80" x2="630.20" y2="738.80" stroke="#555" stroke-width="0.6"/>
<line x1="362.40" y1="729.75" x2="363.90" y2="729.75" stroke="#555" stroke-width="0.6"/>
<line x1="632.70" y1="729.75" x2="631.20" y2="729.75" stroke="#555" stroke-width="0.6"/>
<line x1="362.40" y1="720.70" x2="364.90" y2="720.70" stroke="#555" stroke-width="0.6"/>
<line x1="632.70" y1="720.70" x2="630.20" y2="720.70" stroke="#555" stroke-width="0.6"/>
<line x1="362.40" y1="711.65" x2="363.90" y2="711.65" stroke="#555" stroke-width="0.6"/>
<line x1="632.70" y1="711.65" x2="631.20" y2="711.65" stroke="#555" stroke-width="0.6"/>
<line x1="362.40" y1="702.60" x2="364.90" y2="702.60" stroke="#555" stroke-width="0.6"/>
<line x1="632.70" y1="702.60" x2="630.20" y2="702.60" stroke="#555" stroke-width="0.6"/>
<line x1="362.40" y1="693.55" x2="363.90" y2="693.55" stroke="#555" stroke-width="0.6"/>
<line x1="632.70" y1="693.55" x2="631.20" y2="693.55" stroke="#555" stroke-width="0.6"/>
<line x1="362.40" y1="684.50" x2="364.90" y2="684.50" stroke="#555" stroke-width="0.6"/>
<line x1="632.70" y1="684.50" x2="630.20" y2="684.50" stroke="#555" stroke-width="0.6"/>
<line x1="390.85" y1="766.10" x2="390.85" y2="764.10" stroke="#555" stroke-width="0.6"/>
<line x1="390.85" y1="684.50" x2="390.85" y2="686.50" stroke="#555" stroke-width="0.6"/>
<line x1="419.31" y1="766.10" x2="419.31" y2="764.10" stroke="#555" stroke-width="0.6"/>
<line x1="419.31" y1="684.50" x2="419.31" y2="686.50" stroke="#555" stroke-width="0.6"/>
<line x1="447.76" y1="766.10" x2="447.76" y2="764.10" stroke="#555" stroke-width="0.6"/>
<line x1="447.76" y1="684.50" x2="447.76" y2="686.50" stroke="#555" stroke-width="0.6"/>
<line x1="476.21" y1="766.10" x2="476.21" y2="764.10" stroke="#555" stroke-width="0.6"/>
<line x1="476.21" y1="684.50" x2="476.21" y2="686.50" stroke="#555" stroke-width="0.6"/>
<line x1="504.66" y1="766.10" x2="504.66" y2="764.10" stroke="#555" stroke-width="0.6"/>
<line x1="504.66" y1="684.50" x2="504.66" y2="686.50" stroke="#555" stroke-width="0.6"/>
<line x1="533.12" y1="766.10" x2="533.12" y2="764.10" stroke="#555" stroke-width="0.6"/>
<line x1="533.12" y1="684.50" x2="533.12" y2="686.50" stroke="#555" stroke-width="0.6"/>
<line x1="561.57" y1="766.10" x2="561.57" y2="764.10" stroke="#555" stroke-width="0.6"/>
<line x1="561.57" y1="684.50" x2="561.57" y2="686.50" stroke="#555" stroke-width="0.6"/>
<line x1="590.02" y1="766.10" x2="590.02" y2="764.10" stroke="#555" stroke-width="0.6"/>
<line x1="590.02" y1="684.50" x2="590.02" y2="686.50" stroke="#555" stroke-width="0.6"/>
<line x1="618.47" y1="766.10" x2="618.47" y2="764.10" stroke="#555" stroke-width="0.6"/>
<line x1="618.47" y1="684.50" x2="618.47" y2="686.50" stroke="#555" stroke-width="0.6"/>
<text x="360.00" y="757.20" font-size="7.2" text-anchor="end" fill="#333" dominant-baseline="central" font-weight="bold">240</text>
<text x="360.00" y="739.10" font-size="7.2" text-anchor="end" fill="#333" dominant-baseline="central" font-weight="bold">260</text>
<text x="360.00" y="721.00" font-size="7.2" text-anchor="end" fill="#333" dominant-baseline="central" font-weight="bold">280</text>
<text x="360.00" y="702.90" font-size="7.2" text-anchor="end" fill="#333" dominant-baseline="central" font-weight="bold">300</text>
<text x="360.00" y="684.80" font-size="7.2" text-anchor="end" fill="#333" dominant-baseline="central" font-weight="bold">320</text>
<text x="351.00" y="781.60" font-size="6.3" text-anchor="middle" fill="#333" dominant-baseline="central" font-weight="bold" transform="rotate(-30 351.00 781.60)">03-28 00:00</text>
<text x="379.45" y="781.60" font-size="6.3" text-anchor="middle" fill="#333" dominant-baseline="central" font-weight="bold" transform="rotate(-30 379.45 781.60)">03-28 12:00</text>
<text x="407.91" y="781.60" font-size="6.3" text-anchor="middle" fill="#333" dominant-baseline="central" font-weight="bold" transform="rotate(-30 407.91 781.60)">03-29 00:00</text>
<text x="436.36" y="781.60" font-size="6.3" text-anchor="middle" fill="#333" dominant-baseline="central" font-weight="bold" transform="rotate(-30 436.36 781.60)">03-29 12:00</text>
<text x="464.81" y="781.60" font-size="6.3" text-anchor="middle" fill="#333" dominant-baseline="central" font-weight="bold" transform="rotate(-30 464.81 781.60)">03-30 00:00</text>
<text x="493.26" y="781.60" font-size="6.3" text-anchor="middle" fill="#333" dominant-baseline="central" font-weight="bold" transform="rotate(-30 493.26 781.60)">03-30 12:00</text>
<text x="521.72" y="781.60" font-size="6.3" text-anchor="middle" fill="#333" dominant-baseline="central" font-weight="bold" transform="rotate(-30 521.72 781.60)">03-31 00:00</text>
<text x="550.17" y="781.60" font-size="6.3" text-anchor="middle" fill="#333" dominant-baseline="central" font-weight="bold" transform="rotate(-30 550.17 781.60)">03-31 12:00</text>
<text x="578.62" y="781.60" font-size="6.3" text-anchor="middle" fill="#333" dominant-baseline="central" font-weight="bold" transform="rotate(-30 578.62 781.60)">04-01 00:00</text>
<text x="607.07" y="781.60" font-size="6.3" text-anchor="middle" fill="#333" dominant-baseline="central" font-weight="bold" transform="rotate(-30 607.07 781.60)">04-01 12:00</text>
<line x1="94.56" y1="832.20" x2="94.56" y2="829.20" stroke="#262626" stroke-width="1.0"/>
<line x1="94.56" y1="674.40" x2="94.56" y2="677.40" stroke="#262626" stroke-width="1.0"/>
<line x1="131.53" y1="832.20" x2="131.53" y2="829.20" stroke="#262626" stroke-width="1.0"/>
<line x1="131.53" y1="674.40" x2="131.53" y2="677.40" stroke="#262626" stroke-width="1.0"/>
<line x1="168.49" y1="832.20" x2="168.49" y2="829.20" stroke="#262626" stroke-width="1.0"/>
<line x1="168.49" y1="674.40" x2="168.49" y2="677.40" stroke="#262626" stroke-width="1.0"/>
<line x1="205.45" y1="832.20" x2="205.45" y2="829.20" stroke="#262626" stroke-width="1.0"/>
<line x1="205.45" y1="674.40" x2="205.45" y2="677.40" stroke="#262626" stroke-width="1.0"/>
<line x1="242.41" y1="832.20" x2="242.41" y2="829.20" stroke="#262626" stroke-width="1.0"/>
<line x1="242.41" y1="674.40" x2="242.41" y2="677.40" stroke="#262626" stroke-width="1.0"/>
<line x1="279.38" y1="832.20" x2="279.38" y2="829.20" stroke="#262626" stroke-width="1.0"/>
<line x1="279.38" y1="674.40" x2="279.38" y2="677.40" stroke="#262626" stroke-width="1.0"/>
<line x1="316.34" y1="832.20" x2="316.34" y2="829.20" stroke="#262626" stroke-width="1.0"/>
<line x1="316.34" y1="674.40" x2="316.34" y2="677.40" stroke="#262626" stroke-width="1.0"/>
<line x1="353.30" y1="832.20" x2="353.30" y2="829.20" stroke="#262626" stroke-width="1.0"/>
<line x1="353.30" y1="674.40" x2="353.30" y2="677.40" stroke="#262626" stroke-width="1.0"/>
<line x1="390.26" y1="832.20" x2="390.26" y2="829.20" stroke="#262626" stroke-width="1.0"/>
<line x1="390.26" y1="674.40" x2="390.26" y2="677.40" stroke="#262626" stroke-width="1.0"/>
<line x1="427.23" y1="832.20" x2="427.23" y2="829.20" stroke="#262626" stroke-width="1.0"/>
<line x1="427.23" y1="674.40" x2="427.23" y2="677.40" stroke="#262626" stroke-width="1.0"/>
<line x1="464.19" y1="832.20" x2="464.19" y2="829.20" stroke="#262626" stroke-width="1.0"/>
<line x1="464.19" y1="674.40" x2="464.19" y2="677.40" stroke="#262626" stroke-width="1.0"/>
<line x1="501.15" y1="832.20" x2="501.15" y2="829.20" stroke="#262626" stroke-width="1.0"/>
<line x1="501.15" y1="674.40" x2="501.15" y2="677.40" stroke="#262626" stroke-width="1.0"/>
<line x1="538.11" y1="832.20" x2="538.11" y2="829.20" stroke="#262626" stroke-width="1.0"/>
<line x1="538.11" y1="674.40" x2="538.11" y2="677.40" stroke="#262626" stroke-width="1.0"/>
<line x1="575.08" y1="832.20" x2="575.08" y2="829.20" stroke="#262626" stroke-width="1.0"/>
<line x1="575.08" y1="674.40" x2="575.08" y2="677.40" stroke="#262626" stroke-width="1.0"/>
<line x1="612.04" y1="832.20" x2="612.04" y2="829.20" stroke="#262626" stroke-width="1.0"/>
<line x1="612.04" y1="674.40" x2="612.04" y2="677.40" stroke="#262626" stroke-width="1.0"/>
<line x1="57.60" y1="780.16" x2="60.60" y2="780.16" stroke="#262626" stroke-width="1.0"/>
<line x1="649.00" y1="780.16" x2="646.00" y2="780.16" stroke="#262626" stroke-width="1.0"/>
<line x1="57.60" y1="742.30" x2="60.60" y2="742.30" stroke="#262626" stroke-width="1.0"/>
<line x1="649.00" y1="742.30" x2="646.00" y2="742.30" stroke="#262626" stroke-width="1.0"/>
<line x1="57.60" y1="715.44" x2="60.60" y2="715.44" stroke="#262626" stroke-width="1.0"/>
<line x1="649.00" y1="715.44" x2="646.00" y2="715.44" stroke="#262626" stroke-width="1.0"/>
<line x1="57.60" y1="694.60" x2="60.60" y2="694.60" stroke="#262626" stroke-width="1.0"/>
<line x1="649.00" y1="694.60" x2="646.00" y2="694.60" stroke="#262626" stroke-width="1.0"/>
<line x1="57.60" y1="677.58" x2="60.60" y2="677.58" stroke="#262626" stroke-width="1.0"/>
<line x1="649.00" y1="677.58" x2="646.00" y2="677.58" stroke="#262626" stroke-width="1.0"/>
<rect x="57.60" y="674.40" width="591.40" height="157.80" fill="none" stroke="#262626" stroke-width="1.0"/>
<text x="49.20" y="678.38" font-size="12.1" text-anchor="end" fill="#262626" dominant-baseline="central">1200</text>
<text x="49.20" y="695.40" font-size="12.1" text-anchor="end" fill="#262626" dominant-baseline="central">1000</text>
<text x="49.20" y="716.24" font-size="12.1" text-anchor="end" fill="#262626" dominant-baseline="central">800</text>
<text x="49.20" y="743.10" font-size="12.1" text-anchor="end" fill="#262626" dominant-baseline="central">600</text>
<text x="49.20" y="780.96" font-size="12.1" text-anchor="end" fill="#262626" dominant-baseline="central">400</text>
<circle cx="28.3" cy="785.2" r="0.6" fill="#555"/>
<text x="7.60" y="745.00" font-size="11.8" text-anchor="middle" fill="#262626" dominant-baseline="central" textLength="115.8" lengthAdjust="spacing" transform="rotate(-90 7.60 745.00)">MGNS Flux (counts/s)</text>
<text x="64.80" y="687.20" font-size="14.8" text-anchor="start" fill="#111" dominant-baseline="central">(d)</text>
<text x="113.90" y="689.60" font-size="14.0" text-anchor="start" fill="#7030a0" dominant-baseline="central" textLength="126" lengthAdjust="spacing">GRS 650-10000 keV</text>
<line x1="94.14" y1="854.30" x2="94.14" y2="1006.80" stroke="#e3e3e3" stroke-width="0.8"/>
<line x1="130.99" y1="854.30" x2="130.99" y2="1006.80" stroke="#e3e3e3" stroke-width="0.8"/>
<line x1="167.83" y1="854.30" x2="167.83" y2="1006.80" stroke="#e3e3e3" stroke-width="0.8"/>
<line x1="204.68" y1="854.30" x2="204.68" y2="1006.80" stroke="#e3e3e3" stroke-width="0.8"/>
<line x1="241.52" y1="854.30" x2="241.52" y2="1006.80" stroke="#e3e3e3" stroke-width="0.8"/>
<line x1="278.36" y1="854.30" x2="278.36" y2="1006.80" stroke="#e3e3e3" stroke-width="0.8"/>
<line x1="315.21" y1="854.30" x2="315.21" y2="1006.80" stroke="#e3e3e3" stroke-width="0.8"/>
<line x1="352.05" y1="854.30" x2="352.05" y2="1006.80" stroke="#e3e3e3" stroke-width="0.8"/>
<line x1="388.89" y1="854.30" x2="388.89" y2="1006.80" stroke="#e3e3e3" stroke-width="0.8"/>
<line x1="425.74" y1="854.30" x2="425.74" y2="1006.80" stroke="#e3e3e3" stroke-width="0.8"/>
<line x1="462.58" y1="854.30" x2="462.58" y2="1006.80" stroke="#e3e3e3" stroke-width="0.8"/>
<line x1="499.43" y1="854.30" x2="499.43" y2="1006.80" stroke="#e3e3e3" stroke-width="0.8"/>
<line x1="536.27" y1="854.30" x2="536.27" y2="1006.80" stroke="#e3e3e3" stroke-width="0.8"/>
<line x1="573.11" y1="854.30" x2="573.11" y2="1006.80" stroke="#e3e3e3" stroke-width="0.8"/>
<line x1="609.96" y1="854.30" x2="609.96" y2="1006.80" stroke="#e3e3e3" stroke-width="0.8"/>
<line x1="57.30" y1="858.79" x2="646.80" y2="858.79" stroke="#c8c8ee" stroke-width="0.8" stroke-dasharray="1,2"/>
<line x1="57.30" y1="863.93" x2="646.80" y2="863.93" stroke="#c8c8ee" stroke-width="0.8" stroke-dasharray="1,2"/>
<line x1="57.30" y1="869.75" x2="646.80" y2="869.75" stroke="#c8c8ee" stroke-width="0.8" stroke-dasharray="1,2"/>
<line x1="57.30" y1="876.47" x2="646.80" y2="876.47" stroke="#c8c8ee" stroke-width="0.8" stroke-dasharray="1,2"/>
<line x1="57.30" y1="884.42" x2="646.80" y2="884.42" stroke="#c8c8ee" stroke-width="0.8" stroke-dasharray="1,2"/>
<line x1="57.30" y1="894.15" x2="646.80" y2="894.15" stroke="#c8c8ee" stroke-width="0.8" stroke-dasharray="1,2"/>
<line x1="57.30" y1="906.70" x2="646.80" y2="906.70" stroke="#c8c8ee" stroke-width="0.8" stroke-dasharray="1,2"/>
<line x1="57.30" y1="924.38" x2="646.80" y2="924.38" stroke="#c8c8ee" stroke-width="0.8" stroke-dasharray="1,2"/>
<line x1="57.30" y1="959.19" x2="646.80" y2="959.19" stroke="#c8c8ee" stroke-width="0.8" stroke-dasharray="1,2"/>
<line x1="57.30" y1="964.33" x2="646.80" y2="964.33" stroke="#c8c8ee" stroke-width="0.8" stroke-dasharray="1,2"/>
<line x1="57.30" y1="970.15" x2="646.80" y2="970.15" stroke="#c8c8ee" stroke-width="0.8" stroke-dasharray="1,2"/>
<line x1="57.30" y1="976.87" x2="646.80" y2="976.87" stroke="#c8c8ee" stroke-width="0.8" stroke-dasharray="1,2"/>
<line x1="57.30" y1="984.82" x2="646.80" y2="984.82" stroke="#c8c8ee" stroke-width="0.8" stroke-dasharray="1,2"/>
<line x1="57.30" y1="994.55" x2="646.80" y2="994.55" stroke="#c8c8ee" stroke-width="0.8" stroke-dasharray="1,2"/>
<line x1="57.30" y1="954.60" x2="646.80" y2="954.60" stroke="#e6e6f8" stroke-width="1.2"/>
<clipPath id="emain"><rect x="57.3" y="854.3" width="589.5" height="152.5"/></clipPath>
<g clip-path="url(#emain)">
<path d="M57.6 991.7l.3 16.6 .3-13.5 .4 13 .3-14.3 .3 14.4 .3-13.6 .3 14 .4-16.8 .3 16 .3-12.2 .3 12.6 .3-13 .4 12.6 .3-14.2 .3 14.9 .3-15.9 .3 16.1 .4-12.7 .3 11.8 .3-16.2 .3 16.7 .3-12.1 .4 12 .3-15.6 .3 15.6 .3-16.5 .3 16.3 .4-14.3 .3 14.6 .3-15.6 .3 15.3 .3-15.3 .4 15.6 .3-15.3 .3 14.8 .3-12 .3 12.6 .4-13.6 .3 13.2 .3-11.4 .3 12.1 .3-16.4 .4 15.8 .3-12.8 .3 13.2 .3-12.1 .3 11.8 .4-12.4 .3 12.7 .3-15.3 .3 15.2 .3-12.3 .4 12.5 .3-14.3 .3 14.1 .3-16.5 .3 16.1 .4-12.2 .3 12.4 .3-15.5" fill="none" stroke="#f0169a" stroke-width="0.9" stroke-linejoin="round"/>
<path d="M80.8 994.8l.3 13.6 .3-17.2 .4 16.4 .3-13.3 .3 13.9 .3-14.5 .3 14.1 .4-14.4 .3 14.7 .3-14.8 .3 14.4 .3-15 .4 15.2 .3-14 .3 14.6 .3-13.7 .3 13.2 .4-15.2 .3 15 .3-16.7 .3 16.4 .3-14.6 .4 14.9 .3-15.3 .3 15.9 .3-15.3 .3 15 .4-16.2 .3 15.6 .3-15.2 .3 15.3 .3-14.6 .4 15.5 .3-14.8 .3 14 .3-13.1 .3 13.7 .4-14.4" fill="none" stroke="#f0169a" stroke-width="0.9" stroke-linejoin="round"/>
<path d="M93.6 893.2l.3 10 .3-9.1 .4 9.3 .3-8 .3 5.9 .3-7.3 .3 10.3 .4-9.1 .3 6.7 .3-4 .3 5 .3-4.9 .4 5.2 .3-4.9 .3 4.3 .3-3.4 .3 7 .4-6.5 .3 6.7 .3-5.6 .3 3.6 .3-2.7 .4 5.5 .3-6.2 .3 4.7 .3-2.3 .3 4.8 .4-4.6 .3 7 .3-6.4 .3 7.2 .3-7.5 .4 7.8 .3-7 .3 8.3 .3-6.3 .3 3.6 .4-4.8 .3 7.5 .3-3.3 .3 6.6 .3-6 .4 7.8 .3-6.4 .3 9.1 .3-7.8 .3 11.5 .4-8.5 .3 12.8 .3-10.1 .3 13.3 .3-10.5 .4 13.8 .3-12 .3 11.1 .3-9 .3 13.9 .4-12.3 .3 12.4 .3-11.5 .3 11.7 .3-9.9 .4 12.9 .3-12.7 .3 12.1 .3-8.5 .3 13.7 .4-14.1 .3 14.7 .3-11.9 .3 10.7 .3-9.9 .4 13.5 .3-11.2 .3 9.4 .3-9.7 .3 10.8 .4-10 .3 12.2 .3-11.2 .3 14.9 .3-15.4 .4 17.2 .3-14" fill="none" stroke="#f0169a" stroke-width="0.9" stroke-linejoin="round"/>
<line x1="99.30" y1="899.60" x2="99.30" y2="930.00" stroke="#f0169a" stroke-width="0.9"/>
<line x1="104.20" y1="914.00" x2="104.20" y2="933.60" stroke="#f0169a" stroke-width="0.9"/>
<path d="M130.8 962.2l.3 22.6 .3-21.3 .4 21.8 .3-22.9 .3 24.7 .3-19.9 .3 22.6 .4-22.9 .3 19.7 .3-20.3 .3 20.9 .3-22.2 .4 21.4 .3-20.7 .3 26 .3-22.4 .3 21.9 .4-21.5 .3 18.1 .3-20 .3 22.9 .3-20.3 .4 21.9 .3-20.6 .3 16.3 .3-17.2 .3 21 .4-21 .3 18.3 .3-17.9 .3 17.6 .3-14.8 .4 19.7 .3-21.1 .3 18 .3-15.7 .3 17.6 .4-17.2 .3 19.1 .3-20.5 .3 18.2 .3-17.2 .4 17.5 .3-19.2 .3 19.1 .3-15.3 .3 15 .4-18.3 .3 23.2 .3-21.6 .3 22.4 .3-20.9 .4 21.1 .3-17.9 .3 18.4 .3-20.9 .3 22.3 .4-20.6 .3 22.4 .3-23.3" fill="none" stroke="#f0169a" stroke-width="0.9" stroke-linejoin="round"/>
<path d="M154.6 982.6l.3 24.1 .3-23.1 .4 23.7 .3-23.8 .3 23.8 .3-27.2 .3 25.8 .4-21.1 .3 21.6 .3-21.7 .3 20.1 .3-22.1 .4 22.5 .3-22 .3 23 .3-25.5 .3 24.5 .4-23.1 .3 25.1 .3-22.5 .3 20.3 .3-20 .4 19.9 .3-20.7 .3 20.7 .3-23.6 .3 25.8 .4-24.6 .3 22.6 .3-18.6 .3 20.6 .3-24 .4 24.3 .3-22.9 .3 22 .3-23.5 .3 24.3 .4-21.7 .3 21.8 .3-20.7 .3 18.7 .3-21.2 .4 20.8 .3-21.7 .3 21.4 .3-20.5 .3 22.1 .4-23.5 .3 23.7 .3-21.9 .3 20.8 .3-18.2 .4 18.7 .3-21.1 .3 21.1 .3-19 .3 17.8 .4-16.3" fill="none" stroke="#f0169a" stroke-width="0.9" stroke-linejoin="round"/>
<path d="M176.5 989.2l.3 17.4 .3-18.6 .4 17.5 .3-19.5 .3 20.3 .3-18.4 .3 18.6 .4-18.9 .3 18.9 .3-19.3 .3 19.4 .3-17.6 .4 16.8 .3-17.5 .3 18.1 .3-19.5 .3 19.2 .4-16.7 .3 16.1 .3-16.1 .3 17 .3-16.9 .4 16.2 .3-19.1 .3 20 .3-17.2 .3 16.5 .4-19.3 .3 18.8 .3-16.6 .3 16.8 .3-15.5 .4 16.1 .3-19.1 .3 19.2 .3-18.6 .3 19.2 .4-17 .3 16.1 .3-17.1 .3 17.5 .3-16.8 .4 17.4 .3-20.5 .3 19.2 .3-16.9 .3 16.8 .4-16.9 .3 16.5 .3-15.3 .3 16.2 .3-19.2 .4 19.4 .3-18.6 .3 17.7 .3-17 .3 16.9 .4-18 .3 19.4 .3-17.4 .3 15.7 .3-15.4 .4 15.4" fill="none" stroke="#f0169a" stroke-width="0.9" stroke-linejoin="round"/>
<path d="M57.3 997l.3-.4 .3 1.3 .3-1.5 .3 1.3 .3-.5 .3-.7 .3 1.1 .3-1.2 .3 1.1 .3-1 .3 .1 .3 .9 .3 1.1 .3-1.8 .3 .2 .3 1.1 .3 .9 .3-1 .3-.4 .3 1.5 .3-2.4 .3 2.1 .3-1.5 .3-.3 .3-.1 .3 .5 .3 1.4 .3-1.7 .3 1.1 .3 .2 .3-.7 .3 .5 .3-1.3 .3 0 .3 .4 .3 1.3 .3-.7 .3-.2 .3 .7 .3-.3 .3-.4 .3 1.3 .3-.3 .3-1.1 .3 .9 .3-.2 .3 1 .3-.4 .3-1.1 .3 1.8 .3-2.2 .3 .8 .3 .9 .3-1.6 .3 .9 .3-1.2 .3 1.7 .3 .3 .3-.5 .3 .8 .3-1.5 .3 1.1 .3-.3 .3 0 .3-.3 .3 1 .3 .3 .3-1.2 .3 .5 .3-1.5 .3 1.7 .3-.2 .3 1 .3-.4 .3-1.4 .3 .3 .3 .7 .3-1.6 .3 1.1 .3-.7 .3-.1 .3-.1 .3 1.8 .3-1.6 .3 .3 .3 .4 .3 1.3 .3-2 .3 1 .3 .2 .3 .9 .3-.1 .3 .1 .3-1.5 .3 .4 .3-.1 .3 1.4 .3 .2 .3-2.1 .3 .1 .3 .2 .3 0 .3 .6 .3 .2 .3-.9 .3-.7 .3 1 .3-.2 .3 .4 .3 1 .3-.8 .3-.5 .3 .2 .3 .1 .3-1.7 .3 2.2 .3-.4 .3 .2 .3-19.7 .3-30.2 .3-86.7 .3-4.5 .3 8.5 .3-7 .3 10.3 .3 12.3 .3-3.2 .3-6.5 .3-5.3 .3 1.9 .3 4.7 .3 6.2 .3 10.5 .3-4.8 .3 3.4 .3-3.9 .3-4.1 .3 4 .3 4 .3 3.8 .3 .5 .3 1.6 .3 .9 .3 .1 .3 .8 .3 .3 .3 .7 .3 1 .3 .7 .3 1.4 .3 0 .3 .5 .3 2.1 .3 .5 .3 .6 .3 1.4 .3 .4 .3 1.6 .3 1.5 .3 .9 .3 .8 .3 .5 .3 1.1 .3 .8 .3 1.9 .3 .9 .3 1.5 .3 .6 .3 1.1 .3 1.9 .3 1.4 .3 1 .3 1.4 .3 1.8 .3 1.7 .3 1.2 .3 2.1 .3 1.6 .3 1.1 .3 .8 .3 1.1 .3 .7 .3 1.3 .3 1.2 .3 .1 .3 1.4 .3 .9 .3 .7 .3 .1 .3 .5 .3 .8 .3 .7 .3 .8 .3 1.3 .3 1.1 .3 .7 .3 .3 .3 1 .3 .9 .3-.2 .3 1.2 .3 .8 .3 .4 .3 .5 .3 .1 .3 .2 .3 1.3 .3-.1 .3 1.1 .3 .8 .3-.2 .3 .6 .3 1.2 .3 .3 .3 0 .3 .5 .3 .6 .3 1.5 .3 .5 .3-.2 .3 1.4 .3 .8 .3 .2 .3 .2 .3 .8 .3-.5 .3 .3 .3 3 .3-.2 .3 .2 .3 1.6 .3-.7 .3 1.7 .3 .4 .3-1.2 .3 .6 .3 .6 .3 .3 .3 1.3 .3-.4 .3 .9 .3-.3 .3 2.5 .3-1 .3 .8 .3 .7 .3 1.3 .3-.8 .3 1.6 .3-.8 .3 .4 .3 .3 .3-1.1 .3 1.4 .3-.3 .3-.2 .3 2.4 .3-1.4 .3 1.1 .3 1 .3-.2 .3-.3 .3 .8 .3 .4 .3 .9 .3-1.4 .3 1.5 .3-.6 .3 .4 .3 1.6 .3-.5 .3 .3 .3 .7 .3 .6 .3-1.1 .3 .7 .3-.1 .3 .2 .3 .6 .3-.4 .3 .4 .3 0 .3 1.4 .3-.4 .3 .6 .3 .4 .3-1.6 .3 .9 .3 1.2 .3-.1 .3-1.6 .3 .1 .3 1 .3-.7 .3 .6 .3-.3 .3 1.8 .3 .5 .3 .4 .3-1.8 .3 1.6 .3 0 .3-1.3 .3 2.1 .3 .3 .3-1.8 .3 2 .3-1.3 .3 .3 .3 1.4 .3-.3 .3-1.6 .3 .8 .3 .3 .3-.3 .3-.3 .3 .5 .3 1.1 .3-1.7 .3 1.5 .3-.2 .3-.9 .3 .9 .3 .9 .3-.2 .3-1.1 .3 2.5 .3-.4 .3 .6 .3-2.2 .3 .5 .3-.5 .3 2 .3-1.2 .3-.3 .3 .8 .3 1.3 .3-.1 .3-1.4 .3-.2 .3 2.1 .3-.9 .3 .4 .3-1.5 .3 0 .3 1.7 .3-.6 .3-.8 .3 2.3 .3-.7 .3 .5 .3-1.8 .3 2.1 .3-2 .3 2.2 .3-1 .3-.2 .3 .6 .3 1 .3-1.7 .3-.3 .3 1 .3-.7 .3-.3 .3 .2 .3-.2 .3 .4 .3 .3 .3 0 .3 1.3 .3-1.2 .3 .6 .3-.8 .3 .4 .3-.8 .3 .7 .3-.6 .3 1.9 .3-.4 .3-.9 .3 .7 .3 1.3 .3-2.2 .3 1.9 .3-.9 .3 .2 .3 .9 .3-1.1 .3 .3 .3 .5 .3 .8 .3-1.7 .3 1.3 .3-.3 .3-.1 .3-.6 .3-.1 .3-.8 .3 .3 .3-.2 .3 1.8 .3-1.2 .3-.3 .3-.1 .3 2 .3 .1 .3-.5 .3-1 .3-.1 .3 .2 .3 .4 .3-.7 .3 .7 .3-.4 .3 1.8 .3 .1 .3-1.1 .3-.8 .3 1.9 .3-1.7 .3 .2 .3-.9 .3 1 .3 .3 .3 .1 .3-.8 .3 .8 .3-1.2 .3 .7 .3-.5 .3 .8 .3-.9 .3 0 .3 .7 .3-.1 .3 .9 .3-.1 .3 .5 .3-.2 .3 .2 .3 .4 .3-1.2 .3-.2 .3 1.7 .3-2.1 .3 1.5 .3-.2 .3-1.6 .3 2.1 .3 .2 .3-.7 .3 .3 .3 .2 .3-1.7 .3 1 .3-.1 .3 .9 .3-.1 .3 .1 .3-.6 .3 .8 .3-.5 .3 0" fill="none" stroke="#1f72b8" stroke-width="2.6" stroke-linejoin="round"/>
</g>
<line x1="57.30" y1="854.30" x2="646.80" y2="854.30" stroke="#262626" stroke-width="1"/>
<line x1="57.30" y1="1006.80" x2="646.80" y2="1006.80" stroke="#262626" stroke-width="1"/>
<line x1="94.14" y1="854.30" x2="94.14" y2="858.30" stroke="#262626" stroke-width="1.2"/>
<line x1="94.14" y1="1006.80" x2="94.14" y2="1002.80" stroke="#262626" stroke-width="1.2"/>
<line x1="130.99" y1="854.30" x2="130.99" y2="858.30" stroke="#262626" stroke-width="1.2"/>
<line x1="130.99" y1="1006.80" x2="130.99" y2="1002.80" stroke="#262626" stroke-width="1.2"/>
<line x1="167.83" y1="854.30" x2="167.83" y2="858.30" stroke="#262626" stroke-width="1.2"/>
<line x1="167.83" y1="1006.80" x2="167.83" y2="1002.80" stroke="#262626" stroke-width="1.2"/>
<line x1="204.68" y1="854.30" x2="204.68" y2="858.30" stroke="#262626" stroke-width="1.2"/>
<line x1="204.68" y1="1006.80" x2="204.68" y2="1002.80" stroke="#262626" stroke-width="1.2"/>
<line x1="241.52" y1="854.30" x2="241.52" y2="858.30" stroke="#262626" stroke-width="1.2"/>
<line x1="241.52" y1="1006.80" x2="241.52" y2="1002.80" stroke="#262626" stroke-width="1.2"/>
<line x1="278.36" y1="854.30" x2="278.36" y2="858.30" stroke="#262626" stroke-width="1.2"/>
<line x1="278.36" y1="1006.80" x2="278.36" y2="1002.80" stroke="#262626" stroke-width="1.2"/>
<line x1="315.21" y1="854.30" x2="315.21" y2="858.30" stroke="#262626" stroke-width="1.2"/>
<line x1="315.21" y1="1006.80" x2="315.21" y2="1002.80" stroke="#262626" stroke-width="1.2"/>
<line x1="352.05" y1="854.30" x2="352.05" y2="858.30" stroke="#262626" stroke-width="1.2"/>
<line x1="352.05" y1="1006.80" x2="352.05" y2="1002.80" stroke="#262626" stroke-width="1.2"/>
<line x1="388.89" y1="854.30" x2="388.89" y2="858.30" stroke="#262626" stroke-width="1.2"/>
<line x1="388.89" y1="1006.80" x2="388.89" y2="1002.80" stroke="#262626" stroke-width="1.2"/>
<line x1="425.74" y1="854.30" x2="425.74" y2="858.30" stroke="#262626" stroke-width="1.2"/>
<line x1="425.74" y1="1006.80" x2="425.74" y2="1002.80" stroke="#262626" stroke-width="1.2"/>
<line x1="462.58" y1="854.30" x2="462.58" y2="858.30" stroke="#262626" stroke-width="1.2"/>
<line x1="462.58" y1="1006.80" x2="462.58" y2="1002.80" stroke="#262626" stroke-width="1.2"/>
<line x1="499.43" y1="854.30" x2="499.43" y2="858.30" stroke="#262626" stroke-width="1.2"/>
<line x1="499.43" y1="1006.80" x2="499.43" y2="1002.80" stroke="#262626" stroke-width="1.2"/>
<line x1="536.27" y1="854.30" x2="536.27" y2="858.30" stroke="#262626" stroke-width="1.2"/>
<line x1="536.27" y1="1006.80" x2="536.27" y2="1002.80" stroke="#262626" stroke-width="1.2"/>
<line x1="573.11" y1="854.30" x2="573.11" y2="858.30" stroke="#262626" stroke-width="1.2"/>
<line x1="573.11" y1="1006.80" x2="573.11" y2="1002.80" stroke="#262626" stroke-width="1.2"/>
<line x1="609.96" y1="854.30" x2="609.96" y2="858.30" stroke="#262626" stroke-width="1.2"/>
<line x1="609.96" y1="1006.80" x2="609.96" y2="1002.80" stroke="#262626" stroke-width="1.2"/>
<line x1="57.30" y1="854.30" x2="57.30" y2="1006.80" stroke="#6a2ae8" stroke-width="1.2"/>
<line x1="646.80" y1="854.30" x2="646.80" y2="1006.80" stroke="#5a5aff" stroke-width="1.2"/>
<line x1="57.30" y1="1000.00" x2="61.30" y2="1000.00" stroke="#ec1c98" stroke-width="1"/>
<line x1="57.30" y1="931.00" x2="61.30" y2="931.00" stroke="#ec1c98" stroke-width="1"/>
<line x1="57.30" y1="862.00" x2="61.30" y2="862.00" stroke="#ec1c98" stroke-width="1"/>
<line x1="57.30" y1="979.23" x2="59.80" y2="979.23" stroke="#ec1c98" stroke-width="0.9"/>
<line x1="646.80" y1="979.23" x2="644.30" y2="979.23" stroke="#ec1c98" stroke-width="0.9"/>
<line x1="57.30" y1="967.08" x2="59.80" y2="967.08" stroke="#ec1c98" stroke-width="0.9"/>
<line x1="646.80" y1="967.08" x2="644.30" y2="967.08" stroke="#ec1c98" stroke-width="0.9"/>
<line x1="57.30" y1="958.46" x2="59.80" y2="958.46" stroke="#ec1c98" stroke-width="0.9"/>
<line x1="646.80" y1="958.46" x2="644.30" y2="958.46" stroke="#ec1c98" stroke-width="0.9"/>
<line x1="57.30" y1="951.77" x2="59.80" y2="951.77" stroke="#ec1c98" stroke-width="0.9"/>
<line x1="646.80" y1="951.77" x2="644.30" y2="951.77" stroke="#ec1c98" stroke-width="0.9"/>
<line x1="57.30" y1="946.31" x2="59.80" y2="946.31" stroke="#ec1c98" stroke-width="0.9"/>
<line x1="646.80" y1="946.31" x2="644.30" y2="946.31" stroke="#ec1c98" stroke-width="0.9"/>
<line x1="57.30" y1="941.69" x2="59.80" y2="941.69" stroke="#ec1c98" stroke-width="0.9"/>
<line x1="646.80" y1="941.69" x2="644.30" y2="941.69" stroke="#ec1c98" stroke-width="0.9"/>
<line x1="57.30" y1="937.69" x2="59.80" y2="937.69" stroke="#ec1c98" stroke-width="0.9"/>
<line x1="646.80" y1="937.69" x2="644.30" y2="937.69" stroke="#ec1c98" stroke-width="0.9"/>
<line x1="57.30" y1="934.16" x2="59.80" y2="934.16" stroke="#ec1c98" stroke-width="0.9"/>
<line x1="646.80" y1="934.16" x2="644.30" y2="934.16" stroke="#ec1c98" stroke-width="0.9"/>
<line x1="57.30" y1="910.23" x2="59.80" y2="910.23" stroke="#ec1c98" stroke-width="0.9"/>
<line x1="646.80" y1="910.23" x2="644.30" y2="910.23" stroke="#ec1c98" stroke-width="0.9"/>
<line x1="57.30" y1="898.08" x2="59.80" y2="898.08" stroke="#ec1c98" stroke-width="0.9"/>
<line x1="646.80" y1="898.08" x2="644.30" y2="898.08" stroke="#ec1c98" stroke-width="0.9"/>
<line x1="57.30" y1="889.46" x2="59.80" y2="889.46" stroke="#ec1c98" stroke-width="0.9"/>
<line x1="646.80" y1="889.46" x2="644.30" y2="889.46" stroke="#ec1c98" stroke-width="0.9"/>
<line x1="57.30" y1="882.77" x2="59.80" y2="882.77" stroke="#ec1c98" stroke-width="0.9"/>
<line x1="646.80" y1="882.77" x2="644.30" y2="882.77" stroke="#ec1c98" stroke-width="0.9"/>
<line x1="57.30" y1="877.31" x2="59.80" y2="877.31" stroke="#ec1c98" stroke-width="0.9"/>
<line x1="646.80" y1="877.31" x2="644.30" y2="877.31" stroke="#ec1c98" stroke-width="0.9"/>
<line x1="57.30" y1="872.69" x2="59.80" y2="872.69" stroke="#ec1c98" stroke-width="0.9"/>
<line x1="646.80" y1="872.69" x2="644.30" y2="872.69" stroke="#ec1c98" stroke-width="0.9"/>
<line x1="57.30" y1="868.69" x2="59.80" y2="868.69" stroke="#ec1c98" stroke-width="0.9"/>
<line x1="646.80" y1="868.69" x2="644.30" y2="868.69" stroke="#ec1c98" stroke-width="0.9"/>
<line x1="57.30" y1="865.16" x2="59.80" y2="865.16" stroke="#ec1c98" stroke-width="0.9"/>
<line x1="646.80" y1="865.16" x2="644.30" y2="865.16" stroke="#ec1c98" stroke-width="0.9"/>
<line x1="646.80" y1="1000.00" x2="642.80" y2="1000.00" stroke="#ec1c98" stroke-width="1"/>
<line x1="646.80" y1="931.00" x2="642.80" y2="931.00" stroke="#ec1c98" stroke-width="1"/>
<line x1="646.80" y1="862.00" x2="642.80" y2="862.00" stroke="#ec1c98" stroke-width="1"/>
<line x1="646.80" y1="954.60" x2="642.80" y2="954.60" stroke="#1a1aff" stroke-width="1"/>
<line x1="57.30" y1="954.60" x2="61.30" y2="954.60" stroke="#1a1aff" stroke-width="1"/>
<line x1="646.80" y1="854.20" x2="642.80" y2="854.20" stroke="#1a1aff" stroke-width="1"/>
<line x1="57.30" y1="854.20" x2="61.30" y2="854.20" stroke="#1a1aff" stroke-width="1"/>
<line x1="646.80" y1="994.55" x2="644.30" y2="994.55" stroke="#1a1aff" stroke-width="0.9"/>
<line x1="57.30" y1="994.55" x2="59.80" y2="994.55" stroke="#1a1aff" stroke-width="0.9"/>
<line x1="646.80" y1="984.82" x2="644.30" y2="984.82" stroke="#1a1aff" stroke-width="0.9"/>
<line x1="57.30" y1="984.82" x2="59.80" y2="984.82" stroke="#1a1aff" stroke-width="0.9"/>
<line x1="646.80" y1="976.87" x2="644.30" y2="976.87" stroke="#1a1aff" stroke-width="0.9"/>
<line x1="57.30" y1="976.87" x2="59.80" y2="976.87" stroke="#1a1aff" stroke-width="0.9"/>
<line x1="646.80" y1="970.15" x2="644.30" y2="970.15" stroke="#1a1aff" stroke-width="0.9"/>
<line x1="57.30" y1="970.15" x2="59.80" y2="970.15" stroke="#1a1aff" stroke-width="0.9"/>
<line x1="646.80" y1="964.33" x2="644.30" y2="964.33" stroke="#1a1aff" stroke-width="0.9"/>
<line x1="57.30" y1="964.33" x2="59.80" y2="964.33" stroke="#1a1aff" stroke-width="0.9"/>
<line x1="646.80" y1="959.19" x2="644.30" y2="959.19" stroke="#1a1aff" stroke-width="0.9"/>
<line x1="57.30" y1="959.19" x2="59.80" y2="959.19" stroke="#1a1aff" stroke-width="0.9"/>
<line x1="646.80" y1="924.38" x2="644.30" y2="924.38" stroke="#1a1aff" stroke-width="0.9"/>
<line x1="57.30" y1="924.38" x2="59.80" y2="924.38" stroke="#1a1aff" stroke-width="0.9"/>
<line x1="646.80" y1="906.70" x2="644.30" y2="906.70" stroke="#1a1aff" stroke-width="0.9"/>
<line x1="57.30" y1="906.70" x2="59.80" y2="906.70" stroke="#1a1aff" stroke-width="0.9"/>
<line x1="646.80" y1="894.15" x2="644.30" y2="894.15" stroke="#1a1aff" stroke-width="0.9"/>
<line x1="57.30" y1="894.15" x2="59.80" y2="894.15" stroke="#1a1aff" stroke-width="0.9"/>
<line x1="646.80" y1="884.42" x2="644.30" y2="884.42" stroke="#1a1aff" stroke-width="0.9"/>
<line x1="57.30" y1="884.42" x2="59.80" y2="884.42" stroke="#1a1aff" stroke-width="0.9"/>
<line x1="646.80" y1="876.47" x2="644.30" y2="876.47" stroke="#1a1aff" stroke-width="0.9"/>
<line x1="57.30" y1="876.47" x2="59.80" y2="876.47" stroke="#1a1aff" stroke-width="0.9"/>
<line x1="646.80" y1="869.75" x2="644.30" y2="869.75" stroke="#1a1aff" stroke-width="0.9"/>
<line x1="57.30" y1="869.75" x2="59.80" y2="869.75" stroke="#1a1aff" stroke-width="0.9"/>
<line x1="646.80" y1="863.93" x2="644.30" y2="863.93" stroke="#1a1aff" stroke-width="0.9"/>
<line x1="57.30" y1="863.93" x2="59.80" y2="863.93" stroke="#1a1aff" stroke-width="0.9"/>
<line x1="646.80" y1="858.79" x2="644.30" y2="858.79" stroke="#1a1aff" stroke-width="0.9"/>
<line x1="57.30" y1="858.79" x2="59.80" y2="858.79" stroke="#1a1aff" stroke-width="0.9"/>
<text x="45.60" y="863.20" font-size="11.8" text-anchor="end" fill="#ec1c98" dominant-baseline="central">10</text>
<text x="45.90" y="860.60" font-size="8.4" text-anchor="start" fill="#ec1c98" dominant-baseline="central">2</text>
<text x="45.60" y="932.20" font-size="11.8" text-anchor="end" fill="#ec1c98" dominant-baseline="central">10</text>
<text x="45.90" y="929.60" font-size="8.4" text-anchor="start" fill="#ec1c98" dominant-baseline="central">1</text>
<text x="45.60" y="1001.20" font-size="11.8" text-anchor="end" fill="#ec1c98" dominant-baseline="central">10</text>
<text x="45.90" y="998.60" font-size="8.4" text-anchor="start" fill="#ec1c98" dominant-baseline="central">0</text>
<text x="650.80" y="854.50" font-size="11.8" text-anchor="start" fill="#1a1aff" dominant-baseline="central">10</text>
<text x="664.30" y="851.60" font-size="8.4" text-anchor="start" fill="#1a1aff" dominant-baseline="central">3</text>
<text x="650.80" y="954.90" font-size="11.8" text-anchor="start" fill="#1a1aff" dominant-baseline="central">10</text>
<text x="664.30" y="952.00" font-size="8.4" text-anchor="start" fill="#1a1aff" dominant-baseline="central">2</text>
<text x="25.30" y="929.40" font-size="12" text-anchor="middle" fill="#262626" dominant-baseline="central" textLength="144.6" lengthAdjust="spacing" transform="rotate(-90 25.30 929.40)">MIPA integrated (counts/s)</text>
<text x="679.00" y="921.60" font-size="12" text-anchor="middle" fill="#262626" dominant-baseline="central" textLength="93" lengthAdjust="spacing" transform="rotate(90 679.00 921.60)">PICAM (counts/s)</text>
<text x="65.00" y="873.60" font-size="14.8" text-anchor="start" fill="#111" dominant-baseline="central">(e)</text>
<text x="430.40" y="886.00" font-size="14.4" text-anchor="start" fill="#ec1c98" dominant-baseline="central" textLength="196" lengthAdjust="spacing">MIPA (30 eV - 14 keV, integral)</text>
<line x1="95.49" y1="1032.00" x2="95.49" y2="1189.30" stroke="#e3e3e3" stroke-width="0.8"/>
<line x1="132.47" y1="1032.00" x2="132.47" y2="1189.30" stroke="#e3e3e3" stroke-width="0.8"/>
<line x1="169.46" y1="1032.00" x2="169.46" y2="1189.30" stroke="#e3e3e3" stroke-width="0.8"/>
<line x1="206.45" y1="1032.00" x2="206.45" y2="1189.30" stroke="#e3e3e3" stroke-width="0.8"/>
<line x1="243.44" y1="1032.00" x2="243.44" y2="1189.30" stroke="#e3e3e3" stroke-width="0.8"/>
<line x1="280.42" y1="1032.00" x2="280.42" y2="1189.30" stroke="#e3e3e3" stroke-width="0.8"/>
<line x1="317.41" y1="1032.00" x2="317.41" y2="1189.30" stroke="#e3e3e3" stroke-width="0.8"/>
<line x1="354.40" y1="1032.00" x2="354.40" y2="1189.30" stroke="#e3e3e3" stroke-width="0.8"/>
<line x1="391.39" y1="1032.00" x2="391.39" y2="1189.30" stroke="#e3e3e3" stroke-width="0.8"/>
<line x1="428.38" y1="1032.00" x2="428.38" y2="1189.30" stroke="#e3e3e3" stroke-width="0.8"/>
<line x1="465.36" y1="1032.00" x2="465.36" y2="1189.30" stroke="#e3e3e3" stroke-width="0.8"/>
<line x1="502.35" y1="1032.00" x2="502.35" y2="1189.30" stroke="#e3e3e3" stroke-width="0.8"/>
<line x1="539.34" y1="1032.00" x2="539.34" y2="1189.30" stroke="#e3e3e3" stroke-width="0.8"/>
<line x1="576.32" y1="1032.00" x2="576.32" y2="1189.30" stroke="#e3e3e3" stroke-width="0.8"/>
<line x1="613.31" y1="1032.00" x2="613.31" y2="1189.30" stroke="#e3e3e3" stroke-width="0.8"/>
<line x1="58.50" y1="1063.46" x2="650.30" y2="1063.46" stroke="#e3e3e3" stroke-width="0.8"/>
<line x1="58.50" y1="1094.92" x2="650.30" y2="1094.92" stroke="#e3e3e3" stroke-width="0.8"/>
<line x1="58.50" y1="1126.38" x2="650.30" y2="1126.38" stroke="#e3e3e3" stroke-width="0.8"/>
<line x1="58.50" y1="1157.84" x2="650.30" y2="1157.84" stroke="#e3e3e3" stroke-width="0.8"/>
<clipPath id="fmain"><rect x="58.5" y="1032.0" width="591.8" height="157.3"/></clipPath>
<g clip-path="url(#fmain)">
<rect x="58.5" y="1124.5" width="2.55" height="66" fill="#c5b0d5"/>
<rect x="61" y="1124.5" width="2.05" height="66" fill="#b48cc8"/>
<rect x="63" y="1124.5" width="2.05" height="66" fill="#c5b0d5"/>
<rect x="65" y="1124.5" width="1.55" height="66" fill="#ff9896"/>
<rect x="66.5" y="1124.5" width="1.05" height="66" fill="#c49c94"/>
<rect x="67.5" y="1124.5" width="1.15" height="66" fill="#2ca02c"/>
<rect x="68.6" y="1124.5" width="1.45" height="66" fill="#ffa590"/>
<rect x="70" y="1124.5" width="1.05" height="66" fill="#c49c94"/>
<rect x="71" y="1124.5" width="1.45" height="66" fill="#c8c08a"/>
<rect x="72.4" y="1124.5" width="2.65" height="66" fill="#9467bd"/>
<rect x="75" y="1124.5" width="2.05" height="66" fill="#8c564b"/>
<rect x="77" y="1124.5" width="1.05" height="66" fill="#c49c94"/>
<rect x="78" y="1124.5" width="2.05" height="66" fill="#9467bd"/>
<rect x="80" y="1124.5" width="1.25" height="66" fill="#ff9896"/>
<rect x="81.2" y="1124.5" width="2.85" height="66" fill="#8c564b"/>
<rect x="84" y="1124.5" width="2.05" height="66" fill="#9467bd"/>
<rect x="86" y="1124.5" width="2.05" height="66" fill="#8c564b"/>
<rect x="88" y="1124.5" width="2.05" height="66" fill="#9467bd"/>
<rect x="90" y="1124.5" width="2.55" height="66" fill="#8c564b"/>
<rect x="92.5" y="1124.5" width="1.35" height="66" fill="#e0a0a0"/>
<rect x="93.8" y="1124.5" width="2.05" height="66" fill="#d62728"/>
<path d="M58.5 1117.8l.7-3.8 .7 1.4 .7-.7 .7 .4 .7 2.4 .7-1.3 .7 1.8 .7-4.4 .7 5.4 .7-4.5 .7 3.5 .7 .6 .7-4.8 .7 3 .7 2.6 .7-5.9 .7 3 .7-.4 .7-.3 .7-1.1 .7-.1 .7 .5 .7-.3 .7 .5 .7 3.6 .7 .3 .7-4.1 .7-1.4 .7 1.4 .7 3.5 .7-4 .7 2.9 .7-3.4 .7 1.5 .7-1.1 .7 2.7 .7-1.5 .7 2.4 .7-1.5 .7-.7 .7-2.3 .7 4.9 .7-4.8 .7 2.8 .7 2.9 .7-1.2 .7-2.6 .7 3.5 .7-4.1 .7 2 .7 0 .7 .8 .7-24.5 .7-30.6 .7-2.5 .7-.6 .7-.5 .7-.8 .7 .6 .7-.1 .7-.3 .7 .2 .7-.7 .7-.6 .7-.9 .7-.8 .7-.1 .7-.1 .7 .3 .7-.3 .7 1.2 .7-.1 .7 .5 .7 .1 .7-.2 .7 .1 .7 .1 .7-.5 .7-.5 .7 .1 .7-.4 .7 .2 .7 1.3 .7 0 .7 0 .7 1 .7-.4 .7-.8 .7 .5 .7 .1 .7 .1 .7 1.5 .7 .5 .7 1 .7-.2 .7-.4 .7 .4 .7-.5 .7 .4 .7-.6 .7 1 .7 .8 .7-.3 .7 .5 .7 1.3 .7 .5 .7 .3 .7 .1 .7 .3 .7 .9 .7 .9 .7 0 .7 .5 .7 .4 .7-1.1 .7 .3 .7 .2 .7 .1 .7 .4 .7 .4 .7 .2 .7 1.1 .7-.4 .7 1.2 .7 .8 .7 .8 .7-.3 .7 .1 .7 .4 .7 1.1 .7 .7 .7 1 .7-.4 .7-.6 .7 .2 .7-.4 .7-.2 .7 .7 .7-.1 .7 .7 .7 .6 .7 .4 .7 .7 .7-.6 .7 1.1 .7-.9 .7-.8 .7 0 .7-.5 .7 .2 .7 .8 .7 .3 .7 .6 .7 1 .7-.1 .7-.9 .7 .4 .7 .2 .7-.7 .7 1.1 .7-.6 .7 .7 .7 .2 .7-.3 .7 .1 .7 .7 .7-.5 .7 .3 .7-.3 .7 .6 .7 .9 .7 .4 .7 .3 .7 1.3 .7-.1 .7 .4 .7 .7 .7 0 .7-1.2 .7-.8 .7-.1 .7 .3 .7 .6 .7 .5 .7 .5 .7 .2 .7 .3 .7 .9 .7-.2 .7 .6 .7-.3 .7-.8 .7 0 .7-.3 .7-.1 .7 .2 .7 .4 .7 .3 .7 1.2 .7 .2 .7 .3 .7-.3 .7-.5 .7-.4 .7 .1 .7 .2 .7 .1 .7 .2 .7-.4 .7 1 .7 .1 .7 .1 .7 .1 .7 .1 .7 .2 .7 .3 .7 .8 .7-.4 .7 .6 .7 .4 .7-.7 .7-.1 .7 .2 .7 .1 .7 .1 .7-.4 .7 0 .7 0 .7 .7 .7 .2 .7 .8 .7 .2 .7 .3 .7-.3 .7-.6 .7 .8 .7-.7 .7 .7 .7-.6 .7 .4 .7 .2 .7 .6 .7 .2 .7 .9 .7 .3 .7 .3 .7-.1 .7-.1 .7 .2 .7 .3 .7-.3 .7-.1 .7-.6 .7-.2 .7-1 .7 .1 .7 1.4 .7-.1 .7 .7 .7 .5 .7-.7 .7 0 .7 .4 .7-.3 .7 0 .7 .9 .7 .2 .7 .2 .7 .3 .7-.4 .7-.1 .7-.3 .7 .2 .7-.5 .7-.1 .7-.3 .7-.2 .7-.5 .7 1.4 .7 .7 .7-.6 .7 1.2 .7-.8 .7-.2 .7-1 .7-.2 .7 .5 .7 .4 .7-.1 .7 1.2 .7-23.3 .7-9.7 .7-1.7 .7-1.4 .7-.9 .7-1.7 .7-1.1 .7-.7 .7 .7 .7-.8 .7 0 .7 1.1 .7-.4 .7 .9 .7 .9 .7-.4 .7 0 .7 .4 .7 .3 .7 .3 .7 .5 .7 1.6 .7 .3 .7 .4 .7 .8 .7 0 .7 .5 .7 .4 .7 1 .7 .6 .7-.1 .7 .4 .7 .6 .7 .1 .7 1.5 .7 0 .7 1.5 .7 .2 .7-.3 .7-.4 .7 .6 .7-.7 .7 .6 .7 1.3 .7 .3 .7 .4 .7 .3 .7 .2 .7 .4 .7 .5 .7-.6 .7 1.3 .7 .4 .7 0 .7 .1 .7 .2 .7 .7 .7 .1 .7 1.1 .7 .3 .7 .6 .7 .8 .7-.3 .7 .9 .7 .4 .7 .1 .7-.2 .7 1.2 .7 0 .7 .3 .7 .5 .7-.7 .7-.5 .7 .3 .7-.1 .7 0 .7 .4 .7 .7 .7 .5 .7-.5 .7-.2 .7-.6 .7-.7 .7 .9 .7-.3 .7 .8 .7 1 .7 .2 .7 .7 .7-.5 .7 .3 .7-.2 .7 1 .7-.1 .7 .9 .7 .5 .7-.2 .7-.5 .7 .7 .7-1 .7 1.2 .7-.5 .7 .4 .7-.2 .7-.2 .7 0 .7-.1 .7-.2 .7-.9 .7 .3 .7 0 .7 1.3 .7-.1 .7 .9 .7-.5 .7 .6 .7-.5 .7-.6 .7-.5 .7 .1 .7 .6 .7 0 .7 .5 .7 1.1 .7-.2 .7 .2 .7 .8 .7-1.2 .7-.4 .7 .5 .7-.2 .7 .6 .7-.3 .7-.2 .7 .9 .7 .3 .7 .8 .7-.5 .7 .1 .7 1.3 .7 .5 .7-.1 .7 .7 .7 .6 .7-.4 .7-.6 .7 .1 .7-.1 .7 .2 .7 .3 .7 .1 .7-.6 .7 1 .7-.2 .7 1.1 .7 0 .7 0 .7 .3 .7 .9 .7 .3 .7 1.1 .7 .2 .7-1.6 .7-.2 .7 0 .7-1 .7 .6 .7 .9 .7 .1 .7 .2 .7 .5 .7 .2 .7 .5 .7 .9 .7-.5 .7 .8 .7 1.3 .7 .2 .7 .5 .7 .2 .7-1 .7 0 .7 .2 .7 .2 .7 .2 .7 .1 .7 .6 .7-.2 .7-.5 .7-.5 .7-.2 .7-.2 .7-.9 .7 .7 .7-.2 .7 .4 .7 .1 .7 0 .7-.7 .7 .7 .7 .1 .7 .6 .7 .8 .7-.5 .7 .3 .7 .4 .7 0 .7 .8 .7-.6 .7 .1 .7 .2 .7 0 .7-.5 .7-.6 .7-.4 .7-.7 .7 .1 .7 1.3 .7 .3 .7 .2 .7-.2 .7 .7 .7-.8 .7-.1 .7 .9 .7-.6 .7-.1 .7-.1 .7 .2 .7-.1 .7 .2 .7-.1 .7 .5 .7 .1 .7 .4 .7 .2 .7-.6 .7 .7 .7 .5 .7 0 .7-.3 .7 .2 .7 .3 .7-.8 .7 0 .7-.1 .7-.2 .7 .5 .7 .4 .7 .9 .7-.1 .7 0 .7 .2 .7 .5 .7-.7 .7-.2 .7 .1 .7 .5 .7-.3 .7 .3 .7 0 .7 1.1 .7 0 .7-.2 .7-.1 .7 1.4 .7-.2 .7-.1 .7-.5 .7-.5 .7-.6 .7 .6 .7-.5 .7 .5 .7 .1 .7-.6 .7-.3 .7-.2 .7-.2 .7 .5 .7 .1 .7 .8 .7-.1 .7-.8 .7 .1 .7 0 .7 .3 .7-.3 .7-1.3 .7 .3 .7 .4 .7 .9 .7 .2 .7 .9 .7 .9 .7-.5 .7-1 .7-.5 .7 .2 .7 0 .7 1.1 .7 .5 .7-.6 .7-.2 .7-2.3 .7-3.2 .7-1.5 .7-2.4 .7-2.8 .7-3 .7-2.4 .7-.6 .7-.8 .7 0 .7-.5 .7-.6 .7-.3 .7-1 .7-1 .7-.3 .7-1.2 .7-.2 .7-.4 .7 .4 .7 .1 .7 .1 .7-.6 .7-.3 .7-.1 .7-1.1 .7-.1 .7 .1 .7-.6 .7-.5 .7 .2 .7 .4 .7-.1 .7 .3 .7 .7 .7 .7 .7-.3 .7 .2 .7 1 .7-1.1 .7 .2 .7 .9 .7 .2 .7 .8 .7 .5 .7-.5 .7 .7 .7-.5 .7 .6 .7-.7 .7 .8 .7-.6 .7 .6 .7 .2 .7 .7 .7 .2 .7 .2 .7 .9 .7 .6 .7 1.1 .7-.9 .7 .9 .7-.6 .7 .5 .7 .7 .7 .2 .7-.2 .7 .7 .7-.1 .7 .4 .7-.3 .7-.2 .7 .2 .7 1.2 .7 .9 .7 .4 .7 1.1 .7-.5 .7 .2 .7-.2 .7-.2 .7-.8 .7-.1 .7-.4 .7 .1 .7-.9 .7 0 .7 .7 .7 .7 .7-.2 .7 .9 .7-.8 .7 .4 .7-.6 .7 .8 .7 .4 .7-.1 .7-.2 .7 .4 .7 .5 .7-.9 .7 .5 .7-.3 .7 .4 .7-.1 .7 1.6 .7-.1 .7 1.7 .7-.8 .7 .3 .7-.2 .7 .5 .7 1.1 .7-.6 .7 .3 .7 0 .7-.7 .7 .7 .7-.1 .7-.8 .7-.6 .7 .3 .7 .6 .7 .5 .7-.2 .7-.8 .7-.4 .7 .7 .7-.3 .7-.3 .7 .5 .7-.4 .7 1.2 .7 .7 .7 .6 .7-.4 .7 .2 .7 .4 .7-.7 .7-.4 .7 0 .7 1 .7 .6 .7 1 .7 1 .7-.7 .7-.9 .7-.3 .7-.7 .7-.7 .7 .5 .7 .7 .7-.4 .7 .9 .7-.7 .7 1.5 .7 .4 .7-.2 .7 .3 .7 .4 .7-.2 .7 1 .7-.5 .7-.4 .7-.5 .7 .1 .7-.1 .7 0 .7 .3 .7 .2 .7-.7 .7 .5 .7-.1 .7 .4 .7-.7 .7 0 .7-.3 .7 .3 .7 1.1 .7 .3 .7 .3 .7-.5 .7 .3 .7-.2 .7 .9 .7 0 .7 0 .7 .6 .7 .1 .7-.4 .7 .3 .7 .2 .7 .3 .7-.2 .7 .3 .7-.9 .7 .2 .7-.6 .7-.6 .7 0 .7-.5 .7 1.4 .7 .2 .7-.5 .7 .6 .7-1 .7 .1 .7-.6 .7 1 .7 .5 .7 .2 .7 .4 .7 .7 .7 0 .7 .7 .7-.8 .7-.1 .7-.3 .7-.4 .7 .8 .7 .6 .7 .7 .7 0 .7 .2 .7 .4 .7-.5 .7-.4 .7-.2 .7 .1 .7-.8 .7-.1 .7-.3 .7 0 .7 .7 .7-.2 .7 1.4 .7 .3 .7 .6 .7 .1 .7 1.1 .7-.3 .7-.1 .7 .8 .7-.9 .7 .3 .7 .8 .7-.8 .7 .5 .7 0 .7-.3 .7-.2" fill="none" stroke="#ff7f0e" stroke-width="1.4" stroke-linejoin="round"/>
<path d="M58.5 1118.5l.7 2.2 .7-.8 .7-4.8 .7 3.7 .7-3.5 .7 3.5 .7-1.8 .7 2.9 .7-4.8 .7 5.4 .7-5.4 .7 0 .7-.3 .7 .8 .7 5.1 .7-.9 .7 .5 .7-4.4 .7 3 .7 .7 .7-.4 .7-2.8 .7 4.2 .7-1.4 .7-.3 .7-2.4 .7 .7 .7 2.1 .7-1.4 .7-.2 .7 2.6 .7-3 .7 2.7 .7-4.9 .7 2.9 .7 1.1 .7-4.2 .7 4.1 .7-2.5 .7 2.1 .7-.1 .7-2.9 .7 4.9 .7-4.2 .7-.7 .7 1.9 .7-2.3 .7 .2 .7 4 .7-4 .7 2.6 .7 2.1 .7-25.4 .7-29.1 .7-3 .7-2.6 .7-.7 .7 .9 .7 .5 .7 .5 .7 .1 .7-.2 .7 .4 .7-1.1 .7-.9 .7-.8 .7-2.1 .7 .7 .7 .4 .7-.1 .7 .8 .7 .8 .7-.4 .7-.2 .7-.4 .7 .4 .7 .3 .7 .1 .7-.6 .7 .2 .7-.9 .7 .8 .7 1.2 .7 1.1 .7-.5 .7 0 .7 0 .7-.6 .7-.1 .7 .2 .7 1.1 .7 .9 .7-.6 .7 1 .7-.7 .7 .3 .7 .7 .7-.7 .7 .4 .7 0 .7 .4 .7 1.3 .7-.2 .7 1.5 .7 1.2 .7-.5 .7 1.2 .7-.4 .7 1.1 .7 .4 .7 .4 .7 1.3 .7 .3 .7-.9 .7 0 .7-.5 .7-.1 .7 1 .7 .5 .7-.8 .7 1.2 .7-.1 .7-.4 .7 .6 .7 .9 .7 1.2 .7 .6 .7-.1 .7 .8 .7 1.1 .7-.5 .7 0 .7 .3 .7 .1 .7 0 .7-.1 .7-.6 .7 .6 .7 .3 .7 .7 .7 .1 .7 1.2 .7 .2 .7 .7 .7 .7 .7-1.2 .7 .5 .7-.4 .7-.5 .7 0 .7-.3 .7 .5 .7 .9 .7 1.3 .7-.8 .7 .6 .7-.2 .7-.4 .7-.4 .7-.4 .7 1 .7-.8 .7 .4 .7 .6 .7 .1 .7-.3 .7 .9 .7-.9 .7 .1 .7 0 .7 .8 .7-.4 .7 1.5 .7 .4 .7 1 .7 0 .7 .9 .7 0 .7-1.6 .7 .5 .7-.9 .7-.4 .7 .3 .7 .2 .7 1.6 .7 0 .7 1.6 .7-.6 .7-.5 .7 .5 .7-.3 .7 .6 .7-.8 .7 .9 .7-1 .7 .1 .7 .4 .7 0 .7 .1 .7 .5 .7-.1 .7-.6 .7 0 .7 .2 .7-.8 .7 1.1 .7-1.2 .7 .5 .7 .7 .7-.4 .7 .4 .7 .2 .7 1.6 .7 .4 .7-.3 .7 1.1 .7 0 .7 .4 .7 .1 .7 .4 .7-.5 .7-.4 .7 .4 .7-.4 .7 .5 .7-.4 .7 .8 .7-.4 .7 .7 .7-.2 .7 .5 .7 .5 .7-.3 .7 .6 .7 .5 .7-1.1 .7-.1 .7-.6 .7 .5 .7-.2 .7 .8 .7 .3 .7 .9 .7 0 .7 1 .7 .3 .7 .2 .7-.6 .7 .6 .7-.4 .7-1.3 .7 .3 .7-.5 .7-1.2 .7 .6 .7 .3 .7 .2 .7 .4 .7-.3 .7 .9 .7 0 .7-.5 .7 1.2 .7 .1 .7-.3 .7 .6 .7 .5 .7 .9 .7 .2 .7 .1 .7-.1 .7-1 .7-.1 .7-.8 .7-.3 .7-.6 .7-.3 .7 .9 .7 .6 .7 1.1 .7 .7 .7 .6 .7-.6 .7-.7 .7-.3 .7-.6 .7 0 .7 .6 .7 .1 .7-.2 .7-21.6 .7-10.6 .7-2.2 .7-1.6 .7-.8 .7-.6 .7-1.9 .7-.6 .7 1.3 .7 0 .7 .3 .7-.2 .7 1 .7 .6 .7 .9 .7-.4 .7 .8 .7-.2 .7-.2 .7 0 .7 .8 .7 .5 .7 2 .7 1.2 .7 .2 .7 0 .7-.5 .7 .5 .7 .5 .7 1.7 .7 .8 .7 .3 .7-.2 .7 .8 .7 .5 .7-.5 .7 .3 .7 1.3 .7 0 .7-.5 .7-.2 .7-.2 .7 1.2 .7 .3 .7 .6 .7 1.6 .7-.2 .7 1.2 .7 .1 .7-.6 .7 .5 .7-.1 .7 .9 .7 .1 .7-.3 .7 .2 .7 .6 .7 .5 .7 .6 .7 1 .7-.2 .7 .7 .7 .8 .7 0 .7 .7 .7 .4 .7 .6 .7 1 .7-.4 .7 .6 .7-1.3 .7-.2 .7-.2 .7-.2 .7-.5 .7 .7 .7 0 .7 .2 .7 .5 .7 .1 .7-.2 .7 .8 .7 .1 .7 .1 .7-.4 .7 .6 .7 .6 .7 .6 .7 0 .7-.2 .7-.1 .7 .6 .7 .1 .7 .5 .7 0 .7 1.4 .7-.4 .7 1.4 .7-.2 .7 .1 .7-1.1 .7-.1 .7-1.3 .7 .9 .7-.9 .7-.2 .7 .5 .7 .9 .7 .1 .7 .6 .7-.1 .7 .3 .7 .3 .7-.8 .7 .5 .7 .3 .7-.5 .7 .3 .7 0 .7-.9 .7 .5 .7-.2 .7-.1 .7 .7 .7 .3 .7 .4 .7 .3 .7-1 .7 .6 .7 .2 .7 .4 .7-.6 .7 1.1 .7-.8 .7 .4 .7-.1 .7 .3 .7 .4 .7 .1 .7 .2 .7 1.5 .7 0 .7 2.1 .7-.4 .7-1.1 .7 .2 .7-.8 .7-.6 .7 .8 .7-.4 .7 .7 .7 .6 .7 1 .7-.4 .7 1 .7-.5 .7 .3 .7 .3 .7-.5 .7 1.4 .7 0 .7-.8 .7-.3 .7 .4 .7-.7 .7 .1 .7 .3 .7 0 .7 .3 .7 .9 .7 .6 .7-.6 .7 .5 .7-.2 .7 .1 .7 .5 .7 1 .7 .8 .7 .7 .7 .1 .7 .3 .7-.9 .7 .8 .7-.6 .7 .2 .7 .4 .7 .8 .7-.5 .7-.5 .7 0 .7-.1 .7-.2 .7-1.1 .7 .2 .7 0 .7 .6 .7-.2 .7-.1 .7 .1 .7 .5 .7 0 .7 .3 .7-.1 .7 1.1 .7-.6 .7 .3 .7 .3 .7 .4 .7-.3 .7 0 .7 .1 .7 1 .7-1.3 .7 0 .7-.2 .7-1.6 .7 .6 .7 .6 .7-.3 .7 .8 .7-1 .7 .9 .7 .4 .7-.5 .7 .3 .7 0 .7-.1 .7-.3 .7 .4 .7 .5 .7-.1 .7-.4 .7 .5 .7 .7 .7-.5 .7 .1 .7 1.1 .7-.6 .7 .7 .7-.5 .7-.3 .7-.6 .7-.4 .7-.2 .7 .6 .7 .7 .7 .5 .7-.8 .7 .6 .7 .1 .7 .9 .7-.5 .7 .9 .7-.3 .7 .5 .7-.8 .7 .1 .7 .3 .7-.3 .7 .4 .7 .5 .7-.1 .7 .1 .7 .3 .7 1.2 .7 .2 .7-.4 .7 .3 .7 .3 .7-.5 .7-.7 .7 .6 .7-.3 .7-1.5 .7 .2 .7 .7 .7 .1 .7 .1 .7 .8 .7 .2 .7-.5 .7 .4 .7-.9 .7-.3 .7-.5 .7 0 .7-.1 .7-.8 .7-.5 .7 .8 .7 .7 .7 .5 .7-.1 .7 .4 .7 .1 .7-.3 .7 .5 .7 .1 .7-.3 .7-.2 .7 .5 .7 .3 .7-.5 .7 0 .7-2.3 .7-2.6 .7-.9 .7-3.1 .7-2 .7-3.3 .7-2.4 .7-1.3 .7-.2 .7 .1 .7 .4 .7-.8 .7-.9 .7-.4 .7-1.3 .7-.2 .7-.8 .7 .4 .7-.8 .7 .1 .7 .7 .7 0 .7-1.1 .7-.8 .7 .3 .7-1.3 .7 0 .7 .3 .7-.3 .7-.3 .7-1.2 .7 .9 .7-.4 .7 1.8 .7 .2 .7 .3 .7 0 .7-.2 .7-.2 .7 .7 .7-.5 .7 .7 .7 1.2 .7-.5 .7 .9 .7-.5 .7 .4 .7-.9 .7 .6 .7 .3 .7 .3 .7-.5 .7 .3 .7 1 .7 .3 .7 0 .7 0 .7 1.6 .7 .6 .7 .1 .7 .3 .7-.5 .7 .1 .7-.2 .7 .6 .7 1.4 .7 .5 .7-.9 .7 .5 .7-.1 .7-.2 .7-.5 .7 .6 .7 1.6 .7 .1 .7 1 .7 1.5 .7-1.1 .7 .3 .7 0 .7 .1 .7-.7 .7 .3 .7-.2 .7 .1 .7-.6 .7 .9 .7-.6 .7 .5 .7-.7 .7 .4 .7-.6 .7 .3 .7 .2 .7-.6 .7 1.1 .7-.7 .7 1.1 .7-.5 .7 .3 .7 .1 .7 0 .7 .5 .7-.4 .7 1.3 .7 .2 .7 1.3 .7 0 .7 .6 .7 .1 .7-.3 .7 .6 .7-.1 .7-.4 .7-.2 .7-.6 .7 0 .7 .6 .7 .1 .7 0 .7 1 .7-.2 .7-.7 .7-1.2 .7 0 .7 .1 .7 .3 .7 .1 .7 .3 .7 .7 .7-.9 .7 .1 .7 .6 .7-.5 .7 .6 .7 0 .7 .7 .7-.7 .7 .3 .7 .3 .7-.2 .7 0 .7 .2 .7 1.5 .7 .3 .7-.2 .7-1.1 .7-.4 .7 .4 .7-.2 .7 .3 .7-.4 .7 .5 .7 .2 .7 .6 .7 .6 .7 .1 .7 .9 .7 1.2 .7 .2 .7-1 .7-.8 .7 .3 .7-.5 .7 .3 .7 .3 .7-.8 .7-.5 .7 0 .7 .7 .7 .2 .7-.3 .7-.4 .7 .3 .7-1 .7-.6 .7-.1 .7 .8 .7 1.1 .7 .1 .7 .9 .7 .3 .7 .8 .7 .3 .7 1 .7 .1 .7 0 .7 .3 .7-.4 .7-.4 .7-.2 .7 .1 .7-.4 .7 .2 .7 .3 .7-.3 .7-.6 .7 .6 .7-.4 .7-1.2 .7 .3 .7-.2 .7 1.3 .7-1 .7 .3 .7-.8 .7 .8 .7 0 .7 .4 .7 .5 .7 .8 .7 .9 .7-.5 .7 .7 .7-.4 .7 .2 .7-.7 .7 .7 .7 .1 .7 .5 .7 .4 .7-1.1 .7 0 .7-.1 .7-.4 .7-.2 .7-.9 .7 .6 .7-.4 .7 .1 .7 .3 .7 .6 .7 .6 .7 1 .7-.4 .7 .2 .7 .1 .7 .7 .7 .3 .7-.7 .7 .6 .7-.5 .7 .5 .7 .6 .7-.2 .7-.7 .7-.1 .7 .3 .7 .6 .7 0 .7 .5" fill="none" stroke="#ffbb78" stroke-width="1.4" stroke-linejoin="round"/>
<path d="M58.5 1118.5l.7 1.7 .7-3.6 .7 4.2 .7-4.2 .7 2.3 .7-.6 .7 2.9 .7 .3 .7-1 .7-2.6 .7 .1 .7 3 .7-1.8 .7 .7 .7 .5 .7-3.1 .7 1.1 .7 3.4 .7-3.7 .7 3.1 .7-4.2 .7-.8 .7 2.9 .7-1.3 .7 1.9 .7 1 .7-4.4 .7 2.8 .7-.8 .7 3.2 .7-.3 .7 .2 .7-.9 .7-2.3 .7 1.6 .7-.4 .7-1.1 .7-.5 .7 2.2 .7 1.5 .7-3.9 .7 .6 .7-1.2 .7 1.3 .7 .1 .7-1.7 .7 3.3 .7-1.8 .7 2.7 .7-3.3 .7 2.9 .7 1.5 .7-28.1 .7-27.6 .7-2.1 .7-2.1 .7-.2 .7-.8 .7 .7 .7-.7 .7 1 .7 0 .7-.2 .7 .5 .7-.9 .7-1 .7-1 .7 0 .7 .7 .7-.5 .7 .5 .7 1.3 .7-.3 .7 .8 .7-.1 .7-.5 .7-.5 .7 .3 .7-.3 .7-.4 .7-.1 .7 .4 .7 1.3 .7 .4 .7 .1 .7 1.1 .7-1 .7 .8 .7-.3 .7-1.2 .7 .3 .7 1.5 .7 .5 .7 .8 .7 1.1 .7-.6 .7-.3 .7 .5 .7 .3 .7 .2 .7-.9 .7 1 .7-.3 .7 1.1 .7-.2 .7 .2 .7 .8 .7 .8 .7 .3 .7 1.8 .7 .3 .7 1.5 .7-.1 .7-.1 .7-.1 .7-1 .7-.3 .7 .7 .7-.3 .7 .2 .7 .6 .7 .4 .7 .7 .7 .3 .7 1 .7 .6 .7 .4 .7 .4 .7 .1 .7 .7 .7 .3 .7-.1 .7 .9 .7-1 .7-.4 .7 0 .7 .5 .7 .4 .7-.7 .7 1 .7 .6 .7 .7 .7 .6 .7 .3 .7 1.1 .7-1 .7-.5 .7-.6 .7-1.6 .7-.4 .7 1.6 .7 1 .7 .7 .7 .5 .7-.1 .7-.6 .7 .8 .7-.8 .7-.2 .7 .2 .7 1 .7-.7 .7 .4 .7-.8 .7 .8 .7 .5 .7 .2 .7-.8 .7 .5 .7 .6 .7 .4 .7-.8 .7 1.1 .7 1 .7 .5 .7 1 .7 .2 .7-.5 .7-1.4 .7 .2 .7-.9 .7-.5 .7 1.5 .7-.4 .7 .4 .7 1.5 .7-.4 .7 1 .7-.4 .7 0 .7 1 .7-.4 .7-.1 .7-.2 .7 0 .7-.5 .7 .7 .7 .5 .7 .5 .7-.2 .7-.5 .7 .2 .7-.1 .7-.9 .7-.1 .7 0 .7 1.4 .7-.7 .7 .6 .7 .1 .7 .4 .7 .5 .7-.2 .7-.4 .7 .8 .7 .1 .7 .7 .7 .9 .7 .1 .7 .1 .7 .4 .7 .1 .7-1.2 .7 .3 .7-.3 .7-.7 .7 1.3 .7-.5 .7 .8 .7-.1 .7 .7 .7 0 .7 .9 .7-1.3 .7 0 .7 .6 .7-.3 .7-.6 .7 .7 .7-.1 .7-.2 .7 1 .7 .8 .7 .3 .7-.2 .7 .8 .7-.5 .7 .4 .7 .9 .7-.5 .7-.8 .7-.3 .7-.5 .7 0 .7-.5 .7 .2 .7 .5 .7 1.2 .7 .4 .7-.7 .7-.1 .7 .4 .7-.4 .7-.2 .7 .3 .7-.2 .7 1 .7 .8 .7 0 .7 0 .7 0 .7 .1 .7-.5 .7 0 .7-1.7 .7 .2 .7-.9 .7-.3 .7 .6 .7 .6 .7 1 .7 2.2 .7-.8 .7-.6 .7 .2 .7 0 .7-1.2 .7 .1 .7 .7 .7-.1 .7-21.2 .7-10 .7-1 .7-2.2 .7-1.1 .7-.4 .7-1.5 .7 .4 .7-.6 .7 .2 .7 0 .7 .4 .7 .1 .7 0 .7 .7 .7 .5 .7 .8 .7-.5 .7 .1 .7 .4 .7 1.4 .7 .1 .7 .7 .7 .6 .7 1 .7 .5 .7 .7 .7 1 .7-.5 .7 .5 .7 .6 .7 .1 .7 .6 .7 .7 .7-.1 .7 1.1 .7 .2 .7 .4 .7-.4 .7 .7 .7 .1 .7-.1 .7 0 .7 1.6 .7 .6 .7 .3 .7 .8 .7 .1 .7-.7 .7 1 .7 .3 .7 0 .7 .9 .7 .2 .7-.5 .7 .9 .7-.1 .7 .8 .7-.1 .7 .1 .7 .6 .7 1.2 .7 .2 .7 1.9 .7-.2 .7 1.2 .7-.7 .7 .9 .7-.4 .7 .5 .7-.8 .7-.5 .7 .5 .7-1.4 .7 .2 .7 .3 .7 .9 .7 .6 .7-.3 .7 .3 .7 .2 .7-1.3 .7 .6 .7-1 .7 .2 .7 1.1 .7 .6 .7 .8 .7 .7 .7-.6 .7 1 .7-.3 .7 1.3 .7-.1 .7 .1 .7 .8 .7 .1 .7-.5 .7 .7 .7-.5 .7 .7 .7 0 .7 0 .7-.3 .7-1.3 .7-.1 .7-.1 .7 0 .7 .2 .7 0 .7 0 .7 .2 .7 .3 .7-.2 .7 .6 .7-.2 .7 .4 .7-.1 .7-.6 .7 .1 .7 .8 .7-.6 .7 .8 .7 .4 .7 .5 .7-.1 .7 1 .7-.6 .7-.1 .7-.5 .7 .1 .7 .6 .7-.2 .7 .5 .7-.1 .7-1 .7 .3 .7-.2 .7 .6 .7 .4 .7 1 .7-.1 .7 1.4 .7 .1 .7-1.1 .7-.6 .7 .1 .7-.3 .7 .2 .7 1.5 .7 .4 .7 .2 .7 .5 .7 .1 .7 0 .7 .8 .7 .7 .7 .7 .7 .3 .7 .4 .7 .6 .7-.2 .7-.7 .7-.7 .7-.1 .7-.2 .7-.8 .7 .7 .7 0 .7 .4 .7 .8 .7-.2 .7 .3 .7 1 .7 .4 .7 .1 .7-.5 .7 .3 .7 .9 .7-.2 .7 .4 .7 .5 .7 .7 .7-.2 .7 .2 .7 0 .7-.7 .7 1 .7-.2 .7-.6 .7-1.9 .7-.7 .7-.5 .7 .4 .7 .2 .7 .2 .7 1.3 .7 .7 .7 .4 .7-1.5 .7-.3 .7 0 .7 .6 .7 .6 .7 .8 .7-.3 .7 1.1 .7-.4 .7 1 .7 .3 .7-.6 .7-.2 .7-1 .7 .6 .7-1.1 .7-.5 .7 .2 .7-.2 .7 1.2 .7-.1 .7-.7 .7-.4 .7-.1 .7 .6 .7-1.1 .7 .2 .7 .8 .7 .1 .7 .7 .7-.1 .7 .4 .7 .7 .7-.2 .7 0 .7 .4 .7-.8 .7 .8 .7 .4 .7-.7 .7-.7 .7 .5 .7 .1 .7-1.3 .7 .2 .7 .7 .7-.1 .7 .7 .7-.8 .7-.1 .7 .3 .7 .6 .7 .9 .7 .4 .7-.2 .7 .2 .7 .4 .7-.3 .7 .4 .7-.2 .7-.5 .7 .9 .7-.3 .7 .9 .7 1 .7 .3 .7-.4 .7 0 .7-1.5 .7 1.2 .7 .1 .7 .1 .7 .2 .7-1.3 .7-.1 .7 1.1 .7 0 .7-.8 .7 .6 .7 .1 .7-.7 .7-1.1 .7 .3 .7 1.1 .7-.5 .7 .2 .7 .3 .7-1.3 .7 0 .7-1 .7 .4 .7 1.3 .7 1 .7 .1 .7 .4 .7 .5 .7-.2 .7-1.1 .7 .7 .7-.1 .7 1.1 .7-.1 .7 .4 .7-.6 .7-.4 .7-2.8 .7-2 .7-1.7 .7-1.7 .7-2 .7-2.3 .7-2.5 .7-.9 .7-.3 .7-1 .7-1.1 .7 .3 .7-.4 .7-1 .7-1.2 .7-.2 .7-1.1 .7 .2 .7 .8 .7-.7 .7-.6 .7 .2 .7-.3 .7-.1 .7-1.3 .7-.3 .7-.2 .7 .3 .7-.1 .7-1.5 .7 .1 .7 .2 .7 1 .7-.1 .7-.1 .7 .5 .7-.3 .7 1 .7-.5 .7 .4 .7 .7 .7 .1 .7 0 .7 1.2 .7 .2 .7 .9 .7 .3 .7-.6 .7-.1 .7-.8 .7 1.3 .7 .6 .7 0 .7 .3 .7-.9 .7 1 .7 .5 .7-.5 .7 .2 .7 1.3 .7-.1 .7 .8 .7-.2 .7 0 .7 .4 .7 .9 .7 .3 .7 1.3 .7-.1 .7-.2 .7-.2 .7-.6 .7-.3 .7 1.1 .7 .7 .7 .5 .7 .7 .7-.1 .7-.6 .7 .8 .7-.6 .7-.7 .7-.5 .7 .5 .7-.3 .7 .6 .7 .2 .7-.7 .7 1.1 .7-.1 .7-.5 .7 .8 .7 0 .7-.4 .7 .4 .7 .4 .7 .5 .7-.2 .7-.1 .7-1 .7 .1 .7-.4 .7 .2 .7 .6 .7-.3 .7 .9 .7 1.6 .7 .9 .7 .3 .7 1.4 .7 .3 .7-.2 .7-.6 .7-.8 .7-.4 .7-.6 .7-.3 .7 1.1 .7 .3 .7-.4 .7 .7 .7-.4 .7 .7 .7-.2 .7-.2 .7-1.3 .7 1 .7-.9 .7 .7 .7 .2 .7-1.2 .7 .7 .7 .8 .7 .5 .7 .5 .7-.3 .7-.6 .7-.4 .7 .2 .7 .2 .7 .3 .7 1 .7 0 .7 .9 .7 .8 .7-.5 .7-.1 .7-1.6 .7 .5 .7-1.4 .7 .6 .7 .1 .7-.6 .7-.4 .7 1.7 .7 .7 .7 .3 .7 .4 .7 1.2 .7 .1 .7-.7 .7 .5 .7 0 .7-.8 .7-.1 .7-.2 .7-.7 .7-.5 .7-.4 .7 .5 .7 1.2 .7 .1 .7 0 .7-.5 .7 .1 .7 .4 .7-.7 .7 .6 .7 .3 .7 .3 .7 .7 .7 .3 .7 .3 .7 1.2 .7 0 .7-.1 .7-.3 .7 .7 .7-.1 .7 .8 .7 0 .7-.4 .7-1 .7 .6 .7-.8 .7 .2 .7-.1 .7-1.5 .7 .7 .7-.7 .7-.5 .7 .2 .7-.2 .7 .9 .7 .6 .7-.3 .7 .6 .7-.9 .7-.1 .7 1.4 .7-.4 .7 1.3 .7 .6 .7-.4 .7 .5 .7-.8 .7-.6 .7 .2 .7 0 .7 1.1 .7 .1 .7 .6 .7-.1 .7-.2 .7-.7 .7-.9 .7 .2 .7-.8 .7 .3 .7-.5 .7 0 .7-.2 .7 .5 .7 1.1 .7-.3 .7 1.2 .7-.3 .7 .4 .7 1.5 .7-.8 .7 1.5 .7 .4 .7-.3 .7 .5 .7-1 .7 .8 .7-.1 .7 0 .7-.5 .7 0 .7 1" fill="none" stroke="#2ca02c" stroke-width="1.4" stroke-linejoin="round"/>
<path d="M58.5 1122.1l.7-.8 .7 .6 .7-.9 .7-2 .7 2.9 .7 1.4 .7-2.1 .7 .5 .7-2.9 .7-.7 .7 2 .7 .9 .7 .8 .7-1.6 .7 .5 .7-2.8 .7-.2 .7 .4 .7 1.2 .7-.4 .7-.6 .7 1.1 .7 0 .7 2.9 .7 .7 .7 .4 .7-1.6 .7-4.3 .7 1.3 .7 4.6 .7-1.8 .7 .9 .7-3.9 .7 .2 .7-.8 .7 2.5 .7-.9 .7 .6 .7-2 .7-.6 .7 2.1 .7 3.3 .7-1.7 .7-.5 .7-3 .7 2.2 .7-.4 .7 1.6 .7-1.4 .7 2.4 .7-3.2 .7 2.8 .7-25.3 .7-26.5 .7-2.9 .7-1.9 .7-1.3 .7-.3 .7 1.5 .7-.1 .7-.3 .7 1.6 .7-.6 .7-1 .7-.7 .7-1.2 .7-.6 .7-.4 .7 .5 .7 1 .7 0 .7 1.6 .7 .2 .7 .6 .7-1.3 .7 .8 .7-.5 .7-.9 .7 1.1 .7-.5 .7-.4 .7 .9 .7 2.1 .7 .6 .7-.1 .7 1.2 .7-1.5 .7 .7 .7-.7 .7-.3 .7 .1 .7 .3 .7 .9 .7 .1 .7 1.3 .7-.7 .7 .6 .7 .1 .7-.1 .7 1.1 .7 .6 .7-.5 .7 .5 .7-.2 .7 .3 .7-.1 .7 1.7 .7 .3 .7 1.1 .7-.2 .7 .3 .7 1.2 .7 .9 .7-.2 .7-.7 .7 .3 .7-1.2 .7 .1 .7 .9 .7 .5 .7 .3 .7-.9 .7 1.4 .7 .4 .7 1 .7 .1 .7 .8 .7 1.4 .7 .3 .7 1.4 .7-.1 .7-.2 .7-.5 .7 .2 .7-.4 .7-.6 .7 1.2 .7-.4 .7 .5 .7-.1 .7 .5 .7-.5 .7 1.9 .7 .4 .7 .2 .7 .1 .7-1.7 .7-.5 .7-1.4 .7-.2 .7 1.6 .7 1.5 .7 .9 .7 1.3 .7-.3 .7-.4 .7-.2 .7 .3 .7-1.2 .7 .8 .7-.1 .7-.9 .7 1 .7-.3 .7-.4 .7 .6 .7-.4 .7 .4 .7-.1 .7 .6 .7-.2 .7-.3 .7 1.5 .7-.2 .7 1 .7 1.1 .7 .2 .7-.9 .7 1 .7 .2 .7-1 .7-.4 .7 .7 .7 .5 .7-.2 .7 1.7 .7-.1 .7-.3 .7 .6 .7-1 .7 1 .7 0 .7-.6 .7-.6 .7 .2 .7-.6 .7 .7 .7-.4 .7 .9 .7 .2 .7-.4 .7-.1 .7-.6 .7 0 .7-.7 .7 .4 .7 .5 .7-.6 .7 .6 .7-.4 .7 .6 .7 .2 .7 .7 .7 .4 .7-.3 .7 1.8 .7 .3 .7 .8 .7 .1 .7-.9 .7 .3 .7-.3 .7-.9 .7 1.8 .7 .2 .7-1.1 .7 .6 .7 .1 .7-.5 .7 .8 .7-1 .7 .5 .7 .4 .7 .7 .7-.4 .7 0 .7 .5 .7 .4 .7-.1 .7-.5 .7 1 .7-.3 .7 .3 .7 .3 .7 1.4 .7-1.1 .7 .9 .7 0 .7-.4 .7 .8 .7-1.2 .7-.5 .7-.6 .7 .3 .7-1.3 .7 .9 .7 .6 .7-.4 .7 1.8 .7-1.1 .7 .3 .7 .7 .7-.8 .7 .6 .7 .2 .7 .3 .7 0 .7 .4 .7 .6 .7 .2 .7-1.2 .7-.2 .7-.1 .7-.5 .7 .8 .7 .1 .7-1.2 .7-.5 .7 .4 .7 1 .7 .7 .7 .6 .7-.1 .7-.4 .7-1.4 .7-1.5 .7 .6 .7-.6 .7 .9 .7 .7 .7-20.3 .7-9.4 .7-1.2 .7-2.5 .7-.6 .7-.8 .7-1.7 .7-.2 .7-.5 .7-.4 .7 0 .7 1 .7 .5 .7 .9 .7 .1 .7 1.1 .7-1 .7-.5 .7 .1 .7 1 .7 .5 .7 2 .7 .5 .7 1.6 .7 .2 .7 .7 .7 1.3 .7-.1 .7 1 .7-.2 .7 .2 .7 .3 .7 .1 .7 .3 .7 1.2 .7-.3 .7 .9 .7 1.4 .7 .1 .7-1.1 .7 1.1 .7-.5 .7 .2 .7 1.9 .7 .2 .7 .1 .7 1.5 .7-1.1 .7 1.3 .7 .6 .7 .5 .7 .1 .7 .2 .7 .3 .7 1.1 .7-.2 .7-.6 .7 1 .7 .3 .7 .6 .7 .1 .7 1.1 .7 .2 .7 .6 .7-.4 .7 .4 .7 1.5 .7-.2 .7 .1 .7 .7 .7-.5 .7-.5 .7 0 .7-1.5 .7 1.4 .7-.5 .7 .3 .7 .8 .7 .3 .7-1 .7-.7 .7-.2 .7-1.2 .7 1.4 .7 0 .7 1.3 .7 .8 .7 .7 .7 .2 .7 .9 .7-.5 .7 .1 .7 0 .7 1.5 .7-.6 .7 .6 .7 .8 .7-1 .7 .1 .7 .5 .7-.3 .7-.8 .7 .2 .7 .2 .7-.6 .7-.6 .7-.3 .7 .9 .7-.8 .7-.3 .7 .3 .7 .8 .7 .7 .7 .4 .7 .8 .7 .1 .7-.3 .7 0 .7-1.1 .7-.7 .7 .8 .7 .5 .7 .2 .7-.6 .7 1.4 .7-.3 .7-.7 .7 .8 .7-.6 .7-.1 .7-.4 .7 1.1 .7 .3 .7 .7 .7-.1 .7-1.4 .7 .9 .7-.6 .7 .2 .7 2.1 .7 1 .7 .8 .7-.1 .7 .4 .7-.4 .7-.6 .7-1.6 .7 .4 .7-.8 .7 1.3 .7-.2 .7 .5 .7 .5 .7-.3 .7 .3 .7-.1 .7 1.3 .7-.5 .7 .7 .7 1.6 .7 .4 .7 .4 .7-1.9 .7-.2 .7-1.1 .7 .7 .7 .9 .7 .8 .7-.9 .7 1.1 .7-.1 .7-.6 .7 .6 .7 .4 .7 .1 .7 .4 .7 .3 .7 1.2 .7 .4 .7 .3 .7 1 .7-.5 .7-.1 .7-1 .7 .4 .7 .7 .7-.9 .7-.2 .7 .3 .7-.5 .7 .3 .7-.6 .7 .2 .7 0 .7-.4 .7 .8 .7-.4 .7-.3 .7-.5 .7 .2 .7 .3 .7-.4 .7 1 .7-.7 .7 .8 .7-.6 .7 2.1 .7-.1 .7-.7 .7 1.5 .7-.4 .7-.6 .7-.6 .7 .1 .7-.6 .7-1.7 .7 .2 .7 .1 .7 0 .7 .4 .7 .8 .7 .3 .7 .4 .7-.1 .7-.4 .7 0 .7-1.4 .7 1.3 .7-.9 .7 .5 .7 .6 .7 1.1 .7 .7 .7-.4 .7 .7 .7-.7 .7 1.2 .7-.1 .7-.6 .7-.4 .7-.4 .7-.8 .7 .1 .7-.1 .7-.7 .7-.1 .7 .4 .7 .1 .7 0 .7 1.1 .7 1.5 .7-.2 .7-.6 .7 .3 .7 .1 .7 .4 .7 .5 .7 .1 .7-.6 .7 .1 .7-.1 .7 .5 .7 .8 .7 .4 .7 .2 .7 .7 .7-.9 .7-.2 .7-.6 .7 .3 .7-.7 .7-.5 .7 .5 .7-1 .7 .9 .7 0 .7-.9 .7 1 .7 .2 .7-.3 .7 .3 .7-.1 .7 .5 .7 .6 .7-.7 .7 0 .7-1.2 .7-.1 .7-1.1 .7 .6 .7 .8 .7 .4 .7 .5 .7 .3 .7-.1 .7 .4 .7-.4 .7-.9 .7 1 .7-.5 .7 .4 .7 1.4 .7-.6 .7-1 .7-1.7 .7-2.4 .7-2.2 .7-1 .7-2.4 .7-2.1 .7-1.9 .7-.6 .7 0 .7-.8 .7-.4 .7-.5 .7 .7 .7-.5 .7-1 .7-1.4 .7-1 .7-.5 .7-.9 .7 .6 .7 .3 .7-.2 .7-.1 .7 .1 .7-.7 .7-1.2 .7-.1 .7 .6 .7-.7 .7-.7 .7 .2 .7-.5 .7 1.6 .7 0 .7 .7 .7 1 .7-1 .7 .4 .7-.6 .7 .7 .7 .5 .7 1.4 .7 0 .7-.8 .7-.3 .7-.2 .7 .5 .7 .4 .7 .5 .7-.5 .7-.4 .7-.1 .7 1 .7 .8 .7 1 .7-.2 .7 .2 .7 .3 .7 .7 .7 .6 .7-.2 .7 .3 .7 .3 .7 .8 .7 0 .7 .8 .7 0 .7 .4 .7-1 .7 .2 .7-.2 .7 0 .7 .2 .7 .7 .7 1 .7 1.5 .7 .9 .7-.7 .7-.3 .7-.2 .7 .4 .7-1.2 .7-.8 .7 .2 .7-.1 .7-.1 .7 .7 .7 .5 .7 .4 .7-1.4 .7 .3 .7 .4 .7 1 .7-.4 .7 .4 .7 .6 .7-.3 .7 .4 .7-.8 .7 .1 .7 .6 .7-.6 .7 .2 .7-.6 .7 .4 .7 1.7 .7 .2 .7 .5 .7 1 .7 .5 .7 .1 .7-.3 .7 1.4 .7-.7 .7-.6 .7-1 .7 .5 .7-1.2 .7 .3 .7 .8 .7-.9 .7 .3 .7-.5 .7 .1 .7-.9 .7 1.3 .7-.6 .7 .9 .7 0 .7 0 .7-1 .7 .7 .7 .7 .7 1.1 .7-.3 .7 .6 .7 0 .7-.6 .7-.8 .7 1.2 .7-.8 .7 1.2 .7 .3 .7 .8 .7 1.1 .7 0 .7-.4 .7-.5 .7-1.6 .7 .3 .7-.2 .7 0 .7-.4 .7 .4 .7-.6 .7 1.8 .7 .7 .7 0 .7 .7 .7-1 .7 .8 .7-.2 .7-1.2 .7 .6 .7-.4 .7 1.1 .7-.8 .7-.3 .7-.3 .7 .9 .7-.1 .7 1.1 .7 .6 .7-.3 .7-1.3 .7-1.1 .7 .3 .7 0 .7 .6 .7 .5 .7 1.4 .7-.2 .7 .3 .7 .6 .7 1 .7 .4 .7 .4 .7-.1 .7-.1 .7-.9 .7 .3 .7 .5 .7 0 .7-1.2 .7 .2 .7-.7 .7-.2 .7-1 .7 .1 .7-.5 .7 .1 .7 .1 .7-.4 .7 0 .7-.1 .7 .8 .7 .2 .7-.7 .7 .5 .7 .4 .7 1.7 .7 .2 .7 .9 .7-.4 .7-.8 .7-.2 .7-.7 .7-.2 .7 .6 .7 0 .7-.2 .7 .8 .7 1.2 .7-.4 .7 .1 .7-.4 .7-1.4 .7 .1 .7 .5 .7-.6 .7-.1 .7 .2 .7-.3 .7 .1 .7 .8 .7 1 .7 .9 .7-.4 .7 .7 .7 1.3 .7 .7 .7-.1 .7 0 .7-.5 .7 .7 .7-1 .7 1 .7 .1 .7-.1 .7 0 .7-1.1" fill="none" stroke="#98df8a" stroke-width="1.4" stroke-linejoin="round"/>
<path d="M58.5 1123.3l.7-1.9 .7-2.2 .7 1.9 .7 3.5 .7-5.7 .7 1.5 .7-.6 .7 2.5 .7-2.4 .7 3.9 .7-2.9 .7 3.5 .7-5 .7 .7 .7-1.2 .7 .1 .7 .8 .7 2.4 .7-.2 .7 1.1 .7-3 .7 2.2 .7 2.3 .7-4 .7-.5 .7-.3 .7 4.7 .7-2 .7-.8 .7 0 .7-2.5 .7 .9 .7 2.8 .7-2.7 .7 1.6 .7 2.3 .7-4.3 .7 1.7 .7 1.8 .7-.1 .7 .5 .7 .5 .7-2 .7-2.1 .7 1.7 .7 2.5 .7-4.4 .7 .6 .7-.6 .7 4.1 .7-4.7 .7 .3 .7-21.4 .7-24.6 .7-4.5 .7-1.3 .7-.3 .7-.8 .7-.3 .7 1.4 .7 .1 .7 .7 .7-.6 .7-1.9 .7-.4 .7-.4 .7 .1 .7-.4 .7 .8 .7 .8 .7 1 .7 1 .7 .4 .7 .3 .7-1.5 .7 .3 .7 .2 .7-1.2 .7-.5 .7 .9 .7 .3 .7-.1 .7 1.1 .7 1.5 .7 .7 .7-.6 .7-.7 .7 0 .7 .9 .7-.5 .7 .4 .7 1.8 .7-.5 .7 .3 .7 .4 .7 .1 .7 1.6 .7-.4 .7 .9 .7-.4 .7-.3 .7 .8 .7 .1 .7-.1 .7 .3 .7 1.5 .7 .8 .7 .6 .7-.5 .7 1.2 .7 0 .7 1.6 .7 .9 .7-1.7 .7 .1 .7 .7 .7-.3 .7-.3 .7-.9 .7 1.1 .7 .4 .7-.1 .7 .5 .7 1 .7-.5 .7 1.4 .7 1.3 .7-.1 .7 .2 .7 0 .7 1.6 .7-.5 .7 .2 .7-.2 .7-.7 .7 0 .7 .2 .7 0 .7-.3 .7 .3 .7 .3 .7-.4 .7 1.5 .7 .7 .7 .7 .7-.4 .7 .2 .7-2 .7-.6 .7 .8 .7 .4 .7 2.1 .7 1.1 .7-.2 .7-.6 .7-.2 .7-.1 .7-.7 .7 .3 .7-.8 .7 .6 .7 .6 .7 .4 .7-.7 .7-.3 .7 .6 .7-.4 .7 .3 .7 .2 .7 .9 .7-.5 .7 .1 .7-.2 .7 .7 .7 1.6 .7 .9 .7 1.5 .7-1.5 .7-1.3 .7-.9 .7 .2 .7-1 .7 1.1 .7 1.3 .7 .1 .7 1 .7-.1 .7 .8 .7 .5 .7-.8 .7 .6 .7-1.3 .7 0 .7 0 .7 1 .7-.5 .7 .9 .7 .9 .7-.2 .7 0 .7-.1 .7-.6 .7-1 .7-.9 .7-.9 .7 1.7 .7-.1 .7 .5 .7-.4 .7-.9 .7 .3 .7 .6 .7-.3 .7 1.7 .7 .1 .7 .6 .7 1 .7-.6 .7 0 .7 .3 .7-.9 .7 .2 .7 .1 .7 1.5 .7-.3 .7-.1 .7-.6 .7-.6 .7 .4 .7 1.3 .7-.2 .7 .3 .7-.4 .7 .7 .7-1.2 .7 1.3 .7 .1 .7 .4 .7 .6 .7-1.2 .7-.3 .7 .1 .7 .8 .7 .8 .7 .3 .7-.5 .7 1.2 .7-.9 .7 1.2 .7-.7 .7-.1 .7 .1 .7-1.1 .7 .4 .7-.3 .7 .5 .7-.2 .7 .9 .7 .1 .7-.3 .7 .2 .7-.7 .7 .5 .7-.3 .7 .2 .7 1.2 .7 .7 .7-.6 .7-.6 .7 .6 .7-.5 .7 .9 .7 .3 .7-1.3 .7-.4 .7-.3 .7 0 .7 .2 .7 1.2 .7 .2 .7 1.3 .7-.4 .7-.4 .7 .3 .7-1 .7-1.4 .7-1.1 .7 .5 .7 .5 .7-.5 .7-19.2 .7-9.2 .7-2.7 .7-1.7 .7-1.4 .7-.2 .7-.8 .7-.7 .7-.7 .7-.3 .7 1.5 .7 0 .7-.4 .7 1 .7 1.8 .7-.1 .7 1 .7 .3 .7-1.4 .7 .2 .7 .3 .7 2 .7 .9 .7 1.3 .7 .3 .7 1.1 .7 .5 .7 .9 .7 .1 .7-1.1 .7 .2 .7 1 .7 .2 .7 .9 .7 .8 .7 1.8 .7-.4 .7 1.8 .7-.5 .7 .4 .7-.4 .7-.5 .7 .6 .7 1.5 .7 .4 .7 .4 .7 .2 .7 .7 .7-.5 .7 .9 .7 .3 .7 .6 .7 1.3 .7-.6 .7 .8 .7 .5 .7-.4 .7 1 .7-.5 .7-.4 .7 .9 .7 .7 .7 .4 .7-.4 .7 1.7 .7-.3 .7 1.2 .7 .3 .7 .5 .7-.3 .7 .4 .7-1.8 .7 .3 .7-.7 .7 .1 .7-.1 .7 1.8 .7-.6 .7 1 .7-.5 .7-.3 .7-1.3 .7-.5 .7 .6 .7 .2 .7 .2 .7 1.1 .7 1.7 .7-.8 .7 .6 .7 .4 .7 .1 .7-.1 .7 .7 .7 .8 .7-.3 .7 .4 .7 .5 .7 .9 .7-1 .7 .6 .7-1.5 .7-1 .7 .6 .7-1 .7 .3 .7-.9 .7 .2 .7 .5 .7 .5 .7 .2 .7 1.3 .7 .6 .7-.9 .7 1.4 .7 .1 .7-1.8 .7-.1 .7-.1 .7 .3 .7-.9 .7 .4 .7 1.3 .7-.5 .7 1.4 .7-1 .7 .7 .7-1.1 .7 0 .7 .8 .7 .1 .7-.3 .7-.9 .7 .3 .7 .9 .7 .5 .7 .9 .7-.3 .7 .2 .7 .7 .7 .6 .7 1 .7 0 .7-.2 .7-.6 .7-1.2 .7 .1 .7-.2 .7 .6 .7-.1 .7 1.8 .7-.9 .7 .3 .7-.5 .7 .6 .7 .6 .7 .1 .7 .8 .7 .3 .7 1 .7-.2 .7-.9 .7-.7 .7 .8 .7-1.1 .7-.2 .7 .9 .7 .8 .7-.2 .7 .2 .7 .7 .7-.2 .7 .3 .7-.2 .7 .9 .7 .8 .7 .4 .7 1.1 .7-.2 .7-.6 .7-.5 .7-.4 .7 .5 .7-.7 .7 .2 .7 1.8 .7-1 .7 .4 .7 .9 .7-.8 .7-.1 .7-1.5 .7-.8 .7 .3 .7 .5 .7-.9 .7 .2 .7 .5 .7-.4 .7-.1 .7-.3 .7 .4 .7 .4 .7 .9 .7 1.4 .7-.8 .7 1.1 .7 0 .7-.7 .7 .8 .7-.7 .7 1.2 .7-1.9 .7 0 .7-.9 .7-.2 .7-.7 .7 .3 .7-.8 .7 1 .7-.6 .7-.5 .7 1.5 .7-1.3 .7 .9 .7-.3 .7 .2 .7 .8 .7-.3 .7 1 .7 .2 .7 .1 .7 .2 .7-.8 .7 1.7 .7-.3 .7 .4 .7-.5 .7 .7 .7-.4 .7 .2 .7-1 .7-.2 .7-1.3 .7-.1 .7 .5 .7-.6 .7-.3 .7 .6 .7 1.2 .7 .4 .7-.1 .7 .4 .7 .5 .7-.3 .7 1.2 .7-1.3 .7 0 .7 1.1 .7-.5 .7 .4 .7-.4 .7 .6 .7 1 .7 .5 .7 .6 .7 .3 .7-.4 .7-1.1 .7-1.3 .7-.4 .7 1.2 .7-1.3 .7 .7 .7-.8 .7 .4 .7-.5 .7 1.2 .7-.5 .7 .8 .7 .2 .7-.9 .7 .9 .7 .6 .7-1 .7-1.2 .7 .1 .7-1 .7-.4 .7 2 .7-.3 .7 1.1 .7 1 .7 .2 .7-.4 .7 .3 .7 .4 .7 .3 .7 .4 .7-1 .7-.6 .7 1.2 .7-.5 .7-.7 .7-2.5 .7-3.2 .7-.6 .7-1.8 .7-1.3 .7-2.9 .7-2.1 .7-.3 .7-.3 .7 .7 .7-1.2 .7 .3 .7-.8 .7-1 .7-.6 .7-.1 .7-.4 .7 .2 .7-.2 .7-.3 .7 .6 .7-.4 .7-.5 .7 .3 .7-1.1 .7-.9 .7-.5 .7 .2 .7-1.2 .7-.6 .7 .9 .7 .7 .7 .1 .7 .2 .7 .7 .7 .1 .7 .7 .7-.5 .7 1.3 .7-.4 .7 .6 .7 .4 .7 .5 .7-.3 .7 .7 .7-.5 .7 .7 .7-.9 .7-.2 .7 1.2 .7-.8 .7-.5 .7 .3 .7 1.2 .7 .2 .7 .4 .7-.6 .7 .4 .7 .1 .7 .7 .7 .9 .7 .6 .7 1.1 .7-.8 .7 .1 .7 .9 .7 .1 .7 .5 .7-.4 .7 .3 .7-.9 .7 .3 .7-.8 .7 1.6 .7 1 .7 1.3 .7-.1 .7 1 .7 .4 .7-.2 .7-1.4 .7 .3 .7-1.1 .7-.1 .7-.6 .7 .3 .7-1.1 .7 1.9 .7 0 .7 1.4 .7-.3 .7 .4 .7-1.6 .7 .1 .7-.1 .7 .5 .7 .1 .7-.5 .7 1.3 .7 .5 .7 .3 .7-.9 .7 .2 .7 .5 .7-.3 .7 .7 .7 .4 .7 1.7 .7 .5 .7-.5 .7 .2 .7 .4 .7-.3 .7 .7 .7-.7 .7 .2 .7-.7 .7-1.1 .7 1 .7 0 .7 0 .7-1.2 .7 1 .7-.5 .7-.9 .7 1 .7-.3 .7-.2 .7 .5 .7-.2 .7-.5 .7 .8 .7 .9 .7 0 .7 .3 .7-.3 .7 .4 .7 .1 .7 .3 .7-.7 .7 .5 .7-.3 .7 1.3 .7 1 .7 .6 .7 .6 .7-1.3 .7-2.4 .7-.9 .7 .5 .7 .4 .7 .3 .7-.5 .7 .9 .7-.8 .7 1 .7 1.8 .7 .7 .7 2.3 .7-.9 .7-.5 .7-2 .7-.4 .7-.1 .7-.5 .7 .2 .7-.6 .7 .8 .7 .6 .7-.3 .7 .3 .7-.1 .7 1.1 .7-1.6 .7 .3 .7-1.1 .7-.5 .7 .9 .7-.2 .7 1.6 .7 0 .7 .4 .7 .9 .7 .7 .7 .2 .7 .6 .7 1.1 .7-1.1 .7-.1 .7 .4 .7-.7 .7-.1 .7-.5 .7 .2 .7-1.1 .7 .4 .7 .3 .7-1.1 .7 1.2 .7-1 .7 .9 .7-.7 .7 1.2 .7-.9 .7 .7 .7 0 .7-1.4 .7 .4 .7-.9 .7 .7 .7 1.1 .7-.2 .7 .9 .7 1.6 .7-.9 .7 .6 .7-1 .7-.2 .7-.2 .7 1.3 .7 .7 .7-.2 .7-.4 .7-.2 .7 .1 .7-.9 .7 0 .7-.8 .7-.9 .7 .8 .7-.8 .7 .6 .7-.2 .7 .3 .7 .6 .7 .7 .7 .6 .7 .9 .7-.5 .7 0 .7 1.3 .7-1.1 .7 .8 .7 .9 .7 .3 .7-1.1 .7 .7 .7 .6 .7-.3 .7 .1 .7 .1" fill="none" stroke="#d62728" stroke-width="1.4" stroke-linejoin="round"/>
<path d="M58.5 1116.3l.7-.5 .7 .6 .7 2.2 .7-1.5 .7 .9 .7 .5 .7-2.9 .7 2.2 .7-3.7 .7 2.3 .7-.1 .7-.5 .7-1.3 .7 3.8 .7-2.7 .7 .3 .7-1.7 .7 4.5 .7 0 .7-4.1 .7 1.2 .7-.6 .7-.6 .7 3.9 .7-1.3 .7 1.8 .7-1.4 .7-2.1 .7 2.7 .7-4.1 .7 2.9 .7-.4 .7-2.6 .7 1.2 .7 1.4 .7-2.4 .7-.2 .7 3.2 .7 2.2 .7-2.4 .7 2.5 .7-3.1 .7-2.3 .7 .4 .7 1.7 .7 2.5 .7-.3 .7 1 .7-2.4 .7 1 .7-1.2 .7-2.3 .7-15.9 .7-24.5 .7-3.5 .7-2.2 .7-1.5 .7 0 .7 1 .7 .3 .7 1 .7 2 .7 .2 .7-1.4 .7-.3 .7-2.2 .7 .4 .7-.6 .7 1.1 .7 .4 .7 .4 .7 1.3 .7-.1 .7 0 .7 0 .7 .2 .7-1.7 .7 1 .7-1 .7 1.4 .7-.5 .7 .1 .7 1.7 .7 1.7 .7 .7 .7 0 .7-1.3 .7-.2 .7 .1 .7-.2 .7 1.3 .7-.3 .7 .7 .7 1.3 .7 .6 .7 .3 .7-1.7 .7 1.5 .7-1.1 .7 .5 .7 1.1 .7 .9 .7-1.1 .7 .6 .7 1.5 .7 .6 .7-.1 .7 .5 .7 1.7 .7-.1 .7 1.2 .7 .3 .7 1.1 .7-.1 .7-.4 .7-.3 .7-1.2 .7-1.2 .7 .5 .7 .5 .7 .6 .7 .8 .7 1.9 .7 .1 .7 .5 .7 .3 .7 0 .7 1.6 .7 .4 .7 .8 .7 .1 .7 0 .7-1.2 .7 .9 .7-.8 .7-.6 .7-.8 .7 .5 .7-.6 .7-.1 .7 1.7 .7 1.1 .7 1.3 .7 1.2 .7-.3 .7-.4 .7-1.9 .7 0 .7-.7 .7-1 .7 0 .7 1.9 .7 .1 .7 1.2 .7 1.2 .7-.6 .7-.1 .7-.3 .7-.6 .7 .4 .7-.6 .7 0 .7 .4 .7 .7 .7-.7 .7-.1 .7 .3 .7 .3 .7-.1 .7 .9 .7 .4 .7 .9 .7-1.3 .7 .8 .7 .3 .7 .8 .7 1.3 .7-1.7 .7 .1 .7-.6 .7 .2 .7-.6 .7 1.3 .7 .3 .7 .8 .7 .4 .7-.8 .7 .2 .7 1.6 .7-1.3 .7-.2 .7 .9 .7 0 .7-.8 .7 .1 .7-.1 .7 .2 .7 0 .7-.1 .7 1.2 .7-.9 .7 .7 .7 .1 .7-1.9 .7 1.2 .7 0 .7-.8 .7 .5 .7-.3 .7 1.3 .7-.5 .7 .7 .7-.6 .7 1.3 .7-.7 .7 1.5 .7-1.1 .7 .7 .7 .5 .7-.5 .7 .7 .7-1.1 .7 1.2 .7-.9 .7 .5 .7-1.3 .7 .4 .7 .4 .7 1.1 .7 .3 .7-.7 .7 .2 .7-.1 .7-.6 .7 .1 .7 1.2 .7-1 .7 1.4 .7-.6 .7-.3 .7 .4 .7 .4 .7 1.6 .7 0 .7 1.3 .7 0 .7 .3 .7-.9 .7 1.1 .7-1.2 .7-.2 .7 .2 .7-.7 .7-1.5 .7-.8 .7 .2 .7 .7 .7 1 .7-.7 .7-.4 .7 .8 .7-.5 .7 .3 .7 .5 .7 .3 .7 1.2 .7 1.2 .7-.6 .7 0 .7-.4 .7-.4 .7-.2 .7 .9 .7-1.3 .7 .1 .7-.1 .7-2 .7 1.6 .7 .4 .7 1.5 .7-.2 .7 .9 .7-.7 .7 .1 .7-2.2 .7-.9 .7-.5 .7 1.2 .7 0 .7-.5 .7-19.6 .7-9.8 .7-.9 .7-1.3 .7-2.6 .7-.9 .7-1.2 .7 .6 .7 0 .7 .1 .7 .6 .7 1.1 .7-.2 .7-.1 .7 1.1 .7-.7 .7 1.3 .7-1.3 .7 1.4 .7 1.2 .7 1.1 .7-.3 .7 2.1 .7 .2 .7 1.1 .7-.9 .7 1.1 .7 1.5 .7-.5 .7 2 .7 .1 .7 .2 .7-.1 .7 1.3 .7-.1 .7 .5 .7 .4 .7 .6 .7 .4 .7-.7 .7 .5 .7-1 .7 1 .7 2.1 .7 .7 .7-.3 .7 1.3 .7-.5 .7 1.4 .7-.2 .7 .2 .7-.4 .7 1.2 .7 .1 .7-.1 .7 .4 .7 1.4 .7 0 .7-.3 .7 .3 .7-.2 .7 .9 .7-.2 .7 1.8 .7-.5 .7 1.2 .7 .2 .7 1.6 .7-.3 .7-.1 .7-.1 .7 0 .7 .5 .7-.7 .7 1.4 .7-.2 .7-1.2 .7-.4 .7-.1 .7 .4 .7-.6 .7 0 .7-.6 .7 .8 .7-.7 .7 2 .7 .9 .7 1.3 .7-.3 .7 0 .7-.1 .7 .4 .7-.5 .7-.2 .7 .9 .7 1.9 .7-1.1 .7 1.2 .7 .5 .7-1 .7-.1 .7-.2 .7-1.5 .7 .2 .7 .3 .7-1.3 .7-.6 .7 1 .7-.1 .7-.4 .7 .4 .7-.2 .7 1.1 .7 .9 .7-.4 .7 .8 .7-.5 .7-.6 .7 .1 .7-1.5 .7 .5 .7 1 .7 .3 .7 .7 .7-.6 .7-.3 .7 .4 .7-.5 .7-.4 .7 1.9 .7-.1 .7 0 .7 .2 .7 .1 .7-.1 .7-.9 .7-.1 .7 .1 .7 1.9 .7-.6 .7 1 .7 2 .7-.4 .7 .1 .7-1.6 .7-.9 .7 0 .7 .1 .7-.9 .7 1.6 .7-.2 .7 .1 .7-.3 .7-.2 .7 1.1 .7 1 .7-.1 .7 .8 .7 .9 .7-.5 .7 .4 .7 .5 .7-.2 .7-.5 .7-1.4 .7-.2 .7 .9 .7-1.3 .7 1.9 .7-.1 .7 1 .7-1.2 .7 .6 .7-.3 .7 .6 .7 1.2 .7-.4 .7 1.1 .7 1.2 .7 0 .7 0 .7-.2 .7 1.2 .7 .1 .7-1.1 .7 .2 .7 1.2 .7-.9 .7-.2 .7-.7 .7-.6 .7-2.5 .7 .6 .7-.5 .7 1.7 .7-.7 .7 .9 .7-.2 .7 .1 .7 .4 .7-1.6 .7 1.2 .7-.4 .7 1.5 .7 .4 .7 .8 .7 .4 .7 .4 .7-.7 .7 .9 .7 0 .7-.5 .7-1.9 .7 .4 .7-.4 .7-.4 .7-1.3 .7 .5 .7-.6 .7 1 .7 .1 .7-1.1 .7 .2 .7 .2 .7 1 .7-.2 .7 .6 .7-1.4 .7 0 .7 .2 .7 .6 .7 0 .7 0 .7 1.2 .7 .1 .7 .3 .7 .3 .7-.3 .7 0 .7-.9 .7 0 .7 .1 .7-.8 .7 .3 .7 .3 .7-.7 .7-1.5 .7 .2 .7 2.2 .7-.8 .7 1.7 .7-.7 .7 0 .7-.9 .7 1 .7-.6 .7-.5 .7 .2 .7 .6 .7 .4 .7 1.4 .7 .8 .7-.8 .7 1.6 .7 .9 .7-1.1 .7 1.4 .7-.2 .7-1.4 .7 0 .7-.8 .7-.2 .7-1 .7 .2 .7-.3 .7 .1 .7 1.3 .7-.4 .7 .9 .7 .2 .7-.5 .7-.2 .7 .3 .7-.4 .7 1.1 .7-.7 .7-1.2 .7-1.2 .7-1.2 .7 .2 .7 1.2 .7 .3 .7 1.3 .7 .3 .7 .9 .7-.8 .7 .4 .7 .3 .7 .8 .7 0 .7 .3 .7-.7 .7 1.1 .7-2 .7-2.7 .7-1.3 .7-1.2 .7-2.7 .7-1.1 .7-1.9 .7-1.2 .7-.5 .7-.9 .7-.5 .7-.9 .7-.2 .7 .7 .7-.6 .7-1.2 .7-.4 .7-.1 .7-.5 .7 .5 .7-.2 .7 .2 .7 1 .7-2 .7-.2 .7-1.6 .7-.6 .7-.5 .7 1.5 .7-1.2 .7 1.2 .7-1.1 .7 1.4 .7 .2 .7-1.3 .7 0 .7 .2 .7 .1 .7 1.9 .7-.8 .7 .2 .7 1.5 .7 1.3 .7-.5 .7-.2 .7 1 .7-.1 .7-1.1 .7 .9 .7-.3 .7 .3 .7 .2 .7-.7 .7 1.1 .7 0 .7 .5 .7 .1 .7 0 .7 1.9 .7-.8 .7 1.1 .7-.1 .7-.6 .7-.1 .7-.3 .7 .3 .7 1.4 .7 .2 .7-.1 .7 0 .7-.1 .7-.1 .7 .1 .7 1.4 .7 1 .7 1.4 .7-.3 .7 1.2 .7-.8 .7 1.4 .7-.4 .7-1 .7 .1 .7 .6 .7-.6 .7-.9 .7-1.4 .7 .3 .7-.8 .7 1.2 .7-.9 .7 .5 .7 .8 .7-.3 .7 1.4 .7-.8 .7-.3 .7 .6 .7 .8 .7 .2 .7 .4 .7-.2 .7 .3 .7-.7 .7-1.9 .7 2 .7-.5 .7 1.1 .7 1.1 .7 1.5 .7 .5 .7 .1 .7 1 .7-.9 .7-.2 .7-.7 .7 .3 .7-.9 .7 .3 .7-1.2 .7-.2 .7 1.3 .7-.1 .7 .3 .7-1.9 .7 .9 .7-1.2 .7-.9 .7 1 .7-.6 .7 1.6 .7-.2 .7 .2 .7 .8 .7-.6 .7-1 .7 .9 .7-.3 .7 .3 .7-.5 .7 .9 .7 1 .7 .8 .7 1.6 .7-.9 .7 1.7 .7-.6 .7-1.4 .7-.8 .7 .3 .7-.6 .7-1.1 .7 .4 .7-.8 .7 .4 .7 1.1 .7 .7 .7 1.4 .7 .1 .7 1.7 .7-1.1 .7-.6 .7 .9 .7-1.6 .7-.4 .7 .6 .7 0 .7-1.2 .7-.7 .7 .6 .7 .2 .7 1.6 .7 .3 .7 .2 .7-1.2 .7 .1 .7-.8 .7-1.2 .7-.2 .7 1.7 .7 .8 .7-.4 .7 2 .7 1.1 .7-.6 .7-.4 .7 1.5 .7-1 .7 1 .7 0 .7 .3 .7-1.4 .7-.3 .7 0 .7 .8 .7-.7 .7-.6 .7-.2 .7 .4 .7-.9 .7 .3 .7 .4 .7 .3 .7-1.5 .7 .9 .7-.5 .7-.3 .7 0 .7-.3 .7-.6 .7 1.4 .7-.4 .7 .7 .7 1.2 .7-.3 .7 1.6 .7-1 .7-.2 .7 1.1 .7 .1 .7-.3 .7 1.9 .7-.3 .7 .3 .7-1.3 .7 .4 .7-1.5 .7-.2 .7-1.1 .7-.3 .7 1 .7-.1 .7 0 .7 1.1 .7 .5 .7 .8 .7 .4 .7 0 .7 .9 .7 .4 .7-.8 .7 .2 .7-1.2 .7 1.2 .7-1.4 .7-.1 .7 .7 .7 1 .7-1.1 .7 1.2 .7-.2 .7 .8" fill="none" stroke="#ff9896" stroke-width="1.4" stroke-linejoin="round"/>
<path d="M58.5 1117.9l.7 2.1 .7-4 .7-1.2 .7 3 .7 .5 .7-2.8 .7 3.4 .7-.4 .7 1.3 .7-3 .7-1.6 .7 1 .7 0 .7 .6 .7 1.9 .7-2.3 .7 4.3 .7-4.9 .7 4.2 .7-3.7 .7 4 .7-4.1 .7 1.9 .7-1.8 .7 2.8 .7-.6 .7 .7 .7-2 .7-1.4 .7 .9 .7 3.2 .7-2.1 .7-1.9 .7-.6 .7 2.6 .7 1.9 .7-.9 .7 .6 .7-4.3 .7 2.2 .7-.8 .7-.4 .7 4.3 .7-.6 .7-3 .7 3.8 .7-4.6 .7 3.7 .7-2.2 .7-.2 .7 3.3 .7-1.1 .7-20.3 .7-23.4 .7-3.9 .7-2 .7-.7 .7-.3 .7-.4 .7-.4 .7 .4 .7 3 .7-.1 .7 .1 .7-1.5 .7 .1 .7 0 .7-.6 .7 .1 .7 .1 .7-.6 .7 1.2 .7 .7 .7 1.6 .7 .7 .7 .3 .7-.5 .7-.3 .7-1.6 .7-.8 .7 1 .7 .3 .7 2.1 .7 1.8 .7-.9 .7 1.4 .7-1.6 .7-.1 .7-.5 .7 .7 .7 .3 .7 1.4 .7 .6 .7 1.2 .7 .6 .7-.6 .7 .1 .7 .1 .7-.9 .7 .1 .7 .9 .7 .4 .7-.8 .7 1.4 .7-.5 .7 1.2 .7 1.7 .7 .6 .7-.2 .7 .5 .7-.4 .7 .5 .7 1.9 .7-1.5 .7 .9 .7-1.6 .7-.2 .7 1.1 .7-.9 .7 1.4 .7-1.5 .7 1 .7 .6 .7 .4 .7 1 .7 1.9 .7-.3 .7 .8 .7 1.3 .7 .1 .7 .1 .7-.2 .7-.3 .7-.7 .7 .4 .7 0 .7 .2 .7-1.5 .7-.6 .7 .6 .7 1.9 .7 .6 .7 .8 .7 .8 .7-.6 .7-.9 .7 .5 .7-1.7 .7-.5 .7-1 .7 1.4 .7 3.4 .7-.4 .7 2.3 .7-1.8 .7 .3 .7-.8 .7-.9 .7 .2 .7 1.3 .7-.8 .7 .3 .7-1.5 .7 1.9 .7-.9 .7 .2 .7-.3 .7-.4 .7 .4 .7 1.3 .7 .7 .7-.4 .7 .8 .7-.3 .7 .6 .7-.3 .7 1.7 .7-.6 .7-.4 .7-.4 .7-1.9 .7 1.1 .7-.6 .7 2 .7-.4 .7 2.1 .7-.7 .7-.1 .7 2.2 .7-.7 .7-.1 .7 .1 .7-.9 .7 .1 .7-1.5 .7 1.6 .7-1.7 .7 1.5 .7 1.1 .7-.8 .7 .5 .7-1 .7-.2 .7-1.6 .7 7.2 .7-6.4 .7 1 .7 1.3 .7-.4 .7 1 .7-.6 .7-.5 .7 .5 .7 1.5 .7 .7 .7-.9 .7 1.7 .7 .5 .7 0 .7 5 .7-6.5 .7-.7 .7-.5 .7 .6 .7 .6 .7-1.1 .7 1.4 .7 .2 .7 .4 .7 .5 .7 .7 .7 .3 .7-.8 .7 0 .7-1.1 .7 .5 .7 .6 .7-.2 .7-.6 .7-.7 .7-.5 .7 2 .7 0 .7 .5 .7 1.4 .7 .1 .7 0 .7-.3 .7 .7 .7 1.1 .7-1.4 .7-.8 .7 0 .7-2.4 .7 .6 .7 .6 .7 .3 .7-.5 .7 1.5 .7 .6 .7-.3 .7 .5 .7-1.4 .7 1.6 .7-.2 .7-1 .7 1.7 .7-1.5 .7-.4 .7 1.4 .7-1 .7 .8 .7-1.3 .7-.7 .7 0 .7 .1 .7-.7 .7 1.8 .7-.7 .7 1.7 .7 .5 .7 1.2 .7-1.3 .7-1.6 .7-1.1 .7-.5 .7-.7 .7 .8 .7-.2 .7 .4 .7-19.7 .7-8.5 .7-1.6 .7-2.9 .7-1.3 .7-.4 .7-1.1 .7 0 .7-1.4 .7 1.6 .7-.8 .7 .4 .7 1.9 .7 .1 .7 0 .7 .7 .7 .1 .7-1.3 .7 .8 .7-.1 .7 1.1 .7 2.2 .7 1.3 .7 .3 .7 .4 .7 2.1 .7 1.3 .7 0 .7 1.3 .7-.1 .7-1 .7 .2 .7 .6 .7-.9 .7 1.5 .7 2.3 .7-.3 .7 .8 .7 1.4 .7-.7 .7-1.6 .7-.2 .7 1.1 .7 1.5 .7 1.3 .7-.6 .7 1 .7-.7 .7 1.3 .7-.3 .7 .6 .7 .1 .7 .3 .7 1.6 .7-.3 .7 1.3 .7 .4 .7-1.5 .7 1.3 .7 .8 .7-.1 .7 1 .7-.3 .7 1.8 .7-.4 .7 1.4 .7-.8 .7 .1 .7-.1 .7 .4 .7-.3 .7 .1 .7 .8 .7-.9 .7-1.7 .7 2.5 .7-.4 .7 1.6 .7 1.4 .7-1.1 .7-1.3 .7-.1 .7-1.9 .7-.9 .7 2 .7 .1 .7 .5 .7 1.5 .7-.4 .7 .7 .7 .4 .7-.5 .7 1.1 .7-.3 .7 .7 .7-.9 .7 1.8 .7 .2 .7-1.6 .7 .2 .7 1.4 .7 .5 .7-1.7 .7-.3 .7-.8 .7 .4 .7-.4 .7 .3 .7-.3 .7 1.5 .7 1.1 .7-.7 .7 1.4 .7 .4 .7-1.2 .7-.7 .7 .1 .7-.6 .7 .3 .7-1.5 .7 1.5 .7 .1 .7 1.6 .7 .2 .7 .7 .7-1.5 .7 .2 .7-.6 .7-.7 .7 1.2 .7-.9 .7-.6 .7 .2 .7 1.3 .7 3 .7-4.3 .7 .1 .7-1.4 .7 .6 .7 1.2 .7 1.5 .7 1.1 .7 8.4 .7-6.8 .7-.9 .7-1.4 .7-.3 .7 .7 .7 0 .7-.8 .7 .4 .7 0 .7 1.9 .7-.1 .7-.8 .7 1 .7-1.7 .7 .9 .7 1 .7 2.1 .7 .1 .7-.8 .7-1.5 .7-.3 .7-.1 .7-1.4 .7 1.8 .7 .5 .7-.3 .7 .8 .7 .6 .7-.1 .7 .4 .7 .9 .7 .7 .7 .6 .7 .1 .7 .4 .7 .7 .7-1.8 .7 1.1 .7-.7 .7-.6 .7 .9 .7 1.1 .7 .6 .7-1.1 .7 1.5 .7-1.4 .7-.5 .7-1.8 .7 .1 .7-1.6 .7-.4 .7 1.6 .7-1.6 .7 .7 .7 2.5 .7 .6 .7-2.4 .7 1.5 .7-.4 .7-.6 .7 1.7 .7 1.5 .7 3 .7-1.9 .7-.8 .7-1 .7 .2 .7 .8 .7-.2 .7-.9 .7-.6 .7-.5 .7-.2 .7-.8 .7 2.7 .7-3.4 .7 3.7 .7-4.2 .7 .5 .7 .4 .7 1.4 .7-2.1 .7-.2 .7 1.5 .7 .6 .7-.7 .7 .1 .7 1.2 .7 .1 .7 1.2 .7-1.4 .7 1.9 .7-.5 .7-.1 .7-1.1 .7 .8 .7-.9 .7 .9 .7-.2 .7-1.2 .7 .9 .7 4 .7-6.2 .7 .5 .7-1.6 .7 1.2 .7 .3 .7 .4 .7 0 .7 1.4 .7-.5 .7 .8 .7-.9 .7 .1 .7-.5 .7 1.7 .7-.2 .7 .1 .7 0 .7 .1 .7 .7 .7 .7 .7-.2 .7 1.1 .7-1.4 .7 1.5 .7-.2 .7-.9 .7-.6 .7-1 .7 .9 .7-1.5 .7 1 .7-.3 .7 0 .7 6.2 .7-7.2 .7 1.3 .7 .1 .7-.1 .7-.8 .7 0 .7-1.2 .7 1.2 .7-1.4 .7-.3 .7-.7 .7 2.4 .7 .1 .7 1.1 .7 .8 .7-1.2 .7 1 .7 .6 .7-1.2 .7 1.2 .7-1.3 .7 .5 .7 .2 .7 .1 .7-2.4 .7-.3 .7-2.4 .7-3.1 .7-.6 .7-2 .7-.1 .7-2.6 .7-1.5 .7-.1 .7-.9 .7 .4 .7-1.1 .7 .9 .7-1.2 .7-.6 .7 1.2 .7-1.7 .7 .3 .7 2.2 .7 .3 .7-1.3 .7 2.2 .7-2.6 .7-.4 .7-.5 .7-2.4 .7 .5 .7-.5 .7 .1 .7 .7 .7-.4 .7-.5 .7-1 .7 .8 .7 1.8 .7 .1 .7 .2 .7 0 .7 .1 .7 1 .7-.1 .7 .8 .7 .5 .7 .8 .7-1.2 .7 .1 .7 1.1 .7-1.3 .7 2.4 .7 .4 .7-1.8 .7 1.3 .7-.9 .7-.1 .7-.1 .7-.5 .7 1.5 .7 .9 .7-.5 .7 1.3 .7 .2 .7 .6 .7 .3 .7 1 .7-.4 .7 .5 .7-.1 .7 .3 .7-1.6 .7-.3 .7 1.2 .7-.6 .7 .7 .7 2.3 .7 0 .7 2.2 .7-.5 .7 .4 .7 .7 .7 .1 .7-2.4 .7-.5 .7-.8 .7 .4 .7-1.3 .7 1.7 .7-.4 .7-.8 .7 0 .7 .5 .7 1.1 .7 .4 .7-.4 .7 1.6 .7 0 .7-.4 .7 .4 .7 1.2 .7-1.7 .7 1.2 .7-.2 .7-.2 .7-1.6 .7 0 .7 0 .7 0 .7 1.7 .7 1.8 .7-.4 .7 .8 .7 1.2 .7 .3 .7 .4 .7-.6 .7-.8 .7-.4 .7 .6 .7-1.3 .7-.1 .7-.4 .7 1.3 .7-1.4 .7-.6 .7 .9 .7-1.4 .7 .5 .7-.5 .7-1.6 .7 1.8 .7-.3 .7 1 .7 6.5 .7-7.2 .7 .1 .7 1.2 .7-.5 .7 .7 .7-.1 .7 1 .7-1 .7 .4 .7 .6 .7 0 .7 .8 .7-.1 .7 .3 .7 5.1 .7-5.9 .7-.1 .7-2.1 .7 .9 .7 1.3 .7-1.6 .7-1.1 .7 2.2 .7 .8 .7-.1 .7 2.4 .7 .3 .7-.5 .7 .9 .7-.5 .7-2 .7-.5 .7 1.4 .7-2.4 .7 1.2 .7-2 .7 .2 .7 2.7 .7-.3 .7 1.4 .7 0 .7-1.1 .7 1.4 .7-1.6 .7-.6 .7-.1 .7 1.4 .7 7.1 .7-6.8 .7 1.4 .7 .5 .7-.2 .7 5.5 .7 3.5 .7-3.9 .7-4 .7 .8 .7-.2 .7-1.7 .7 .1 .7-.9 .7 1 .7 .1 .7 .1 .7-1.4 .7 .1 .7 .3 .7-1.9 .7 .3 .7-.2 .7 1 .7 .5 .7-1 .7-.2 .7-.7 .7-.2 .7 .1 .7 1.1 .7 .2 .7 5.7 .7-4.4 .7-.3 .7 .4 .7 1 .7-.2 .7-.6 .7 1.8 .7-.8 .7 .9 .7 .3 .7 .6 .7-.6 .7-1.7 .7-.2 .7 1.2 .7-.8 .7-.3 .7 .1 .7 .5 .7-.8 .7 .1 .7 .5 .7 3.7 .7-3.1 .7 .7 .7 .7 .7 1.1 .7 0 .7-.6 .7 1.6 .7-1.1 .7 2.8 .7-4.2 .7 4.1 .7-3.6 .7-.1 .7 .7 .7-.2 .7-.1" fill="none" stroke="#9467bd" stroke-width="1.4" stroke-linejoin="round"/>
<path d="M58.5 1116.4l.7 .7 .7 3.7 .7 .2 .7-3.2 .7 3.6 .7-1.4 .7-3.8 .7 4.3 .7-3.3 .7 .9 .7 2.9 .7-4.8 .7 4.9 .7-2.9 .7 1.5 .7-1.8 .7 1.7 .7-2.1 .7 2.1 .7-.8 .7 1 .7-3.7 .7 4.4 .7-3 .7 3.5 .7-2 .7 1.1 .7-1.4 .7-1.8 .7 5.1 .7-1.6 .7 1.5 .7-1.8 .7-1.5 .7-.1 .7 2.3 .7 .3 .7-.3 .7-3.4 .7 .3 .7 .7 .7-2.1 .7 1 .7 1 .7-1.3 .7 .5 .7 1.9 .7 .9 .7-2.2 .7 3.1 .7-5 .7 .2 .7-19.1 .7-22.9 .7-2.9 .7-2.7 .7 1.3 .7-.6 .7 .2 .7 2.7 .7 .9 .7 .2 .7-1.1 .7-.5 .7-1.6 .7 .6 .7-1.9 .7 .6 .7 .7 .7 1.5 .7-.5 .7 .5 .7 1.2 .7-2 .7 .4 .7 1.3 .7 0 .7 2.3 .7-1.3 .7 .6 .7-2.2 .7 1.4 .7 1.3 .7-1.4 .7 2.6 .7 1.1 .7-.3 .7-1.7 .7 .7 .7-.2 .7 .7 .7 1.8 .7-.2 .7 .7 .7 2.4 .7-1.5 .7-.2 .7-.8 .7 .1 .7-1 .7 .3 .7 .4 .7 .9 .7-.6 .7 2.4 .7-.7 .7 2.7 .7 .6 .7-.3 .7 1.3 .7 1.8 .7 1.8 .7-.9 .7-1.1 .7-.8 .7 .5 .7-2.6 .7-.8 .7 1.5 .7 .8 .7-.9 .7 1.3 .7-.8 .7 1.4 .7-.5 .7 1.9 .7 .3 .7 .9 .7 1.5 .7-.3 .7 .3 .7-.2 .7 .9 .7-.4 .7-.2 .7-1.3 .7-.1 .7 .4 .7 .5 .7-1.1 .7 .3 .7 2.3 .7-.8 .7 1 .7 1.7 .7-.6 .7-1.2 .7 .6 .7-2.1 .7 .7 .7 1.8 .7-1.2 .7 .3 .7 3.2 .7 0 .7-1.7 .7-.6 .7-.7 .7 .5 .7-1 .7 1.5 .7-1.4 .7 .7 .7 .4 .7-1.2 .7-.4 .7 .3 .7 1.2 .7 1.8 .7-.1 .7 0 .7 .8 .7 1 .7-.3 .7 2.1 .7-1 .7 .8 .7 .6 .7-2 .7-.5 .7 1 .7-1.6 .7 2 .7 .5 .7-1.1 .7 1.4 .7-.4 .7-.4 .7-.8 .7 2.1 .7 .2 .7-1.1 .7-.1 .7 .1 .7 .2 .7 .6 .7-.7 .7-.2 .7 .4 .7 1.3 .7 .3 .7-1.4 .7 1 .7-2 .7 .8 .7-.7 .7-.1 .7 .3 .7 1.2 .7-1.4 .7 1.8 .7 .9 .7-.4 .7-1.4 .7 1.6 .7 .2 .7 .9 .7-.2 .7 .1 .7 6.9 .7-5 .7-2.1 .7 3.4 .7-3.8 .7-.1 .7 1.7 .7-1.2 .7-.4 .7 1.5 .7 1 .7-.1 .7 .5 .7-1.5 .7 .9 .7-.9 .7 .5 .7-.2 .7 0 .7-1.3 .7 .3 .7 1.3 .7-.9 .7 .8 .7 1.8 .7 .2 .7 1.8 .7-.9 .7-.4 .7 .2 .7-.2 .7-.1 .7-.3 .7-2.5 .7 .1 .7-.3 .7-.3 .7 2 .7-1 .7 2.8 .7-1.7 .7-.2 .7 1.9 .7-1.5 .7 1.5 .7-.7 .7 1.6 .7-1 .7 1 .7 .2 .7 .9 .7-3.1 .7 .3 .7 1.6 .7-3.6 .7 0 .7-.7 .7 .5 .7 1.3 .7-.6 .7 2 .7 1.3 .7-.3 .7 0 .7-3 .7 0 .7 0 .7-2.9 .7 1.6 .7 .3 .7-.8 .7-18.8 .7-9 .7-2.4 .7-3 .7 0 .7-.1 .7-.8 .7-.1 .7-1.3 .7 1.4 .7-.2 .7 .5 .7 1.1 .7 1.9 .7-.4 .7-.6 .7 .9 .7-.1 .7 .5 .7-.4 .7 .9 .7 1.5 .7 2.1 .7-.4 .7 2.7 .7-.1 .7-.1 .7 1.1 .7 1.2 .7-.4 .7 .8 .7-1.1 .7 1.9 .7 1.2 .7-.6 .7 1.3 .7 .1 .7 .1 .7 .3 .7-1.3 .7 .4 .7-.3 .7 1 .7 1.5 .7 .7 .7-.7 .7 1.7 .7 1.6 .7-.5 .7 2 .7-1.5 .7 1.9 .7 .4 .7-.1 .7-1.3 .7 .3 .7 1.5 .7-1.3 .7 .7 .7 .5 .7-1.2 .7 1 .7 .5 .7 1.8 .7-.8 .7 1.5 .7 1 .7-1.9 .7 2.5 .7-1.8 .7 .6 .7-.4 .7 .7 .7-.3 .7-1.8 .7 .8 .7 1.5 .7 .2 .7 1.2 .7-1.5 .7-.4 .7-.1 .7-.4 .7-.3 .7 1.7 .7 1.2 .7-.3 .7 1.1 .7-.4 .7-.3 .7 .8 .7-1.1 .7 .9 .7-.6 .7 1.2 .7 3 .7-.4 .7 .4 .7-.7 .7 1.3 .7-1.9 .7 0 .7-.9 .7-1.6 .7-.4 .7 1.4 .7-1.8 .7 .6 .7 1.1 .7-1.6 .7 1.4 .7-.9 .7 1 .7 .9 .7 1.6 .7-.4 .7-1.9 .7-.6 .7-1.4 .7-1 .7 2.8 .7 1.5 .7-1 .7 2.9 .7 0 .7-1.8 .7 .9 .7 .5 .7-2 .7 .4 .7-.3 .7-1.3 .7 0 .7-.6 .7 .8 .7 .2 .7 .3 .7 .6 .7 1.1 .7 0 .7-.6 .7 8.4 .7-3.5 .7-1.3 .7-2.1 .7-.3 .7 0 .7-2 .7 2 .7-.6 .7 .3 .7 1.5 .7-.6 .7-.3 .7 .2 .7 1.5 .7-.1 .7 1.5 .7 .6 .7 .6 .7 2.3 .7-1.7 .7-2 .7-1.1 .7 .9 .7-.7 .7-.4 .7 2.5 .7-.7 .7-.4 .7 7.1 .7-6.9 .7 .5 .7 .8 .7-.6 .7 .3 .7 2.4 .7-.1 .7 1.7 .7-.3 .7-.1 .7-1 .7-1.2 .7 0 .7 .4 .7 .4 .7 .3 .7-.4 .7 .9 .7-.3 .7-1.6 .7-.4 .7-2.6 .7 1.2 .7-1.2 .7 1.8 .7 .4 .7-1.5 .7 .5 .7 6.1 .7-6 .7 .1 .7-.6 .7 3 .7-.5 .7 2 .7 1.2 .7 .4 .7-.5 .7-1 .7 .3 .7-.5 .7-2.5 .7 .9 .7-2 .7 3.9 .7-4.3 .7 .7 .7-2.4 .7 1.4 .7 .6 .7-1.2 .7 1.4 .7-1 .7 .6 .7 .9 .7-.7 .7 1.1 .7-.1 .7 1.2 .7 .6 .7-1.1 .7 2.2 .7 0 .7 3.4 .7-3.5 .7-1.9 .7 .5 .7 .6 .7 .5 .7-1.3 .7-.6 .7 .5 .7 .2 .7-1.2 .7 .9 .7-.9 .7 .6 .7 .3 .7 4.1 .7-3.3 .7 .2 .7-1.4 .7-.3 .7 2.2 .7-.9 .7 .3 .7 .2 .7-.2 .7-1 .7 .5 .7-.4 .7 1.1 .7 .5 .7-.4 .7 2.5 .7-2 .7 .3 .7 .2 .7-.1 .7-1.5 .7 .6 .7 1.3 .7 6 .7-6.6 .7-1.4 .7 1.7 .7 .1 .7-1.6 .7 0 .7 3 .7-3.5 .7 .4 .7 1.8 .7 .2 .7-3.3 .7 .6 .7-2.5 .7 .4 .7 2.1 .7 .7 .7 .9 .7 .7 .7 .6 .7-.5 .7-.4 .7 0 .7 2.3 .7-.7 .7 .3 .7 .6 .7-.9 .7-1.5 .7-.1 .7-2.8 .7-1.6 .7-1.6 .7-1.3 .7-2.6 .7 .2 .7-3.4 .7-.3 .7 .1 .7 .4 .7-1.4 .7 .9 .7-1 .7-1.3 .7-.8 .7-.9 .7-1.3 .7 1.8 .7-1.3 .7 1.3 .7 2.5 .7-.1 .7-.3 .7-2.8 .7-.6 .7-2.2 .7-.6 .7 1.4 .7-.2 .7-1.5 .7-.1 .7 .6 .7 .6 .7 0 .7 .9 .7 1 .7-.7 .7 .3 .7 .7 .7-.1 .7 .9 .7 2.6 .7-.4 .7-.4 .7-.3 .7 .5 .7-1.3 .7 2 .7-1 .7-1 .7 0 .7 1.7 .7 .6 .7-1 .7 .7 .7 .8 .7-.1 .7 .9 .7-1 .7 1.2 .7 .1 .7 .2 .7-.1 .7 .9 .7 .9 .7 .4 .7-1.4 .7 1.6 .7 .5 .7-1.2 .7 1.5 .7-1.5 .7 2.9 .7 .9 .7-.1 .7 1.5 .7 .8 .7-.2 .7-1.1 .7 .7 .7-.4 .7-1.6 .7-1.2 .7-.1 .7 0 .7-.3 .7 .5 .7-.3 .7-.7 .7 .3 .7 .2 .7-.4 .7 2.2 .7-.1 .7 .5 .7-.7 .7 .2 .7-.3 .7-.7 .7-.4 .7 .4 .7 1.3 .7-1.6 .7 .4 .7 2.2 .7 .6 .7 1.1 .7 1.2 .7 .6 .7 1.2 .7-.7 .7 .1 .7-.2 .7-1.1 .7 .1 .7-.6 .7 .3 .7-1.6 .7 .9 .7 3.8 .7-4.1 .7-.7 .7 .5 .7-.2 .7 .2 .7 .2 .7-.9 .7 .6 .7-.3 .7-.2 .7 .7 .7-1.1 .7-.5 .7 1.2 .7 .8 .7 .3 .7-.1 .7-.4 .7 .1 .7 .9 .7-.1 .7-.1 .7 .9 .7 1.1 .7 2.5 .7-2.3 .7-1.3 .7 0 .7-.7 .7 .1 .7 .1 .7 0 .7 5.5 .7-6.9 .7 1.7 .7-.1 .7 2.7 .7 .8 .7 0 .7-.4 .7 .3 .7-.7 .7-.6 .7-.3 .7 3.7 .7-4.2 .7-.1 .7 .6 .7-.2 .7-.6 .7 .2 .7 .5 .7-.6 .7 1.4 .7-1.2 .7-.4 .7-.7 .7 1.7 .7-.9 .7 1.2 .7 .6 .7 .4 .7 2.3 .7-.8 .7-.2 .7 1.5 .7-.9 .7 0 .7-.3 .7-.8 .7 1.6 .7-.6 .7 .7 .7 .2 .7-2.1 .7 .3 .7 .6 .7-1.4 .7 6.2 .7-7.6 .7 .8 .7 0 .7 1.2 .7-.1 .7-.5 .7-1.6 .7-1.5 .7 .9 .7-.8 .7 5 .7-3.2 .7 1.3 .7 .3 .7 1.3 .7 .3 .7 .7 .7-1.3 .7 0 .7-.7 .7 1 .7-1.9 .7 .2 .7 1.5 .7-1.1 .7 1.1 .7-.1 .7-1.1 .7 1.7 .7-.7 .7 .4 .7 0 .7-1.2 .7 1.4 .7 .7 .7-1 .7 .4 .7 2.5 .7 .3 .7 .3 .7-1 .7 1 .7-.2 .7 .1 .7-.6 .7-.3 .7-.2 .7-.6 .7 .5 .7-.9 .7 .3 .7 1.8" fill="none" stroke="#c5b0d5" stroke-width="1.4" stroke-linejoin="round"/>
<path d="M58.5 1123.2l.7-4.1 .7 3.9 .7-5.1 .7 .3 .7 3.3 .7-3.1 .7 3.7 .7-2.2 .7 3.2 .7-3.2 .7 1.4 .7-2 .7 .2 .7 1.2 .7-1.6 .7 1.8 .7-1.5 .7 1.2 .7-2.3 .7 1 .7 .1 .7 .9 .7 3.1 .7-.1 .7-3.1 .7 1.2 .7 .8 .7 .3 .7-1.4 .7-2.7 .7 2.9 .7-1.5 .7-1.6 .7 .1 .7 3.5 .7-2.9 .7 .2 .7 .7 .7-.5 .7 1.3 .7-1.9 .7-.3 .7 3.1 .7-3.6 .7 4.7 .7 .5 .7-5 .7 3 .7 1.4 .7-3.9 .7 4.5 .7-3.5 .7-18.2 .7-26.1 .7-2.9 .7-1.7 .7 1.2 .7-.6 .7 0 .7 0 .7 2.9 .7-1.2 .7 1.5 .7-3.4 .7-.2 .7 1.2 .7-1.1 .7-1.7 .7 2.6 .7 1.1 .7 .5 .7 .7 .7-1.4 .7 .5 .7 1.2 .7-.2 .7-1.7 .7 .4 .7 .3 .7-.6 .7 .5 .7 .9 .7 3.7 .7-.3 .7 2.8 .7-.6 .7-2.3 .7-1.1 .7 1.7 .7-1.7 .7 1.6 .7 1.5 .7 1 .7 2 .7 1 .7-.3 .7-1.2 .7 1.9 .7-.9 .7-2.4 .7 .6 .7-.6 .7 1.4 .7 0 .7 .7 .7 1 .7 3 .7 .3 .7-.4 .7 1.8 .7 1.5 .7-1.3 .7 2.5 .7-1.3 .7-.1 .7-2 .7-.9 .7 1.5 .7-.8 .7 1.4 .7-1.5 .7 2.9 .7-1.2 .7 1.7 .7-.2 .7 .8 .7 1.4 .7-1.3 .7 3 .7-.8 .7 2.8 .7-.1 .7-1.8 .7-.1 .7-1.7 .7-.5 .7 0 .7-.2 .7 .9 .7 .8 .7 .1 .7-.7 .7 3.3 .7 .1 .7 1 .7-1.1 .7-1 .7 1.2 .7-2.4 .7 .5 .7-1.6 .7 2.9 .7 .1 .7 2.4 .7-.5 .7 .5 .7-2 .7 .7 .7-.1 .7-2.1 .7 .9 .7 1.2 .7 .9 .7-.3 .7-1.7 .7-.3 .7 1.2 .7-.3 .7 .8 .7-.7 .7 .8 .7 0 .7 .2 .7 1.8 .7 1.3 .7 .9 .7 .3 .7-1.7 .7 0 .7-2 .7-.5 .7-.1 .7 1.7 .7-.5 .7 2.1 .7-.8 .7 2 .7 1.2 .7-1.7 .7 .1 .7-.2 .7-.8 .7-.8 .7 8.1 .7-6.2 .7 .3 .7 5.9 .7-7.5 .7 0 .7 1.1 .7 .4 .7-.4 .7-.2 .7-2.1 .7 2 .7-1.7 .7 .1 .7-.9 .7 2.1 .7-1.1 .7 2.1 .7-.5 .7 7.2 .7-5.4 .7 .3 .7 .8 .7-.3 .7-.6 .7 .9 .7-.6 .7-.2 .7 .5 .7 1.4 .7-2 .7 .5 .7-.5 .7 1.6 .7-.3 .7 .4 .7 .1 .7-1.4 .7 .7 .7 2 .7-.1 .7-.5 .7-.1 .7-1.3 .7-1.3 .7 2.4 .7-.9 .7 6.4 .7-5 .7 .8 .7 2.1 .7 3.7 .7-3 .7-.6 .7-1 .7 1.1 .7-.3 .7-.6 .7-3 .7 0 .7-1.1 .7-.9 .7 2.7 .7-.4 .7-.2 .7 .4 .7-.7 .7 .6 .7 3.1 .7-1.7 .7 0 .7 2.3 .7-1.8 .7 1 .7-1.4 .7 2.3 .7-2.8 .7 2.2 .7 0 .7-1.3 .7 1.1 .7-2.3 .7-1.3 .7 .4 .7 .8 .7-.1 .7 .5 .7 7 .7-3.9 .7-.6 .7-1 .7-2.3 .7-.9 .7-1.6 .7-.7 .7-.6 .7-1.5 .7-19.6 .7-7.5 .7-2.3 .7-3.9 .7-.3 .7 1.5 .7-.9 .7-2 .7 1.7 .7-2 .7 .2 .7 1.1 .7 .7 .7 .4 .7 1.3 .7 .6 .7-1.3 .7 1 .7 1.5 .7 .1 .7 2.2 .7-.8 .7 2.4 .7 2 .7 .5 .7-.5 .7 .2 .7 .7 .7 1.9 .7 .4 .7-.6 .7-.5 .7 .3 .7 .3 .7 2.3 .7 .3 .7 1.9 .7 .2 .7-1 .7 .8 .7-.1 .7-1.8 .7 1.5 .7 1.7 .7 0 .7 .4 .7 3.1 .7-1.2 .7 3 .7 .4 .7-.5 .7 0 .7-.1 .7-.8 .7-.5 .7 .5 .7 1.3 .7-.3 .7 .3 .7 .2 .7 1.3 .7-1.5 .7 2.7 .7 1 .7 .7 .7 2 .7-1.3 .7 1.6 .7-.1 .7-1.1 .7 .9 .7-1.4 .7-.6 .7 .3 .7 .1 .7 .9 .7 .7 .7-.5 .7 .2 .7-1 .7-1.5 .7 .6 .7-1.2 .7 1.1 .7 .1 .7 1.5 .7 0 .7-.2 .7 1.1 .7 1.3 .7 0 .7-.1 .7 2.3 .7-.7 .7-.3 .7 1.4 .7-.9 .7 1.7 .7-.3 .7 .2 .7-.1 .7-.8 .7-1.2 .7-1.3 .7-.9 .7 1.2 .7-2.2 .7 .1 .7 1.2 .7 1.3 .7 .3 .7 .2 .7-.7 .7 .7 .7 1.3 .7-.3 .7-.3 .7 3 .7-3.2 .7-.8 .7 .8 .7 0 .7-.6 .7 2.7 .7-2 .7-.1 .7 .3 .7-2 .7 2.2 .7 2.7 .7-4 .7 .8 .7 1.2 .7-.4 .7-.4 .7-.3 .7-.5 .7 2 .7-1.4 .7 1.4 .7 .5 .7 1 .7 1.1 .7-1.8 .7 .2 .7-1.9 .7 .8 .7-.5 .7 1.5 .7 .3 .7 .8 .7-.1 .7-1.2 .7-.5 .7-.3 .7 .9 .7 2.2 .7 2.6 .7-1.6 .7 2.7 .7-.9 .7-.5 .7-2.9 .7 1 .7 2.2 .7-4.4 .7 .1 .7-1.2 .7 .7 .7 .7 .7 1.1 .7-.1 .7 1.1 .7 2.1 .7-.9 .7-.2 .7 .4 .7 1.1 .7 1.1 .7-.6 .7 .3 .7-.3 .7 .8 .7 .3 .7-.6 .7-.7 .7 1.4 .7-1.9 .7 .9 .7-.8 .7-1.9 .7 7 .7-8.6 .7 .8 .7 0 .7 .3 .7 .9 .7 1.1 .7 .8 .7 2.8 .7-3.4 .7-1.2 .7 2.1 .7-.1 .7-.7 .7 .4 .7 .6 .7-.8 .7 1.1 .7-.5 .7 2.1 .7 .5 .7-2.9 .7-.8 .7-.7 .7 .4 .7-1.1 .7-.8 .7-.2 .7 .6 .7 2.1 .7 .2 .7 .2 .7-2.1 .7 1.7 .7-2.8 .7 1.8 .7-.4 .7-.3 .7-.8 .7 .4 .7 2.8 .7-.2 .7-.5 .7 .1 .7-.9 .7 0 .7 1.1 .7 0 .7 2.1 .7-1.6 .7 .6 .7-1.4 .7-.7 .7-.2 .7-1.7 .7-1 .7 6.4 .7-6.1 .7 1.7 .7 .7 .7 6.2 .7-3.9 .7 1 .7-2.8 .7-1 .7 .8 .7 .5 .7-1.6 .7 7.3 .7-4.3 .7-1.4 .7-.9 .7 .9 .7 1.9 .7-.5 .7 .2 .7 2.8 .7-2.5 .7 1.6 .7-1.2 .7 0 .7-1.6 .7 1.6 .7-1.7 .7 .7 .7 .7 .7 3.4 .7-4.2 .7-1.5 .7 .1 .7 .3 .7-.5 .7 .9 .7 .8 .7-.1 .7-2.6 .7-.5 .7 .4 .7-1 .7 1.4 .7 1.6 .7-.9 .7 1.6 .7-.3 .7-2.8 .7 2 .7-2.4 .7 2.6 .7 .3 .7 .8 .7-1.1 .7-.7 .7 .9 .7-3.4 .7-1.7 .7-2.2 .7-2.2 .7-2 .7 .9 .7-1.7 .7-2.3 .7 1.1 .7-.9 .7-1.5 .7-.4 .7 1 .7-1.3 .7 0 .7 1.1 .7-.8 .7 .9 .7-2.6 .7 .9 .7-.8 .7 2.3 .7-.9 .7-2.1 .7-2 .7 .8 .7-.6 .7 .7 .7 2.6 .7-1.3 .7 1.1 .7-.6 .7 .6 .7-2.3 .7 0 .7 .1 .7 2.3 .7 .4 .7-1.8 .7 1.6 .7 1.2 .7 1.6 .7 1 .7-.4 .7-1.9 .7 2.2 .7-2 .7 1.3 .7 .6 .7-1.1 .7-.3 .7-.5 .7 2.5 .7-2.3 .7 1.3 .7 .6 .7 1.4 .7-.8 .7 1.6 .7 1 .7-1.1 .7-.5 .7-1.4 .7 1.8 .7 1.6 .7 .7 .7 1.4 .7-.3 .7 1 .7-.8 .7-2.3 .7-1.8 .7 3 .7-.2 .7 2.8 .7 1.7 .7 1.3 .7-1.1 .7-.3 .7 1.2 .7-.2 .7-.9 .7-1.4 .7-2.2 .7 0 .7-.6 .7 .2 .7 2.5 .7-2 .7 2.2 .7 .2 .7-.6 .7-1.9 .7 .7 .7 2.2 .7-.1 .7 1.9 .7-.6 .7-.2 .7 .4 .7-.6 .7-.5 .7 1 .7-.8 .7-.6 .7 2.4 .7-.3 .7 .6 .7 3.1 .7-1.6 .7-.9 .7 2.5 .7-.7 .7 1.3 .7-.5 .7-.8 .7 .4 .7-2.6 .7-.2 .7 1 .7-.7 .7 .6 .7-1.4 .7 1.7 .7-.9 .7 2.9 .7-4.9 .7 1.7 .7-1.5 .7 .8 .7 2 .7-.5 .7-1.7 .7 .7 .7 .2 .7-.5 .7 .9 .7-.3 .7 .4 .7-.5 .7 0 .7 2.1 .7 .4 .7-.8 .7 2.3 .7-2.1 .7 2 .7-.7 .7-2.4 .7-.9 .7 1.3 .7-.4 .7 1.1 .7-2.1 .7 .6 .7 2 .7 1.9 .7 1.5 .7 1.6 .7-.4 .7 .5 .7-.9 .7-1 .7 3.3 .7-6.5 .7-1.7 .7 .5 .7-.4 .7 .4 .7 4.9 .7-2.5 .7 .9 .7 .6 .7-3.1 .7 .7 .7-2.1 .7 .2 .7 .5 .7 3 .7 5.5 .7-6.1 .7 .9 .7 0 .7 .3 .7 2.1 .7 1 .7-.4 .7 .2 .7 5.7 .7-5.7 .7 .9 .7 0 .7 4.3 .7-5.6 .7 4.3 .7-4.3 .7-1.2 .7-.2 .7 7.3 .7-8.3 .7-.7 .7-.8 .7 2.4 .7-.9 .7 .7 .7-.7 .7-.1 .7-2 .7 .3 .7 .5 .7 3.4 .7-.2 .7-.7 .7-.5 .7 .1 .7-.1 .7-.1 .7-1.1 .7 2.7 .7 .6 .7-.3 .7 1.2 .7 7.8 .7-8.6 .7-2.2 .7 .7 .7-1.2 .7 .4 .7-1.5 .7 5.4 .7-5 .7-.8 .7 2.2 .7 1 .7-1.1 .7 .7 .7 .7 .7 2.9 .7-.2 .7 .6 .7 .8 .7 .1 .7-1.6 .7-1.1 .7 .8 .7 1.2 .7 6.4 .7-7.5 .7 .5 .7 .2 .7-.6" fill="none" stroke="#8c564b" stroke-width="1.4" stroke-linejoin="round"/>
<path d="M58.5 1122.5l.7-.6 .7 .8 .7-2.8 .7 2.4 .7 .2 .7-3.7 .7 .4 .7 2.2 .7 1.2 .7 .9 .7-3.7 .7 4.6 .7-4.4 .7 4.5 .7-4.5 .7 2.6 .7 1.4 .7-4.1 .7 1.1 .7 3.2 .7-.9 .7 .1 .7-4.2 .7 5 .7-2.8 .7-1.5 .7 3.8 .7-2.2 .7 2.1 .7 .1 .7-4.8 .7 1.3 .7 2.4 .7-3.2 .7 .3 .7 2.7 .7 1.4 .7-4.1 .7-.1 .7 3.8 .7-2.3 .7-.1 .7 1 .7 2.6 .7-2 .7-1.5 .7 .2 .7 2.9 .7-1.3 .7-.7 .7-2 .7 3.3 .7-23 .7-22.4 .7-4.8 .7-2.2 .7 .4 .7 1.8 .7-1.3 .7 2.1 .7-.3 .7 .5 .7 .9 .7-.8 .7 1.4 .7-1.7 .7 1.3 .7 1 .7-.1 .7 1.3 .7 2.3 .7 .6 .7 0 .7-2.4 .7 .3 .7 .7 .7-.1 .7-.5 .7-.4 .7 1 .7 1.6 .7-.7 .7 .5 .7 2.4 .7-1.7 .7 1 .7-.7 .7 0 .7 2.1 .7-1.4 .7 1.3 .7 .4 .7 1 .7-.8 .7 1.6 .7 1.9 .7 .7 .7-1.1 .7-.7 .7 .1 .7 1.4 .7-.2 .7 1.4 .7-1.4 .7 1 .7 .5 .7 1 .7 1.3 .7 1.1 .7 .6 .7-.6 .7 1.7 .7-1 .7 .6 .7-1 .7 .7 .7-1 .7 1 .7 1 .7-1.8 .7 1.8 .7 .8 .7-.2 .7 .4 .7-.6 .7 2.2 .7-1.2 .7 1.6 .7-1.9 .7 2.9 .7 .8 .7 1.3 .7-1.4 .7-.4 .7-.2 .7 .8 .7-.6 .7 1.4 .7-2.3 .7 .7 .7 0 .7-.1 .7 .8 .7 2.4 .7-.5 .7-1.6 .7 .1 .7-1.4 .7-1.7 .7 1.6 .7-.3 .7 1.7 .7 2.1 .7 .2 .7-1.2 .7-1.2 .7 .7 .7 1.2 .7-1.5 .7 3.2 .7-.7 .7-.7 .7-1.6 .7-1.4 .7 .2 .7 2.8 .7-2.6 .7 .5 .7 2.1 .7 .4 .7 .7 .7 .2 .7 .5 .7 3 .7-1.8 .7 1.2 .7 1.8 .7-1.7 .7-1.6 .7 1.1 .7-2.7 .7 .6 .7 0 .7 1.2 .7 .1 .7 .7 .7 .8 .7 1 .7 .1 .7-1.5 .7 .1 .7 1.8 .7-1 .7-1.1 .7 1.8 .7-1.5 .7-.2 .7 1.6 .7-1.5 .7 2 .7-1.6 .7-1.4 .7 1.2 .7-1.2 .7 1.2 .7-1.5 .7-.1 .7-.2 .7 .4 .7 2 .7 .1 .7 3.5 .7 1.9 .7-3.4 .7 .4 .7 .9 .7 .4 .7 2 .7-2.5 .7-.6 .7-.9 .7 1.4 .7 0 .7 .3 .7 0 .7-.2 .7-1.8 .7 1.8 .7 .5 .7 1.9 .7 .4 .7-1.7 .7-.8 .7 1.1 .7 .5 .7-2.1 .7 1.8 .7-.4 .7-1.8 .7 2 .7 .4 .7-1.5 .7 1.5 .7 3.6 .7-3.1 .7 1.1 .7 .3 .7 .5 .7 .4 .7-.5 .7 .2 .7 2.7 .7-5.4 .7-.4 .7-1.4 .7 .1 .7 .7 .7 1.6 .7 0 .7-.9 .7 6 .7-5.9 .7 .5 .7-1 .7 2.1 .7 1.5 .7 1 .7-1.3 .7 .2 .7-.5 .7-.3 .7 1.5 .7-1 .7-2 .7 1.5 .7-2.7 .7 .5 .7-1.4 .7 2.4 .7-.2 .7 .8 .7-.8 .7-1.2 .7-2.2 .7-1.8 .7-.3 .7-2.9 .7 1.6 .7-.7 .7-.8 .7-17.2 .7-9.4 .7-4.1 .7 .3 .7-2.8 .7 .7 .7-.2 .7-1.9 .7 .1 .7 .6 .7 .8 .7 .2 .7-1.2 .7 2.9 .7-1 .7-.4 .7 1.2 .7-1.3 .7 1.7 .7 .9 .7 2.4 .7 .1 .7 2.9 .7 1.3 .7-1.3 .7 2.4 .7 .9 .7-.4 .7 .4 .7 2.3 .7-2.1 .7-.5 .7 2.2 .7-1 .7 .7 .7 2.5 .7 .8 .7 3.5 .7-1 .7-1.7 .7 .7 .7-.4 .7 1.6 .7-.5 .7 2.5 .7-1.2 .7 2.5 .7-.1 .7 1.1 .7-.4 .7 1.1 .7 1 .7 .5 .7 .2 .7 .3 .7 0 .7-1.3 .7 0 .7-1.1 .7 .3 .7 .5 .7 1.1 .7 1.9 .7-.8 .7 2.6 .7 .5 .7 1 .7 .5 .7 1.4 .7 0 .7 .1 .7-1.4 .7-2 .7 2 .7-.2 .7 .8 .7-2.1 .7 1.9 .7 0 .7-1.1 .7-2.4 .7-.5 .7 .1 .7 .8 .7 1.5 .7 2 .7-.3 .7 2 .7 .8 .7-1.9 .7 .2 .7 .5 .7-.3 .7-.8 .7 .7 .7 .7 .7 .4 .7 .7 .7 .4 .7 2.1 .7-.7 .7 0 .7-1.1 .7-.8 .7-.4 .7-1.1 .7-2 .7 1.6 .7 2.1 .7 .4 .7-1.2 .7 .5 .7-1.6 .7 2.5 .7-1.3 .7 1.6 .7-1.9 .7-.6 .7 1 .7 1.9 .7-3.8 .7 8.5 .7-7 .7 2 .7 1.2 .7 .7 .7-.4 .7-1.5 .7-1.7 .7 2 .7-4.4 .7 2.7 .7-.8 .7 1.3 .7-.9 .7-.7 .7 .2 .7-1.3 .7 2.8 .7-.8 .7 1.1 .7 1.1 .7 2.6 .7 .3 .7-2.8 .7 1.4 .7-2.5 .7-1.5 .7 1 .7 .6 .7 2.2 .7-.6 .7-.7 .7 1.4 .7-.6 .7 0 .7 2.7 .7-1.1 .7 2.1 .7 .9 .7 4.5 .7-4.3 .7 3.7 .7-8.1 .7-.7 .7-.2 .7 1.6 .7-.4 .7 .6 .7 1.3 .7-.3 .7-.6 .7 5.2 .7-4.8 .7-1.3 .7 2 .7 1.9 .7 2.3 .7 2.6 .7-4.8 .7 .7 .7-.4 .7-.9 .7 2.4 .7-.6 .7-.4 .7-1.7 .7 .5 .7-1.5 .7 .1 .7 .4 .7-2.3 .7 1.3 .7-1.2 .7 2.6 .7-1.9 .7 1.5 .7-1.6 .7-.5 .7 2.7 .7-.4 .7 6.2 .7-4.7 .7 .5 .7 4.6 .7-5.6 .7 3.1 .7-.9 .7 1.5 .7-.7 .7-1.4 .7 .4 .7-2.1 .7 1.3 .7-1.2 .7-.7 .7 5.7 .7-6.9 .7-2.3 .7 1.1 .7-1 .7 1.2 .7-1 .7 .7 .7 1 .7-1.2 .7 .8 .7 .3 .7-1.7 .7 .3 .7 2.2 .7-1.5 .7 4.3 .7-4.4 .7 2.6 .7-.9 .7-.4 .7 .9 .7-.4 .7 0 .7-.3 .7 1.9 .7-1.9 .7 1.6 .7-2.7 .7 2.9 .7-2 .7 0 .7-1.5 .7 1.1 .7 2 .7 1.3 .7 .3 .7 .3 .7-1.7 .7-.1 .7-.2 .7-1.2 .7-.4 .7 .5 .7 .3 .7-.1 .7 .9 .7 1.4 .7-1.4 .7 1.5 .7 .8 .7-2.6 .7-.7 .7 .1 .7 .6 .7-2.6 .7 .6 .7-2 .7 1.9 .7 .7 .7-1.1 .7 1.7 .7-1.6 .7 1.3 .7-.8 .7-.4 .7 1.6 .7-.3 .7-1.1 .7-.5 .7-.8 .7-2.4 .7-2.8 .7 3.4 .7-.8 .7 1.4 .7 3.7 .7-1 .7 2.2 .7-2.9 .7-1.4 .7 .7 .7-1.4 .7 2.4 .7-.5 .7 1.7 .7 .3 .7-1.6 .7-2.6 .7-4.3 .7-.5 .7-1.3 .7-.3 .7-1.2 .7-1.4 .7-1.4 .7 1 .7-1.1 .7 1 .7-.9 .7-1.4 .7-1.2 .7-.2 .7 .6 .7-.1 .7 .9 .7 .2 .7-.5 .7 .3 .7 .1 .7-1.4 .7 0 .7-2.5 .7-.2 .7 0 .7 .9 .7-1.4 .7 1.1 .7 .8 .7 .7 .7-.2 .7 1.5 .7-1.3 .7-.8 .7 1 .7 .4 .7 1.6 .7-.9 .7 1.7 .7-1.2 .7 2.5 .7 .3 .7-.3 .7 1 .7-2.6 .7 1.9 .7-1.6 .7 .2 .7 .9 .7 1.3 .7-.7 .7 1.4 .7-1.6 .7 .5 .7 .5 .7-.3 .7-.5 .7 .1 .7 2.8 .7-1.3 .7 3.1 .7-1.5 .7 1.8 .7 .6 .7-.5 .7 1.2 .7 .7 .7-1.5 .7 .5 .7-1.5 .7 1.4 .7-.6 .7 1.6 .7-.1 .7 .6 .7 1 .7 1.3 .7-2.8 .7 .6 .7 1.9 .7 .7 .7-.8 .7-2 .7-.6 .7-1.5 .7 2.8 .7-.7 .7 2.4 .7-1.2 .7 1.1 .7 .7 .7-1.3 .7 .6 .7 1.1 .7 .5 .7-.5 .7-1.1 .7-.3 .7 .7 .7-2.4 .7-.5 .7 1.4 .7-.1 .7 2.1 .7 2.2 .7 1.7 .7 1 .7-.8 .7 .1 .7 1.1 .7-1.2 .7 1.5 .7-2 .7 1.7 .7-1 .7-.7 .7 .1 .7-1 .7-1.3 .7-1.3 .7 1.3 .7 .3 .7-.6 .7-1.3 .7-.7 .7 3.1 .7-2.3 .7-.6 .7 .7 .7-1.1 .7 3 .7-.4 .7 1.3 .7 .1 .7 .9 .7 .3 .7 .2 .7-2.5 .7 0 .7 2.7 .7 .5 .7 1.1 .7 .1 .7-.3 .7 .9 .7-1.1 .7-2.6 .7-2.2 .7 1.2 .7 .1 .7 2 .7-2.9 .7 .6 .7 1.6 .7 1.3 .7 2.3 .7 2 .7 .3 .7-3.2 .7 .2 .7 .7 .7 .7 .7-.9 .7-1.3 .7-1.4 .7 3.3 .7-2.6 .7 .6 .7 1.3 .7-.2 .7-.4 .7 7.6 .7-7.7 .7-1.4 .7 .9 .7-1.7 .7 .4 .7 1.3 .7 2.2 .7 4.2 .7-2.3 .7-1.1 .7 .6 .7 1.1 .7-.6 .7-1.8 .7 2.6 .7-2.5 .7 2.1 .7-1.5 .7-.7 .7 1.1 .7-.5 .7-.5 .7 1.9 .7-2.4 .7 .7 .7-1.9 .7-.3 .7 .8 .7 .8 .7 3.4 .7-2.9 .7-1.5 .7-.8 .7-.6 .7-.4 .7 2.7 .7 .5 .7 .3 .7-.7 .7 2.2 .7-2.1 .7-.6 .7 .1 .7-1.2 .7 .5 .7-.5 .7 2.9 .7-1 .7 .5 .7 .1 .7 .4 .7-1.3 .7 .7 .7 .4 .7-1.5 .7-.5 .7-1.8 .7 1.8 .7 1 .7 .9 .7 6.4 .7-4.3 .7 .9 .7-2.5 .7 7.5 .7-5.1 .7 .3 .7-1.1 .7-.1 .7 2.6 .7 .1 .7 2.4 .7-3.6 .7 1 .7 2.9 .7-1.1 .7-3.7" fill="none" stroke="#c49c94" stroke-width="1.4" stroke-linejoin="round"/>
<path d="M58.5 1112.9l.7 .4 .7 .6 .7-.5 .7 .3 .7-.9 .7 .2 .7-1.7 .7 .1 .7-.6 .7 .2 .7-.8 .7 .5 .7 1.3 .7 0 .7 .5 .7 .3 .7 1 .7 .6 .7-.4 .7 .2 .7-.9 .7-1.3 .7 .1 .7-.6 .7 .1 .7-.5 .7-.1 .7-.5 .7 .8 .7 .9 .7 .4 .7 .6 .7-.1 .7 .8 .7-.5 .7-.3 .7 .5 .7-.9 .7-.9 .7-.2 .7-1 .7 .4 .7 .3 .7-.1 .7 .4 .7 .3 .7 1 .7-.1 .7 .2 .7 .4 .7-.1 .7 .1 .7-11.1 .7-15.8 .7-5.4 .7-3.2 .7-.2 .7 .2 .7 2.2 .7 .6 .7 2 .7-.3 .7 .2 .7 .4 .7-.8 .7 .2 .7-.5 .7 .5 .7 .3 .7 1.4 .7 .2 .7 2.2 .7 .2 .7-.1 .7-.8 .7 0 .7 .1 .7-.6 .7 1.3 .7 .1 .7-.4 .7 .6 .7 1.4 .7 1.7 .7 .1 .7 .8 .7-.8 .7-.8 .7 .4 .7 .4 .7 1.6 .7 .7 .7 .8 .7 .8 .7 1.8 .7-.6 .7-1.1 .7-.1 .7-.4 .7 .2 .7 .2 .7 1.2 .7-.7 .7 1.5 .7-.4 .7 1.7 .7-.1 .7 1 .7 .1 .7 .8 .7 1.7 .7 .6 .7 .8 .7-1 .7-.4 .7-.4 .7-1 .7-.6 .7-.3 .7 .2 .7 .9 .7 .2 .7 .1 .7 .9 .7 0 .7 1.7 .7 .6 .7 .3 .7 1.9 .7 .2 .7 .2 .7 .2 .7-.9 .7-.6 .7-1.2 .7 .5 .7-.7 .7-.3 .7-.3 .7 .2 .7 .6 .7 1.2 .7 1.6 .7 .1 .7 1.8 .7-2.4 .7-.1 .7-1.5 .7-1.4 .7-.7 .7 .8 .7 1.2 .7 1.1 .7 .7 .7 .7 .7-.3 .7-1.1 .7-.5 .7-1.5 .7 .2 .7-.4 .7 1.4 .7 0 .7-.6 .7 0 .7 .8 .7 .3 .7-.9 .7 .2 .7 1 .7 0 .7-.5 .7 .8 .7 1.4 .7 .3 .7 1.3 .7 .6 .7-1.5 .7-.2 .7-2.1 .7 .2 .7 .7 .7-.1 .7 1.9 .7 .1 .7 .2 .7 .9 .7 .6 .7-.4 .7-.4 .7 .1 .7-.5 .7-.4 .7-1.7 .7 .4 .7-.1 .7 .8 .7 1 .7 0 .7-1 .7 .3 .7-.7 .7-.5 .7 .2 .7-.5 .7-1.1 .7 .8 .7 .3 .7-.8 .7 .9 .7-.2 .7 1.3 .7-.5 .7 1 .7 .6 .7 1.3 .7 .2 .7 .4 .7 .3 .7 .4 .7-1 .7-.8 .7 .1 .7-.3 .7 .2 .7 .3 .7-.2 .7-.3 .7 .7 .7 .3 .7 1.6 .7 .5 .7-.6 .7-.2 .7-1 .7-.3 .7 .9 .7 .5 .7-.9 .7 .3 .7-1.2 .7 .7 .7 .7 .7 .7 .7 .5 .7 .2 .7 1.2 .7 .1 .7-.4 .7 .6 .7-.8 .7-2 .7-.2 .7-1.3 .7-.5 .7 1.1 .7-.3 .7 1 .7 .8 .7 .1 .7 1 .7-1.3 .7 .4 .7-.4 .7 .4 .7-.2 .7 .5 .7 1.4 .7 .2 .7 0 .7-1.8 .7-.2 .7-1 .7-.5 .7 .3 .7-1.2 .7-.5 .7-.7 .7 1.7 .7 .6 .7 2.2 .7 .7 .7-.7 .7-1.7 .7-.9 .7-.9 .7-1.6 .7 1.3 .7 .2 .7-.7 .7-16.9 .7-8.3 .7-2.7 .7-1.9 .7-2.8 .7 .7 .7 .3 .7-.6 .7-.6 .7-.6 .7 .7 .7 1.1 .7 .9 .7 1 .7 1.3 .7-.2 .7 .2 .7 0 .7 .2 .7 .8 .7 1 .7 1.8 .7 .4 .7 .6 .7 1.1 .7 1.5 .7-.2 .7 .8 .7 .5 .7 .3 .7 .9 .7 0 .7-.1 .7 1 .7 .8 .7 .8 .7 .4 .7 2 .7-.4 .7-1 .7-.3 .7-.2 .7 1.4 .7 0 .7 1.3 .7 1.2 .7 .9 .7 .3 .7 1.1 .7 .7 .7 1 .7 .1 .7 .1 .7 .5 .7 .4 .7 .1 .7-1.3 .7 .8 .7-1 .7 .6 .7-.1 .7 1.4 .7 .7 .7 .4 .7 1 .7 .8 .7 1 .7-.2 .7 1.5 .7 .1 .7-.3 .7-1.3 .7 1 .7-.3 .7-.6 .7 .7 .7-.1 .7 .1 .7 .3 .7-.1 .7-1 .7-.4 .7-1.3 .7-.6 .7 1.7 .7 .5 .7 .9 .7 .3 .7 .1 .7 1.5 .7 .3 .7-.2 .7 .3 .7 .3 .7 0 .7 1 .7 .9 .7-.4 .7 0 .7-.5 .7-.2 .7 .2 .7-.8 .7-.5 .7-.5 .7-.3 .7-1.3 .7 .8 .7 .3 .7-.5 .7 .8 .7-.4 .7 .5 .7 1.4 .7 .1 .7-1 .7-.8 .7-1.1 .7-.1 .7-1.3 .7 .2 .7 1.2 .7 .4 .7 1 .7 .6 .7-1.6 .7-.5 .7 1.1 .7-.5 .7-.3 .7 .1 .7 .1 .7-1.1 .7 1 .7 0 .7-1 .7 1.1 .7-.8 .7 .4 .7 1.1 .7 1.3 .7 .1 .7 1.2 .7-.2 .7-.7 .7-.2 .7-1.1 .7 .6 .7-.3 .7-1.1 .7-.1 .7 1.5 .7 .6 .7 .6 .7-.4 .7 .6 .7-.6 .7 1.9 .7 .3 .7 0 .7 .7 .7-1.4 .7-1 .7 .2 .7-1.2 .7-.8 .7 .2 .7 1.5 .7 .1 .7 .9 .7 .1 .7-.1 .7 .9 .7 .3 .7-1.2 .7 .9 .7 .5 .7 .5 .7-.4 .7-.1 .7 1 .7-.3 .7 0 .7-.5 .7 .4 .7-.1 .7 .3 .7-.5 .7 .7 .7-1.7 .7-.3 .7 .5 .7-1.7 .7 .7 .7-.2 .7-.1 .7-.7 .7 .4 .7-.3 .7-.6 .7 1.7 .7-.4 .7 .1 .7 1.6 .7 .6 .7 .8 .7-.3 .7 .2 .7-.6 .7 0 .7 1.1 .7-.1 .7-2 .7-.2 .7-2.6 .7-.3 .7-.6 .7 0 .7 0 .7 1.4 .7-.3 .7 .6 .7-.3 .7-.1 .7 .3 .7-.7 .7-.6 .7 1 .7 .1 .7-.1 .7 .6 .7 .1 .7 .5 .7 .9 .7 .3 .7-.7 .7 1.3 .7-.2 .7 .2 .7 0 .7-.9 .7-.2 .7-1.3 .7-.3 .7-.6 .7-.3 .7-.4 .7-.6 .7 .5 .7-.3 .7 1.3 .7 1.2 .7-.1 .7 0 .7 .3 .7 0 .7-.7 .7 1 .7 .5 .7-.5 .7 .6 .7 .7 .7-.4 .7 0 .7 1.5 .7 .6 .7-.4 .7-.3 .7-.3 .7-.8 .7-.8 .7-1 .7 .7 .7-.3 .7 0 .7-.8 .7 1.2 .7 .1 .7-.4 .7 .2 .7-.5 .7-.3 .7 .6 .7 1.3 .7-1.4 .7-.5 .7-.4 .7-.8 .7-1.9 .7 .6 .7 1.6 .7 1 .7 .9 .7 .6 .7 0 .7 .6 .7 .4 .7 .3 .7-.9 .7 .3 .7 .4 .7-.2 .7-.7 .7-.8 .7-2.6 .7-.9 .7-1.2 .7-.6 .7-.9 .7-.3 .7-.4 .7 .1 .7-.6 .7-.3 .7-.2 .7 .4 .7 .3 .7-1.5 .7-1 .7-.3 .7 .7 .7 .4 .7 .3 .7-.4 .7 .9 .7 .5 .7-1 .7-1 .7-1.7 .7-.2 .7-1 .7 .6 .7 .1 .7-.2 .7 .6 .7 .3 .7 .4 .7 .1 .7 0 .7 .9 .7-.2 .7 .9 .7 .2 .7-.6 .7 .8 .7-.1 .7 .8 .7 .2 .7 1.4 .7-1.4 .7 .2 .7-.1 .7-.5 .7-1.1 .7 1 .7-.4 .7 .2 .7-.2 .7 1.2 .7 .7 .7 .1 .7 .6 .7-.3 .7-.4 .7 .6 .7-.4 .7 .2 .7 1.1 .7 0 .7 1 .7 .3 .7-.5 .7 .4 .7-.6 .7 .1 .7-.2 .7 .4 .7 1.3 .7 1.7 .7 1.8 .7 .7 .7 .4 .7-.1 .7-.1 .7-.5 .7-.6 .7-.5 .7-1 .7-.9 .7-.9 .7 .6 .7 .4 .7-.3 .7-.8 .7 1 .7 .3 .7 .1 .7 .2 .7 1 .7-1.2 .7-.1 .7 .4 .7-.1 .7 .7 .7-1 .7 .6 .7-.8 .7-.4 .7 .7 .7 1.2 .7 1.1 .7 1.1 .7 1.9 .7 .3 .7 1.1 .7-.2 .7-.4 .7-.2 .7-.3 .7-.4 .7-.6 .7-.9 .7 .2 .7-.6 .7 0 .7-.7 .7 .3 .7 .7 .7-1.5 .7 0 .7-.2 .7-.9 .7 .1 .7-.2 .7 .8 .7 .3 .7-.3 .7 .7 .7 .8 .7 .5 .7-1.2 .7 .6 .7-.8 .7 .5 .7-.2 .7 1.3 .7 1 .7 .2 .7 2.3 .7-.9 .7-1.7 .7-.3 .7-1.3 .7-.5 .7-.9 .7 0 .7-.2 .7-.3 .7 1.7 .7 .8 .7 .9 .7 1.8 .7 .3 .7-.4 .7-.1 .7-1 .7-1.1 .7-.5 .7-.6 .7 .8 .7-.6 .7-1.3 .7 1.9 .7 .7 .7 .5 .7 .2 .7 .1 .7-.7 .7-1.3 .7-1.3 .7-.2 .7 .9 .7 0 .7 1.6 .7 .8 .7 1.5 .7 .2 .7-.1 .7 .1 .7 1.1 .7-.7 .7 .5 .7 .5 .7-.5 .7 .4 .7-.8 .7 .3 .7 .3 .7-1.3 .7 .9 .7-.7 .7-1.1 .7-.7 .7-.6 .7-.2 .7-1 .7 1.1 .7-1 .7 .1 .7 .8 .7-.6 .7-.9 .7 .8 .7-.1 .7 1.3 .7 1.1 .7 1 .7 .5 .7 .4 .7-1.4 .7 .1 .7-.6 .7-.7 .7 .9 .7 0 .7 .5 .7 1 .7 .5 .7-1.2 .7-1.5 .7 .1 .7-1.7 .7 .6 .7 .3 .7-1.1 .7 0 .7 1.6 .7 .3 .7 1.5 .7 .3 .7 .7 .7-.4 .7 .5 .7 .7 .7 1.9 .7-.8 .7-.1 .7-1.5 .7-.1 .7 .3 .7 .6 .7-.3 .7-.7 .7-.1 .7-.1" fill="none" stroke="#e377c2" stroke-width="1.4" stroke-linejoin="round"/>
<line x1="437.00" y1="1112.00" x2="437.00" y2="1190.00" stroke="#9467bd" stroke-width="1.1"/>
<line x1="441.50" y1="1112.00" x2="441.50" y2="1190.00" stroke="#c5b0d5" stroke-width="1.1"/>
<line x1="445.00" y1="1112.00" x2="445.00" y2="1190.00" stroke="#9467bd" stroke-width="1.1"/>
<line x1="470.40" y1="1112.00" x2="470.40" y2="1190.00" stroke="#8c564b" stroke-width="1.1"/>
<line x1="590.50" y1="1112.00" x2="590.50" y2="1190.00" stroke="#c5b0d5" stroke-width="1.1"/>
<line x1="631.00" y1="1112.00" x2="631.00" y2="1190.00" stroke="#9467bd" stroke-width="1.1"/>
<line x1="634.00" y1="1112.00" x2="634.00" y2="1190.00" stroke="#c5b0d5" stroke-width="1.1"/>
<line x1="638.00" y1="1112.00" x2="638.00" y2="1190.00" stroke="#9467bd" stroke-width="1.1"/>
<line x1="643.00" y1="1112.00" x2="643.00" y2="1190.00" stroke="#8c564b" stroke-width="1.1"/>
<line x1="646.00" y1="1112.00" x2="646.00" y2="1190.00" stroke="#c5b0d5" stroke-width="1.1"/>
</g>
<rect x="200.9" y="1137.3" width="444.6" height="46.3" rx="2" fill="#fff" stroke="#262626" stroke-width="0.9"/>
<line x1="203.90" y1="1145.10" x2="220.70" y2="1145.10" stroke="#ff7f0e" stroke-width="1.6"/>
<text x="228.90" y="1145.50" font-size="10.2" text-anchor="start" fill="#1a1a1a" dominant-baseline="central">13.6 - 15.1 MeV</text>
<line x1="203.90" y1="1159.50" x2="220.70" y2="1159.50" stroke="#ffbb78" stroke-width="1.6"/>
<text x="228.90" y="1159.90" font-size="10.2" text-anchor="start" fill="#1a1a1a" dominant-baseline="central">15.0 - 17.1 MeV</text>
<line x1="203.90" y1="1173.90" x2="220.70" y2="1173.90" stroke="#2ca02c" stroke-width="1.6"/>
<text x="228.90" y="1174.30" font-size="10.2" text-anchor="start" fill="#1a1a1a" dominant-baseline="central">17.0 - 19.3 MeV</text>
<line x1="320.50" y1="1145.10" x2="337.30" y2="1145.10" stroke="#98df8a" stroke-width="1.6"/>
<text x="345.70" y="1145.50" font-size="10.2" text-anchor="start" fill="#1a1a1a" dominant-baseline="central">20.8 - 23.8 MeV</text>
<line x1="320.50" y1="1159.50" x2="337.30" y2="1159.50" stroke="#d62728" stroke-width="1.6"/>
<text x="345.70" y="1159.90" font-size="10.2" text-anchor="start" fill="#1a1a1a" dominant-baseline="central">23.8 - 26.4 MeV</text>
<line x1="320.50" y1="1173.90" x2="337.30" y2="1173.90" stroke="#ff9896" stroke-width="1.6"/>
<text x="345.70" y="1174.30" font-size="10.2" text-anchor="start" fill="#1a1a1a" dominant-baseline="central">26.3 - 29.7 MeV</text>
<line x1="437.60" y1="1145.10" x2="454.40" y2="1145.10" stroke="#9467bd" stroke-width="1.6"/>
<text x="462.50" y="1145.50" font-size="10.2" text-anchor="start" fill="#1a1a1a" dominant-baseline="central">29.6 - 33.4 MeV</text>
<line x1="437.60" y1="1159.50" x2="454.40" y2="1159.50" stroke="#c5b0d5" stroke-width="1.6"/>
<text x="462.50" y="1159.90" font-size="10.2" text-anchor="start" fill="#1a1a1a" dominant-baseline="central">33.4 - 35.8 MeV</text>
<line x1="437.60" y1="1173.90" x2="454.40" y2="1173.90" stroke="#8c564b" stroke-width="1.6"/>
<text x="462.50" y="1174.30" font-size="10.2" text-anchor="start" fill="#1a1a1a" dominant-baseline="central">35.6 - 40.5 MeV</text>
<line x1="554.60" y1="1145.10" x2="571.40" y2="1145.10" stroke="#c49c94" stroke-width="1.6"/>
<text x="579.70" y="1145.50" font-size="10.2" text-anchor="start" fill="#1a1a1a" dominant-baseline="central">40 - 60 MeV</text>
<line x1="554.60" y1="1159.50" x2="571.40" y2="1159.50" stroke="#e377c2" stroke-width="1.6"/>
<text x="579.70" y="1159.90" font-size="10.2" text-anchor="start" fill="#1a1a1a" dominant-baseline="central">60 - 100 MeV</text>
<line x1="95.49" y1="1189.30" x2="95.49" y2="1186.80" stroke="#474747" stroke-width="1.3"/>
<line x1="132.47" y1="1189.30" x2="132.47" y2="1186.80" stroke="#474747" stroke-width="1.3"/>
<line x1="169.46" y1="1189.30" x2="169.46" y2="1186.80" stroke="#474747" stroke-width="1.3"/>
<line x1="206.45" y1="1189.30" x2="206.45" y2="1186.80" stroke="#474747" stroke-width="1.3"/>
<line x1="243.44" y1="1189.30" x2="243.44" y2="1186.80" stroke="#474747" stroke-width="1.3"/>
<line x1="280.42" y1="1189.30" x2="280.42" y2="1186.80" stroke="#474747" stroke-width="1.3"/>
<line x1="317.41" y1="1189.30" x2="317.41" y2="1186.80" stroke="#474747" stroke-width="1.3"/>
<line x1="354.40" y1="1189.30" x2="354.40" y2="1186.80" stroke="#474747" stroke-width="1.3"/>
<line x1="391.39" y1="1189.30" x2="391.39" y2="1186.80" stroke="#474747" stroke-width="1.3"/>
<line x1="428.38" y1="1189.30" x2="428.38" y2="1186.80" stroke="#474747" stroke-width="1.3"/>
<line x1="465.36" y1="1189.30" x2="465.36" y2="1186.80" stroke="#474747" stroke-width="1.3"/>
<line x1="502.35" y1="1189.30" x2="502.35" y2="1186.80" stroke="#474747" stroke-width="1.3"/>
<line x1="539.34" y1="1189.30" x2="539.34" y2="1186.80" stroke="#474747" stroke-width="1.3"/>
<line x1="576.32" y1="1189.30" x2="576.32" y2="1186.80" stroke="#474747" stroke-width="1.3"/>
<line x1="613.31" y1="1189.30" x2="613.31" y2="1186.80" stroke="#474747" stroke-width="1.3"/>
<line x1="58.50" y1="1032.00" x2="61.00" y2="1032.00" stroke="#474747" stroke-width="1.3"/>
<line x1="58.50" y1="1063.46" x2="61.00" y2="1063.46" stroke="#474747" stroke-width="1.3"/>
<line x1="58.50" y1="1094.92" x2="61.00" y2="1094.92" stroke="#474747" stroke-width="1.3"/>
<line x1="58.50" y1="1126.38" x2="61.00" y2="1126.38" stroke="#474747" stroke-width="1.3"/>
<line x1="58.50" y1="1157.84" x2="61.00" y2="1157.84" stroke="#474747" stroke-width="1.3"/>
<line x1="58.50" y1="1189.30" x2="61.00" y2="1189.30" stroke="#474747" stroke-width="1.3"/>
<rect x="58.50" y="1032.00" width="591.80" height="157.30" fill="none" stroke="#474747" stroke-width="1.3"/>
<text x="50.80" y="1034.00" font-size="11" text-anchor="end" fill="#262626" dominant-baseline="central">10</text>
<text x="51.70" y="1029.20" font-size="7.9" text-anchor="start" fill="#262626" dominant-baseline="central">2</text>
<text x="50.80" y="1065.46" font-size="11" text-anchor="end" fill="#262626" dominant-baseline="central">10</text>
<text x="51.70" y="1060.66" font-size="7.9" text-anchor="start" fill="#262626" dominant-baseline="central">0</text>
<text x="45.90" y="1096.92" font-size="11" text-anchor="end" fill="#262626" dominant-baseline="central">10</text>
<text x="46.80" y="1092.12" font-size="7.9" text-anchor="start" fill="#262626" dominant-baseline="central">−2</text>
<text x="45.90" y="1128.38" font-size="11" text-anchor="end" fill="#262626" dominant-baseline="central">10</text>
<text x="46.80" y="1123.58" font-size="7.9" text-anchor="start" fill="#262626" dominant-baseline="central">−4</text>
<text x="45.90" y="1159.84" font-size="11" text-anchor="end" fill="#262626" dominant-baseline="central">10</text>
<text x="46.80" y="1155.04" font-size="7.9" text-anchor="start" fill="#262626" dominant-baseline="central">−6</text>
<text x="45.90" y="1191.30" font-size="11" text-anchor="end" fill="#262626" dominant-baseline="central">10</text>
<text x="46.80" y="1186.50" font-size="7.9" text-anchor="start" fill="#262626" dominant-baseline="central">−8</text>
<text x="58.20" y="1210.30" font-size="11" text-anchor="middle" fill="#262626" dominant-baseline="central" transform="rotate(-30 58.20 1210.30)">03-28 00:00</text>
<text x="95.19" y="1210.30" font-size="11" text-anchor="middle" fill="#262626" dominant-baseline="central" transform="rotate(-30 95.19 1210.30)">03-28 12:00</text>
<text x="132.17" y="1210.30" font-size="11" text-anchor="middle" fill="#262626" dominant-baseline="central" transform="rotate(-30 132.17 1210.30)">03-29 00:00</text>
<text x="169.16" y="1210.30" font-size="11" text-anchor="middle" fill="#262626" dominant-baseline="central" transform="rotate(-30 169.16 1210.30)">03-29 12:00</text>
<text x="206.15" y="1210.30" font-size="11" text-anchor="middle" fill="#262626" dominant-baseline="central" transform="rotate(-30 206.15 1210.30)">03-30 00:00</text>
<text x="243.14" y="1210.30" font-size="11" text-anchor="middle" fill="#262626" dominant-baseline="central" transform="rotate(-30 243.14 1210.30)">03-30 12:00</text>
<text x="280.12" y="1210.30" font-size="11" text-anchor="middle" fill="#262626" dominant-baseline="central" transform="rotate(-30 280.12 1210.30)">03-31 00:00</text>
<text x="317.11" y="1210.30" font-size="11" text-anchor="middle" fill="#262626" dominant-baseline="central" transform="rotate(-30 317.11 1210.30)">03-31 12:00</text>
<text x="354.10" y="1210.30" font-size="11" text-anchor="middle" fill="#262626" dominant-baseline="central" transform="rotate(-30 354.10 1210.30)">04-01 00:00</text>
<text x="391.09" y="1210.30" font-size="11" text-anchor="middle" fill="#262626" dominant-baseline="central" transform="rotate(-30 391.09 1210.30)">04-01 12:00</text>
<text x="428.07" y="1210.30" font-size="11" text-anchor="middle" fill="#262626" dominant-baseline="central" transform="rotate(-30 428.07 1210.30)">04-02 00:00</text>
<text x="465.06" y="1210.30" font-size="11" text-anchor="middle" fill="#262626" dominant-baseline="central" transform="rotate(-30 465.06 1210.30)">04-02 12:00</text>
<text x="502.05" y="1210.30" font-size="11" text-anchor="middle" fill="#262626" dominant-baseline="central" transform="rotate(-30 502.05 1210.30)">04-03 00:00</text>
<text x="539.04" y="1210.30" font-size="11" text-anchor="middle" fill="#262626" dominant-baseline="central" transform="rotate(-30 539.04 1210.30)">04-03 12:00</text>
<text x="576.02" y="1210.30" font-size="11" text-anchor="middle" fill="#262626" dominant-baseline="central" transform="rotate(-30 576.02 1210.30)">04-04 00:00</text>
<text x="613.01" y="1210.30" font-size="11" text-anchor="middle" fill="#262626" dominant-baseline="central" transform="rotate(-30 613.01 1210.30)">04-04 12:00</text>
<text x="650.00" y="1210.30" font-size="11" text-anchor="middle" fill="#262626" dominant-baseline="central" transform="rotate(-30 650.00 1210.30)">04-05 00:00</text>
<text x="24.50" y="1110.50" font-size="11.8" text-anchor="middle" fill="#262626" dominant-baseline="central" textLength="160.6" lengthAdjust="spacing" transform="rotate(-90 24.50 1110.50)">Proton flux [#/cm<tspan font-size="8" dy="-4.5">2</tspan><tspan dy="4.5">/str/s/MeV]</tspan></text>
<text x="65.00" y="1046.70" font-size="14.8" text-anchor="start" fill="#111" dominant-baseline="central">(f)</text>
<text x="602.40" y="1051.30" font-size="12.3" text-anchor="middle" fill="#111" dominant-baseline="central" font-weight="bold" textLength="54" lengthAdjust="spacingAndGlyphs">STEREO-A</text>
</svg>
</body></html>
